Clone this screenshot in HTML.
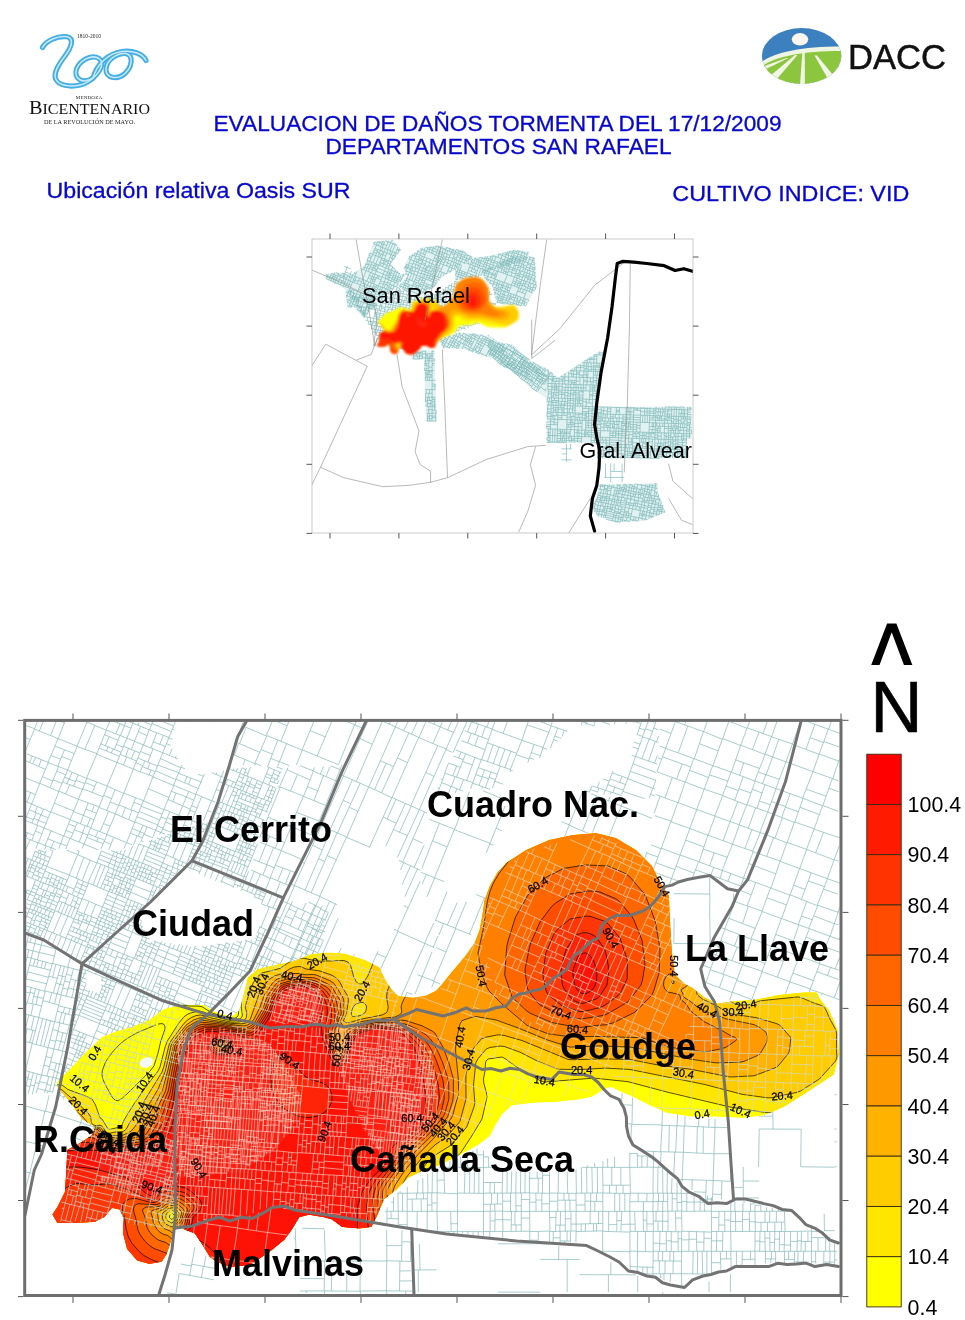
<!DOCTYPE html>
<html lang="es"><head><meta charset="utf-8"><title>Evaluacion de daños tormenta del 17/12/2009</title>
<style>
html,body{margin:0;padding:0;background:#fff;}
body{width:965px;height:1320px;overflow:hidden;font-family:"Liberation Sans",sans-serif;}
svg{display:block;position:absolute;left:0;top:0;}
text{font-family:"Liberation Sans",sans-serif;}
.b{font-weight:bold;}
.sf{font-family:"Liberation Serif",serif;}
</style></head><body>
<svg width="965" height="1320" viewBox="0 0 965 1320">
<g id="logo-bicentenario">
<g fill="none" stroke="#45aee2" stroke-linecap="round" stroke-linejoin="round" stroke-width="5.2">
<path d="M42.5 47.5C46 40.5 58 35.5 67 36.8C75 38.5 71 48 65 56C59 64 53.5 72 55.5 78.5C58 85.5 70 87.5 80 85C86 83.5 90 81 93 78"/>
<path d="M93 78C100 72 105 63 99 58.5C92 54 80 60 76.5 69C73.5 78 82 85 93 78Z"/>
<path d="M93 78C97 64 108 53.5 122 51.5C133 50 143 54 146 60.5"/>
<path d="M126 53.5C117 52.5 106.5 60 106 69C105.5 78 117 80.5 125 73.5C132 67 134 55.5 126 53.5Z"/>
</g>
<g fill="none" stroke="#c9eafa" stroke-linecap="round" stroke-linejoin="round" stroke-width="1.5">
<path d="M42.5 47.5C46 40.5 58 35.5 67 36.8C75 38.5 71 48 65 56C59 64 53.5 72 55.5 78.5C58 85.5 70 87.5 80 85C86 83.5 90 81 93 78"/>
<path d="M93 78C100 72 105 63 99 58.5C92 54 80 60 76.5 69C73.5 78 82 85 93 78Z"/>
<path d="M93 78C97 64 108 53.5 122 51.5C133 50 143 54 146 60.5"/>
<path d="M126 53.5C117 52.5 106.5 60 106 69C105.5 78 117 80.5 125 73.5C132 67 134 55.5 126 53.5Z"/>
</g>
<text x="89" y="37.5" class="sf" font-size="5.5" text-anchor="middle" fill="#222">1810-2010</text>
<text x="89" y="98.5" class="sf" font-size="5" text-anchor="middle" fill="#222" letter-spacing="0.2">MENDOZA</text>
<text x="29" y="113.5" class="sf" fill="#111" font-size="18.5" textLength="121" lengthAdjust="spacingAndGlyphs">B<tspan font-size="14.6">ICENTENARIO</tspan></text>
<text x="89.5" y="124" class="sf" font-size="5.6" text-anchor="middle" fill="#222" textLength="91" lengthAdjust="spacingAndGlyphs">DE LA REVOLUCIÓN DE MAYO.</text>
</g>
<g id="logo-dacc">
<clipPath id="cDacc"><ellipse cx="801.6" cy="56" rx="39.7" ry="28"/></clipPath>
<g clip-path="url(#cDacc)">
<rect x="760" y="26" width="84" height="60" fill="#3c80c0"/>
<path d="M760 63C775 52 800 46.5 844 46.5L844 90L760 90Z" fill="#eef5e2"/>
<path d="M760 67.5C775 56.5 800 51 844 51L844 90L760 90Z" fill="#8cc63f"/>
<ellipse cx="800" cy="39.3" rx="8.2" ry="6.2" fill="#fdf6f0"/>
<g fill="#f1f7e6"><path d="M802.3 53L804.8 53L804.8 88L799.8 88Z"/><path d="M795 55L797.5 55L776 80L770 76Z"/><path d="M814.5 55.5L817 55.5L833 75L828 79Z"/><path d="M786.5 58L788.5 58L767 68.5L764.5 66Z"/></g>
</g>
<text x="848" y="68.5" font-size="34.5" fill="#111" stroke="#111" stroke-width="0.5" textLength="98" lengthAdjust="spacingAndGlyphs">DACC</text>
</g>
<g fill="#0808cc" font-size="21.2" stroke="#0808cc" stroke-width="0.3">
<text x="213.5" y="130.5" textLength="568" lengthAdjust="spacingAndGlyphs">EVALUACION DE DAÑOS TORMENTA DEL 17/12/2009</text>
<text x="325.5" y="154.2" textLength="346" lengthAdjust="spacingAndGlyphs">DEPARTAMENTOS SAN RAFAEL</text>
<text x="46.5" y="197.5" textLength="304" lengthAdjust="spacingAndGlyphs">Ubicación relativa Oasis SUR</text>
<text x="672.3" y="201.2" textLength="237" lengthAdjust="spacingAndGlyphs">CULTIVO INDICE: VID</text>
</g>
<g id="smallmap">
<clipPath id="cSmall"><rect x="312" y="239" width="381" height="294"/></clipPath>
<filter id="fBlur" x="-5%" y="-5%" width="110%" height="110%"><feGaussianBlur stdDeviation="5"/></filter>
<g clip-path="url(#cSmall)">
<path d="M374.2 241.2L392.9 240.2L401.2 249.5L390.8 264L401.2 274.4L407.4 272.3L397 286.8L378.4 303.4L363.9 317.9L354.6 307.5L347.3 307.5L345.2 288.9L326.6 279.6L324.5 274.4L334.9 272.3L351.5 274.4L363.9 266.1Z" fill="#e2f1f1"/>
<path d="M409.5 255.7L421.9 247.4L438.5 245.4L463.4 250.5L473.7 257.8L455.1 270.2L442.6 276.5L434.4 286.8L417.8 297.2L397 286.8L407.4 276.5L403.3 268.2Z" fill="#e2f1f1"/>
<path d="M473.7 257.8L490.3 255.7L515.2 249.5L529.7 251.6L527.6 259.9L515.2 264L492.4 270.2L479.9 276.5L455.1 280.6L455.1 270.2Z" fill="#e2f1f1"/>
<path d="M482 270.2L515.2 255.7L534.9 256.8L536.9 286.8L525.5 306.5L496.5 303.4L492.4 286.8L484.1 278.5Z" fill="#e2f1f1"/>
<path d="M438.5 338.6L459.2 332.4L482 334.5L510 346.9L538 367.6L554.6 380.1L548.3 386.3L517.3 375.9L496.5 359.4L482 355.2L463.4 349L442.6 348Z" fill="#e2f1f1"/>
<path d="M411.6 351.1L434.4 350L436.8 421.5L426.1 421.5L424 359.4L411.6 359.4Z" fill="#e2f1f1"/>
<path d="M487.6 334.1L500 342.4L512.4 344.5L531.1 361.1L546.6 368.3L546.6 398.4L531.1 388L512.4 371.5L500 365.2L487.6 352.8Z" fill="#e2f1f1"/>
<path d="M546.6 368.3L558 377.7L599.5 350.7L603.6 352.8L597.4 406.7L691.7 406.7L691.7 437.8L686.5 439.8L686.5 458.5L597.4 458.5L597.4 443L546.6 443Z" fill="#e2f1f1"/>
<path d="M599.5 484.4L657.5 483.4L658.5 493.7L665.8 512.4L645.1 520.7L616.1 522.7L597.4 516.5L591.2 506.2L597.4 495.8Z" fill="#e2f1f1"/>
<path d="M328.3 274.3l-1.9 4.6M325.9 274.4l2 0.8M326.2 276.5l1 0.4M327.6 275.9l2.4 1M326.9 279.2l1.9 0.7M334.7 272.5l-0.8 1.9M336.1 272.6l2.4 1M331.4 273.4l6.2 2.4M331.4 273.4l-2.5 6.5M330.6 275.4l6.2 2.4M335.6 275.1l-0.8 1.9M333.7 274.3l-0.8 2M330 277l6.2 2.4M333 276.3l-0.6 1.6M334.3 276.8l-0.7 1.6M332 277.8l-1.2 2.9M334.3 278.7l-1.2 2.9M328.8 279.9l6.2 2.5M338.7 273l-1.1 2.9M342 273.2l5.8 2.3M343.9 274l-1.5 3.8M338.2 274.4l4.8 1.9M341.3 274.3l-0.5 1.1M340.4 275.2l-0.6 1.6M343 276.3l3.8 1.6M345.2 274.5l-1 2.3M344.2 276.8l-0.6 1.5M337.6 275.9l8.6 3.5M337.6 275.9l-2.6 6.5M340.5 277.1l-2.7 6.5M336.6 278.4l2.9 1.2M336 279.8l2.9 1.2M339.5 279.7l5.7 2.2M344.1 278.5l-1 2.6M341.9 280.6l-1.6 4M341.4 281.9l3.3 1.3M335 282.4l8.6 3.5M335 282.4l-0.4 1.1M353.7 273l2.2 0.9M355 272.1l-0.5 1.2M353 274.1l-0.5 1.2M350.6 274.6l4.3 1.7M348.1 274.6l-1.9 4.8M352.5 275.3l-2.3 5.7M347.6 276l4 1.6M350.4 274.5l-0.9 2.2M349.8 276.8l-1.4 3.4M351.6 277.5l2.4 1M346.2 279.4l6.4 2.6M346.2 279.4l-2.7 6.5M344.8 282.8l6.5 2.6M350.6 281.1l-1.4 3.5M348.4 280.2l-1.4 3.5M346.8 283.6l-1.3 3.1M349.1 284.5l-1.2 3.1M343.6 285.9l6.4 2.6M343.6 285.9l-0.5 1M346.1 292.1l2.1 0.8M346 295.4l1 0.4M374.3 242.1l-0.8 1.9M374.3 242.2l2.8 1.1M373.5 243.9l2.9 1.2M369.8 253.2l2.8 1.2M368.3 257l2.8 1.1M368.9 255.4l2.8 1.2M369.7 253.2l-0.9 2.2M368.5 257.1l-1.3 3.3M366.9 260.3l2.9 1.1M365.5 263.8l2.9 1.1M368.1 260.7l-1.4 3.5M366 264l-2.3 5.7M363.2 267.1l1.3 0.5M364.7 267.3l2.3 0.9M361.3 268.7l4.8 1.9M356.9 271.4l-2 4.9M354.9 276.3l7.6 3.1M354.9 276.3l-2.2 5.7M359.5 278.1l-2.3 5.7M356.5 276.9l-2.3 5.7M353.5 279.8l1.6 0.6M355.2 280.2l3 1.2M358.6 280.4l3 1.2M352.6 282l7.7 3M352.6 281.9l-2.5 6.6M350 288.5l7.6 3M350 288.5l-3 7.3M352.3 289.4l-3 7.3M348.3 292.7l2.3 1M349.4 290.1l2.3 0.9M351.3 291.9l5.3 2.2M354 290.1l-1 2.5M354.4 293.2l-1.9 4.8M350.2 294.5l3.2 1.3M353.1 296.4l2.2 0.9M347 295.8l7.6 3.1M347.1 295.8l-0.8 1.9M346.7 299.4l6.7 2.7M350.6 297.2l-1.3 3.2M351.9 297.8l-1.3 3.1M351 301.1l-2.2 5.4M346.9 302.2l3.1 1.2M348.3 300l-0.9 2.3M349.5 304.9l2.3 0.9M350.4 302.5l2.4 1M347.4 305.9l3.8 1.5M385.2 240.6l3 1.3M378 241.2l-1.6 3.9M383 240.9l-2.4 5.9M377.8 241.5l4.3 1.7M380.8 241.4l-0.4 1.1M379.7 242.3l-1.4 3.6M384.7 241.6l-2.4 5.9M381.7 244.1l1.7 0.7M382.7 241.5l1.8 0.7M383.6 244.3l3.1 1.2M376.4 245.1l9 3.6M376.4 245.1l-3.7 9.3M375.1 248.4l9 3.6M381.1 247l-1.3 3.3M382.9 247.7l-1.3 3.3M378 249.5l-2.4 6.1M373.5 252.1l3 1.2M374.5 249.9l2.9 1.2M380.3 250.5l-2.4 6M377 252l2.3 0.9M379 253.6l3.8 1.6M382.8 251.5l-1.3 3.2M380.8 254.4l-1.1 2.8M372.6 254.4l9 3.6M372.6 254.4l-2.8 7M375.6 255.6l-2.8 7.1M378.6 256.8l-2.8 7M369.8 261.4l9 3.7M369.8 261.4l-3.7 9.2M367.2 267.7l9 3.7M375 263.5l-2.6 6.3M372 262.3l-2.5 6.4M368.6 264.5l2.2 0.8M370.2 266.7l3 1.2M371.1 264.5l3 1.2M373.2 267.9l3.8 1.5M376.4 264.1l-1.7 4.3M374.2 265.5l1.4 0.6M375.8 265.6l2.4 0.9M375.9 268.9l-0.8 2M372.5 269.9l-1.1 2.9M369.3 268.6l-1.2 2.9M366.1 270.6l9 3.7M366.1 270.6l-3.5 8.8M370.5 272.4l-3.6 8.7M368.4 277.8l4.5 1.8M369.3 275.5l4.5 1.8M373.3 273.5l-1.3 3.1M372.1 276.7l-0.9 2.2M371.5 279l-1.4 3.4M362.5 279.3l9 3.8M362.5 279.4l-2.2 5.6M366.3 280.9l-2.4 5.6M361.2 282.6l3.7 1.5M364.8 284.3l5.3 2.2M368.8 281.9l-1.4 3.5M367.3 285.3l-0.9 2.2M360.3 285l8.9 3.7M360.2 285l-2.5 6.6M359.4 287.2l9 3.6M358.5 289.4l9 3.7M357.6 291.6l9 3.5M357.6 291.5l-2.9 7.4M360.8 292.8l-3 7.4M356.7 293.9l3.1 1.2M355.7 296.4l3.1 1.3M364.4 294.3l-3 7.3M359.3 296.6l3.6 1.4M360.1 294.6l3.6 1.4M362.5 298.8l2.3 0.9M363.2 297.1l2.3 1M354.7 298.9l8.9 3.7M354.7 298.9l-3.6 8.6M352.6 303.9l9 3.6M356.9 299.8l-2 5M359.1 300.7l-2 5M361.4 301.6l-2 5.1M358.8 306.4l-1.5 3.6M355 304.9l-1 2.3M356.7 305.6l-0.9 2.4M357.2 309.9l3 1.1M388.6 240.9l-0.4 0.9M392.2 240.5l1 0.5M391.8 240.3l-1.1 2.6M393.9 242.7l-0.5 1.2M388.2 241.8l7 2.9M388.2 241.8l-2.8 6.9M390.5 242.8l-2.7 6.9M392.9 243.7l-2.9 6.9M385.4 248.7l7 2.9M385.4 248.7l-3.7 9.3M388.1 249.8l-3.7 9.3M383 254.6l2.7 1.2M384.1 251.9l2.7 1.1M386.8 253.1l4.3 1.8M390.7 250.9l-1.3 3.3M381.6 258l7.1 2.8M381.6 258l-2.8 7.1M379.9 262.3l7 2.9M384.8 259.3l-1.7 4.3M381 259.6l3.2 1.3M384.2 260.7l3.9 1.6M386.9 260.1l-0.5 1.5M385.7 261.3l-1.2 2.9M383.7 263.9l-1.1 2.7M381.4 262.9l-1.1 2.8M378.8 265l7 3M378.8 265.1l-3.7 9.2M377.6 268.1l6.9 3M376.3 271.2l7 2.9M375.1 274.3l7 2.8M375 274.3l-3.4 8.7M374 277l7 2.8M379.2 275.9l-1.1 2.7M377.8 275.4l-1.1 2.7M376.2 277.9l-2.5 6M372.4 280.9l2.2 0.9M373.1 279l2.3 0.9M371.5 283l7.1 2.8M371.6 283l-2.4 5.6M374.2 284.1l-2.2 5.7M370.2 286.2l2.7 1.1M373.5 286l4.3 1.7M372.7 287.9l4.3 1.7M376.6 285l-0.8 1.9M375.4 286.8l-0.8 1.8M375.7 289.1l-0.7 1.9M369.2 288.7l7.1 2.8M369.3 288.7l-2.7 6.5M372.8 290.1l-2.6 6.6M367.7 292.5l3.6 1.4M368.4 290.7l3.6 1.4M371.3 293.9l3.5 1.4M372.2 291.7l3.4 1.4M366.6 295.2l7 2.8M366.6 295.2l-3 7.3M365.7 297.4l7 2.9M369.2 296.2l-0.9 2.3M372.3 297.5l-0.9 2.2M364.6 300.1l7.1 2.9M369.9 299.2l-1 2.6M367.9 298.4l-1.1 2.6M367.6 301.3l-1 2.4M370.2 302.4l-1 2.4M363.6 302.5l7.1 2.9M363.7 302.5l-3.6 8.6M367.6 304.1l-3.5 8.6M365.5 309.4l3 1.3M366.7 306.4l3.1 1.3M360.2 311.1l7 2.8M360.2 311.1l-0.4 1M363.1 312.3l-1.2 3.1M362.4 314.2l3 1.2M365 313.1l-0.8 1.8M365.2 315.3l-0.9 2.2M395.6 243.7l-0.4 1M395.2 244.7l2 0.8M395.2 244.7l-2.8 6.9M398 247l-2.4 5.9M399.6 248.7l-2 5M397 249.4l2 0.8M398.8 250.6l1 0.4M399.3 249.4l1.5 0.6M392.4 251.6l5.1 2.1M392.4 251.6l-3.8 9.2M389.9 257.7l4.1 1.7M391.2 254.6l4.8 1.8M396.2 253.1l-1.2 3M394.7 252.5l-1.2 3M395 256.1l-1.3 3.2M392.9 255.3l-1.2 3.1M392.8 258.9l-1.3 3.1M388.7 260.8l3 1.3M388.7 260.8l-2.9 7.1M392.6 267.1l-1.2 3M391.1 261.8l-2.9 7.1M387.7 263.2l2.4 1M386.8 265.6l2.4 0.9M389.7 265.3l3.1 1.3M392.3 267.6l2.5 1M385.8 267.9l9.2 3.7M385.8 267.9l-3.7 9.2M390.9 270l-3.7 9.2M388.8 269.1l-3.6 9.2M383.2 274.3l3.1 1.2M384.5 271.2l3 1.2M387.1 273.4l2.1 0.9M387.8 271.8l2 0.8M386.3 275.3l2.1 0.8M392.3 270.5l-3.7 9.2M389 274.7l1.4 0.6M389.6 273.3l1.4 0.6M388 277.2l1.4 0.6M391.4 272.8l2.6 1.1M390.5 275.1l2.6 1.1M389.5 277.4l2.7 1.1M382.1 277.1l9.1 3.7M382.1 277.1l-3.6 8.7M385.7 278.6l-3.5 8.7M380.6 280.8l3.6 1.4M379.7 283l3.6 1.4M383.6 283.7l5.6 2.3M388.7 279.8l-2.1 5.1M384.4 281.9l2.9 1.2M387.6 282.5l2.6 1M385.4 284.4l-1.4 3.6M387.7 285.4l-1.5 3.5M378.6 285.9l9.2 3.6M378.6 285.8l-2.3 5.7M382.7 287.5l-2.3 5.7M377.4 288.7l4.1 1.7M380.9 286.8l-1.1 2.9M380 289.7l-1.2 2.8M385.8 288.8l-2.2 5.7M381.6 290.2l3.2 1.2M384.6 291.8l1.9 0.8M376.3 291.5l9.1 3.7M376.3 291.5l-2.7 6.5M380.6 293.3l-2.6 6.5M375.4 293.7l4.3 1.7M374.5 295.9l4.4 1.7M379.6 295.9l4.8 1.9M382.7 294.1l-1.1 2.6M382.5 297.1l-1.6 3.9M379 297.2l2.9 1.2M373.7 298l7.1 2.9M373.7 298l-3 7.4M370.7 305.3l4 1.7M370.7 305.4l-3.5 8.5M373.6 306.6l-0.8 1.9M368.3 311.3l1 0.4M369.5 308.3l2 0.8M367.2 313.9l-0.4 1.1M395.8 269.6l-0.9 2M397.6 271.4l-0.4 1.1M395 271.6l5.1 2.1M402.2 274.5l1.1 0.4M395 271.6l-3.8 9.2M393.5 275.2l8.3 3.4M399.5 273.4l-1.4 3.7M397.1 272.5l-1.5 3.6M400.9 275.4l-1 2.4M398 277.1l-2.2 5.5M392 279l4.5 1.8M395.8 276.1l-1.6 3.8M392.7 277.1l2.3 1M395 278.1l2.2 0.9M394 279.9l-0.7 1.7M397.3 278.9l3.7 1.5M396.5 280.8l2.8 1.1M399.3 279.7l-0.7 1.9M391.2 280.8l7.3 2.9M391.3 280.8l-3.6 8.7M389.9 284.3l6.2 2.4M394.8 282.3l-1.4 3.4M397.9 283.5l-1.4 3.4M394.2 286l-1.7 4.2M388.6 287.4l4.3 1.8M391.7 285l-1.3 3.2M390.5 288.2l-0.8 2.1M387.7 289.5l4.2 1.7M387.7 289.5l-2.2 5.7M390 290.5l-1.5 3.8M387 291.4l2.3 0.9M386.4 292.9l2.3 0.9M385.4 295.2l1.1 0.4M385.5 295.2l-1.2 2.8M403.7 273.9l-0.4 1M406.4 272.7l-0.9 2M403.3 274.9l0.9 0.4M403.2 274.9l-2.8 7.2M414.8 253.1l2.1 0.9M410 255.8l-1.2 3M411.7 254.8l4.1 1.7M415 253.2l-1 2.5M412.6 255.2l-1.8 4.4M409.6 256.8l2 0.8M408.9 258.9l5.1 2.1M410.5 259.5l-2.3 5.6M409.2 262.7l3.5 1.5M405.6 264.1l6.2 2.5M404.8 266l6.2 2.6M407.1 264.7l-0.8 1.9M408.8 265.4l-0.8 1.9M404.3 267.2l6.2 2.5M407.5 267.1l-0.5 1.2M405.7 266.4l-0.5 1.2M405.1 267.6l-0.5 1.3M407.2 268.4l-1.1 2.6M405.3 270.7l4.2 1.6M406.3 271.1l-0.5 1M406.3 274.1l2.1 0.8M405.9 278.2l1 0.4M403.9 280l2.1 0.9M402.7 282.2l2.4 1M401.2 283.7l3.1 1.3M399.2 285.8l4.1 1.6M401 283.6l-1 2.5M400.9 286.4l-0.5 1.1M425.7 247.1l2.1 0.9M422.5 248.3l-0.4 1.1M424.9 248l-0.9 2.2M420.2 248.7l6.3 2.5M418.4 250.2l-1.5 3.8M421.9 249.4l-2.3 5.7M417.9 251.4l2.7 1.1M420.5 252.9l4.6 1.9M424.7 250.5l-1.5 3.5M416.9 253.9l7.3 3.1M416.9 254l-2.9 7M415.1 258.4l7.3 2.9M420.4 255.4l-1.8 4.4M416.1 255.9l3.5 1.4M419.1 258.4l3.9 1.6M422.3 256.2l-1.2 3M421.3 259.3l-0.6 1.3M419 260l-1 2.5M417.3 259.3l-1 2.6M414 261l7.4 2.9M414 261l-2.2 5.6M413.1 263.4l7.3 2.9M416.7 262l-1 2.4M419.4 263.1l-0.9 2.4M416 264.6l-1.2 3.2M418.7 265.6l-1.3 3.2M411.8 266.6l7.4 2.8M411.8 266.6l-2.3 5.8M416 268.2l-2.4 5.9M410.4 269.9l4.2 1.7M413.2 267.1l-1.4 3.4M412 270.6l-1 2.4M414.9 270.9l3.2 1.3M409.4 272.4l7.4 3M409.4 272.4l-2.5 6.2M411.9 273.4l-2.5 6.2M414.3 274.4l-2.5 6.1M406.9 278.6l7.4 3M406.9 278.6l-2.6 6.4M405.1 283.1l7.4 2.9M409.5 279.6l-1.9 4.5M406.2 280.5l2.5 1M409.2 284.7l-0.8 1.9M406.5 283.6l-0.8 1.9M404.3 285l7.4 3M404.3 285l-1.5 3.7M408.3 286.6l-2 4.7M406.2 285.8l-1.8 4.7M402.5 289.4l1.9 0.8M403.3 287.4l1.9 0.8M405.3 287.9l2.1 0.9M404.5 290.1l2 0.9M407.4 288.8l3.4 1.4M406.5 291l3.4 1.4M435.7 245.8l3.1 1.3M428.1 247.3l-1.6 3.9M434.1 246.3l-2.9 6.8M430.7 247.2l-2 4.9M428.1 247.3l2.1 0.9M429.7 246.5l1 0.5M427.5 248.8l2.1 0.9M430.7 247.1l2.6 1.1M429.8 249.4l2.6 1M432.4 250.4l4.3 1.8M433.3 248.3l4.3 1.7M436.3 246l-1.2 3M433.7 251l-1.1 2.7M426.5 251.2l9.1 3.7M426.5 251.2l-2.2 5.7M424.2 256.9l9.1 3.7M424.2 256.9l-2.8 7M423 260l9 3.7M427.1 258.1l-1.3 3.1M430.6 259.5l-1.2 3.1M426.5 261.4l-1.6 3.9M422 262.5l3.5 1.4M429.7 262.8l-1.5 3.9M428.6 265.5l2.3 0.9M421.4 263.9l9 3.7M421.4 263.9l-2.3 5.6M424.6 265.2l-2.3 5.6M420.2 267l3.1 1.3M426.5 266l-2.2 5.6M423.4 268.2l1.9 0.8M428 266.6l-2.4 5.6M425.8 267.9l1.4 0.5M425 269.7l1.4 0.6M426.5 270.1l2.5 1M419.1 269.5l9.1 3.6M419.1 269.5l-2.3 5.9M422.2 270.8l-2.3 5.8M417.9 272.5l3.1 1.2M421.3 273.1l5.9 2.4M425.5 272.1l-1 2.3M425.1 274.7l-1.4 3.4M423.6 274.1l-1.4 3.4M416.8 275.3l9 3.8M416.8 275.4l-2.5 6.1M423.1 277.9l-2.6 6.2M420.7 276.9l-2.5 6.2M416 277.4l3.9 1.6M415.1 279.5l3.9 1.6M419.7 279.5l2.4 0.9M422.2 280l2.8 1.1M421.4 282l2.8 1.1M414.3 281.5l9 3.8M414.3 281.5l-2.6 6.5M413.4 283.8l9.1 3.5M419.6 283.7l-0.9 2.2M416.4 282.4l-0.9 2.3M421.2 284.3l-0.9 2.3M418.9 286l-1.7 4.2M416.8 285.2l-1.7 4.1M412.7 285.5l3.4 1.4M416 287l2.1 0.9M417.9 288.6l3.5 1.4M411.7 287.9l9 3.8M411.7 288l-1.9 4.7M410.5 290.9l9 3.7M439.2 246l-0.4 1M442.6 246.3l-0.8 1.9M445.9 247l1 0.4M445 248l-0.5 1.3M438.8 247l7 2.9M438.8 247l-3.2 7.9M437.4 250.5l7 2.8M441.1 247.9l-1.4 3.5M443.5 248.9l-1.4 3.5M439.7 251.4l-1.8 4.4M436.5 252.7l2.3 0.9M442.7 252.6l-1.8 4.5M439 253.3l3 1.2M441.9 254.6l1.7 0.7M435.6 254.9l7.1 2.8M435.6 254.9l-2.3 5.7M437.8 255.8l-2.3 5.7M434.4 257.9l2.2 0.9M436.3 259.6l4.8 1.9M441 257.1l-1.5 3.7M437.1 257.7l3.1 1.2M440 259.6l1.6 0.7M439.1 260.7l-0.8 1.9M433.3 260.6l7.1 2.8M433.3 260.6l-2.9 7M436.8 262l-2.9 7M432 263.9l3.4 1.4M431.2 265.8l3.5 1.4M435.8 264.3l3.6 1.5M434.9 266.7l3.6 1.4M430.5 267.6l7 2.8M430.5 267.6l-2.3 5.6M432.6 268.5l-2.2 5.6M429.1 270.9l2.2 0.9M434.5 269.2l-2.2 5.6M431.8 270.4l1.9 0.8M433 273.2l2.9 1.2M433.8 271l3 1.2M428.2 273.2l7 2.9M428.2 273.2l-2.4 5.8M426.6 277.1l7.1 2.8M430.9 274.3l-1.6 3.9M427.4 275.2l2.7 1.1M433.4 275.3l-1.6 3.9M430.2 275.9l2.5 1M432.8 276.8l1.9 0.8M429.4 278.2l-0.8 1.9M431.3 279l-0.8 1.9M425.8 279l7.1 2.9M425.8 279l-2.5 6.2M424.3 282.9l7.1 2.8M428.6 284.7l-1 2.2M426.8 284l-0.9 2.2M423.3 285.2l7.1 2.8M423.3 285.2l-2.6 6.4M427.2 286.8l-2.2 5.3M425.7 286.1l-2.6 6.5M422.1 288.3l2.3 0.9M424.3 289.4l1.6 0.7M425.5 290.9l1.1 0.5M426.7 288.1l3.2 1.3M420.8 291.6l3 1.3M420.7 291.6l-1.9 4.7M423.1 292.6l-0.4 0.9M419.8 294l1.2 0.4M446.6 247.9l-0.8 1.9M450.2 248.2l-1.2 2.9M446.8 247.6l3.1 1.2M449.9 248.8l5.8 2.4M453.2 248.8l-0.5 1.2M453.8 250.4l-1 2.3M452.3 249.8l-0.9 2.3M445.8 249.9l9 3.6M445.8 249.8l-3.1 8M451.3 252.1l-3.2 7.9M444.5 253.1l5.5 2.2M447.8 250.6l-1.3 3.3M447.3 254.2l-1.8 4.7M443.3 256.3l2.8 1.1M446.3 256.7l2.7 1.1M449.3 257.1l3.5 1.4M450.7 253.6l3.5 1.4M442.6 257.8l9 3.5M442.6 257.7l-2.2 5.8M445.7 259l-2.3 5.7M441.1 261.5l3.1 1.2M442.1 259.1l3 1.2M448.7 260.2l-2.3 5.7M444.7 261.4l3.1 1.2M447.6 263.1l2.9 1.2M440.3 263.5l9.1 3.5M440.4 263.4l-2.9 7M443.3 264.6l-2.8 7M438.5 268l3 1.3M437.5 270.5l9 3.4M437.5 270.4l-2.2 5.6M439.8 271.3l-2.3 5.7M442 272.3l-2.2 5.6M444.3 273.2l-1.2 2.8M435.3 276.1l5 1.9M435.3 276l-2.4 5.9M434.5 278l5 2M433.7 279.9l4 1.6M432.9 281.8l4 1.7M432.9 281.9l-2.4 6.2M432 284.1l3.3 1.3M435.7 283l-0.9 2.2M431.2 286l2.2 0.9M434.5 285l-0.8 2M433.1 286.8l-0.4 1M430.4 288.1l1 0.4M430.4 288.1l-0.4 1M456.4 249.6l-1.6 3.9M456.4 249.5l6.1 2.6M461.5 250.5l-0.4 0.9M455.4 252.1l6.1 2.5M460.4 251.2l-1.1 2.6M458.8 250.5l-1 2.6M454.8 253.5l6.2 2.5M454.8 253.5l-3.2 7.9M452.9 258.3l6.1 2.5M457.8 254.7l-1.9 4.8M453.5 256.8l3 1.2M457.1 256.6l3.1 1.3M455 259.2l-1.3 3M456.9 259.9l-1.3 3.1M451.6 261.4l6.2 2.5M451.6 261.4l-2.2 5.7M453.9 262.3l-2.2 5.7M450.2 265l2.3 0.9M453 264.8l3.8 1.5M456.1 263.2l-1 2.4M455.3 265.7l-1.3 3.2M449.3 267.1l6.2 2.5M449.3 267.1l-2.8 7M447.9 270.7l3 1.2M452 268.2l-1.4 3.6M449.9 271.5l-0.5 1.1M462.9 251.1l-1.9 4.9M465.8 253.3l-1.6 3.9M462.6 251.8l3.3 1.3M461.7 254.3l3.2 1.3M467.7 254.7l-1.3 3.4M465.3 254.6l2.1 0.8M467.6 255.1l3.9 1.5M470.1 256l-1.3 3.1M461 256l9.2 3.7M461 256l-3.2 7.9M466.4 258.1l-2.4 6M459 260.8l5.4 2.2M460.1 258.1l5.4 2.1M463.2 256.9l-0.8 2.1M462.5 259l-1.1 2.8M461 261.6l-1.2 3.1M464.5 262.8l0.9 0.4M465.7 259.9l2.9 1.1M468.5 259l-0.6 1.7M466.9 260.4l-0.8 1.9M457.8 263.9l4.1 1.6M457.8 263.9l-2.3 5.6M456.5 267.1l1.9 0.8M459.6 264.6l-1.3 3.3M471.4 256.8l-1.2 2.9M470.9 258l1 0.4M458.2 268.4l-0.4 1M459.5 268l1.2 0.4M457 269.2l3 1M455.4 271.1l3.8 1.4M457.9 269.5l-0.8 2.3M456.7 271.6l-1.5 4M456 273.4l2.5 0.9M455.7 275.8l2 0.7M455.6 279.3l1 0.4M470.7 260.3l1.1 0.4M468.7 261.7l-0.7 1.9M466.2 263l4.2 1.5M461.5 266l-1.5 4.2M460 270.2l7.3 2.8M460 270.2l-2.3 6.3M458.6 274.1l7.3 2.8M459.3 272.2l7.4 2.6M462.4 271.1l-0.7 2M464.9 272l-0.7 2M464.3 274l-0.7 1.9M461.7 273.1l-0.7 1.9M462.6 275.6l-0.9 2.4M460.5 274.8l-0.8 2.4M457.7 276.5l6.3 2.3M457.7 276.5l-1.1 3M460.4 277.5l-0.7 2M456.7 279.3l1.4 0.5M462.4 278.2l-0.4 1.2M480.1 257.4l2.1 0.7M476.3 257.6l-0.5 1.3M479.6 257.2l-1 2.8M473.9 258.2l7.2 2.7M472.5 258.8l-2.2 5.7M477.2 259.5l-2.4 6.6M471.3 262l4.4 1.6M475.2 258.7l-1.5 4.2M472.2 259.7l2.3 0.8M472.8 262.6l-0.9 2.4M479.3 260.2l-2.4 6.7M475.7 263.6l2.1 0.8M476.7 260.9l2.1 0.8M478.6 262.3l1.8 0.6M477.7 264.8l1.8 0.7M470.4 264.5l8.3 3M470.4 264.5l-3.1 8.4M468.3 270.4l8.3 3M473.3 265.5l-2.1 5.9M469.4 267.2l2.9 1M472.1 268.7l5.5 2M475.1 266.2l-1.2 3.2M475.8 270.1l-1 2.6M467.4 272.9l8.3 3.1M467.4 272.9l-2 5.2M471 274.2l-1.1 3.2M466.4 275.5l3.7 1.3M470.2 276.6l2.3 0.8M472.5 274.8l-0.9 2.3M492.4 255.4l1 0.4M482.3 257.7l-1.2 3.2M487.6 256.1l-2.3 6.3M485.3 256.4l-1.9 5.3M482.1 258.2l2.3 0.8M484.6 258.4l1.9 0.7M486.8 258.1l5.1 1.9M490.8 256l-1.1 3.2M489.8 256l0.9 0.3M490.7 256.5l2.1 0.7M488.8 258.8l-1.6 4.3M486.2 260l1.9 0.7M488.2 260.4l3.1 1.1M481.1 260.9l9.2 3.4M481.1 260.9l-2.3 6.6M484.9 262.2l-2.4 6.7M480.3 263.2l3.7 1.4M479.5 265.4l3.7 1.3M487.2 263.1l-2.3 6.6M483.4 266.3l2.4 0.8M484.3 263.9l2.3 0.9M486.4 265.3l3.1 1.1M485.6 267.5l3.1 1.1M478.7 267.5l9.2 3.3M478.7 267.5l-3.1 8.4M481 268.3l-3 8.5M483.3 269.2l-2.2 6.3M485.6 270l-1.5 4.2M475.6 276l2.1 0.7M475.6 275.9l-0.3 1.1M498.3 254l3.8 1.4M500.1 253.5l-0.4 1.1M499 254.3l-1.1 3.1M493.4 255.8l7.6 2.8M493.4 255.8l-3.2 8.4M491.9 259.9l7.6 2.7M496 256.7l-1.5 4.2M494.5 260.9l-1.5 4.3M491.1 262l2.7 1M497.9 262.1l-1.6 4.3M494 262.4l3.3 1.3M496.9 264.8l1.6 0.6M490.3 264.2l7.6 2.8M490.3 264.2l-2.5 6.6M493.4 265.3l-1.8 4.8M489.4 266.7l3.1 1.1M488.7 268.6l3.1 1.1M492.6 267.4l3.4 1.2M496.1 266.3l-0.8 2.1M494.8 268.2l-0.4 1.1M487.9 270.8l0.9 0.4M487.9 270.8l-0.4 1.1M509.6 251.1l3.2 1.1M502.9 253.3l-1.9 5.3M507.5 251.5l-3 8.3M502.8 253.6l3.5 1.3M504.5 252.5l2.4 0.8M502.1 255.4l3.5 1.3M506.4 254.6l4.9 1.8M509.5 251l-1.5 4.2M507 253.1l1.6 0.6M509 252.6l3.2 1.2M505.4 257.4l4.8 1.8M508.9 255.5l-1 2.8M507.9 258.3l-0.8 2.5M501 258.6l8.4 3M501 258.6l-3.1 8.4M506.7 260.6l-1.9 5.3M499.9 261.4l5.8 2.1M504.8 259.9l-1.1 2.9M503.2 259.4l-1 2.8M502.5 262.4l-2 5.5M499.1 263.6l2.6 0.9M501.6 264.9l3.2 1.2M505.7 263.5l2.6 1M497.9 267l2.1 0.8M497.9 267l-0.7 1.9M513.6 250.1l-0.8 2.1M517.5 250.4l-1.1 3.1M513.4 250.5l3.6 1.4M517.4 250.8l4.7 1.8M519.2 251.5l-1 2.7M512.8 252.2l8.4 3M512.8 252.2l-3.4 9.4M510.6 258.2l8.4 3.1M518 254.1l-2.2 6M511.3 256.2l5.3 1.9M514.6 252.9l-1.5 4M513.7 255.3l3.4 1.3M513 256.8l-0.7 2.1M517.3 256.1l3.1 1.1M516.8 257.6l3.1 1.1M515.4 260l-1.3 3.3M512.1 258.8l-1.2 3.4M509.4 261.6l5.2 1.9M509.3 261.6l-1.5 4.2M508.2 264.8l1 0.4M522.7 251.1l-1.5 4.2M528.1 251.9l-2 5.2M522.2 252.4l5 1.9M524.7 252.1l-0.4 1.1M524.9 253.4l-1.1 2.8M521.2 255.3l6.8 2.5M521.1 255.3l-2.6 7.3M519.1 261l1.9 0.7M524.3 256.4l-1.7 4.8M520.4 257.3l3.2 1.1M523.5 258.7l2.8 1.1M525.7 256.9l-0.8 2.3M488.6 267.9l2 0.7M483.5 270l5.8 2.2M487.3 268.7l-0.9 2.4M482.7 272.1l5.8 2M485.4 270.8l-0.7 2M483.6 270.1l-0.7 2.1M487.2 271.4l-0.7 2.1M484.9 272.9l-0.8 2.2M483.8 275l3.9 1.4M484 275.1l-0.3 1M484.5 277.5l2.5 0.9M499.8 263.2l1 0.4M491.3 266.7l-0.7 1.9M490.6 268.6l7.4 2.7M490.6 268.6l-2.9 7.9M489.2 272.3l7.5 2.7M494 269.8l-1.4 3.7M496.6 270.8l-1.4 3.7M488.7 273.6l7.5 2.7M494.1 274.1l-0.5 1.3M492.2 273.4l-0.4 1.3M492.1 274.9l-1 2.8M494.9 275.9l-1 2.8M487.7 276.5l7.5 2.6M487.7 276.5l-1.4 3.8M486.8 279l7.4 2.7M490.7 280.4l-1.1 3.1M488.4 279.6l-0.7 2.2M489.8 282.9l3.5 1.3M512.5 257.2l1 0.4M501.2 262.5l-0.4 1.1M505.6 259.9l6.2 2.2M509.3 258.6l-0.9 2.3M509.1 259l3.4 1.2M507.9 260.7l-1.8 4.8M504.3 260.5l-1.4 3.8M502.8 261.3l1.1 0.4M504 261.5l3.2 1.2M507 263.2l3.9 1.5M510.4 261.7l-0.9 2.4M509.5 264.2l-0.8 2.2M500.8 263.6l9.2 3.4M500.8 263.6l-2.8 7.7M503.6 264.6l-2.8 7.7M499.3 267.6l2.8 1.1M500 265.8l2.8 1.1M502.8 266.9l6.4 2.4M507.3 265.9l-0.8 2.4M507.1 268.5l-1.9 5.4M505.1 267.8l-1.9 5.4M501.9 269.3l2.4 0.9M503.9 271.2l2 0.8M505.9 271.8l2.1 0.7M498 271.3l9.3 3.2M498 271.3l-2.8 7.9M495.2 279.2l9.2 3.4M495.1 279.2l-2.7 7.7M500.3 281l-2.9 7.7M493.5 283.7l5.1 1.9M498.1 280.2l-1.6 4.6M494.2 281.8l2.9 1.1M497 283.3l2.1 0.8M496.7 284.9l-1.2 3.1M502.8 281.9l-2.8 7.7M499.1 284.1l2.6 0.9M498 287.1l2.6 1M501.6 285.2l1.6 0.5M501 286.9l1.6 0.6M493.4 287.2l8.2 3M497 288.5l-2.5 6.6M494.5 287.6l-1.1 2.8M494.1 292.4l1.2 0.5M493.8 289.5l2.5 0.9M495.2 293.2l4.7 1.7M496.3 290.2l4.7 1.7M498.6 289.1l-0.6 1.7M498.7 291.1l-1.1 3M498.4 294.4l-1 2.9M495.8 296.7l3 1.1M495.7 296.7l-0.3 1M496.2 298.6l2.1 0.7M513.8 256.6l-0.3 1M513.5 257.6l7.1 2.5M513.5 257.6l-3.4 9.3M512.3 260.8l7.1 2.5M515.8 258.4l-1.1 3.2M518.2 259.3l-1.2 3.2M517.1 262.5l-2.2 6.2M515.3 261.9l-2.2 6.1M511.6 262.7l3 1.1M514.1 265.2l1.8 0.7M516.2 265.1l2.2 0.8M510.1 266.9l7 2.6M510.1 266.9l-2.9 7.7M508.5 271.3l7 2.6M513.1 268l-1.6 4.4M509.4 268.9l2.9 1.1M512.4 269.9l4 1.5M514.4 268.5l-0.6 1.9M512.2 272.7l-1.2 3.3M507.3 274.6l7 2.6M507.3 274.6l-2.9 7.9M504.4 282.5l7.1 2.6M504.4 282.5l-2.9 7.7M503.3 285.5l7.1 2.6M507.4 283.6l-1.1 3M509.1 284.3l-1 2.9M506.4 286.6l-1.7 4.7M502.6 287.5l3.1 1.1M505.4 289.3l4 1.5M508 287.2l-1 2.7M507.8 290.2l-0.7 2M501.6 290.2l7.1 2.6M501.6 290.2l-2.7 7.6M500.4 293.4l7.1 2.6M505.4 291.6l-1.2 3.2M503.9 291l-1.2 3.3M499.6 295.8l7.1 2.5M504.5 294.9l-0.8 2.4M503.1 294.4l-0.8 2.4M503.5 297.2l-0.7 2M501.5 296.5l-0.7 2M498.8 297.8l7.1 2.5M498.8 297.8l-1.8 5.1M497.5 301.6l7 2.6M501.3 298.7l-1.4 3.8M498 300l2.5 0.9M503.1 299.3l-1.3 3.8M500.7 300.4l1.8 0.6M502.2 301.9l2.8 1M529 256.5l1 0.4M522 256.3l-1.4 3.9M524.4 257.1l-1.4 4M527.2 257.1l-1.8 4.8M520.6 260.1l7.2 2.8M520.5 260.2l-3.4 9.3M522.9 261l-3.3 9.4M518.6 265.5l2.4 0.9M519.6 262.6l2.5 0.9M518 267.2l2.4 0.9M521.7 264.4l4.9 1.8M524.5 261.6l-1.2 3.4M520.9 266.8l4.9 1.8M523.9 265.2l-0.9 2.4M523.8 267.9l-1.3 3.6M517.1 269.5l7.3 2.7M517.1 269.5l-2.7 7.7M515.3 274.7l7.3 2.6M519.7 270.5l-1.8 5.1M515.8 273.1l2.6 0.9M521.2 271l-1.9 5.1M518.9 272.7l1.4 0.6M520.1 274l3.3 1.2M519.7 276.3l-1 2.5M517.5 275.5l-1 2.5M514.3 277.2l7.3 2.7M514.4 277.2l-3 7.9M517.1 278.2l-2.8 7.9M513 280.9l2.8 1.1M512.3 282.8l2.8 1M516.4 280.2l4.5 1.7M515.7 282.2l4.5 1.6M515 284.2l4.5 1.6M519.3 281.3l-0.7 1.9M517.9 283l-0.7 2M517.5 285.1l-0.7 2M511.5 285.1l7.3 2.7M511.5 285.1l-2.8 7.7M508.7 292.8l7.3 2.7M508.7 292.8l-2.8 7.6M511.4 293.8l-2.7 7.6M508 294.7l2.8 1M507.3 296.6l2.8 1M506.6 298.5l2.8 1M509.6 298.7l4.6 1.7M510.4 296.5l4.6 1.7M513.9 294.7l-1 2.7M511.9 297.1l-0.8 2.2M505.9 300.3l7.3 2.8M505.9 300.4l-1.1 3M508.1 301.2l-1.2 3.2M505 302.7l2.3 0.8M510.9 302.2l-0.8 2.2M507.3 303.4l2.8 1M510.2 304.2l2.3 0.9M530 257l4.9 1.7M530 257l-2.2 5.8M533.5 258.2l-2.2 5.9M529.2 259.2l3.5 1.3M534.9 263.2l-0.7 1.9M532.8 260.2l1.9 0.7M532.1 261.9l2.9 1.1M527.9 262.8l6.8 2.5M527.9 262.8l-3.5 9.4M525.5 269.2l7.9 2.7M526.3 267l7.9 2.8M531.1 264l-1.6 4.2M527.4 264.1l3.2 1.2M530.3 266.2l4.6 1.7M533.1 267.2l-0.7 2M529.9 268.3l-0.8 2.1M530.4 270.9l-1.1 3M528 270l-1.1 3.1M524.5 272.2l7.8 2.8M524.4 272.2l-2.7 7.7M529.5 274l-2.8 7.7M523 276.2l5 1.8M523.6 274.6l5 1.8M526.9 273.1l-0.9 2.4M526.7 275.7l-0.6 1.6M525.4 277l-1.4 3.8M528.1 277.8l2.8 1M528.6 276.2l2.9 1M527.6 279.2l2.8 1M521.6 279.9l7.9 2.7M521.6 279.9l-2.7 7.9M524.1 280.8l-2.9 7.8M520.4 283.4l2.4 0.9M519.8 284.9l2.5 0.8M522.4 285.5l5.3 1.9M526.1 281.5l-1.7 4.7M523.1 283.3l2.1 0.7M525.4 283.5l3.3 1.3M525.6 286.7l-1.1 3.1M518.8 287.8l7.8 2.8M518.8 287.8l-2.8 7.6M517.6 291.1l7.8 2.8M523.6 289.5l-1.2 3.3M520.9 288.6l-1.2 3.3M516 295.4l7.8 2.9M516 295.4l-2.8 7.6M514.1 300.7l7.8 2.7M518.4 296.3l-1.9 5.2M515.2 297.5l2.5 0.9M521 297.3l-1.9 5.1M517.2 299.9l2.5 0.9M520.1 299.5l2.9 1.1M517.2 301.8l-0.9 2.3M518.9 302.4l-0.9 2.4M513.2 303l7.8 2.8M513.2 303l-0.7 2M517.4 304.5l-0.4 1.1M514.7 303.5l-0.4 1.1M535.3 266.7l-3.1 8.3M533.4 272l2 0.8M534.6 268.6l1 0.4M535.2 272.7l-1.1 3M532.3 275l3 1.1M532.3 275l-2.9 7.7M535.4 276.2l-2.8 7.7M531.3 277.6l3.2 1.1M530.6 279.5l3.2 1.1M536.2 281.9l-1 2.9M534.1 279.7l1.3 0.5M533.6 281.1l2.6 0.9M529.5 282.7l7 2.6M529.5 282.7l-2.9 7.9M534.2 284.5l-2.9 7.8M527.5 288.1l4.8 1.7M528.2 286.3l4.7 1.7M531.1 283.3l-1.3 3.6M530.9 287.3l-0.6 1.8M530.2 289.1l-0.9 2.5M533.2 287.1l2.4 0.9M532.2 290l2.3 0.9M526.6 290.6l6 2.2M526.6 290.6l-2.8 7.7M523.8 298.3l5.1 1.8M523.8 298.3l-2.8 7.5M522.8 301.1l4 1.4M528.7 300.1l-0.5 1.4M525.3 298.8l-1 2.8M525.1 301.9l-1.4 3.9M522.1 302.9l2.4 0.8M524 305.1l1.9 0.7M527.2 302.7l-0.8 2.1M536.5 285.3l-1.7 4.9M347.4 291l4.3 0.9M350.6 291.7l-0.7 3.2M350.7 296.2l2.2 0.5M353.6 293.2l-0.7 3.4M353.6 293l1.1 0.3M356 294.8l-0.5 2.4M352.9 296.6l6.4 1.5M352.9 296.6l-0.7 3M354.9 297.1l-1.1 4.8M352.3 299.4l2 0.4M357.5 297.6l-1.5 6.9M354 301l2.7 0.5M354.6 298.4l2.6 0.6M356.6 301.7l1.9 0.3M357 299.7l1.9 0.4M356.6 305.6l1.1 0.2M359.8 295.7l-0.5 2.3M359.8 296l2.2 0.4M359.3 298l8.8 1.8M359.3 298l-1.6 7.8M357.7 305.9l8.7 1.7M357.7 305.8l-0.3 1.1M360.7 312.9l4.4 0.9M359.9 306.3l-0.7 3M362 306.8l-1.3 6.1M364.2 307.2l-1.3 6.1M360.1 310.6l1.1 0.3M359.6 307.6l2.2 0.4M361.3 310.4l2.2 0.5M363.6 310.4l2.1 0.5M363.6 313.5l-0.6 2.7M363.4 316.3l1.1 0.3M368.1 299.9l4.1 0.8M368.1 299.9l-1.7 7.8M367.2 303.9l9.2 2.1M373 302l-0.6 3M370.8 300.5l-0.8 4M367.7 301.6l2.8 0.6M370.5 301.9l2.4 0.6M372.8 303.2l4 0.9M374.9 302.5l-0.3 1.1M375.4 303.8l-0.4 1.8M372.5 305l-0.8 3.8M369.9 304.5l-0.9 3.8M366.4 307.7l9.2 1.9M366.4 307.7l-1.9 8.8M364.6 316.5l9.1 1.9M364.6 316.5l-0.3 1.1M365.8 320.4l7.2 1.6M367.7 317.2l-0.7 3.5M368.9 321.1l-0.7 3.1M370.9 321.5l-0.7 3.1M368.2 324.2l4.1 0.9M386.4 296.7l1.1 0.2M382.1 300.4l4.4 0.9M381 301.4l-0.2 1.2M382.9 300.5l-0.5 2.4M380.5 302.5l5.5 1.2M376.8 303.8l-1.3 5.8M382.4 302.9l-1.6 7.9M380.7 302.5l-1.6 7.9M376.5 305.5l3.4 0.7M375.9 308.1l3.4 0.8M379.8 306.7l1.7 0.4M380.2 305l1.7 0.3M381.6 306.7l3.6 0.8M381.3 308.3l3.6 0.8M375.6 309.6l8.8 2M375.6 309.6l-1.9 8.8M380.5 310.7l-1.8 8.8M375 312.3l5 1.1M377.8 310.1l-0.5 2.7M374.2 316.2l4.9 1.1M376.9 312.7l-0.8 4M374.7 313.9l1.9 0.4M376.5 314.5l3.1 0.7M377.3 316.9l-0.5 2.2M379.6 315l3.8 0.9M380 313.2l3.8 0.8M379.2 317.1l3.8 0.8M373.7 318.4l8.8 1.9M373.7 318.4l-1.4 6.7M376.8 319.1l-1.3 6.6M372.8 322.6l3.2 0.7M373.1 321.2l3.1 0.7M376.1 322.5l5.7 1.2M379.2 319.6l-0.8 3.4M378 322.9l-0.7 3.2M372.3 325.1l8.8 1.9M372.3 325.1l-0.8 3.9M371.5 328.7l8.8 1.8M376.8 326l-0.8 3.6M374.4 325.5l-0.8 3.6M379.2 326.5l-0.8 3.6M374.6 329.3l-0.6 3.2M373.1 331.6l1 0.2M377.3 329.9l-1.1 5.3M373.9 332.7l2.7 0.6M376.9 331.8l3 0.6M375.9 335.1l3.3 0.7M392.8 291.7l3 0.7M387.7 295.9l-0.3 1M391.1 292.4l-1.1 5.1M389.3 294.4l1.3 0.3M390.7 294.1l4.5 0.9M393.4 291.8l-0.6 2.7M393.8 294.7l-0.7 3.4M387.5 296.9l7 1.5M387.5 296.9l-1.5 6.8M390.4 297.5l-1.4 6.8M386.6 301l3 0.6M387.2 298.5l2.9 0.6M392.4 298l-1.4 6.7M391.5 302.4l2.1 0.5M391.9 300.2l2.1 0.5M386 303.7l7.1 1.5M386 303.7l-1.6 7.8M385.4 306.7l7 1.5M388.4 304.2l-0.7 3M390.7 304.7l-0.6 3M388.6 307.4l-1.1 4.8M384.8 309.7l3.1 0.7M388.2 309l3.9 0.8M384.4 311.5l7 1.5M384.4 311.5l-1.9 8.8M383.6 315.1l7.1 1.4M386.5 312l-0.8 3.5M388.4 312.4l-0.8 3.5M386 315.5l-1.1 5.3M388.3 316l-1.1 5.3M382.5 320.3l7.1 1.5M382.5 320.3l-1.4 6.6M387.4 321.3l-1.5 6.7M381.6 324.5l4.9 1M382.2 321.8l4.8 1M384.3 320.7l-0.3 1.4M384.4 322.2l-0.6 2.8M383.7 325l-0.5 2.4M386.5 325.4l2.2 0.5M387 322.9l2.2 0.5M381.1 326.9l7.1 1.5M381.1 326.9l-1.9 8.9M379.8 333l7.1 1.5M383.4 327.4l-1.3 6.1M380.4 330.3l2.3 0.5M382.2 333.5l-0.6 2.8M384.5 334l-0.6 2.8M379.2 335.8l7.1 1.5M379.2 335.8l-0.7 3.2M379.3 340.4l6 1.4M382.4 336.5l-0.9 4.4M378.7 338.4l3.2 0.7M381.8 339.3l3.9 0.9M382.3 341l-0.4 2.1M380.2 340.6l-0.2 1M396.9 287.3l-1 5M396.8 287.7l3.1 0.7M396.3 290l7.3 1.6M400.5 289.7l-0.2 1.2M399.5 288.3l-0.5 2.3M399.3 290.7l-0.5 2.3M401 291l-0.4 2.3M395.8 292.3l7.3 1.5M395.8 292.3l-1.3 6.1M398.1 292.8l-1.3 6.1M395.3 294.6l2.3 0.5M397.5 295.7l4.9 1.1M400.7 293.4l-0.6 2.9M399.6 296.2l-0.7 3.1M394.5 298.4l7.3 1.5M394.5 298.4l-1.4 6.8M393.6 303l7.2 1.6M397.7 299.1l-1 4.6M393.8 301.6l3.2 0.7M399.2 299.4l-1 4.6M397.3 300.9l1.5 0.4M398.6 302.2l2.6 0.5M396.3 303.6l-0.5 2.2M399.3 304.2l-0.5 2.2M393.1 305.2l7.2 1.5M393.1 305.2l-1.7 7.8M396 305.8l-1.6 7.8M392.2 309.5l2.9 0.7M392.7 307l3 0.6M395.4 308.6l4.3 1M398.2 306.3l-0.6 2.8M394.9 311.2l4.3 0.9M397.2 309l-0.5 2.6M396.9 311.6l-0.5 2.5M391.4 313l7.3 1.6M391.4 313l-1.8 8.8M390.7 316.5l7.2 1.6M394.6 313.7l-0.8 3.5M397.2 314.2l-0.7 3.6M395.7 317.6l-1.2 5.3M390.3 318.2l5 1.1M394 317.3l-0.3 1.6M393.5 318.9l-0.8 3.6M395.2 319.6l2.3 0.5M389.6 321.8l7.2 1.5M389.6 321.8l-1.5 6.6M392 322.3l-1.5 6.6M394.4 322.8l-1.4 6.7M388.1 328.4l7.3 1.6M388.1 328.4l-1.8 8.9M387.6 331.1l7.2 1.6M392.9 329.5l-0.5 2.7M391.1 329.1l-0.6 2.7M392.5 332.2l-1.4 6.1M390.6 331.8l-1.3 6.1M387 333.8l3 0.7M390 334.4l1.9 0.4M391.9 334.5l2.4 0.5M386.3 337.3l7.2 1.6M386.3 337.3l-1.4 6.4M388.8 337.8l-1.4 6.4M385.4 341.2l2.6 0.5M387.8 342.6l4.7 1M388.2 340.5l4.7 1M391.3 338.4l-0.5 2.6M390.6 341l-0.5 2.1M389.6 343l-0.6 2.7M388.8 345.7l3.1 0.6M403.7 290.8l-0.7 3.1M408.7 292.7l-0.5 2.3M406.8 292.3l-0.5 2.3M403.1 293.9l8.7 1.9M403.1 293.9l-1.3 6M407.4 294.8l-1.3 6.1M402.6 296.2l4.3 1M405.5 296.8l-0.8 3.8M406.6 298.5l4.4 0.9M410.3 295.4l-0.7 3.7M408.6 298.9l-0.5 2.4M401.8 300l8.7 1.7M401.8 299.9l-1.4 6.8M400.9 304l8.7 1.8M407.6 301.2l-0.8 4M404 300.4l-0.8 4M401.4 301.9l2.2 0.5M403.7 302l3.6 0.8M407.3 302.9l2.8 0.6M406.3 305.1l-0.6 2.8M403.2 304.4l-0.5 2.8M400.3 306.7l8.7 1.8M400.3 306.7l-1.6 7.9M405.3 307.8l-1.6 7.8M399.5 310.5l5 1.1M403.7 307.4l-0.8 3.8M401.8 311l-0.9 4M399.1 312.4l2.3 0.5M401.2 313.7l2.7 0.6M404.7 310.9l3.7 0.8M404.2 313l3.7 0.8M398.7 314.5l8.7 1.9M398.6 314.5l-1.7 8.9M396.8 323.3l8.7 1.9M396.8 323.3l-1.4 6.7M395.4 330l8.7 1.8M395.4 330l-2 8.8M393.5 338.8l8.7 1.9M393.5 338.8l-1.6 7.5M397.1 339.6l-1.5 7.5M392.6 343.1l3.6 0.7M393.2 340.1l3.6 0.8M396.1 344.5l5.1 1.1M399.4 340.1l-1.1 4.9M396.8 341.3l2.2 0.5M399.1 341.7l2.8 0.6M398.8 345.1l-0.5 2.6M391.9 346.3l8.7 1.9M396.9 347.4l-0.2 1.2M411.9 294.7l-0.2 1M411.8 295.7l4.2 0.9M418.2 297.1l3.2 0.6M411.8 295.7l-1.3 6.1M415.1 296.4l-1.3 6.1M411 299.2l3.4 0.7M414.3 300.2l6.3 1.4M419 297.3l-0.8 3.8M416.4 296.7l-0.8 3.8M418.1 301l-0.5 2.3M410.5 301.8l9.6 2M410.5 301.8l-1.5 6.8M415.9 302.9l-1.4 6.8M409.5 306.4l5.4 1.2M413.4 302.4l-1 4.6M409.9 304.4l3 0.7M412.9 304.9l2.4 0.6M413.2 307.2l-0.4 2.2M418.7 303.5l-1.3 6.8M415 307.1l2.9 0.6M415.4 305.2l2.9 0.6M418.1 306.6l1.4 0.3M409 308.6l9.7 2M409 308.6l-1.6 7.8M411.4 309.1l-1.6 7.8M413.9 309.6l-1.7 7.8M416.3 310.1l-1.7 7.8M407.4 316.4l9.6 2.1M407.4 316.4l-2 8.8M411 317.2l-1.8 8.8M406.2 321.7l3.7 0.8M406.9 318.4l3.7 0.8M415 318l-1.8 8.8M409.9 322.2l4.1 0.9M410.6 319.1l4 0.9M413.7 317.7l-0.5 2M412.2 319.5l-0.6 3.1M411.5 322.5l-0.8 3.8M413.9 323.5l1.9 0.5M414.4 321.1l1.9 0.5M405.5 325.2l9.6 2.1M405.5 325.2l-1.4 6.6M405 327.6l9.6 2M410.9 326.3l-0.5 2.5M407.7 325.7l-0.5 2.4M413.7 326.9l-0.5 2.5M410.2 328.7l-0.9 4.2M407 328l-0.9 4.3M406.4 330.7l3.3 0.7M412.8 329.3l-0.9 4.2M409.6 331.6l2.6 0.5M412.4 331.3l1.8 0.4M404.1 331.8l9.6 2.1M404.1 331.8l-2 8.9M403.6 334l9.6 2.1M403.1 336.3l9.7 2M402.7 338.5l9.7 1.8M409 332.9l-0.5 2.2M405.8 332.2l-0.4 2.2M411.9 333.5l-0.5 2.2M408.1 335l-0.4 2.2M405.1 334.4l-0.4 2.2M411.6 335.7l-0.5 2.2M408.3 337.3l-0.5 2.3M405.8 336.8l-0.5 2.2M410.7 337.9l-0.5 2.2M406.9 339.4l-0.4 2.2M405.3 339l-0.4 2.3M410.4 340.1l-0.4 2.2M402.2 340.7l9.7 2M402.2 340.7l-1.6 7.5M405.4 341.4l-1.6 7.4M401.3 344.8l3.2 0.7M401.7 343l3.2 0.7M409.3 342.2l-1.4 6.4M404.4 346.1l3.9 0.8M404.9 343.9l3.8 0.9M408.4 346.5l2.5 0.6M408.7 345.2l2.5 0.5M400.6 348.2l6.4 1.3M400.6 348.2l-0.2 1M421.6 296.7l-0.2 1.1M425.3 294.9l5.3 1.1M428.3 294.4l-0.2 1.1M429.8 293.5l1.3 0.3M426.4 295.1l-0.7 3.6M424.9 294.8l-0.7 3.6M428.8 295.6l-0.8 3.6M421.4 297.8l8.5 1.8M421.4 297.8l-1.3 6M421 299.7l8.5 1.8M425.2 298.6l-0.4 1.9M427.5 299.1l-0.4 1.9M420.6 301.6l8.5 1.8M425 300.5l-0.4 2M423 300.1l-0.4 1.9M427.2 301l-0.4 1.9M423.2 302.2l-0.5 2.2M426.3 302.8l-0.5 2.3M420.1 303.8l8.5 1.9M420.1 303.8l-1.4 6.8M423.8 304.6l-1.4 6.8M419.2 308.2l3.7 0.8M419.7 306l3.7 0.8M423.3 306.9l4.8 1.1M426.6 305.2l-0.5 2.3M422.9 309.1l4.7 1M425.2 307.4l-0.4 2.1M424.8 309.5l-0.5 2.3M418.7 310.6l8.4 1.8M418.7 310.6l-1.7 7.9M423.7 311.7l-1.6 7.8M418.3 312.6l5 1M417.8 314.5l5.1 1.1M417.4 316.5l5.1 1.1M422.6 317l3.4 0.7M423.2 314.2l3.4 0.7M417 318.5l8.5 1.7M417 318.4l-1.8 8.8M422.8 319.7l-1.8 8.8M415.8 324.4l5.7 1.2M416.1 322.6l5.8 1.2M416.7 320l5.7 1.2M419.3 318.9l-0.4 1.6M418.5 320.4l-0.6 2.6M420 320.7l-0.6 2.6M419.9 323.4l-0.3 1.8M418.2 324.9l-0.7 2.9M421.5 325.5l2.7 0.6M422.1 322.8l2.7 0.6M415.1 327.3l8.5 1.7M415.1 327.2l-1.3 6.7M418 327.8l-1.4 6.7M414.4 330.7l2.9 0.6M421.3 328.5l-1.4 6.7M417.1 331.9l3.3 0.7M417.4 330.5l3.3 0.7M420.5 332.4l2.3 0.5M413.7 333.9l8.5 1.8M413.7 333.9l-1.8 8.8M412.6 339.1l8.5 1.8M418.7 334.9l-1.1 5.3M413.2 336.3l5 1M415.7 334.3l-0.5 2.4M415.1 336.7l-0.6 2.8M418.1 337.8l3.5 0.7M417.4 340.1l-0.8 3.7M415.4 339.7l-0.8 3.6M411.8 342.7l8.5 1.8M411.9 342.7l-1.2 5.4M414.6 343.3l-0.7 3.2M411.3 345.2l2.8 0.6M413.9 346.5l1.2 0.2M417.6 344l-0.5 2.1M435.8 291.3l4 0.8M431.2 293.5l-1.3 6.1M431.1 293.9l7.9 1.8M436.7 291.5l-0.8 3.5M432.9 293.1l-0.2 1.2M430.3 297.6l8 1.6M434.9 294.7l-0.8 3.7M436.2 295l-0.8 3.7M433.5 298.3l-0.5 1.9M435.2 298.6l-0.4 2M429.9 299.6l8 1.7M429.9 299.6l-1.3 6M429.4 301.6l8 1.7M429 303.6l8 1.7M428.6 305.6l8 1.8M428.6 305.6l-1.4 6.8M433.8 306.7l-1.5 6.8M427.8 309.5l5.2 1.1M431 306.2l-0.8 3.8M431.1 310.2l-0.6 2.9M433.3 308.8l2.8 0.6M432.9 310.8l2.8 0.6M427.1 312.4l8 1.7M427.1 312.4l-1.6 7.9M430.3 313.1l-1.8 7.8M426.3 316.5l3.1 0.6M426.7 314.7l3.1 0.6M429.2 318.2l4.8 1M429.9 315l4.8 1M432 313.5l-0.4 1.9M433.1 315.7l-0.7 3.2M431.1 318.6l-0.6 2.7M425.5 320.3l8 1.6M425.5 320.3l-1.9 8.7M423.6 329l8 1.7M423.6 329l-1.5 6.7M428.4 330.1l-1.4 6.6M422.6 333.5l4.8 1.1M425.6 329.5l-1 4.5M423.1 331.3l2 0.4M425.5 334.1l-0.5 2.2M427.5 334.2l3.2 0.7M427.9 332.5l3.2 0.7M422.2 335.7l8 1.7M422.2 335.7l-1.9 8.8M421.3 339.9l8 1.7M425.7 336.4l-0.9 4.3M421.8 337.4l3.6 0.7M428 336.9l-0.9 4.2M425.3 338.3l2.3 0.5M427.5 339.2l2.2 0.4M424.6 340.6l-0.5 2.3M420.7 342.9l3.2 0.7M424.2 342.5l1.1 0.3M426.5 341l-0.4 1.9M440.2 290.1l-0.4 2M443.7 288.7l-0.9 4.1M442.6 289.1l1 0.2M443.4 290l4.4 0.9M446.2 287.2l-0.7 3.3M445.1 287.4l1 0.2M446.2 287.4l2.2 0.5M445.2 290.4l-0.6 2.7M439.8 292.1l7.4 1.6M439.8 292.1l-2 9.2M443.9 293l-2 9.1M438.7 297.2l4.1 0.8M439.4 293.9l4.1 0.9M442.1 292.6l-0.4 1.8M440.7 294.2l-0.7 3.2M438.3 299.2l4.1 0.9M441.3 297.7l-0.5 2.1M440.2 299.6l-0.4 2.1M442.5 299.4l3.3 0.7M437.9 301.3l7.3 1.5M437.8 301.3l-1.2 6M442.6 302.3l-1.3 6M437.1 304.8l4.7 1M439.5 301.6l-0.8 3.6M439.8 305.4l-0.5 2.5M436.6 307.4l7.4 1.5M436.5 307.3l-1.3 6.8M435.1 314.1l7.4 1.6M435.1 314.1l-1.6 7.9M439.2 315l-1.6 7.8M434.6 316.7l4.1 0.9M437.8 314.7l-0.6 2.6M434.2 318.4l4.1 0.9M437.2 317.3l-0.3 1.7M436.4 318.9l-0.7 3.5M438.5 318.6l3.2 0.7M437.9 321.1l3.3 0.7M433.5 321.9l7.3 1.6M433.4 321.9l-1.8 8.8M431.6 330.7l7.4 1.6M431.6 330.7l-1.4 6.7M430.2 337.4l7.4 1.5M430.2 337.4l-0.8 3.9M434.9 338.4l-0.2 1.1M433.4 338.1l-0.5 2.3M449.2 284.5l-0.2 1.1M454.3 281.2l3.2 0.6M452.1 282.9l-0.7 3.2M455 281.3l-1.1 5.3M454.5 283.5l2.5 0.5M448.9 285.6l7.5 1.6M448.9 285.6l-1.7 8.1M448.2 288.9l7.5 1.6M451.7 286.2l-0.7 3.3M454.2 286.7l-0.7 3.3M453.3 290l-1 4.8M450.3 289.4l-1.1 4.7M447.6 291.9l2 0.5M449.9 291l3.1 0.6M452.9 292l2.3 0.5M447.2 293.7l7.4 1.6M447.2 293.7l-2 9.1M445.2 302.8l7.5 1.7M445.2 302.8l-1.3 6.1M444.8 304.7l7.5 1.6M448.6 303.5l-0.4 1.9M450.9 304l-0.4 1.9M447.3 305.2l-0.9 4.2M449.8 305.8l-0.9 4.2M443.9 308.9l7.5 1.6M443.9 308.9l-1.4 6.8M442.5 315.7l7.5 1.5M442.5 315.7l-1.7 7.8M445.9 316.4l-1.7 7.8M441.7 319.4l3.4 0.7M441.3 321.6l3.3 0.7M447.7 316.8l-1.7 7.8M445.1 320.1l1.8 0.4M444.7 322l1.8 0.4M440.8 323.5l7.5 1.6M440.9 323.5l-2 8.8M439 332.3l7.4 1.7M439 332.3l-1.4 6.6M443 333.2l-0.7 3.3M438.5 334.4l4.1 0.9M441 332.7l-0.4 2.1M438.1 336.2l4.1 0.9M440.4 334.8l-0.4 1.8M442.4 336.1l1.1 0.3M457.5 281.8l-1.1 5.4M457.3 282.8l8.7 1.9M463.1 282.7l-0.3 1.3M460.1 282.1l-0.3 1.3M460.1 283.4l-0.9 4.4M456.7 285.7l2.8 0.6M462.6 284l-0.9 4.3M459.5 286.4l2.5 0.5M462.2 285.8l3.4 0.7M456.4 287.2l8.6 1.8M456.4 287.2l-1.7 8.1M455.7 290.4l8.7 1.8M458.5 287.6l-0.6 3.2M460.7 288.1l-0.7 3.2M462.9 288.6l-0.7 3.2M459.4 291.2l-1.1 4.9M455.2 292.6l3.7 0.8M461.5 291.6l-1 4.9M458.9 293.4l2.2 0.5M461 294.4l2.8 0.6M454.6 295.3l8.7 1.9M454.6 295.3l-1.9 9.1M453.8 299.4l8.6 1.9M459.9 296.4l-0.8 4.1M458.2 296l-0.9 4.1M454.3 297l3.5 0.8M457.7 298.2l1.8 0.4M459.6 298.1l3.4 0.7M459 300.5l-1.1 5M456.3 299.9l-1 5.1M453.4 301.3l2.5 0.5M455.8 302.6l2.6 0.6M458.6 302l3.5 0.8M452.7 304.4l8.7 1.8M452.7 304.4l-1.3 6.1M457 305.3l-1.3 6.1M456.3 308.4l4.4 1M459.6 305.9l-0.7 3.1M458.1 308.8l-0.6 3M451.4 310.5l8.7 1.8M451.4 310.5l-1.5 6.8M450 317.3l8.7 1.8M450 317.3l-1.8 7.8M455.4 318.4l-1.7 7.9M449.4 319.9l5.4 1.2M453.3 318l-0.6 2.6M451.6 320.4l-1.1 5.2M448.9 322.2l2.2 0.5M450.9 323.9l3.2 0.7M454.6 322l3.3 0.7M454.3 323.5l3.3 0.6M448.3 325.1l8.7 1.9M448.3 325.1l-1.8 8.8M447.2 330.2l8.7 1.9M452.3 326l-1.1 5M450.6 325.6l-1.1 5.1M447.6 328.3l2.3 0.5M450.1 327.6l1.8 0.4M451.8 328.4l4.7 1M454.3 326.4l-0.5 2.4M453.3 328.7l-0.6 2.6M450.8 330.9l-0.5 2.5M452.9 331.4l-0.3 1.2M446.4 333.9l2.2 0.5M446.4 333.9l-0.2 1.1M466.2 283.6l-1.2 5.4M470.7 284.6l-1.2 5.4M470.5 285.2l3.1 0.7M470 287.8l3.1 0.6M465 289l7.6 1.6M465 289l-1.6 8.1M463.3 297.1l7.6 1.6M463.3 297.1l-2 9.1M462 303.5l7.5 1.5M466.8 297.9l-1.4 6.3M462.9 299.2l3.4 0.8M462.4 301.3l3.5 0.8M466.1 301.3l4 0.8M468.4 298.2l-0.7 3.4M467.7 301.6l-0.6 2.9M466.7 304.5l-0.6 2.8M465.2 304.1l-0.6 2.9M461.4 306.3l7.5 1.6M461.4 306.3l-1.3 6M464.7 307l-1.4 6M460.8 309.2l3.2 0.7M464.2 309l4.3 0.9M463.8 311l4.3 0.9M460.1 312.3l7.5 1.8M460.1 312.3l-1.5 6.8M464.2 313.2l-1.5 6.8M459.6 314.6l4.1 0.9M459.1 316.9l4.1 0.8M463.5 316.5l3.4 0.7M458.6 319.1l7.6 1.6M458.6 319.1l-1.6 7.9M458.1 321.7l7.6 1.5M462.8 320l-0.6 2.6M461.2 319.7l-0.5 2.6M457.7 323.5l7.6 1.6M462.7 322.7l-0.4 1.8M460.6 322.2l-0.4 1.8M460.6 324.1l-0.7 3.5M463.5 324.7l-0.7 3.5M457 326.9l7.5 1.7M457 326.9l-0.9 4.4M459.4 327.5l-0.7 3.3M456.2 330.4l2.4 0.5M461.6 327.9l-0.5 2.2M474 284.1l-1.4 6.5M473.7 285.2l8 1.7M478.9 285.2l-0.2 1.1M476.7 284.7l-0.3 1.1M478.7 286.3l-1.1 5.4M473.3 287.3l5 1.1M477 285.9l-0.5 2.1M476.6 288l-0.7 3.3M472.6 290.6l7.9 1.7M472.6 290.6l-1.8 8.1M470.9 298.7l7.9 1.7M470.9 298.7l-2 9.2M476 299.8l-1.9 9.2M473.9 299.4l-2 9.1M470.3 301.5l3 0.6M469.7 304.3l3 0.7M473 303.3l2.2 0.5M473.3 302l2.2 0.4M472.3 306.9l2.1 0.5M474.9 305.3l2.8 0.6M468.9 307.9l8 1.7M468.9 307.9l-1.2 6.1M470.9 308.3l-1.3 6.1M472.9 308.7l-1.3 6.1M474.9 309.1l-1.3 6.1M467.6 314l8 1.5M467.6 313.9l-1.4 6.8M471 314.7l-1.5 6.7M466.8 317.6l3.4 0.7M470.3 318.1l4.6 1M472.7 315l-0.7 3.5M473.2 318.8l-0.7 3.3M466.2 320.7l8 1.6M466.2 320.7l-1.7 7.9M469 321.3l-1.3 5.9M465.2 325.3l2.8 0.6M465.7 323l2.8 0.6M468.5 323.3l5.2 1.1M468.1 325.2l4.2 0.9M467.7 327.2l1.1 0.2M464.5 328.5l1 0.3M481.9 285.8l-1.3 6.5M484 286.3l-1.4 6.4M486.1 286.7l-1.5 6.5M488.2 287.2l-1.4 6.4M480.6 292.3l8.3 1.9M480.5 292.3l-1.6 8.1M483.4 292.9l-1.7 8.1M479.7 296.1l2.9 0.6M479.1 298.9l2.9 0.6M482.4 297.6l5.5 1.2M478.8 300.4l8.4 1.7M478.8 300.4l-1.9 9.2M477.5 306.5l8.4 1.8M483.4 301.4l-1.2 6.1M478 304.3l4.6 1M481.1 300.9l-0.9 3.9M478.4 302.6l2.2 0.5M480.8 302.3l2.3 0.5M480.2 304.8l-0.5 2.2M482.8 304.4l3.7 0.8M480.8 307.2l-0.7 3M482.4 307.6l-0.6 3M476.9 309.6l8.3 1.7M476.9 309.6l-1.4 6M475.6 315.6l8.3 1.9M475.6 315.6l-1.5 6.8M478.5 316.2l-1.5 6.8M475.1 318l2.8 0.6M474.5 320.5l2.9 0.7M474.2 322.4l5.2 1.1M474.1 322.4l-0.6 2.9M475.6 322.7l-0.5 2.2M489.6 290.9l-0.7 3.2M491.4 293.6l-0.2 1M489.3 292.2l1.2 0.3M488.9 294.1l3.1 0.6M488.9 294.1l-1.7 8.1M487.2 302.2l8.3 1.8M487.2 302.2l-2 9.1M489.2 302.6l-1.9 9.2M491.3 303.1l-1.8 9.1M493.4 303.5l-1.3 6.1M485.2 311.3l5.2 1.1M485.2 311.3l-1.2 6.1M489.2 312.2l-0.7 3M487.3 311.8l-1.3 6.1M484.6 314.2l2.1 0.5M483.9 317.4l2.1 0.4M483.9 317.4l-0.9 4.5M495.7 302.9l-0.2 1.1M495.5 304l-0.2 1M448.2 335.9l1 0.6M445.6 337.1l-2 4M441.3 338.6l-0.5 1M444.4 337.1l0.9 0.5M444.5 339.2l2.5 1.4M445.1 338l2.6 1.3M439.1 338.7l6.9 3.7M443.8 341.2l-2 3.7M441.9 340.2l-1.1 2M441.1 341.7l1.9 1.1M441.9 344.9l2.2 1.1M442.9 343l2.2 1.2M449.7 335.5l-0.5 0.9M457.1 333.3l-3 5.7M455.5 333.8l1 0.5M452.6 334.7l2.9 1.5M454 335.4l-1.5 2.8M455.8 335.6l2.3 1.2M458.7 333l1.2 0.6M449.2 336.4l7.1 3.8M449.2 336.4l-3.1 6M451.8 337.8l-3.1 6M454.2 339.1l-3.1 6M449.6 341.9l2.5 1.3M450.5 340.2l2.5 1.3M453.2 341.1l2.1 1.1M452.5 342.5l2 1.1M446 342.4l7.2 3.8M446 342.4l-3 5.6M443.3 347.5l0.9 0.5M444.4 345.4l5.4 2.9M450.8 344.9l-1.6 3.1M449 344l-1.6 3M446.5 346.6l-0.6 1M463.5 333.1l5.4 2.9M460.3 332.7l-4 7.5M458.1 336.8l8.1 4.2M459.4 334.5l8 4.2M463.7 333.2l-1.5 2.8M466.5 334.7l-1.4 2.8M463.5 336.6l-1.3 2.4M461 335.3l-1.2 2.4M466.2 338.1l-1.2 2.3M461.6 338.7l-1.8 3.4M464.7 340.3l-1.8 3.4M456.4 340.2l7.9 4.3M456.3 340.2l-3.1 6M460.9 342.6l-3.1 6M455.3 342.2l4.5 2.4M458.7 341.5l-1.1 1.9M458.4 343.8l-2.2 4M454.1 344.4l3.1 1.6M457.5 345.4l1.5 0.8M453.2 346.2l4.4 2.4M453.2 346.2l-1 1.8M469.9 334.1l-1 1.9M476.3 335l-2 3.9M470 333.9l5.3 3M474.7 334l-1 1.9M472.5 333.6l1.9 1M472.8 333.8l-0.7 1.3M474.8 333.8l1.6 0.9M472.2 335.1l-1.1 2.1M476.3 335l3.4 1.8M475.3 336.9l3.4 1.8M468.9 336l8.7 4.7M468.9 336l-4.6 8.4M472.5 337.9l-4.6 8.5M467 339.6l3.6 1.9M470.8 337l-1.9 3.6M467.7 338.1l2 1.1M470.1 338.3l1.7 0.9M466 341.3l3.7 1.9M468.5 340.4l-0.9 1.7M467.7 342.2l-1.7 3.1M474.9 339.2l-4.5 8.5M470.8 341.1l2.4 1.3M470 342.7l2.4 1.3M469.3 343.9l2.4 1.3M464.3 344.5l8.8 4.6M464.3 344.5l-2.1 3.9M470.2 347.6l-1.6 3M463.3 346.5l5.9 3M462.2 348.4l1 0.6M469.1 349.6l3 1.5M485.8 336.3l-0.5 0.9M480.8 334.8l6.7 3.7M480.7 334.8l-3 5.9M483.3 336.2l-3.1 5.8M478.9 338.2l2.6 1.4M482.3 338.1l4.2 2.3M486.1 337.6l-1.1 2M484.3 339.2l-2.1 3.9M481.1 340.3l2 1.1M483.6 340.5l2.2 1.2M477.6 340.7l6.9 3.5M477.7 340.7l-4.6 8.4M475.1 345.5l6.8 3.6M476.5 342.8l6.8 3.6M481.6 342.8l-1.1 2.1M479.6 341.7l-1.1 2.2M478.9 344.1l-1.4 2.7M481 345.2l-1.4 2.7M477.2 346.6l-1.9 3.7M474 347.5l2.2 1.2M480 348.1l-2 3.6M479.1 349.7l1.9 1M473.1 349.2l6.8 3.5M473.1 349.1l-1 2M476.7 351l-1.1 2M474.3 349.8l-1 2M471.8 351.6l1.3 0.6M476 352.3l3.2 1.8M488 337.5l-0.5 0.9M490.5 338.8l-0.5 0.9M492.7 340l-0.5 0.9M487.5 338.4l6.2 3.3M487.5 338.4l-3 5.9M486.6 340.2l6.1 3.3M490.9 340.2l-1 1.8M489.8 341.9l-2.1 4.1M485.7 341.9l3.3 1.7M489 343.4l2.9 1.6M484.4 344.3l6.1 3.2M484.4 344.3l-4.5 8.4M479.9 352.8l6.1 3.2M479.9 352.8l-0.5 0.9M482.2 354l-0.6 0.9M494.1 340.8l-0.5 0.9M498.6 342l-1 1.8M496 341.6l-0.6 1M493.7 341.7l6.6 3.5M493.7 341.7l-3.1 5.8M496 342.9l-3.1 5.9M492.1 344.6l2.3 1.2M494.2 346.1l4.4 2.3M497.8 343.9l-1.7 3.2M496.1 347.1l-1.4 2.6M490.5 347.5l6.7 3.6M490.5 347.5l-4.4 8.5M487.8 352.7l6.6 3.5M489.6 349.2l6.7 3.5M492.8 348.7l-0.9 1.7M494.6 349.7l-0.9 1.7M493.6 351.3l-1.8 3.5M491.5 350.2l-1.8 3.5M490 353.8l-1.2 2.3M491.7 354.8l-1.1 2.2M486 356l1 0.5M501.2 343.4l-0.9 1.8M503.4 345.4l-0.6 1.1M500.3 345.2l5.5 3M500.3 345.2l-3.2 5.8M498.3 348.9l5.5 2.9M503.6 347l-1.9 3.7M499.2 347.3l3.3 1.8M502.4 349.3l2.2 1.2M500.2 349.9l-1.2 2.1M501.9 350.8l-1.2 2.1M497.2 351.1l5.5 2.8M497.2 351l-3.6 6.6M495.8 353.7l5.5 2.9M499.2 352.1l-1.4 2.7M494.3 356.5l5.5 2.9M498.6 355.2l-1.5 2.8M496.3 357.6l-0.5 1M506.8 346.3l-1 1.8M505.8 348.1l7.6 4M505.8 348.1l-3.1 5.9M502.7 354l7.6 3.9M502.7 354l-3.5 6.6M507.1 356.3l-4 7.6M499.7 359.7l4.4 2.4M501.1 357l4.4 2.4M505.1 355.3l-1.6 3M503 358.1l-1.4 2.6M502.4 361.2l-1 1.8M504.9 360.5l3.2 1.7M506.4 357.7l3.1 1.7M503.3 363.5l3.2 1.7M504.9 365.9l0.9 0.5M514.3 350.3l-1 1.8M518.3 353.6l-0.5 0.9M514.3 350.4l1.1 0.5M516.4 352.6l-0.5 0.9M520.9 355l-0.5 0.9M513.4 352.2l8.8 4.6M513.4 352.2l-3.2 5.8M510.3 358l8.8 4.7M510.3 358l-4.6 8.5M508 362.3l8.8 4.6M516.1 361.1l-2.3 4.2M513.8 359.9l-2.3 4.2M508.9 360.7l3.5 1.9M512.4 362.5l2.3 1.2M514.6 363.8l3 1.6M507 364.2l8.8 4.6M512.5 364.6l-1.1 1.9M509.5 363l-1 2M515.3 366.1l-1 1.9M511.3 366.4l-1.2 2.4M508.3 364.9l-1.2 2.3M513.8 367.8l-1.2 2.3M505.8 366.5l8.8 4.7M512.4 370l-0.6 1.1M522.2 356.8l4 2.2M522.2 356.8l-3.1 5.9M520.1 360.8l6 3.2M526.2 359l-2.1 3.9M521.2 358.8l3.9 2.1M523.4 357.5l-1 1.9M523.6 360.1l-1 2M523.3 362.5l-1.1 1.9M519.1 362.7l6 3.2M519.1 362.7l-4.6 8.5M516.3 368l6 3.2M517.4 365.9l6 3.2M522.9 364.7l-1.7 3.2M521.1 363.8l-1.7 3.2M520.1 367.3l-1.1 2.1M519.3 369.6l-1.7 3.2M514.6 371.2l6 3.2M514.6 371.2l-0.6 1M516.6 372.2l-1.1 2M518.8 373.4l-1.2 2.2M527.7 361l-2.6 4.9M527.1 362.2l7.9 4.3M533 364l-0.6 1M531.1 363l-0.6 1M530.2 363.9l-2 3.7M526.3 363.6l3.2 1.6M532.1 364.8l-2 3.7M529.1 365.8l1.9 1M531.2 366.5l3 1.6M525.1 365.9l8 4.2M525.1 365.9l-4.6 8.4M522.5 370.8l7.9 4.3M529.8 368.4l-2.6 4.9M524.1 367.8l4.7 2.5M527 366.9l-1 1.9M527.1 369.4l-1.6 3M528.4 370.9l3.3 1.8M526.9 373.2l-1.9 3.5M526 375l3.5 1.8M520.6 374.4l8 4.2M520.6 374.4l-1.1 2M523 375.7l-0.4 0.9M525.9 377.2l-0.5 0.9M525.3 378.4l0.9 0.4M535.2 366.2l-2.1 3.9M537.4 367.4l-2 3.9M535.2 366.2l2.2 1.2M534.1 368.2l2.3 1.2M538.4 369.2l-1.6 2.9M536.4 369.4l1.4 0.8M538.5 368.9l2.3 1.2M533.1 370.1l6 3.2M533.1 370.1l-4.5 8.5M530 376l6 3.2M537.1 372.2l-3.1 5.9M531.3 373.4l4 2.2M535.3 371.3l-1.8 3.3M533.2 374.4l-1.4 2.6M535.3 375.5l2.1 1.1M533.6 378l-1.4 2.6M532.2 377.2l-1.4 2.6M528.6 378.6l5 2.7M540.7 370.4l-1.6 2.9M544.7 373.8l-1.1 2M542.3 371.3l-1.5 2.9M541.7 372.5l2.9 1.5M547.2 375.2l-1 1.9M544.4 374.4l2.5 1.3M539.1 373.3l8.6 4.6M539.1 373.4l-4 7.5M538 375.5l8.6 4.5M536.9 377.6l8.6 4.5M535.8 379.7l8.5 4.6M548.7 376l-1 1.9M550.8 378.3l-0.6 1M552.5 379l-0.6 1.1M547.7 377.9l5.4 2.9M547.7 377.9l-3.5 6.6M412.6 353.9l1.1 0M412.6 358.6l1.1 0M413.7 351.7l0 2.1M415.9 351.5l0 2.3M418 351.5l0 2.3M420.2 351.5l0 2.3M415.9 352.3l2.1 0M418 352.4l2.2 0M420.2 352.2l2.1 0M413.7 353.8l8.6 0.1M413.7 353.8l0 5.2M419.5 353.8l0 5.2M413.7 356.1l5.8 0M416.4 353.8l0 2.3M417.6 356.1l0 2.5M413.7 359.1l3.9 0M417.6 359.1l1.9 0M419.5 358.7l2.8 0M419.5 356l2.8 0M422.3 350.7l-0.1 3.1M425.5 350.7l0 3.1M422.3 351.2l3.2 0M422.3 353.9l9.8 -0.1M422.3 353.8l0 5.2M425.6 353.8l0.1 7.2M422.3 357.8l3.3 0M425.6 358.4l6.5 0M430 353.8l0 4.6M427.3 353.8l0 4.6M425.6 355.6l1.7 0M427.3 357l2.7 0M430 356l2.1 0M428 358.4l0 2.6M429.4 358.4l0 2.6M424.5 361l7.6 -0.1M428.8 361l0 9.5M424.5 363.4l4.3 0M424.5 365.8l4.3 0M424.5 368.1l4.3 0M425.4 361l0 2.4M426.3 363.4l0 2.4M425 363.4l0 2.4M424.7 368.1l0 2.4M426.4 368.1l0 2.4M428.8 367.1l3.3 0M424.5 370.5l7.6 0.1M425.6 377.1l6.5 0M425.9 370.5l-0.1 6.6M424.7 373.1l1.1 0M425.8 374.7l6.3 0M427.8 370.5l0 4.2M425.8 373.2l2 0M427.8 371.9l4.3 0M429.6 370.5l0 1.4M429.2 371.9l0 2.8M427.7 374.7l0 2.4M430.7 374.7l0 2.4M425.3 377.1l0 3.3M429.4 377.1l0 3.3M427.3 377.1l0 3.3M425.6 380.4l6.5 0M425.6 389.6l6.5 -0.1M425.6 393.3l6.5 0M426.2 389.6l0 3.7M429.6 389.6l0 3.7M425.6 393.3l0 4M428.8 393.3l0 4M425.6 397.3l6.5 -0.1M427.6 397.3l0 9.4M425.5 402l2.1 0M425.4 397.3l0 4.7M425.4 400.3l2.2 0M426.5 404.3l1.1 0M425.9 404.3l0 2.4M427.6 400.4l4.5 0M427.6 403.6l4.5 0M429.4 397.3l0 3.1M430.7 400.4l0 3.2M430.2 403.6l0 3.1M426.6 406.7l5.5 0M428.8 406.7l-0.1 6.5M426.5 410.1l2.3 0M428.8 409.6l3.3 0M426.6 413.2l5.5 0M427.5 413.2l0 7.9M429.4 413.2l0.1 7.9M427.5 418.4l1.9 0M427.5 416.4l1.9 0M429.4 415.8l2.7 0M429.4 418.7l2.7 0M426.6 421.1l5.5 0M432.1 350.7l0 3.1M432.1 351.4l2 0M432.1 353.9l2 -0.1M432.1 353.8l-0.1 7.2M432.1 358.8l2 0M432.1 356.2l1.3 0M434.6 358.8l0 2.2M432.1 361l2 0M432.1 361l0 9.5M432.1 365.1l2 0M432.1 363.5l2.5 0M432.1 370.5l2 0M432.1 370.5l0 9.9M432.1 380.4l3.1 0M432.1 380.4l-0.1 9.2M432.1 384.1l3.1 0M432.1 386.2l3.1 -0.1M435.3 384.1l0 2M435 386.1l0 3.5M432.1 389.6l3.1 0M432.1 389.6l0 7.7M432.1 397.3l3.1 -0.1M432.1 397.3l0 9.4M432.1 401.8l3.1 0M432.1 399.5l3.1 0M434 397.3l0 2.2M434.6 399.5l0 2.3M434.6 401.8l0 4.9M432.1 405.2l2.5 0M434.6 404.5l1.2 0M432.1 406.7l4.1 0.1M432.1 406.7l0 6.5M432.1 410.2l4.1 0M434.6 406.7l0 3.5M436.1 410.2l0 3M432.1 413.2l4.1 0M432.1 413.2l-0.1 7.9M435.7 413.2l0 7.9M432.1 417.6l3.6 0M432.1 416.1l3.6 0M432.1 421.1l4.1 0M488.7 335.1l-0.6 0.8M488.1 339.7l3.5 2.5M487.7 344.2l1.7 1.2M489.4 340.7l-1.5 2.1M494 338.8l-2.4 3.4M499.5 342.6l-2.5 3.4M498.8 343.5l2.6 1.8M501.7 343.1l0.8 0.6M491.6 342.2l8 5.6M491.6 342.2l-3.7 5.4M489.7 345l7.9 5.7M495.9 345.3l-1.9 2.8M494.2 344.1l-1.9 2.8M498.1 346.8l-1.9 2.8M488.2 347.1l8 5.6M493.5 347.7l-1.5 2.1M491.6 346.3l-1.5 2.2M496.1 349.6l-1.4 2.1M492.3 350l-1.6 2.2M491 349.1l-1.6 2.2M494.8 351.7l-1.6 2.3M488.4 350.6l6.2 4.4M491.2 352.5l-1.5 2.2M488.8 350.9l-0.8 1M493.2 353.9l-1.5 2.2M506.3 343.6l2.5 1.7M502.6 343.5l-3 4.3M505 343.9l-3.6 5.2M501.4 345.2l1.9 1.3M502.4 343.8l1.8 1.3M502.7 347.2l3.2 2.3M499.6 347.8l5 3.6M499.6 347.8l-5 7.2M496.3 352.5l5 3.5M502.9 350.1l-3.3 4.7M497.8 350.4l3.3 2.3M501.8 349.4l-1.8 2.5M499.7 351.6l-1.5 2.2M501.1 352.7l1.7 1.2M499.6 354.8l-1.7 2.4M494.6 355l5 3.4M494.6 355l-1.9 2.6M496.7 356.4l-1.9 2.7M492.7 357.6l2.1 1.5M494.8 359l3 2M509.5 344.4l-0.6 1M514.3 346.4l-1.3 1.8M511.9 344.7l-1.3 1.9M515.1 348l-0.9 1.1M508.8 345.3l7.7 5.4M508.8 345.3l-4.2 6M506.7 348.3l7.8 5.3M511.8 347.4l-2.1 3M514.9 349.6l-2.1 3M511.1 351.4l-2.1 3M508.4 349.5l-2.2 3M513.2 352.9l-2.1 3M504.6 351.3l7.7 5.4M504.6 351.3l-5 7.2M509.5 354.8l-5 7.1M502.2 354.8l4.9 3.4M507.1 353.1l-2.4 3.4M503 353.6l2.5 1.7M506.1 354.4l2.4 1.7M500.6 357l4.9 3.5M504.5 356.4l-1.5 2.3M502.9 358.7l-1 1.4M507.3 357.8l2.9 2M505.8 360.1l2.8 1.9M499.6 358.5l7.7 5.3M499.6 358.4l-2.5 3.6M503.6 361.2l-2.6 3.7M498.3 360.4l3.9 2.7M502.1 360.2l-1.3 1.9M500.9 362.2l-1.3 1.8M497.3 361.8l2.6 1.8M500.1 363.3l1.3 1M501.3 364.5l3.7 2.6M505.7 362.7l-2.3 3.3M502.3 363.1l2.1 1.5M504.3 364.7l1.6 1.1M517.1 349.8l-0.6 0.9M516.5 350.7l7.3 5.1M516.5 350.7l-4.2 6M513.9 354.4l7.3 5.1M521.4 354.1l-2.6 3.7M518.2 351.9l-2.6 3.7M516.7 354.1l3.1 2.2M519.9 356.3l2.4 1.6M518.2 357.4l-1.6 2.3M512.3 356.7l7.2 5.1M512.3 356.7l-5 7.1M516.4 359.6l-5 7.1M509.7 360.4l4.1 2.9M511.5 357.9l4.1 2.9M514.6 358.3l-0.8 1.2M514.2 359.8l-1.8 2.5M508 362.8l4.1 2.8M511.7 361.9l-1.6 2.3M509.8 364l-0.7 1.1M514.5 362.2l3.2 2.2M512.9 364.6l3.1 2.2M507.3 363.8l7.3 5.1M507.3 363.8l-2.5 3.6M510.9 366.3l-1.8 2.6M505.9 365.8l3.6 2.5M509.3 365.2l-1.4 2M507.2 366.7l-0.8 1.1M509.5 368.3l3.7 2.6M512.7 367.6l-1.4 2M523.8 355.8l6.2 4.3M523.8 355.8l-4.2 6M521.6 358.8l7.2 5M526.3 357.6l-2.1 3M528.2 358.9l-2.1 3M525.9 361.8l-2.1 3M524.4 360.7l-2.1 3M519.5 361.8l7.2 5M519.6 361.8l-5.1 7.1M522.7 364l-5.1 7.1M518.3 363.6l3.1 2.1M517.1 365.4l3.1 2.1M515.8 367.1l3.1 2.2M521.1 366.2l4 2.8M524.4 365.2l-1.5 2.2M519 369.1l4.1 2.8M522.6 367.2l-2.1 2.9M521.6 370.9l-1.4 1.9M514.6 368.9l7.1 5M514.6 368.9l-1.9 2.7M512.7 371.5l7.2 5.1M516.8 370.4l-1.9 2.7M518.2 371.5l-1.8 2.6M519.6 372.5l-1.8 2.6M532.6 361.9l3.3 2.3M530.3 361.6l-3.6 5.2M528.1 364.8l4.9 3.5M534 363l-2.8 4M529.8 362.3l3.2 2.2M530 366.1l-1.4 2.1M526.7 366.8l4.9 3.5M526.7 366.8l-5 7.1M524.1 370.5l4.9 3.5M528.6 368.2l-2.6 3.7M525.4 368.7l1.9 1.3M527.3 370.1l3 2.1M526.3 372.1l-2.4 3.4M523.2 371.8l2.2 1.6M525.5 373.3l2.7 1.9M521.7 373.9l5 3.5M521.7 373.9l-1.9 2.7M519.2 377.5l5 3.4M523.4 375.1l-2.5 3.5M525 376.2l-2.5 3.6M538.9 365l-0.6 0.9M541.2 366.5l-0.7 1M535.9 364.2l7.6 5.4M535.8 364.2l-4.2 6.1M539.5 366.8l-4.3 6M534.4 366.3l3.7 2.5M533 368.3l3.6 2.5M538 368.8l4 2.9M540.8 367.7l-1.5 2.1M539.6 369.9l-2.8 4M536.1 371.5l1.6 1.1M538 372.2l2.4 1.7M531.6 370.3l7.7 5.3M531.6 370.3l-5 7M526.7 377.4l7.6 5.3M526.7 377.4l-2.6 3.6M524.3 380.8l7.6 5.4M531.4 380.7l-2.4 3.4M529.6 379.4l-2.4 3.5M525.8 378.6l3 2M530.5 381.9l2.9 2M530.4 385.1l-0.8 1.2M544.7 367.7l-1.2 1.9M546.2 370.1l-0.6 0.9M544.3 368.4l2.1 1.5M543.5 369.6l2.6 1.8M543.5 369.6l-4.2 6M541.3 372.7l5.2 3.7M545.9 374.4l-0.7 1M545.3 370.9l-2.2 3.1M544.6 375l-2.1 2.9M542.8 373.8l-2 2.9M539.3 375.6l6.2 4.3M539.3 375.6l-5 7.1M543.3 378.4l-4.9 7.2M541.7 377.3l-4.9 7.2M536.4 379.7l2.5 1.7M537.6 377.9l2.5 1.8M538.9 381.4l1.6 1.1M540.8 378.7l1.6 1.1M541.6 380.9l2.1 1.5M540 383.2l2.1 1.5M534.3 382.7l6.2 4.3M534.3 382.7l-3.1 4.5M531 387.5l6.1 4.2M533.2 384.3l6.2 4.3M538.5 385.7l-1.1 1.5M535.8 386.1l-2.2 3.2M537.9 387.6l-2.2 3.2M546.6 378.2l-1.2 1.7M545.4 379.9l0.9 0.6M545.4 379.9l-5 7.1M546.2 388.4l-1.2 1.8M540.4 387l5.9 4.2M540.4 387l-3.1 4.5M547.2 369.8l1.1 0M548.4 369.8l-0.3 6.5M547.3 371.8l1 0M547.2 374.6l1 0.1M548.2 373.1l4.1 0.1M551 372.1l0 1.1M549.8 373.1l-0.1 3.2M547 376.2l5.2 0.2M548.5 376.3l-0.3 7.2M547.2 379.1l1.2 0M547.1 380.8l1.2 0.1M546.8 383.4l5.2 0.2M548 383.5l-0.1 6.1M546.8 386l1.1 0M547.9 386.4l4 0.1M547.6 389.5l4.1 0.2M548.4 389.6l-0.3 8.2M548.2 393.9l3.4 0.1M548.3 391.8l3.4 0.1M547.3 397.8l4.2 0.1M547.2 401.8l4.1 0.2M547.3 397.8l-0.1 4M549.4 397.9l-0.2 4M548.7 401.9l-0.1 3.1M547 405l4.2 0.2M547.9 405l-0.2 7M546.8 408.9l1 0M547.8 408.9l3.3 0.2M546.8 411.9l4.2 0.1M546.7 416.2l4.1 0.2M547.1 412l-0.1 4.2M547.1 413.4l3.8 0.2M547.7 416.3l-0.1 2.8M547.6 419.1l3.1 0.1M547.4 424.5l3.1 0.1M547.5 421.8l3.1 0.1M546.7 421.8l-0.1 1.3M546.9 424.5l-0.2 4.3M546.8 426.5l3.6 0.1M547.3 428.8l3.1 0.1M546.7 432.6l3.5 0.1M548.3 428.9l-0.1 3.8M548.6 432.7l-0.1 2.7M547 435.3l3.1 0.1M546.9 437.7l3.2 0.1M546.9 440.2l3.1 0.1M546.8 442.5l3.1 0.1M548.7 435.4l-0.1 2.4M547 437.7l-0.1 2.4M548.4 440.2l-0.1 2.4M552.3 373.2l-0.1 3.2M552.2 376.4l4 0.2M552.2 376.4l-0.3 7.2M552 381.2l7.1 0.2M556.8 377.8l-0.2 3.5M552.1 378.6l4.6 0.1M553.7 376.5l-0.1 2.1M553.7 378.6l-0.1 2.6M556.7 378.2l2.5 0.1M555.2 381.3l0 2.4M552 383.6l7 0.2M551.9 383.6l-0.1 6.1M551.8 387.7l7.1 0.3M556.4 383.8l-0.1 4.1M554.9 383.7l-0.1 4.1M551.9 386.2l2.9 0.1M554.8 385.8l1.5 0M556.3 386.3l2.6 0.1M554.7 387.8l0 2M556.6 387.9l-0.1 2M551.7 389.7l7.1 0.2M551.7 389.7l-0.2 8.3M551.6 392.7l7.1 0.2M554.6 389.8l-0.1 3M556.9 389.9l-0.1 3M556 392.8l-0.2 5.3M553.5 392.7l-0.2 5.3M551.5 396l1.9 0.1M553.4 394.8l2.5 0.1M555.9 395.4l2.7 0.1M551.5 398l7 0.1M551.5 398l-0.3 7.1M551.4 400.4l7 0.2M554.6 398.1l-0.1 2.4M556.1 400.5l-0.1 4.8M553 400.4l-0.1 4.8M551.3 402.3l1.7 0M552.9 402.4l3.2 0.1M556.1 402.2l2.3 0M551.2 405.1l7.1 0.3M551.2 405.1l-0.2 7M553.5 405.2l-0.2 7M555.9 405.3l-0.3 7M551.1 408.2l2.3 0.1M553.4 410l2.3 0.1M553.5 407.7l2.3 0.1M555.8 407.6l2.4 0.1M555.7 409.9l2.4 0.1M551 412.1l7 0.2M551 412.1l-0.3 7.1M553.2 412.2l-0.2 7.1M550.8 416.6l2.3 0.1M550.9 415.1l2.2 0M553.1 415.6l4.8 0.2M556.4 412.3l-0.1 3.4M554.9 415.7l-0.1 3.6M550.7 419.2l7.1 0.3M550.7 419.2l-0.3 9.7M550.5 424.5l7.1 0.2M554.2 419.3l-0.2 5.3M550.6 421.7l3.5 0.1M554.1 422.6l3.6 0.2M550.4 428.9l7 0.3M550.4 428.9l-0.3 6.6M552.7 429l-0.2 6.5M555.1 429.1l-0.2 6.5M550.1 435.5l7.1 0.2M550.1 435.4l-0.2 7.5M549.9 442l7.1 0.2M552.5 435.5l-0.2 6.6M554.8 435.6l-0.2 6.6M565.1 373.6l-0.1 3.3M563.9 374.3l1.2 0M561.6 375.5l-0.1 1.2M560.3 376.7l8.2 0.3M559.2 377.7l-0.2 6.2M564.9 376.8l-0.2 7.3M559.2 379l5.6 0.1M563.2 376.8l-0.1 2.3M559.1 380.9l5.6 0.2M562.2 379.1l-0.1 1.9M562.7 381l-0.1 3M564.7 380.4l3.7 0.2M559 383.8l9.2 0.4M559 383.9l-0.2 6M562.2 384l-0.1 6M558.9 386.4l3.3 0.1M562.1 387.3l6 0.2M565.9 384.1l-0.1 3.3M565.2 387.4l-0.1 2.8M558.8 389.9l9.2 0.4M558.8 389.9l-0.3 8.3M561.9 390l-0.3 8.3M564.9 390.1l-0.2 8.3M558.6 394.2l3.1 0.2M558.7 391.9l3.1 0.1M561.7 394.5l3.1 0.1M561.8 392.8l3.1 0.2M564.8 395.5l3 0.2M564.9 392.5l3 0.1M558.5 398.2l9.2 0.2M558.5 398.2l-0.2 7.2M558.4 401.3l9.2 0.2M562.4 398.3l-0.1 3.1M565.2 398.4l-0.1 3.1M561.5 401.4l-0.2 4.1M564.6 401.5l-0.2 4.1M558.3 403.8l3.1 0.1M561.4 404.1l3.1 0.1M564.5 403.7l3.1 0.1M558.3 405.4l9.2 0.3M558.3 405.4l-0.3 6.9M564.1 405.6l-0.3 6.9M558.2 407.6l5.8 0.2M561 405.5l-0.1 2.2M562.1 407.7l-0.2 4.8M558.1 409.2l3.9 0.1M562 410.3l1.9 0.1M564 408.6l3.4 0.2M558 412.3l9.2 0.4M558 412.3l-0.2 7.1M562 412.5l-0.3 7.1M557.9 415.2l4 0.2M557.8 417.6l4 0.1M561.9 415.2l5.2 0.2M564.2 412.6l-0.1 2.7M557.8 419.4l9.2 0.3M557.8 419.4l-0.4 9.8M557.4 429.2l9.3 0.3M557.4 429.2l-0.1 6.5M560.6 429.3l-0.2 6.5M557.3 433.4l3.2 0.1M557.4 430.9l3.2 0.1M560.5 433.6l6 0.2M564.8 429.4l-0.2 4.3M560.5 431.9l4.2 0.2M562.5 429.4l-0.1 2.6M561.8 432l0 1.6M564.7 432.3l1.9 0M563.9 433.7l-0.1 2.2M557.2 435.7l9.2 0.3M557.2 435.7l-0.2 6.4M557 440.8l9.2 0.4M562.4 435.9l-0.2 5.1M560.7 435.8l-0.2 5.2M557.1 438.4l3.5 0.1M560.6 438.9l1.7 0M562.3 438.3l4 0.2M564 435.9l-0.1 2.5M564.6 438.4l-0.1 2.7M562.5 441l0 1.1M557 442.5l5.4 0.2M559 440.9l-0.1 1.7M562.4 442.5l3.8 0.2M572.2 368.6l-0.1 2.1M574.8 367.6l-0.1 3.2M574.8 367.7l1.9 0.1M569.8 370.6l6.8 0.3M568.7 371.6l-0.2 5.4M573.5 370.7l-0.2 6.4M568.6 373.7l4.8 0.1M571 370.6l-0.1 3.1M571.7 373.8l-0.1 3.3M573.4 374.3l3.1 0.1M568.5 377l7.9 0.2M568.5 377l-0.3 7.2M568.4 380.1l7.8 0.3M571.8 380.3l-0.1 4M568.3 381.9l3.5 0.1M574.2 380.3l-0.1 4.1M571.7 382.7l2.4 0.1M574.1 382.6l2.1 0.1M568.2 384.2l7.9 0.3M568.2 384.2l-0.2 6.1M568.1 387.4l7.9 0.3M570.7 384.3l-0.1 3.2M574 384.4l-0.1 3.2M573.2 387.5l-0.1 2.9M571.1 387.5l-0.1 2.9M568 390.3l7.9 0.2M568 390.3l-0.3 8.2M570.7 390.4l-0.2 8.2M567.8 395.9l2.8 0.1M567.9 393.5l2.7 0.1M570.6 394.7l5.1 0.2M574 390.5l-0.2 4.3M570.7 393.1l3.2 0.1M573.9 392.4l1.9 0M573.1 394.8l-0.1 3.9M567.7 398.5l7.9 0.3M567.7 398.5l-0.2 7.2M570.3 398.6l-0.2 7.2M567.6 402.9l2.6 0.1M567.7 400.4l2.6 0.1M573.4 398.7l-0.3 7.2M570.2 403.2l3 0.1M570.3 400.2l3 0.1M573.3 401l2.2 0.1M573.2 404.2l2.2 0.1M567.5 405.7l7.8 0.3M567.5 405.7l-0.2 7M572.7 405.9l-0.3 6.9M567.4 408.8l5.2 0.2M570.4 405.8l-0.2 3.1M569.4 408.9l-0.1 3.8M572.6 410.1l2.6 0.1M572.6 407.9l2.7 0.1M567.2 412.7l7.9 0.2M567.2 412.7l-0.2 7.1M570.4 412.8l-0.3 7.1M567.1 417.1l3.1 0.1M567.2 414.1l3.1 0.1M570.3 416.6l4.7 0.2M573.2 412.9l-0.1 3.8M572 416.6l-0.1 3.3M567 419.8l7.9 0.2M567 419.8l-0.3 9.7M566.8 424.5l7.9 0.3M570.7 419.9l-0.2 4.7M566.9 422.8l3.7 0.1M570.6 422.6l4.2 0.2M572 419.9l-0.1 2.8M573 422.7l0 2M571 424.6l-0.1 5.1M566.7 427.1l4.2 0.2M568.4 424.6l-0.1 2.6M571 426.4l3.6 0.1M566.7 429.5l7.8 0.2M566.7 429.5l-0.3 6.5M570.3 429.6l-0.2 6.5M566.6 432l3.6 0.1M566.5 433.6l3.7 0.1M566.4 436l7.9 0.3M566.4 436l-0.2 6.4M566.3 440.5l7.8 0.2M569 436.1l-0.2 4.5M566.4 438.1l2.5 0.1M571.7 436.2l-0.2 4.5M568.9 437.8l2.7 0.1M571.6 439l2.6 0.1M570 440.6l0 2.1M571.6 440.7l-0.1 1.2M582.1 362.6l2.1 0.1M576.8 365.6l-0.2 5.2M577.8 365.2l6.3 0.2M580.5 365.3l-0.2 5.7M576.7 367.5l3.7 0.1M580.4 367.2l3.6 0.1M576.6 370.8l7.3 0.3M576.6 370.8l-0.3 6.4M579.4 370.9l-0.2 6.4M576.5 372.8l2.8 0.1M576.5 374.2l2.8 0M579.3 374.9l4.5 0.2M582.1 375l0 2.4M576.4 377.2l7.3 0.4M576.4 377.3l-0.3 7.2M580.1 377.4l-0.3 7.2M576.2 381.1l3.7 0.1M576.1 384.5l7.3 0.2M576.1 384.5l-0.2 6M576 387.7l7.3 0.2M580.9 384.6l-0.1 3.3M578.1 384.5l-0.1 3.3M578.4 387.8l-0.1 2.8M581.2 387.9l-0.1 2.8M575.9 390.5l7.3 0.3M575.9 390.5l-0.3 8.3M575.7 394.8l7.4 0.3M579.2 390.6l-0.2 4.3M575.8 392.9l3.3 0.1M579.1 391.9l4.1 0.2M581.8 390.7l0 1.3M579.2 394.9l-0.2 4M575.7 397l3.4 0.2M579.1 397.2l3.9 0.1M575.6 398.8l7.3 0.3M575.6 398.8l-0.3 7.2M577.9 398.9l-0.2 7.1M575.4 403.2l2.3 0.1M575.6 400.1l2.2 0.1M577.7 403.5l5.1 0.1M579.6 398.9l-0.2 4.6M577.8 401.2l1.7 0.1M579.5 400.5l3.4 0.2M580.7 403.6l-0.1 2.5M575.3 406l7.4 0.2M575.3 406l-0.2 6.9M575.1 412.9l7.3 0.3M575.1 412.9l-0.2 7.1M575 417.2l7.3 0.2M579 413.1l-0.1 4.2M575 414.7l4 0.2M579 414.3l3.4 0.2M579.6 417.3l-0.1 2.9M577.2 417.2l-0.1 2.9M574.9 420l7.3 0.3M574.9 420l-0.4 9.8M574.7 423.3l7.4 0.2M578 420.1l-0.1 3.3M580.3 420.2l-0.1 3.3M578.2 423.4l-0.3 6.5M574.6 426.4l3.4 0.1M578 426.7l4 0.1M574.5 429.8l7.3 0.3M574.5 429.8l-0.2 6.5M577.3 429.9l-0.2 6.5M574.4 432.7l2.8 0.1M577.2 432.9l4.5 0.2M578.8 429.9l-0.1 3.1M579.3 433l-0.2 3.5M574.3 436.3l7.3 0.2M574.3 436.3l-0.2 6.4M574.1 440.9l7.4 0.2M577.8 436.4l-0.1 4.7M574.2 438.4l3.6 0.1M577.8 438.4l3.7 0.2M577.5 441l-0.1 1.1M584.2 361.6l-0.1 1.1M588.6 357.9l5.3 0.2M587.4 359.1l-0.1 3.7M584.3 360.7l3 0.1M587.4 359.4l6.5 0.2M591.6 358l-0.1 1.5M589.8 357.9l-0.1 1.6M590 359.5l-0.1 3.4M584.2 362.7l9.6 0.3M584.2 362.7l-0.3 8.4M588.3 362.8l-0.2 8.4M584.1 366l4.1 0.2M586.5 362.8l-0.1 3.3M584 368.8l4.1 0.1M586.4 366.1l-0.1 2.8M586 368.8l-0.1 2.3M588.2 366.6l5.4 0.2M591.2 362.9l-0.1 3.8M591.3 366.7l-0.1 4.6M588.1 369.7l3.1 0.1M591.3 369.3l2.3 0.1M583.9 371.1l9.6 0.4M583.9 371.1l-0.2 6.4M588 371.2l-0.2 6.5M583.8 374.8l4.1 0.2M586.2 371.2l-0.1 3.7M586.6 374.9l-0.1 2.7M583.7 377.5l9.6 0.4M583.7 377.5l-0.3 7.2M587.3 377.6l-0.2 7.2M583.6 380.2l3.6 0.2M583.5 381.8l3.7 0.1M587.2 381.5l5.9 0.2M590.5 377.7l-0.1 3.9M591.1 381.6l-0.1 3.4M583.4 384.7l9.6 0.3M583.4 384.7l-0.2 6.1M590 384.9l-0.2 6.1M586.1 384.8l-0.2 6.1M583.3 387.9l2.7 0.1M590 387l2.9 0.1M589.9 389l3 0.1M583.2 390.8l9.6 0.4M583.2 390.8l-0.3 8.2M589.8 391l-0.3 8.3M589.7 395.9l2.9 0.1M589.7 394.4l3 0.1M582.9 399l9.6 0.5M582.9 399l-0.2 7.2M586.4 399.2l-0.3 7.1M582.8 401.7l3.5 0.1M586.2 402.9l6.2 0.3M589.2 399.3l-0.1 3.7M582.7 406.2l9.6 0.4M582.7 406.2l-0.2 7M588.8 406.4l-0.3 7M582.6 408.4l6.1 0.3M585.8 406.3l-0.1 2.2M582.5 411.4l6.1 0.3M586.1 411.5l-0.1 1.8M588.7 408.8l3.5 0.1M588.6 410.8l3.5 0.1M582.4 413.2l9.6 0.3M582.4 413.2l-0.2 7.1M588.6 413.4l-0.3 7.1M586.5 413.3l-0.3 7.1M582.3 418.1l4 0.1M582.4 415l4 0.2M585.2 413.3l-0.1 1.8M585.1 415.1l-0.1 3.1M584.9 418.2l-0.1 2.2M586.4 416.9l2 0.1M588.5 415.9l3.4 0.2M588.4 418.9l3.4 0.1M582.2 420.3l9.6 0.3M582.2 420.3l-0.3 9.7M585.8 420.4l-0.3 9.8M585.7 422.8l6 0.3M585.6 425.3l6 0.2M585.5 427.7l6 0.2M588.4 420.5l-0.1 2.4M588.2 422.9l-0.1 2.5M588.4 425.4l-0.1 2.4M581.8 430l9.6 0.4M581.8 430l-0.1 6.6M586 430.2l-0.3 6.5M584.7 430.1l-0.2 6.6M581.7 433.9l2.9 0.1M584.6 433.3l1.3 0M585.9 432.2l5.5 0.2M589 430.3l-0.1 2M585.8 434.6l5.5 0.2M587.7 432.3l-0.1 2.4M588.8 434.7l0 2.1M581.6 436.6l9.6 0.2M581.6 436.5l-0.2 6.4M599.3 351.8l-0.1 3M599.3 352.8l4 0.1M594.1 354.7l9.1 0.3M594.1 354.7l-0.3 8.3M596.9 354.8l-0.3 8.3M593.9 359l2.8 0.1M594 356.2l2.8 0.1M593.8 363l8.1 0.3M593.8 363l-0.4 8.4M599.3 363.2l-0.2 8.4M593.6 367l5.6 0.2M596.9 363.1l-0.1 4.1M593.7 365.7l3.1 0.1M596.8 365.9l2.4 0.1M595.6 367.1l-0.2 4.4M593.6 369.3l1.9 0.1M595.5 369.8l3.6 0.1M599.3 365.3l2.4 0.1M599.2 367.4l2.4 0.1M599.1 369.5l2.4 0.1M593.5 371.4l7.1 0.3M593.5 371.4l-0.2 6.4M593.4 375l7.1 0.3M597.6 371.6l-0.1 3.6M595.6 371.5l-0.1 3.6M599.7 371.6l-0.1 3.6M596.2 375.1l-0.1 2.8M593.3 377.8l7.1 0.3M593.2 377.8l-0.1 7.2M596.6 378l-0.3 7.2M593.2 380.4l3.3 0.2M593.1 382l3.4 0.1M598.7 378l-0.2 7.2M596.5 380.7l2.1 0.1M596.4 383.3l2.1 0.1M598.6 380.6l1.3 0.1M598.5 383.6l1.3 0M593 385l6.1 0.3M593 385l-0.2 6.1M597.4 385.2l-0.2 6.1M594.4 385.1l-0.2 6.1M592.9 387.7l1.4 0M594.3 387.1l3.1 0.1M594.2 389.9l3.1 0.1M597.3 388.6l1.2 0M592.8 391.1l6.1 0.2M592.8 391.1l-0.3 8.3M596.5 391.2l-0.4 8.3M592.6 395.7l3.7 0.2M592.7 393.3l3.7 0.2M596.3 394.1l2.3 0.1M596.3 396l2.3 0.1M592.5 399.4l5.1 0.1M592.5 399.4l-0.2 7.2M592.3 406.6l9.1 0.3M592.3 406.6l-0.3 6.9M597.7 406.7l-0.3 7M595 406.7l-0.2 6.9M592.2 408.8l2.7 0.1M592.1 410.3l2.8 0.1M594.9 410.7l2.6 0.1M594.9 408.6l2.7 0.1M597.6 409.6l3.7 0.2M597.5 412.4l3.7 0.1M592 413.5l9.2 0.4M592 413.5l-0.2 7.1M597.1 413.7l-0.3 7.1M591.9 416.9l5.1 0.2M594 413.6l-0.1 3.4M594 417l-0.2 3.7M596.9 418.2l4.1 0.2M597 416.2l4.1 0.2M598.6 413.8l-0.1 2.5M599 416.3l0 2M598.8 418.3l-0.1 2.6M591.8 420.6l9.1 0.3M591.8 420.6l-0.3 9.8M591.6 424.3l9.2 0.3M596.8 420.8l-0.1 3.7M593.9 420.7l-0.1 3.7M599.3 420.9l-0.1 3.7M597.2 424.5l-0.1 6.1M591.5 427.4l5.6 0.2M595.1 424.4l-0.1 3.2M594.6 427.5l-0.1 3M597.1 428.3l3.6 0.1M591.4 430.4l9.2 0.2M591.4 430.4l-0.2 6.5M591.3 432.5l9.2 0.5M591.3 434.7l9.1 0.3M591.2 436.9l9.2 0.3M591.2 436.9l-0.2 5.3M594.6 437l-0.2 5.3M591.1 440.4l3.4 0.2M591 442.6l3.4 0.2M594.5 440.2l5.7 0.2M597.3 437.1l-0.1 3.2M594.4 442.8l5.8 0.2M596.3 440.3l0 2.6M597.8 442.9l-0.1 3.8M598 446.7l2 0.1M597.9 449.2l2 0M597.8 451.5l2.1 0.1M597.7 453.9l2.1 0.1M597.7 451.5l-0.1 2.4M597.7 456.3l2 0.1M597.6 457.6l2 0.1M603.3 352.9l0 2.1M603.2 355l0 1M601.4 406.9l9.5 0.3M601.4 406.9l-0.2 6.9M607.5 407.1l-0.3 7M601.3 410.7l6.1 0.2M603.8 407l-0.1 3.8M603.5 410.8l-0.1 3.1M607.3 411.5l3.4 0.2M607.4 408.9l3.4 0.1M601.2 413.9l9.4 0.2M601.2 413.8l-0.3 7.1M601 417.7l9.5 0.4M607.3 414.1l-0.1 3.9M603.1 413.9l-0.1 3.9M605.4 414l-0.1 3.9M605.1 417.9l-0.1 3.2M602.6 417.8l-0.1 3.2M608.7 418l-0.2 3.2M600.9 420.9l9.5 0.4M600.9 420.9l-0.4 9.8M600.7 427.1l9.4 0.4M604.1 421l-0.3 6.2M600.8 423.9l3.2 0.1M604 423.1l6.3 0.2M603.9 425.2l6.3 0.2M607.3 421.2l-0.1 2M606.1 423.2l0 2M608.3 425.3l-0.1 2.1M606.8 425.3l0 2M604 427.2l-0.1 3.6M607.7 427.4l-0.1 3.5M600.6 430.7l9.4 0.3M600.6 430.7l-0.2 6.5M600.4 437.2l9.4 0.4M600.4 437.2l-0.4 9.6M600.2 442.8l9.4 0.3M600.3 439.9l9.4 0.4M605.9 437.4l-0.1 2.7M602.4 437.3l-0.1 2.7M603.2 440l-0.1 2.9M606.1 440.1l-0.1 2.9M606.2 443l-0.1 4M606.2 445.1l3.3 0.2M600 446.8l9.5 0.4M600 446.8l-0.3 9.6M603.8 446.9l-0.3 9.6M599.9 450.2l3.8 0.1M599.8 454l3.7 0.1M603.6 452.8l5.7 0.2M606.7 447l-0.2 5.9M603.6 450.5l3 0.1M606.6 450.2l2.7 0.1M606.5 452.9l-0.1 3.7M599.7 456.4l9.4 0.4M599.7 456.4l0 1.1M605.4 456.6l-0.1 1.1M602.4 456.5l0 1.3M610.9 407.2l8.6 0.3M610.8 407.2l-0.1 7M616.4 407.4l-0.2 7M616.2 411.7l3.2 0.2M616.3 410.4l3.1 0.1M610.6 414.2l8.7 0.3M610.6 414.2l-0.2 7.1M613.3 414.3l-0.3 7.1M610.5 416.7l2.7 0.1M610.5 418.4l2.6 0.1M613.2 417.9l5.9 0.2M615.5 414.3l-0.1 3.7M616.8 418l-0.1 3.5M610.4 421.3l8.6 0.2M610.4 421.3l-0.4 9.7M610.1 428l8.7 0.2M614.6 421.4l-0.3 6.7M610.3 423.8l4.2 0.1M613.2 421.4l-0.1 2.4M612.6 423.8l-0.1 4.2M612.5 426.8l1.9 0M614.5 424.5l4.4 0.1M617 421.5l-0.1 3M617.2 424.6l-0.1 3.6M616.2 428.2l-0.1 3M614 428.1l-0.1 3.1M610 431l8.7 0.3M610 431l-0.2 6.5M613 431.1l-0.3 6.5M609.9 433.2l3 0.1M609.9 435.4l2.9 0.1M615.8 431.2l-0.2 6.5M612.8 435.6l2.9 0.1M612.9 432.9l2.8 0.1M615.7 433.3l2.9 0.1M615.7 435l2.8 0.1M609.8 437.5l8.7 0.3M609.8 437.5l-0.4 9.6M609.7 439.9l8.7 0.4M609.6 442.3l8.7 0.3M609.5 444.7l8.7 0.3M609.5 447.1l8.6 0.4M609.5 447.1l-0.4 9.6M609.3 451.2l8.7 0.3M615.1 447.3l-0.2 4.1M609.4 449.6l5.6 0.2M612.6 447.2l-0.1 2.5M612.8 449.7l-0.1 1.6M615 449.1l3.1 0.1M609.1 456.7l8.7 0.3M609.1 456.7l0 1.2M613.3 456.9l-0.1 1.1M610.6 456.8l0 1.2M615.3 457l0 1.1M619.5 407.5l6.7 0.3M619.5 407.5l-0.3 7M619.3 414.5l6.7 0.2M619.2 414.5l-0.1 7.1M623.1 414.6l-0.2 7.1M619.1 418.1l3.9 0.2M623 419.3l2.8 0.1M623 417l2.9 0.1M619 421.6l6.8 0.1M619 421.6l-0.3 9.7M621.6 421.7l-0.4 9.7M618.8 428.4l2.5 0.1M621.4 425.7l4.2 0.1M621.5 423.4l4.2 0.2M623 421.7l-0.1 1.8M624.3 423.5l-0.1 2.3M621.3 429.6l4.2 0.1M623.2 425.7l-0.1 3.9M622.6 429.6l-0.1 1.9M618.7 431.3l6.7 0.2M618.7 431.3l-0.2 6.5M622 431.4l-0.3 6.6M618.6 433.8l3.3 0.1M618.5 435.1l3.3 0.1M621.8 435.6l3.5 0.2M621.9 433.3l3.5 0.2M618.5 437.8l6.7 0.2M618.5 437.8l-0.4 9.6M618.2 444.3l6.8 0.2M621.2 437.9l-0.2 6.5M618.4 440.6l2.7 0M621.1 441l4 0.2M620.3 444.4l-0.1 3.1M621.7 444.4l-0.1 3.2M618.1 447.4l6.8 0.3M618.1 447.4l-0.4 9.6M617.9 453.8l6.7 0.1M621.5 447.6l-0.3 6.3M618 450.2l3.3 0.1M621.3 450.2l3.5 0.1M621.4 453.9l-0.1 3.3M617.8 457l6.7 0.3M617.8 457l-0.1 1.2M620.4 457.1l0 1.2M621.9 457.2l-0.1 1M626.3 406.7l-0.1 1M630.8 406.9l0 1M627.9 406.7l0 1.1M626.2 407.8l7.6 0.1M626.3 407.7l-0.4 7M630.9 407.9l-0.2 7M626.1 411.7l4.7 0.1M629 407.8l-0.2 4M629.3 411.8l-0.1 3M630.8 411.8l2.9 0.1M626 414.7l7.6 0.3M626 414.7l-0.3 7.1M630 414.8l-0.2 7.1M625.9 417.7l4 0.2M625.8 419.2l4 0.1M629.9 417l3.6 0.1M629.8 419.1l3.6 0.1M625.8 421.8l7.5 0.2M625.8 421.8l-0.4 9.8M625.6 426.7l7.5 0.3M630.2 422l-0.2 4.9M628.6 421.9l-0.2 4.9M625.7 423.8l2.8 0.1M628.5 423.6l1.6 0.1M630.1 424.5l3.1 0.1M628.2 426.8l-0.2 4.9M625.5 429.2l2.6 0.1M628.1 429.2l5 0.2M630.7 426.9l-0.1 2.4M625.4 431.6l7.6 0.2M625.4 431.6l-0.2 6.5M629 431.7l-0.3 6.5M625.3 435.1l3.6 0.1M628.9 434.6l4 0.1M625.2 438.1l7.5 0.3M625.2 438.1l-0.4 9.6M625 444.5l7.5 0.3M628.5 438.2l-0.2 6.5M628.4 441.7l4.2 0.2M631.5 438.3l-0.2 3.5M631.2 441.8l-0.1 3M629.1 444.7l-0.1 3.1M626.2 444.6l-0.1 3.1M624.9 447.7l7.5 0.2M624.9 447.7l-0.5 9.6M624.7 451.4l7.6 0.4M627.5 447.8l-0.1 3.7M629.4 447.8l-0.1 3.8M627.6 451.6l-0.2 5.8M624.6 454.9l2.9 0.1M627.6 453.4l4.6 0.1M630.2 451.6l0 1.9M630.8 453.5l-0.1 4M627.5 455.3l3.2 0.1M630.7 455.9l1.4 0.1M624.5 457.2l7.6 0.4M624.5 457.3l0 1.1M633.8 407l0 1M633.8 408l7 0.3M633.8 408l-0.2 7M633.7 410.1l7 0.3M636.2 408.1l-0.1 2.1M637.6 408.1l-0.1 2.2M633.6 415l6.9 0.2M633.6 415l-0.3 7.1M633.5 417.4l6.9 0.1M633.4 419.7l6.9 0.2M633.3 422.1l7 0.2M633.3 422.1l-0.3 9.7M637 422.2l-0.4 9.8M633.2 424.5l3.7 0.1M633.1 426.9l3.7 0.2M633.1 429.4l3.6 0.1M636.9 425.5l3.3 0.1M636.8 428l3.3 0.1M633 431.8l6.9 0.3M633 431.8l-0.2 6.5M632.8 436.3l7 0.3M632.9 433.7l7 0.3M635.2 431.9l-0.1 1.9M638.3 432l-0.1 1.9M636 433.8l-0.1 2.6M636.5 436.4l-0.1 2.1M632.7 438.4l7 0.1M632.7 438.3l-0.3 9.6M632.6 442.6l7 0.2M636.5 442.7l-0.2 5.4M632.5 446.1l3.8 0.1M636.4 445.4l3.1 0.1M632.4 448l7 0.1M632.4 447.9l-0.3 9.6M637.1 448.1l-0.3 9.6M632.2 454.3l4.7 0.1M632.3 450.1l4.7 0.2M634.3 448l-0.1 2.2M634.3 450.2l-0.2 4.2M632.3 452.1l1.9 0M634.2 451.9l2.7 0.1M635 454.4l-0.1 3.2M636.9 453.1l2.3 0.1M637 449.9l2.3 0M636.8 455.8l2.3 0.1M632.1 457.5l6.9 0.3M640.8 407.2l-0.1 1.1M643.7 407.1l-0.1 1.3M646.9 407.2l0 1.3M640.8 408.2l9.1 0.5M640.7 408.3l-0.1 6.9M644.7 408.4l-0.3 7M640.6 411.6l4 0.1M647.2 408.5l-0.3 6.9M644.6 411.9l2.4 0.1M647.1 410.8l2.7 0.1M647 413.1l2.8 0.1M640.5 415.2l9.2 0.3M640.5 415.2l-0.2 7.1M642.8 415.3l-0.3 7.1M645.1 415.4l-0.3 7.1M647.4 415.5l-0.2 7M640.3 422.3l9.1 0.3M640.2 422.3l-0.2 9.8M639.9 432.1l9.2 0.3M639.9 432.1l-0.2 6.5M644.2 432.2l-0.2 6.5M642.5 432.2l-0.3 6.5M639.8 435.5l2.6 0.1M642.4 435.2l1.7 0.1M646.3 432.3l-0.2 6.5M644.1 435.2l2.1 0.1M646.2 436.6l2.7 0.1M646.3 433.8l2.7 0.1M639.7 438.6l9.2 0.2M639.7 438.6l-0.3 9.6M639.6 442.1l9.1 0.3M645.8 438.8l-0.1 3.5M641.7 438.6l-0.1 3.6M643.8 438.7l-0.2 3.5M642.7 442.2l-0.2 6.1M639.5 445.4l3.1 0.1M642.6 446.4l6 0.2M646.1 442.3l-0.1 4.2M642.7 443.7l3.4 0.1M646.1 443.7l2.6 0.1M645.3 446.5l-0.1 1.9M639.4 448.2l9.1 0.3M639.4 448.2l-0.4 9.6M639.3 450.6l9.1 0.3M639.2 453l9.2 0.3M639.1 455.4l9.2 0.3M639 457.8l9.2 0.3M650 407.5l0 1.1M649.9 408.6l6.1 0.2M649.9 408.6l-0.2 6.9M653.9 408.7l-0.3 7M649.8 411.2l4 0.2M649.8 413.1l3.9 0.2M653.7 413l2.1 0M653.8 410.2l2.1 0.1M649.7 415.5l6 0.3M649.7 415.5l-0.3 7.1M649.5 420l6.1 0.3M653.1 415.7l-0.1 4.4M649.6 417.8l3.5 0.1M653.1 417.1l2.6 0.1M649.4 422.6l6.1 0.2M649.4 422.6l-0.4 9.8M649.3 426.5l6 0.1M653.6 422.8l-0.2 3.8M652.2 422.7l-0.1 3.8M649.2 429.6l6 0.2M652.9 426.6l-0.1 3.1M652.2 429.7l-0.1 2.8M649.1 432.4l6 0.2M649.1 432.4l-0.2 6.5M648.9 436.9l6.1 0.2M649 433.8l6.1 0.1M650.9 432.5l0 1.3M653.6 432.5l0 1.4M651.1 433.8l-0.1 3.1M648.9 438.9l6 0.3M648.9 438.9l-0.4 9.6M652.4 439l-0.3 9.6M648.6 445.5l3.6 0.1M648.8 441.8l3.5 0.1M648.5 448.5l6.1 0.2M648.5 448.5l-0.3 9.6M650.7 448.6l-0.2 9.6M648.4 452.3l2.2 0.1M648.3 454.7l2.2 0.1M648.2 458.1l6 0.3M656.1 406.7l-0.1 2.1M662.4 407l-0.1 2M658.9 407.6l-0.1 1.3M656 408.8l9.1 0.4M656 408.8l-0.3 6.9M655.9 411.8l9.1 0.3M658.7 408.9l-0.1 3M660.7 408.9l-0.1 3M663.3 409l-0.1 3M658.1 411.9l-0.1 3.9M660.4 411.9l-0.1 4M662.7 412l-0.1 4M655.7 415.7l9.2 0.4M655.7 415.7l-0.2 7.1M655.6 420.4l9.1 0.3M659.8 415.9l-0.2 4.6M655.6 417.9l4.1 0.2M657.3 415.8l-0.1 2.2M658 418l-0.1 2.4M661.5 415.9l-0.2 4.7M659.7 417.3l1.8 0.1M661.4 418.9l3.4 0.2M655.5 422.9l9.1 0.2M655.5 422.8l-0.4 9.8M655.4 426l9.1 0.4M659.6 423l-0.1 3.2M656.7 422.9l-0.1 3.2M662.8 423.1l-0.1 3.2M660.4 426.2l-0.3 6.6M655.3 428.3l5 0.1M658.4 426.1l-0.1 2.3M657.4 428.3l-0.1 4.4M655.2 430.2l2.2 0M657.3 430.8l2.9 0.1M655.1 432.6l9.2 0.3M655.1 432.6l-0.2 6.5M661.3 432.8l-0.2 6.5M658 432.7l-0.3 6.5M655 435l2.9 0.1M655 437.6l2.8 0.1M657.8 436.1l3.4 0.1M654.9 439.1l9.2 0.3M654.9 439.1l-0.4 9.6M654.8 443l9.1 0.3M658.5 439.2l-0.1 3.9M660.9 439.3l-0.2 3.9M657.9 443.1l-0.2 5.7M654.7 445.6l3.1 0.1M661.9 443.3l-0.2 5.7M657.7 446.7l4.1 0.2M660.4 443.2l-0.2 3.6M659 446.8l-0.1 2.1M661.8 445.7l2 0.1M654.6 448.7l9.1 0.4M654.6 448.7l-0.4 9.6M654.4 454.1l9.1 0.4M654.5 450.9l9.1 0.3M659.2 448.9l-0.1 2.1M657 448.8l-0.1 2.1M662.2 449l0 2.1M657.3 451l-0.2 3.2M660.1 451.1l-0.1 3.2M658 454.3l-0.1 4.1M661.3 454.4l-0.1 3.1M657.9 456.8l3.3 0.1M661.3 456.3l2.2 0.1M654.2 458.3l5.1 0.2M665.1 407.1l-0.1 2M665.2 406.8l6.7 0.3M669.1 407l-0.1 2.2M665.1 409.1l6.7 0.3M665.1 409.1l-0.2 7M664.9 413.9l6.7 0.2M667.9 409.2l-0.1 4.8M665 411l2.9 0.1M667.9 410.9l3.8 0.1M669.4 414l0 2.2M667.4 413.9l-0.1 2.3M664.9 416.1l6.6 0.2M664.9 416.1l-0.3 7.1M664.7 420.1l6.7 0.3M669.1 416.2l-0.1 4.1M667.1 416.1l-0.1 4.1M664.8 418.8l2.2 0.1M667.1 417.6l2 0M669.1 417.8l2.4 0.1M667.4 420.2l-0.1 3.1M664.6 423.2l6.7 0.1M664.6 423.2l-0.3 9.7M668.4 423.3l-0.3 9.8M664.4 428.4l3.8 0.2M664.5 426.5l3.8 0.2M668.3 426.4l2.9 0.1M668.1 430.6l2.9 0.1M668.2 428.4l2.9 0.1M664.3 432.9l6.6 0.2M664.3 432.9l-0.2 6.5M668.5 433.1l-0.2 6.5M666.2 433l-0.2 6.5M664.2 435.9l1.9 0.1M666.1 436.6l2.3 0.1M668.4 435.2l2.5 0.1M668.4 437.4l2.4 0.1M664.1 439.4l6.6 0.2M664 439.4l-0.3 9.6M668.4 439.6l-0.4 9.6M663.9 442.8l4.4 0.1M666 439.5l-0.1 3.3M665.5 442.8l-0.2 6.3M665.4 446.2l2.8 0.1M668.2 445.3l2.3 0.1M668.3 441.7l2.3 0.1M663.7 449l6.7 0.3M663.7 449l-0.3 8.6M663.6 452.7l6.7 0.2M667.6 449.2l-0.1 3.6M666.6 452.8l-0.1 4.7M663.5 456.4l3 0.1M666.5 456.4l3.6 0.1M671.8 407.3l-0.1 2M671.9 406.9l7.2 0.3M674.7 407l-0.1 2.4M676.5 407.1l-0.1 2.4M671.8 409.3l7.2 0.3M671.8 409.3l-0.3 7M674.2 409.4l-0.2 7M676.6 409.5l-0.3 7M671.5 416.3l7.3 0.2M671.5 416.3l-0.1 7.1M673.9 416.4l-0.2 7.1M676.3 416.5l-0.2 7.1M671.5 418.5l2.4 0.1M671.3 421.7l2.4 0.1M673.8 419.6l2.4 0.1M676.3 419l2.4 0.1M676.2 421.1l2.4 0.1M671.3 423.4l7.2 0.2M671.3 423.4l-0.3 9.8M671.1 427.9l7.2 0.3M671.2 426l7.2 0.3M676 423.6l-0.1 2.6M674.2 423.5l-0.1 2.6M674.2 426.1l-0.1 1.9M676.8 426.2l-0.1 1.9M675.6 428.1l-0.2 5.2M671 430.2l4.5 0.2M672.5 428l0 2.3M673.5 430.3l-0.1 2.9M675.6 429.8l2.7 0.1M670.9 433.1l7.3 0.3M671 433.2l-0.3 6.5M675.9 433.3l-0.2 6.5M670.8 436.8l5 0.2M674.3 433.3l-0.1 3.7M672.7 436.9l-0.1 2.8M675.8 436.7l2.2 0.1M670.7 439.7l7.2 0.2M670.7 439.7l-0.3 9.6M673.1 439.7l-0.3 9.6M670.6 443.8l2.4 0.1M670.6 442l2.4 0.1M670.5 446.8l2.4 0M675.9 439.8l-0.3 9.6M672.9 446.3l2.8 0.1M673 444.3l2.8 0.1M673.1 441.2l2.8 0.1M675.8 443.5l2 0.1M675.7 446.8l2 0.1M670.4 449.3l7.2 0.2M670.4 449.3l-0.3 8.5M670.3 452.5l7.2 0.2M674.3 449.4l-0.1 3.2M672.7 452.5l-0.2 5.4M675.1 452.6l-0.2 5.4M679.1 407.5l-0.1 2.1M684.1 406.7l-0.1 3.1M681.2 407.6l-0.1 2.1M679.1 407.2l2.1 0M681.2 406.9l2.9 0.1M679 409.6l8.5 0.3M679 409.6l-0.2 7M678.9 413.6l8.5 0.2M683.3 409.7l-0.2 4M681.6 409.7l-0.2 3.9M684.7 409.8l-0.2 3.9M683.1 413.7l-0.1 3M680.9 413.6l-0.1 3M684.6 413.7l-0.1 3.1M678.8 416.6l8.5 0.2M678.7 416.6l-0.2 7M681.3 416.6l-0.3 7.1M678.6 420.4l2.6 0.1M681.2 418.8l6 0.2M685.4 416.8l0 2.2M683.4 416.7l-0.1 2.2M684.2 418.9l-0.2 4.9M681.1 422.2l3 0.1M684.1 420.9l3 0.1M678.5 423.6l8.5 0.4M678.5 423.6l-0.4 9.8M678.3 430.2l8.5 0.3M678.4 427.3l8.5 0.3M680.6 423.7l-0.1 3.7M682.8 423.8l-0.2 3.7M684.9 423.9l-0.1 3.7M680.9 427.4l-0.1 2.9M683.5 427.5l-0.1 2.9M683.7 430.4l-0.1 3.2M680 430.3l-0.2 3.2M678.2 433.4l8.5 0.3M678.2 433.4l-0.2 6.5M681.7 433.5l-0.2 6.5M678.1 436.5l3.5 0.2M681.7 435.8l4.9 0.1M683.7 433.6l-0.1 2.2M683.7 435.8l-0.2 4.3M681.6 438.1l2 0M683.6 438.7l2.9 0.1M677.9 439.9l8.5 0.3M677.9 439.9l-0.2 9.6M682.6 440.1l-0.3 9.6M677.9 442.3l4.7 0.2M677.8 444.7l4.7 0.2M677.7 447.1l4.7 0.2M682.4 445.7l3.8 0.2M682.6 442.5l3.8 0.2M677.6 449.5l8.5 0.4M677.6 449.5l-0.3 8.6M677.5 453.8l8.5 0.2M677.5 451.7l8.5 0.3M681.7 449.7l-0.1 2.1M679.3 449.6l-0.1 2.2M683.3 449.7l-0.1 2.2M683 451.9l-0.1 2.1M680.6 451.8l-0.1 2.1M681.9 453.9l-0.1 4.3M681.8 456.6l4.1 0.2M683.5 454l-0.1 2.7M683.1 456.7l0 1.3M687.6 406.8l-0.1 3.1M690.4 406.8l-0.1 3.2M687.6 408l2.8 0.1M690.4 408.6l1.1 0M687.5 409.9l3.3 0.1M687.5 409.9l-0.2 6.9M687.4 412.2l3.3 0.1M687.3 414.5l4.4 0.2M687.3 416.8l4.3 0.2M687.3 416.8l-0.3 7.1M687.2 419.2l4 0.1M689.8 416.9l-0.1 2.4M690.4 419.3l-0.2 4.8M687.1 422.4l3.2 0.1M687 423.9l4.4 0.2M687 423.9l-0.4 9.8M689.7 424l-0.4 9.8M686.8 429.1l2.7 0.1M687 425.6l2.7 0.1M686.8 431.2l2.7 0.1M689.5 430l2 0M689.6 427.5l2 0M691.6 430.1l-0.1 3.8M686.7 433.7l4.3 0.2M686.7 433.7l-0.3 6.5M689.5 433.8l-0.1 4.3M686.6 436.2l2.8 0.1M689.4 438.1l1.1 0M689.5 435.4l1.1 0.1M686.4 440.2l-0.3 9.6M686.1 449.8l-0.3 8.6M561.3 448.8l5.2 0M561.7 453.9l4.8 0M561.3 459.8l5.2 0M566.5 443.8l0 5.1M570.5 443.8l0 5.1M566.5 448.8l5.2 0.1M566.5 448.9l-0.1 10.9M566.5 459.9l5.2 -0.1M566.5 459.8l0 2.2M605.4 463.5l0.1 13.9M604.3 477.4l6.4 0M610.7 463.5l0 13.9M610.7 471.4l11.4 0.1M614.1 463.6l0 7.8M610.7 477.4l11.4 0M610.7 477.4l0 5.1M622.1 463.5l0 13.9M622.1 477.3l2.1 0.1M622.1 477.4l0 5.1M600.6 484.6l4.3 0.9M598.7 488.9l5.3 1.2M599.3 485.8l5.3 1.1M600.7 484.6l-0.3 1.4M602.8 485l-0.3 1.5M600.8 486.1l-0.7 3.1M601.4 489.5l-0.8 3.3M599 492.5l4.3 0.9M598.5 492.4l-1.9 8.9M595.8 499.3l1.2 0.2M597.9 495.3l4.8 1M600.4 492.8l-0.6 2.9M601.1 495.9l-1.3 6M597.5 497.3l3.1 0.6M597.1 499.3l3.1 0.6M600.6 498l1.6 0.3M600.1 500.3l1.6 0.4M594.9 500.9l6.4 1.5M595.8 501.1l-1.5 7.2M593.2 503.2l2.1 0.4M593.1 503.2l-0.7 3.5M592.5 506.3l2.1 0.5M598.8 501.7l-1.5 7.3M595 504.7l3 0.6M598 505.3l2.6 0.6M592.3 507.9l7.5 1.7M595.6 508.6l-0.7 3.1M594.1 510.4l1 0.2M596.6 514.1l2.2 0.5M595.1 510.9l4.2 0.9M597.7 509l-0.5 2.4M597 511.4l-0.6 2.7M605.2 484.4l-0.2 1.1M609.6 484.2l-0.4 2.2M607.9 484.9l-0.3 1.2M604.9 485.5l6.9 1.4M604.9 485.5l-1.5 7.9M604.1 489.5l6.8 1.4M607.9 486.1l-0.9 4M604.4 488.2l2.9 0.6M607.5 487.8l3.9 0.8M608 490.3l-0.8 3.9M606.4 490l-0.8 3.9M603.3 493.4l6.8 1.5M603.3 493.4l-1.9 8.9M602.4 497.5l6.8 1.4M607.2 494.2l-0.8 4.1M602.7 496l4 0.8M605.3 496.5l-0.3 1.5M606.7 496.5l2.9 0.6M604.8 498l-1 4.8M601.9 500l2.4 0.5M604.4 499.9l4.4 0.9M606.7 498.4l-0.4 1.9M606.7 500.3l-0.6 3M601.4 502.3l6.8 1.4M601.4 502.3l-1.6 7.2M605.8 503.2l-1.4 7.3M600.6 505.7l4.5 1M603.3 502.7l-0.7 3.4M603.8 506.4l-0.9 3.8M605.2 506.2l2.3 0.5M604.8 508.3l2.3 0.5M599.8 509.5l6.8 1.4M599.8 509.5l-1.4 7.2M598.9 514.1l6.8 1.4M599.5 511.2l6.8 1.4M602.5 510.1l-0.4 1.7M604.1 510.4l-0.4 1.7M602.2 511.8l-0.6 2.9M604.9 512.4l-0.6 2.8M601.7 514.7l-0.5 2.4M604 515.2l-0.5 2.4M612.2 484.7l-0.4 2.2M617.5 484.7l-0.7 3.3M616.6 484.3l1 0.2M613.9 484.9l-0.5 2.4M617.4 485.1l2.6 0.6M611.7 486.9l7.7 1.7M611.7 486.9l-1.5 8M615.2 487.7l-1.7 7.9M617.4 488.1l-1.6 7.9M614.6 490.7l2.2 0.4M613.9 493.5l2.3 0.5M616.3 493.2l2 0.5M616.9 490.7l2 0.4M610.1 494.8l7.6 1.7M610.1 494.8l-1.9 8.9M609.3 498.6l7.7 1.6M613.5 495.6l-0.8 3.8M615.3 496l-0.8 3.7M612.3 499.3l-1.1 5.1M608.9 500.3l3.1 0.6M611.9 501.4l4.6 1M614.7 499.8l-0.4 2.1M614.4 501.9l-0.6 3M608.2 503.7l7.7 1.6M608.2 503.7l-1.5 7.3M612.9 504.7l-1.6 7.2M607.6 506.5l4.7 1M610.8 504.3l-0.6 2.7M607.2 508.2l4.7 1M610.7 507.1l-0.4 1.8M610.3 508.9l-0.6 2.7M612.4 507l3 0.7M611.9 509.4l3 0.6M606.6 510.9l7.7 1.8M606.6 510.9l-1.5 7.2M606.2 513l7.7 1.6M605.8 515.1l7.7 1.5M605.3 517.1l7.7 1.6M606 519.4l6.6 1.4M620.4 484.2l-1 4.4M625.3 484.1l-1.2 5.5M624 484.2l1.2 0.2M619.8 487l4.6 1M623.5 484l-0.8 3.6M621.5 487.3l-0.4 1.6M627.2 484.5l-1.1 5.5M625.1 484.9l1.9 0.4M624.4 488.1l1.9 0.4M626.7 486.7l2.8 0.5M628.7 484.1l1.4 0.3M619.4 488.6l9.4 2M619.4 488.6l-1.7 7.9M618.4 493.6l9.3 2M619 490.4l9.4 1.9M622.3 489.2l-0.4 1.8M626.2 490l-0.4 1.8M623.6 489.4l-0.4 1.9M623 491.2l-0.7 3.3M620.4 490.7l-0.7 3.2M625.4 491.7l-0.7 3.3M624.1 494.9l-0.6 2.8M622.1 494.4l-0.6 2.9M617.7 496.5l9.4 1.9M617.8 496.5l-1.9 8.9M621.7 497.3l-1.8 8.9M619.2 496.8l-1.8 8.9M617.1 499.4l1.5 0.3M618.5 500.4l2.5 0.5M618 502.6l2.5 0.5M621.1 500.2l5.4 1.2M625.2 498l-0.6 3M620.7 502.2l5.4 1.2M620.3 504.2l5.4 1.2M615.9 505.3l9.3 2.2M615.8 505.4l-1.4 7.2M621.7 506.6l-1.5 7.2M615.2 508.6l5.9 1.3M619 506l-0.7 3.3M614.6 511.3l5.9 1.4M618.4 509.3l-0.6 2.7M618.4 512.2l-0.3 1.2M621.2 509l3.5 0.8M620.7 511.4l3.5 0.8M614.3 512.6l9.4 2M614.3 512.6l-1.8 8.1M619.4 513.7l-1.8 8.1M613.4 517.1l5 1.1M616.6 513.1l-1 4.5M613.8 515.2l2.2 0.5M616 515.6l2.8 0.6M615.8 517.6l-0.8 3.7M618.6 516.9l4.4 0.9M622.2 514.3l-0.7 3.2M621.1 517.4l-1 4.9M618.3 518.8l2.4 0.5M620.6 519.8l1.9 0.4M612.6 520.8l7.3 1.4M616 521.5l-0.2 1.1M635.6 483.9l2.1 0.5M630.2 484l-1.5 6.5M629.4 487.6l7.3 1.6M632.5 484.5l-0.8 3.6M630.1 484.6l2.3 0.5M634.8 483.8l-1 4.8M632.1 486.3l2.1 0.5M634.2 486.9l2.8 0.6M633.9 488.6l-0.6 2.9M631.6 488.1l-0.6 2.9M628.8 490.6l7.3 1.5M628.8 490.6l-1.6 7.9M627.8 495.4l7.2 1.5M631.2 491.1l-1 4.8M628.3 492.8l2.4 0.5M634 491.7l-1 4.8M630.7 493.3l2.9 0.6M633.5 494.3l2 0.4M630.8 496.1l-0.6 3M632.1 496.3l-0.6 3.1M627.1 498.5l7.3 1.5M627.1 498.5l-1.8 8.9M626.3 502.3l7.3 1.6M630.6 499.2l-0.8 3.9M625.9 504.3l7.2 1.6M628.7 502.9l-0.4 1.9M631.1 503.4l-0.4 1.9M629.8 505.1l-0.7 3.1M625.2 507.4l7.3 1.5M625.2 507.4l-1.5 7.2M624.2 512.4l7.2 1.5M629 508.2l-1 5M624.5 510.9l3.8 0.8M626.6 512.9l-0.5 2.2M629 513.4l-0.5 2.2M623.7 514.6l7.3 1.6M623.7 514.6l-1.5 7.1M622.6 519.9l7.2 1.5M623.3 516.6l7.2 1.6M626.2 515.1l-0.4 2M628.4 515.6l-0.4 2M627 517.4l-0.7 3.3M624.6 520.3l-0.3 1.4M643.4 484.5l-0.2 1M641.3 483.8l-0.3 1.3M637.7 484.4l7.9 1.6M637.7 484.4l-1.6 7.7M636.8 488.6l7.9 1.7M641.8 485.3l-0.9 4.2M641.3 487.9l3.7 0.8M640.8 489.4l-0.8 3.5M639.3 489.1l-0.8 3.5M643 489.9l-0.8 3.5M636.1 492.1l7.8 1.7M636.1 492.1l-1.7 7.9M635 497l7.9 1.7M639.2 492.8l-1.1 4.9M635.7 493.9l3.1 0.7M638.8 494.4l4.8 1M641.3 493.2l-0.4 1.7M640.8 494.9l-0.7 3.2M638.7 497.8l-0.7 3M634.4 500l7.9 1.7M634.4 500l-1.9 8.9M633.2 505.5l7.9 1.6M638.3 500.8l-1.1 5.5M636.3 500.4l-1.2 5.4M633.7 503.3l1.9 0.4M635.7 503l2.1 0.4M637.7 503.7l3.9 0.8M636.3 506.1l-0.8 3.5M639.5 506.8l-0.7 3.4M632.5 508.9l7.9 1.7M632.5 508.9l-1.6 7.2M631 516.1l7.8 1.8M631 516.1l-1.1 5.1M630.3 519.5l7.8 1.7M635.9 517.2l-0.7 3.3M634.2 516.8l-0.7 3.3M632.9 520l-0.2 1.2M646 483.9l-0.4 2.2M648 484.4l-0.4 2.1M650 483.6l-0.7 3.3M649.7 484.9l2.8 0.6M645.6 486.1l6.5 1.3M645.6 486.1l-1.7 7.7M645 488.9l6.5 1.4M647.9 486.6l-0.6 2.8M649.3 486.8l-0.6 2.9M647.5 489.4l-1 4.9M644.5 491.3l2.5 0.5M649.8 489.9l-1 4.9M646.9 492.2l2.3 0.5M649.1 493.3l1.7 0.3M643.9 493.8l6.5 1.4M643.9 493.8l-1.6 7.9M643.3 496.8l6.5 1.4M646 494.2l-0.6 3.1M648.8 494.8l-0.7 3M647.5 497.7l-1 4.9M642.6 500l4.2 0.9M645 497.2l-0.7 3.1M644.6 500.4l-0.3 1.7M646.9 500.3l2.3 0.5M642.2 501.7l6.5 1.4M642.3 501.7l-2 8.9M641.6 504.9l6.5 1.4M644.9 502.2l-0.7 3.3M641.1 507.2l6.5 1.4M644.6 505.6l-0.4 2.2M644 507.8l-0.7 3.4M640.4 510.6l6.5 1.4M640.4 510.6l-1.6 7.2M639.4 514.9l6.5 1.4M639.8 513.3l6.5 1.4M642.8 511.1l-0.6 2.7M644.5 511.5l-0.5 2.7M643.7 514.2l-0.3 1.6M642.2 513.8l-0.3 1.6M642.4 515.5l-0.7 2.9M638.8 517.8l6.5 1.4M638.8 517.8l-0.6 3.1M642.6 518.6l-0.2 1.2M652.8 484.3l-0.7 3.2M655.8 483.8l-0.9 4.3M654.4 483.5l1.4 0.3M652.5 485.3l2.9 0.6M655.8 483.9l1.4 0.3M655.3 486.5l1.4 0.3M652.1 487.4l5.3 1.2M652.1 487.4l-1.6 7.8M655.4 488.2l-1.5 7.7M651.6 489.8l3.4 0.7M654.6 492l3.2 0.7M658.7 494.2l-0.6 2.6M656.6 492.4l-0.8 3.9M650.4 495.2l8.6 1.8M650.4 495.2l-1.7 7.8M649.9 497.7l9.6 2.1M654.7 496.1l-0.5 2.5M651.8 495.5l-0.5 2.5M658.4 496.8l-0.6 2.6M656.1 499l-1.1 5.4M654 498.6l-1.1 5.3M649.4 500.1l4.1 0.9M652 498.2l-0.5 2.4M652.3 500.7l-0.7 3M653.6 500.8l2.1 0.4M655.4 502.7l3.3 0.7M648.8 503l9.6 2.1M648.8 503.1l-2 8.8M652 503.7l-2 8.9M655.2 504.4l-2 8.9M647.9 507.1l3.2 0.7M648.2 505.4l3.3 0.7M647.2 510.3l3.2 0.6M650.9 508.9l3.2 0.7M651.3 507l3.2 0.7M654.6 507.2l3.2 0.7M653.7 511.4l3.2 0.7M654.1 509.6l3.2 0.6M646.9 512l9.6 2M646.9 512l-1.5 7.2M646.1 515.5l7.5 1.6M651.5 512.9l-0.8 3.6M649.7 512.6l-0.7 3.5M653.5 513.4l-0.8 3.5M649.4 516.2l-0.5 2.4M651.5 516.6l-0.3 1.3M645.3 519.2l2.2 0.4M645.3 519.2l-0.2 1M659.9 498.2l-1.6 6.9M659.5 500l1 0.2M661.4 501.5l-0.9 4.1M662.9 505l-0.2 1M658.4 505.1l4.3 0.9M658.4 505.1l-1.9 8.9M662.7 506l-1.6 8M657.5 509.3l4.3 0.9M658 507.1l4.3 0.9M660.5 505.6l-0.4 1.9M660.4 507.6l-0.4 2.2M657.2 510.8l4.3 0.9M659 509.6l-0.3 1.5M659.7 511.3l-0.7 3.2M662.1 508.9l2.2 0.4M664.8 510.5l-0.4 2M661.5 511.5l3 0.7M656.5 514l3.2 0.7M656.5 514l-0.5 2.1M344.1 266.4l2.9 1.1M343.7 273.4l1 0.4M347.3 266.4l-0.4 1M347 267.4l4.1 1.5M347 267.4l-2.3 6.7M351.4 271.2l-1 2.9M345.3 272l5.1 1.9" fill="none" stroke="#74b2b2" stroke-width="0.62"/>
<g transform="translate(367.8,127.7) scale(0.18,0.179)"><use href="#blobFill" filter="url(#fBlur)"/></g>
<g fill="none" stroke="#8a8a8a" stroke-width="0.6">
<path d="M311.8 270L342.2 283.1L372.7 298.3L377 320.1L373.6 346.2"/>
<path d="M356.1 239.6L361.8 272.2L368.3 307L374.9 346.2L377.5 337.8L371.1 354.6L356.8 359.8"/>
<path d="M311.5 366.3L325.7 344.2L367.2 366.3L320.5 467.3L311.5 485.4"/>
<path d="M397 354.6L402.2 387L419 431L415.1 451.8L420.3 464.7L430.6 471.2L430.6 482.8"/>
<path d="M442.3 349.4L444.9 407.7L447.5 477.7"/>
<path d="M320.5 467.3L343.9 477.7L382.7 486.7L408.6 485.4L430.6 482.3L447.5 477.7L486.3 459.5L527.8 446.6L545.9 445.3"/>
<path d="M535.6 446.6L530.4 464.7L535.6 485.4L527.8 511.3L518.7 532.1"/>
<path d="M531.7 319.6L531.7 358.5L555 340.4"/>
<path d="M625.1 261.8L594.6 285.3L559.8 328.8L531.5 354.9"/>
<path d="M630.3 263.5L629.4 328.8L627.2 407.1L624.2 472.4"/>
<path d="M568.5 533.3L579.4 515.9L590.3 498.5"/>
<path d="M442.3 239.6L433.6 280.9L424.9 320.1"/>
<path d="M546.7 239.6L540.2 285.3L531.5 354.9"/>
<path d="M668.6 498.5L681.6 520.3L692.5 524.6"/>
<path d="M692.5 498.5L672.9 481.1L668.6 463.7"/>
</g>
<path d="M692.5 271.3L683.8 268.7L675.1 270.5L664.2 265.7L646.8 263.5L633.8 262.2L622.9 261.3L617.2 263.5L615.5 276.6L612 307L607.7 337.5L601.1 372.3L596.8 402.8L594.6 424.5L596.8 437.6L599.8 450.6L599 468L596.8 485.4L592.4 498.5L590.3 515.9L594.6 531.1" fill="none" stroke="#000" stroke-width="3.2" stroke-linejoin="round" stroke-linecap="round"/>
</g>
<rect x="312" y="239" width="381" height="294" fill="none" stroke="#b4b4b4" stroke-width="0.7"/>
<path d="M330 233.5V239M330 533V538.5M398.9 233.5V239M398.9 533V538.5M467.8 233.5V239M467.8 533V538.5M536.7 233.5V239M536.7 533V538.5M605.6 233.5V239M605.6 533V538.5M674.5 233.5V239M674.5 533V538.5M306.5 257H312M693 257H698.5M306.5 326.1H312M693 326.1H698.5M306.5 395.2H312M693 395.2H698.5M306.5 464.3H312M693 464.3H698.5M306.5 533.4H312M693 533.4H698.5" stroke="#444" stroke-width="0.9" fill="none"/>
<text x="362" y="302.7" font-size="21.8" fill="#000">San Rafael</text>
<text x="579.5" y="458" font-size="21.5" fill="#000">Gral. Alvear</text>
</g>
<g id="mainmap">
<clipPath id="cMain"><rect x="24.7" y="720.4" width="816.3" height="575.1"/></clipPath>
<rect x="24.7" y="720.4" width="816.3" height="575.1" fill="#fff" stroke="none"/>
<g clip-path="url(#cMain)">
<path d="M26.5 725.6l8.1 3.1M26.1 738.1l4.1 1.5M37.4 721.6l-3.1 7.4M56.6 720.7l-6.1 14.8M43.2 721.8l-3.9 9.2M40.8 720.7l2.6 1M58.8 720.5l5.6 2.4M34.4 729l23.6 9.6M34.5 729.1l-9.1 21.9M26.7 753.8l21.6 8.7M26.1 760.9l19.5 8.5M35.6 757.4l-2.8 6.2M32.2 756.1l-2.5 6.3M41.3 759.7l-2.4 6.4M26.1 778l13.7 5.8M25.6 790.5l9.8 4.1M30.7 792.5l-3.7 9.8M25.7 801.6l6 2.3M83.1 720.7l3.8 1.6M64.8 721.8l-6.6 16.8M58 738.6l19.2 7.6M58.1 738.6l-10.1 23.8M55 746.1l19.2 7.5M64.5 749.9l-6.8 16.4M51.2 755.5l9.5 3.8M61.8 756.4l9.7 4M48.3 762.7l19.3 7.3M48.4 762.6l-8.9 20.8M58.6 766.7l-8.6 20.9M42.6 776.8l10.2 4.2M53.2 780l9 3.5M56.8 771l8.9 3.8M39.9 783.4l19 8.2M39.8 783.5l-8.2 20.7M31.6 804.1l19 7.9M31.5 804.1l-6.5 16.2M29.3 809.8l18.9 8.1M43.5 808.9l-2.3 5.8M37.4 806.5l-2.3 5.7M40.9 814.6l-4.2 10.4M36.3 812.7l-4.4 10.3M26.5 816.7l7 2.9M34 818.4l4.6 1.9M38.5 820.5l7.6 2.8M25 820.3l19.2 7.7M37.6 825.3l-5.7 14.9M25.2 831.9l8.5 3.4M27.6 832.8l-2 4.9M35.4 831l6.4 2.8M26.7 838.2l11.4 4.8M30.2 839.5l-4.4 9.9M87.5 720.2l-0.8 1.8M105.8 720.3l4 1.6M87 722.1l19.4 8.2M87 722.2l-10 24M94.9 725.4l-10.1 24M77.1 746.5l19.9 7.1M77.2 746.3l-9.7 24M67.5 770.2l19.4 8.3M67.6 770.3l-8.9 20.8M62.8 782l19.6 7.5M78.3 774.7l-4.8 11.5M64.7 777.3l10.8 4.2M72.1 772.1l-2.8 7M69 778.9l-1.9 4.7M76 780.2l8.8 3.5M69.7 784.7l-4 9.3M59 791.2l19.5 8.2M59 791.3l-8.2 20.6M54.2 803.1l19.6 7.9M50.6 811.9l19.7 7.6M50.7 811.9l-6.6 16.1M44.2 828l19.5 8M44.1 828l-5.6 14.9M51.1 830.8l-6 14.7M47.8 838.8l12.7 5M53.9 841.2l-2.7 6.8M38.2 842.8l17.7 6.8M38 842.7l-2.1 6M46 845.9l-1.4 3.8M51.1 848l-0.7 1.8M126.8 720.8l6.1 2.4M110.2 720.6l-4.1 9.3M110.5 720l20.4 8.1M126.3 720.6l-2 4.9M118.6 720.4l-1 2.4M120.1 723.8l-4.3 10M124.5 725.6l-4.1 10M106.5 730l20.3 8.2M106.5 730l-9.9 24.2M100.9 743.8l20.2 8.5M119.9 735.5l-5.5 13.9M104.6 734.7l13.4 5.6M109.3 736.6l-4 9.1M116.3 744.4l6.9 2.7M99.2 748l20.3 8.4M113 748.8l-1.7 4.2M108.1 746.8l-1.7 4.2M96.7 754.2l20.3 8.3M96.8 754.2l-10.2 23.8M87 778.3l20.5 7.8M87.1 778.2l-8.7 20.9M82.8 788.7l20.3 8.1M96.6 782.1l-4.3 10.4M85.3 782.5l9.5 3.9M78.5 799.3l20.6 7.5M78.6 799.2l-8.5 20.5M88.2 803.1l-8 20.7M73.6 811.5l9.7 3.9M83.3 815.4l10.6 4.3M85.9 809.1l10.6 4.2M94.3 805.5l-2.3 6.1M90.4 818.3l-3.5 8.2M70.2 819.8l20.4 7.9M70.2 819.7l-6.4 16.2M77.3 822.6l-6.6 16.1M65.9 830.4l7.1 2.8M68.5 823.9l7.1 2.8M74.4 829.8l13.3 5.2M85.2 825.8l-2.9 7.2M82.8 833.2l-3.7 8.9M63.7 835.9l20.4 8.1M63.6 835.9l-4.8 12.7M70 838.4l-4.3 10.6M60.6 843.5l6.3 2.6M133.6 721.3l-0.8 1.9M141.2 720.4l10.1 4.4M146.1 720.1l-0.8 1.9M138.9 722.6l-1 2.6M132.9 723.2l16.4 6.7M132.8 723.2l-5.9 15.1M140.6 726.4l-6.2 14.9M138.4 731.7l8.6 3.9M126.8 738.2l16.4 6.7M126.8 738.3l-9.8 24.1M123.6 746.3l16.3 6.7M120.3 754.3l16.3 6.8M134.6 741.4l-3.2 8.1M134.7 750.8l-3.4 8M128.6 748.3l-3 8.2M126.7 756.9l-3.3 8.1M117 762.4l16.4 6.7M117.1 762.4l-10 23.9M107.4 786.3l16.2 7M107.3 786.4l-8.5 21M115.2 789.6l-8.5 21M103.7 795.4l7.8 3.3M110.1 802.1l8.6 3.3M98.8 807.4l16.5 6.4M98.8 807.4l-8.1 20.6M108.5 811.3l-8.4 20.5M103.5 823.6l6.8 2.6M90.5 828l16.5 6.5M90.5 828l-6.4 16.1M88.2 833.9l16.5 6.3M98.2 831.1l-2.7 5.7M86.7 837.4l16.6 6.3M98.2 837.9l-1.4 3.5M84 844.1l14.4 5.8M84.1 844.1l-1.8 4.2M153.3 720.2l-3.7 9.8M159.9 720.5l13.7 5.5M151.8 723.5l19.5 8.1M149.2 729.9l19.8 7.6M149.2 729.8l-5.6 15.2M156.7 732.9l-5.8 15.1M153.2 741.8l12.1 4.7M163.3 735.5l-3.6 8.9M143.2 744.9l19.6 7.8M143.2 744.9l-9.9 24.1M137.9 758l19.5 8.2M153 748.8l-5 13.3M140.5 751.5l9.9 4M144.9 760.9l-4.8 10.8M136 762.8l6.9 2.9M142.5 766.7l12.6 5M149.9 762.9l-2.1 5.9M151 770.1l-2.1 5.2M133.4 769.2l19.8 7.3M133.4 769l-9.6 24M123.7 793.1l19.7 7.6M123.8 793.1l-8.8 20.8M118.9 804.9l19.6 8M135.6 797.8l-4.7 12M133.8 802.2l7.7 3.2M132 810.3l-3.4 9.1M125.5 807.6l-3.6 9.1M115.3 813.9l19.4 8.4M115.4 814l-8.8 20.5M107 834.5l19.5 8.2M107 834.6l-5.9 14.1M113.7 837.3l-4.8 12.2M104.2 841.5l6.7 2.7M186.9 720.1l3.8 1.5M175.9 720.3l-7 17.5M172.3 729.2l1.9 0.8M168.8 737.9l3.8 1.4M168.9 737.8l-6.2 15M176.2 756l-0.8 1.9M166.5 743.7l4.2 1.7M172.1 748.6l-2.8 6.8M162.8 752.7l15 6.3M162.8 752.8l-9.8 24.1M160.4 758.6l20.4 9.2M157.8 765l21 7.8M155.5 770.8l20.6 8.8M153 776.9l20.7 8.5M153 776.9l-9.5 24.1M148.3 788.7l20.6 8.8M143.4 800.8l20.5 8.9M143.3 800.9l-8.5 21M141.2 806.3l20.9 7.9M139.1 811.4l20.7 8.6M137 816.7l20.8 8.2M134.8 821.9l20.8 8.3M134.8 821.9l-8.1 20.7M147.1 826.9l-6.3 14.8M130.3 833.2l12.3 4.6M143 825.2l-4.8 11.1M132.2 828.5l8.1 3.2M140.2 831.8l4.1 1.7M137.1 835.9l-3.8 9.3M144 834.3l8.6 3.4M141.4 840.8l2.1 0.8M126.6 842.5l5.6 2.3M126.5 842.5l-2.4 6.1M210.3 720.8l1.8 0.8M182 764.9l-8.5 20.3M181.1 767.2l3.7 1.5M197.8 774.1l5.5 2.3M178.6 773.3l22.5 8.7M176.2 779.2l22.2 9.4M191 778.2l-2.4 6.1M186.9 776.6l-2.4 6.1M173.8 785.3l22.2 9.2M173.8 785.3l-9.8 24M168 799.5l22.1 9.6M188.7 791.4l-6 14.2M171.4 791.3l15 5.6M176 793.1l-3.2 8.5M186.3 797.1l7.5 3M182.7 805.6l-4 9.6M164.1 809.3l22.3 9.1M164.1 809.3l-8.5 21M178.1 815l-6.7 17.2M169.9 811.7l-8.7 20.9M161 816.9l5.8 2.3M157.4 825.9l5.7 2.3M165.6 822.1l8.4 3.3M167.4 817.7l8.4 3.2M162.8 829l8.4 3.3M172.9 828.2l4 1.7M155.6 830.4l9.3 3.6M155.6 830.3l-3.1 7.5M160.6 832.3l-1 2.5M216.9 772.5l-0.7 1.9M211.7 772.6l9.6 4M204.4 773.9l-8.6 20.3M196.1 794.3l15.4 6.5M196 794.3l-9.3 24.2M201.6 796.6l-9.6 24M191.5 805.7l5.6 2.3M189.7 810.2l5.6 2.2M186.4 818.4l11.7 4.6M186.4 818.3l-3.8 9.6M183.8 824.7l3.9 1.5M192.3 820.7l-1.7 4.3M243.6 721.3l-7.4 18.8M239.1 732.6l1.9 0.8M236 740.2l2 0.7M236 740.1l-0.8 1.9M223.7 770.9l-2.1 5.6M221.3 776.5l2 0.8M221.3 776.4l-9.4 24.3M216.1 789.5l3.9 1.5M219.2 781.7l4 1.6M211.6 800.6l3.9 1.6M211.6 800.6l-8 20M207.6 810.6l3.9 1.5M25.4 857.6l6 2.4M28.2 858.8l-3.2 7.7M35.3 850.7l-3.6 9.5M34.9 851.3l15.4 6.3M51.1 850.1l2 0.8M46.1 850.5l-1.8 4.6M38.8 850.2l-0.9 2.4M38.8 850l6.5 2.5M41.2 851l-1 2.5M33.1 855.7l15.6 6M41.5 854l-1.8 4.3M39.2 853.1l-1.7 4.3M45.5 855.6l-1.8 4.3M37 857.2l-1.8 4.4M40.9 858.8l-1.8 4.4M44.8 860.3l-1.8 4.4M31.4 860.1l15.4 6.2M31.3 860l-5.7 15.7M37.9 862.7l-6.1 15.5M27.2 870.4l6.6 2.6M29.9 863.8l6.5 2.8M34 861.1l-1.5 3.8M32.3 864.8l-2.7 6.5M28.5 867.2l2.4 0.9M31.2 867.4l4.2 1.7M29.4 871.2l-2.1 5.2M36.4 866.6l8.9 3.4M34.8 870.5l8.9 3.5M33.3 874.3l8.8 3.8M43 864.7l-1.6 3.9M39.8 868l-1.6 3.8M39.2 872.2l-1.5 3.9M39.3 876.8l-1.5 3.8M25.1 875.5l15.5 6.3M26.2 889.7l9.7 3.6M35.6 879.8l-4.4 11.9M32.4 887.9l4.9 2M33.7 884.8l4.9 2M27.2 890.1l-1.7 4.1M26.1 892.8l8.6 3.5M30.9 891.6l-1.1 2.7M29.5 894.2l-2.2 5.5M26.7 899.4l5.8 2.4M26 912.4l1.9 0.8M26.9 903.7l4.2 1.6M25.4 907.5l4.1 1.8M77.1 850.3l1.9 0.8M66.4 850.1l11.3 4.3M52.9 851.3l-6.1 15M46.8 866.4l22.5 8.7M46.8 866.3l-6.1 15.5M44.9 871l22.3 9.2M56.9 875.9l-4.2 10.8M52.5 874.1l-3.9 10.9M49.7 873l-4.4 10.7M42.7 876.6l4.8 1.9M47.6 878.3l2.8 1.2M51.1 877.8l4.4 1.7M49.6 881.6l4.3 1.8M60.7 877.5l-4.3 10.7M55.4 879.7l3.8 1.5M53.5 884.3l3.8 1.6M58.6 882.6l6.6 2.6M63.4 878.6l-2 5.1M61.8 883.9l-2.2 5.6M40.6 881.8l22.5 8.8M40.6 881.8l-8.1 19.9M35.7 893.8l22.5 8.9M49 885.2l-5.1 11.9M38.2 887.7l8.3 3.4M43.4 882.9l-2.3 6M43.9 890l-2.5 6.1M57.7 888.7l-4.9 12M46.7 890.7l8.7 3.7M54.9 887.6l-2.2 5.6M51.3 892.6l-2.6 6.5M45.1 894.6l4.7 1.9M50.4 895l4 1.7M54.9 895.5l5.3 2.2M55.9 893.1l5.3 2.2M48.4 898.9l-3.2 8M42.4 896.5l-3 8M34.1 897.9l6.8 2.6M39.7 895.4l-1.6 4.1M37.3 899.1l-1.6 3.9M40.8 900.7l6 2.4M52.5 900.6l-3.4 7.9M47.2 901.9l4.1 1.7M51.2 903.6l5.7 2.3M32.5 901.8l22.5 8.7M32.5 901.7l-7.2 17.7M28.4 911.9l22.3 9.3M29.7 908.6l22.3 9.3M31.6 903.9l22.4 9M47.8 907.9l-0.8 2.2M41.1 905.2l-0.9 2.2M36.7 903.4l-0.9 2.2M44.6 906.6l-0.9 2.2M51.5 909.4l-0.8 2.2M42.1 908.1l-1.9 4.8M38.5 906.7l-1.9 4.8M35.6 905.5l-1.9 4.8M46.1 909.7l-1.9 4.8M50.1 911.3l-2 4.8M32.9 910l-1.3 3.3M36.1 911.3l-1.3 3.2M39.3 912.6l-1.3 3.2M42.5 913.9l-1.3 3.2M45.7 915.1l-1.3 3.3M48.9 916.4l-1.3 3.3M42.3 917.6l-3.9 9.4M33.9 914.2l-3.9 9.4M26.6 916.3l5.5 2.3M36.8 915.4l-3.6 9.5M31.7 919.7l2.9 1.2M35.1 919.8l5.4 2.2M41 920.7l8.5 3.5M46.2 919.2l-1.3 3.1M46.7 923l-2.5 6.4M39.8 923.9l5.6 2.5M45.1 926.9l2.8 1.2M26.4 922.2l20.6 8.1M36.9 926.4l-3.5 8.2M26.8 933.5l2 0.9M31.2 924.1l-3.9 9.5M25.5 925.5l4.5 1.6M26.4 929.6l2.2 0.8M30 927l5.7 2.3M28.2 931.5l5.7 2.3M40.2 927.7l-3.3 8.3M43.6 929.1l-3.4 8.2M34.4 932.3l3.4 1.4M33.1 935.6l3.4 1.4M37.4 934.6l3.4 1.4M39.4 929.9l3.3 1.3M79.3 851l-1.4 3.9M77.6 854.6l19 8.4M77.5 854.7l-8.3 20.6M83.8 857.3l-7.7 20.8M90.3 859.9l-8.1 20.7M69.3 875.2l19 8.3M69.4 875.4l-7 15.2M78.3 879l-6.1 15.5M65.1 885.4l9.1 3.7M68 886.6l-2.2 5.4M83.7 881.2l-6.5 15.4M76.7 882.9l5.4 2.1M75.2 886.7l5.3 2.2M73.6 890.6l5.3 2.2M82.1 885l4.8 2M80.5 888.9l4.9 2M78.9 892.8l4.9 1.9M63 890.6l19 8.6M63.1 890.9l-8.6 19.7M58.9 900.8l19.2 7.9M69.2 893.3l-4.2 10M60.7 896.3l6.3 2.4M74.4 895.4l-4 10.1M78.6 897.1l-4.2 10M72.4 900.4l4.1 1.7M76.1 903.3l3.6 1.5M62.1 902.1l-4 10M65.4 903.4l-4.2 9.9M68.6 904.7l-4.1 10M71.8 906l-4.1 9.9M75 907.3l-4.3 9.9M54.9 910.7l19.2 8.1M54.9 910.8l-8.1 19.6M61.4 913.4l-8.3 19.5M67.8 916l-8.1 19.6M47 930.4l19.2 7.9M47 930.5l-3.4 8.2M51.8 932.4l-3.4 8.2M56.6 934.3l-4.2 10.4M61.4 936.3l-4.2 10.3M117.3 850.8l-0.8 1.9M121.4 850.2l-1.5 3.8M111.1 850.5l12.2 4.8M101.4 851l-4.5 11.6M114.4 851.8l-6.5 15.2M101.4 851l11.3 4.7M99.9 854.9l11.3 4.6M98.4 858.7l11.3 4.6M112.7 855.6l9.1 3.5M111.2 859.4l9 3.7M109.7 863.2l8.8 4.1M117.6 853.1l-1.5 3.9M116.9 857.3l-1.5 3.8M116 861.4l-1.6 3.8M114.6 865.3l-1.5 3.8M96.8 862.5l20.3 8.2M97 862.6l-9.1 20.3M109.3 867.6l-8.6 20.5M100.8 864.1l-7.7 20.9M105.1 865.9l-8.3 20.6M106 875.5l7.9 3.3M107.4 872.2l7.8 3.3M114.2 869.5l-1.9 4.7M112.6 874.3l-1.3 3.4M102.7 883.6l8 3M104.4 879.5l8 2.8M109.4 876.9l-1.6 3.9M109.1 881.3l-1.7 4.1M105.5 884.6l-1.9 4.7M88.5 883.1l20.2 8.5M88.5 883.1l-6.3 15.5M82.3 898.5l20.1 8.6M82.2 898.6l-7.9 20M77.1 911.3l20.5 7.6M89 901.3l-5.1 12.5M95.8 904.1l-5.1 12.5M84.9 914.3l-3 7.4M76.2 913.4l7.8 3M82.2 913.2l-0.9 2.2M80 914.9l-2.1 5.2M91.7 917l-3 7.4M82.9 919.2l6.8 2.8M87.9 915.5l-2 5M87.2 921l-1 2.4M90.2 920.8l5.8 2.3M74.1 918.7l20.5 7.7M74.2 918.6l-8.3 19.5M71 926.3l20.3 8.3M81.9 921.7l-3.1 7.8M72.9 921.6l7.8 3M79.1 920.6l-1.2 3M88.7 924.4l-3.2 7.8M69.4 930.3l20.4 8M67.8 934.2l20.3 8.4M74.4 927.7l-1.6 4M77.8 929.1l-1.6 3.9M81.2 930.4l-1.6 4M84.6 931.8l-1.6 4M87.9 933.2l-1.6 3.9M80.8 934.9l-1.6 4M86.8 937.3l-1.6 4M79.1 938.8l-1.6 4M72.8 936.3l-1.7 3.9M76 937.6l-1.6 3.9M82.9 940.4l-1.6 3.9M66.2 938.2l20.3 8.4M66.2 938.2l-5 12.4M71.3 940.3l-5 12.4M76.3 942.3l-5.6 14.6M81.4 944.4l-5.5 14.6M72.6 957.6l8.1 3.3M149 841l1.9 0.8M139 843.9l9.6 3.7M125.5 849.6l-2.4 5.8M132.7 845.8l-4.5 11.6M139 843.9l-6.2 15.4M143.8 845.9l-6.3 15.3M123.3 855.3l18.9 8.1M123.4 855.5l-6.7 15M126.5 856.7l-6.4 15.2M129.7 858l-6.3 15.3M132.8 859.3l-6.3 15.2M136 860.6l-6.4 15.2M139.1 861.8l-6 15.4M120.4 862.6l3.2 1.3M122.2 858l3.2 1.3M118.6 867.2l3.1 1.2M124.2 862.3l3.2 1.3M122.4 866.9l3.1 1.3M128.1 861.8l3.2 1.3M126.5 865.6l3.2 1.3M125 869.5l3.2 1.2M129 868.7l3.2 1.2M130.6 864.8l3.1 1.3M134.4 864.4l3.2 1.3M132.9 868.2l3.2 1.3M131.3 872l3.2 1.3M137.2 866.6l3.2 1.2M135.4 871.2l3.1 1.3M117.1 870.8l19.2 7.3M117.1 870.7l-8.1 20.7M114.3 877.7l19.1 7.4M126 874.3l-3 6.8M115.4 875l8.8 3.6M119.8 871.8l-1.7 4.3M120.8 877.2l-1.1 2.6M124.7 877.2l10.3 4.1M131.5 876.5l-1.2 2.9M128.4 878.7l-1.6 3.9M130.9 879.7l-1.6 3.9M111.7 884.2l18.9 8M120.6 880.1l-2.5 6.8M127 882.7l-2.6 6.7M119.5 883l6.4 2.5M122.8 881l-1.1 2.8M122 884l-1.6 3.8M125.2 887.3l6.4 2.4M130.8 884.3l-1.8 4.5M128.9 888.8l-0.8 2.1M114.8 885.6l-2.9 7M118 886.9l-2.9 7M121.1 888.1l-2.8 7.1M124.3 889.4l-2.7 7.1M127.5 890.7l-2.8 7.1M109.7 889.2l3.1 1.3M113.9 887.8l3.2 1.3M116.1 891.5l3.2 1.2M119.2 892.9l3.2 1.2M126.6 892.8l3.2 1.3M108.7 891.4l19.2 7.3M108.8 891.3l-6.2 15.5M117.4 894.8l-6.2 15.5M107.2 895.2l8.6 3.6M105.7 899l8.6 3.6M104.1 902.9l8.6 3.6M115.9 898.7l10.3 4.3M114.3 902.6l10.4 4.2M112.7 906.4l10.4 4.3M102.5 906.9l19.1 7.4M102.5 906.8l-8 20M101.2 910.1l19 7.8M99.8 913.5l19.1 7.5M98.5 916.7l18.9 8.1M97.1 920.2l19.2 7.4M95.8 923.5l19.1 7.4M107.3 908.7l-1.4 3.3M112.1 910.6l-1.4 3.4M116.8 912.6l-1.3 3.3M108.7 913.2l-1.3 3.3M105 911.7l-1.3 3.3M112.5 914.7l-1.3 3.3M116.4 916.3l-1.4 3.3M113 918.8l-1.4 3.3M103.8 915.1l-1.3 3.3M107.1 916.4l-1.3 3.3M105.7 919.7l-1.3 3.3M101.6 918l-1.4 3.4M109.6 921.3l-1.3 3.3M113.6 922.9l-1.4 3.3M105.4 923.4l-1.4 3.4M99.9 921.2l-1.3 3.4M111.7 926l-1.3 3.3M109.4 925.1l-1.3 3.3M103 926.3l-1.4 3.4M99.2 924.8l-1.3 3.3M106.9 927.9l-1.3 3.4M110.9 929.5l-1.4 3.4M94.5 926.8l19 7.6M94.3 926.7l-7.3 19.9M104.3 930.7l-7.9 19.7M91.6 933.9l9.8 4M99 928.6l-2.9 7.1M92.6 931.5l4.5 1.8M97.3 932.9l5.3 2.1M89.3 939.5l9.7 4.4M94.7 935.2l-2.4 5.6M97.9 936.5l-2.1 5.7M87.4 944.2l9.8 4M90.7 945.5l-0.9 2.3M94 946.9l-0.9 2.2M109 932.7l-3.8 9.8M101.3 938.3l4.7 1.9M103.2 933.4l4.8 1.9M99.6 942.3l2.4 1M107.7 936l2.3 0.8M86.5 946.4l9.5 4M86.6 946.5l-6.1 14.3M84.2 952.2l6.4 2.7M93.6 949.3l-2.6 5.7M88.7 947.3l-2.4 5.8M89.8 954.5l-0.9 2.1M82.7 955.8l5.7 2.2M80.7 960.9l1.9 0.8M170.9 833.3l-0.9 2.2M167.5 834.4l5.9 2.2M151.9 839.8l-3.1 8.1M157 838l13.5 5.6M161.4 837.2l-0.9 2.2M165.8 836.4l-1.9 4.4M161.3 837.2l3.6 1.4M170.8 835.9l-2.6 6.6M165.9 836.2l4.1 1.7M163 840.4l-4.6 11.4M151.4 840.8l9.7 4.2M155.5 840l-0.9 2.2M159.7 839.1l-1.8 4.4M158 843.5l-2.8 7M155.9 842.7l-2.8 6.9M150 844.1l4.6 1.8M154.4 846.4l2.1 0.8M156.3 847.6l3.2 1.4M161.4 844.2l7.7 2.9M159.9 848l7.6 3M148.6 847.7l17.3 7.4M148.4 847.7l-5.8 15.5M146.9 851.7l17.7 6.7M145.4 855.4l17.4 7.3M143.9 859.3l17.5 6.9M142.4 863l17.3 7.5M142.3 863.1l-5.9 15.4M152.4 867.2l-6.3 15.2M145.6 864.4l-6.3 15.3M140.8 866.9l3.2 1.4M139.2 870.8l3.3 1.3M137.7 874.6l3.2 1.3M144 868.3l6.8 2.7M142.5 872.1l6.8 2.6M141 875.9l6.6 2.8M148.7 865.7l-1.5 3.8M146.4 869.2l-1.5 3.8M146.6 873.8l-1.5 3.8M144.5 877.4l-1.5 3.8M150.4 871.8l7.5 3.1M156.9 869l-1.9 4.7M147.6 878.9l7.5 2.9M152.9 872.8l-2.9 7M149.5 874.2l2.5 0.9M151.6 876.1l5 2M151.3 880.4l-1.4 3.6M136.2 878.4l17.4 7.2M136.1 878.4l-8.2 20.7M133.3 885.3l17.6 6.8M130.6 892.1l17.3 7.4M127.8 899l17.5 7M127.8 899l-6.3 15.5M131.2 900.4l-5.7 15.7M134.8 901.9l-6.3 15.4M138.4 903.3l-5.7 13.4M141.7 904.6l-2.2 5.9M125.5 904.7l3.5 1.4M123.7 909.3l3.4 1.4M129.2 905.6l3.5 1.4M127.1 910.7l3.5 1.5M132 908.9l3.5 1.4M133.3 905.5l3.5 1.4M136.3 908.2l3.5 1.5M121.6 914.5l9.7 3.9M121.7 914.5l-8.7 19.8M117.9 923.5l3.9 1.6M119.2 920.4l5.8 2.5M128.6 917.3l-2.3 6.1M124.8 915.8l-2.4 6M121.9 921.6l-1.2 3M116.1 928.1l1.9 0.7M121.1 924.8l-1.9 4.5M174.9 832.9l-1.6 4M193.1 826.5l-6.8 15.6M180.3 830.6l9.7 3.7M187.9 828.5l3.8 1.5M183.4 829.3l-0.9 2.2M175 832.4l13.6 5.5M185 832.5l-1.4 3.4M180 830.5l-1.4 3.4M180.7 834.7l-1.8 4.4M185.1 836.5l-1.8 4.4M192.9 827.2l7.2 2.9M199.1 824.6l-1.9 4.3M196.1 825.7l2.2 0.9M198.9 825l2.8 1.1M188.8 837.3l7.2 2.8M190.5 833.2l7.1 2.8M196 828.5l-2.4 5.9M193.7 834.4l-1.7 4.1M193 838.9l-2.1 5.1M173.3 836.8l20.6 8.5M173.2 836.8l-7 18.1M180.2 839.7l-7.5 17.9M187 842.4l-7.2 18M166 854.7l20.5 8.9M166 854.9l-6.4 15.2M162.7 863l18.7 7.8M175.6 858.7l-3 8.4M174.1 862.6l11 4.6M179.4 860.2l-1.6 3.9M183 861.7l-1.6 3.9M178.6 864.5l-1.7 4.3M167.9 865.2l-3.1 7M173 867.2l-2.9 7.1M178.2 869.3l-3 7.1M161.2 866.6l5.2 2.1M166.2 869.2l5.2 2M171 872.1l5.2 2.1M177.2 871.8l2.6 1.1M159.8 870.3l15.1 5.8M159.9 870.2l-6.6 15.1M165 872.3l-6.3 15.2M170.1 874.4l-4.6 11.4M156.5 878.3l5.2 2.1M158.2 874l5.2 2.1M161.4 881l5.2 2.1M162.9 877.4l5.1 2.1M159.8 885l5.2 2.1M168.8 877.6l2.6 1M153.7 885.3l7.4 3.3M153.5 885.4l-7.1 19M157.1 886.9l-5.7 12.9M160.4 888.2l-2.3 5.6M148.1 899.2l3.3 1.4M151.3 891.2l3.3 1.4M150 894.4l3.4 1.4M207.3 822.5l-1 2.5M202.7 823.4l3.9 1.7M202.7 823.5l-8.8 21.7M197.4 836.6l5.8 2.4M200 830.2l4.4 1.9M200.9 828l4.5 1.7M206.9 825.2l-1.8 4.5M204.2 829.3l-1 2.3M202.2 838.6l-3.5 8.5M195.1 842.4l4.8 1.9M194 845.1l3.8 1.6M193.9 845.2l-7.1 18M192.5 848.9l4.1 1.5M191 852.4l4.1 1.6M189.6 856l4 1.6M188.1 859.6l2.1 0.8M186.7 863.2l1.9 0.8M186.7 863.2l-1.6 3.8M28.6 934.8l-3.4 15.7M26.5 933.9l2.1 0.6M26.8 941.6l8 2M25 948.8l8 2.2M31.3 937.5l-1.3 4.9M28.8 949.8l-1.6 7.3M27 957.1l4.2 1.1M27 957.1l-2 7.9M36 938.7l-4.8 19.5M42.5 940.3l-5.1 19.4M34.8 943.6l6.5 1.5M33 950.9l6.5 1.6M41.3 945.2l14.5 3.6M39.5 952.5l14.6 3.4M31.2 958l20.9 5.9M31.2 958.2l-6 23.6M29.5 965.1l21 5.2M27.8 971.9l20.9 5.5M26 978.9l21.1 5M42.7 961l-1.5 7M35.1 959.1l-1.8 6.9M38.5 960l-1.9 6.8M46.1 961.9l-1.6 6.9M26.4 986.2l18.8 5.2M26.8 1002.6l14.8 3.3M31.2 987.5l-3.9 15.2M25.2 991.8l4.6 1.2M35.6 988.6l-3.7 15.3M30 992.4l4.4 1.1M39.3 989.5l-3.5 15.4M33.7 996.3l3.8 1M37.5 997l6 1.4M33.3 1004.2l-2.5 11.4M26.6 1002.6l-1.1 4.5M26.1 1014.4l12.6 3M25.6 1014.3l-0.6 1.9M26.5 1028.6l8.8 2.4M34.2 1016.4l-3.1 13.3M28.8 1015.1l-3.2 13.2M27.2 1028.7l-2.2 8.5M32.9 1030.1l-3.2 12.8M26 1041.7l6.3 1.5M56.2 947.9l-3.5 15.6M52.2 963.4l15.9 4M52.4 963.4l-7.8 27.5M60.9 965.6l-7.7 27.4M49 976.4l8.5 2M55.9 964.3l-3.3 13M58.3 975.2l7.4 1.8M64.4 966.4l-2.4 9.7M56.3 983.2l7.4 2.1M62.5 976.2l-2.3 8.1M59.7 984.1l-2.5 9.9M45.3 991l16 3.9M45.3 991l-6.6 26.5M42.9 1000.7l15.9 4.3M51.9 992.7l-2.5 9.7M56.9 993.9l-2.3 9.8M38.7 1017.5l15.9 4.3M38.8 1017.5l-6.7 26M42.8 1018.5l-6.8 25.9M46.5 1019.5l-5.9 26.1M50.8 1020.5l-6.9 25.9M32.2 1043.5l15.9 4.1M32.2 1043.5l-6.8 27.3M25.5 1070.6l15.8 4.5M29.4 1071.7l-4.1 16.7M33.4 1072.7l-5.2 20.8M37.3 1073.7l-5 20.8M26 1077l2 0.5M27.7 1078.7l4 1M26 1085.6l4 1M30.4 1084.9l4 1M35.2 1082.5l4 1M70.4 957.6l-2.6 9.7M68.1 967.3l12.6 3.3M68.2 967.4l-7.3 27.5M73.5 968.7l-7.4 27.5M66.4 974.3l5.3 1.3M64.7 981.2l5.2 1.3M63 988.1l5.2 1.3M70.8 979.1l7 1.8M79.6 970.2l-2.4 10.5M68.5 988.1l7.1 1.7M75.7 980.3l-2.4 8.9M73.8 989.4l-2 8.2M61.2 995.1l14.8 3.4M61.2 995l-6.5 26.5M57.2 1011.2l14.6 4.1M58.6 1005.8l14.6 3.6M64.6 1007.3l-1.4 5.5M69.9 1008.6l-1.3 5.5M65.5 1013.4l-2.4 10.2M61.9 1012.5l-2.5 10.2M54.6 1021.5l14.7 3.7M54.7 1021.5l-6.6 25.9M60 1022.8l-6.1 26.1M52.6 1029.5l5.5 1.4M50 1039.9l5.5 1.4M57.9 1031.6l9.3 2M55.8 1040.2l9.2 2.3M63 1032.8l-2.3 8.6M60.7 1041.4l-2.4 8.6M48.2 1047.5l14.6 3.6M48.1 1047.5l-6.5 27.3M54 1048.9l-7 27.2M45.9 1056.6l5.8 1.4M43.8 1065.2l5.8 1.4M50.7 1061.8l8.9 2.4M56.5 1063.3l-3.7 14.3M49 1069l5.7 1.4M54.4 1071.4l3.2 0.8M41.4 1074.8l14.7 3.4M41.6 1074.8l-5.5 18.5M48.9 1076.6l-4.3 16.6M39.6 1081.7l7.6 1.6M37.9 1088.6l7.5 1.8M45.4 1090.4l7.2 1.7M52.8 1077.6l-3.2 13.8M46.9 1084.4l4 1M48 1091l-0.6 2.3M75.8 998.6l-6.2 26.6M69.3 1025l2 0.6M69.4 1025.2l-7 25.8M67.7 1048.1l-0.9 4M62.8 1051.1l4.1 1M62.8 1051.1l-6.8 27.3M59.7 1063.8l2.3 0.6M66 1056.4l-2.1 8.5M63.4 1064.7l-3.5 14.6M57.5 1072.5l3.8 0.9M56 1078.3l4.1 1.1M56 1078.4l-3.5 14.5M54.4 1085l5.1 1.3M59.7 1079.3l-1.9 6.6M25.5 1106.1l19.4 5.3M25 1141.3l11.8 2.6M25.7 1171.8l3.9 1M49.1 1095.3l-3.6 15.8M45 1111.1l7.8 1.9M44.9 1111l-7.6 33.5M36.7 1144.4l5.9 1.5M36.7 1144.4l-6.9 28.5M29.6 1172.8l2 0.5M29.6 1172.8l-4.1 16.7M88.4 968.9l-0.8 2M83.4 966.5l-0.8 2.3M81.7 968.5l14.2 5.6M80.6 976.9l6.1 2.4M85.9 970.2l-3 7.6M82.3 973.2l2 0.9M82.5 968.8l-1.6 3.8M84.7 973.1l2 0.8M82.7 977.7l-4.2 10M86.1 983.8l-4 10M81.2 981.2l5.1 2.1M79.8 984.7l5.1 2.1M78.4 988.3l5.1 2M83.8 989.5l5 2.1M79 992.6l8.1 3.3M80.1 993l-4.5 11.9M82.9 994.2l-8.1 19.4M78.5 997.3l2.6 1.1M77.2 1000.4l2.7 1.1M80.9 999l4.2 1.8M78.9 1003.9l4.3 1.7M76.9 1008.8l4.3 1.7M75.1 1014l4 1.7M72.6 1020.1l4.1 1.6M75.8 1014.1l-2.6 6.6M73.2 1024.4l2.1 0.8M71.2 1029.3l2 0.9M96.4 972.1l-0.9 2M106.9 976.4l-0.8 1.9M110.8 977.9l-0.8 2M113.3 978.9l-0.9 2M95.9 974.1l20.1 8.6M89.8 990.1l-2.2 6M101 984.9l12.1 4.9M103 977.1l-1.6 3.7M111.4 980.5l-3 7.4M107.4 978.9l-3.1 7.4M101.7 980.1l4.4 1.8M105.4 983.8l4 1.6M109.6 985l4.7 1.9M92.9 991.1l-2.5 6.1M96.3 992.5l-2.4 6.1M102.9 985.7l-5.4 14.4M106.3 987.1l-5.6 14.3M109.6 988.4l-5.3 14.4M95.8 993.8l3.3 1.4M101.5 989.3l3.4 1.3M100.1 992.8l3.4 1.4M98.7 996.4l3.3 1.4M104.6 991.5l3.3 1.4M102.6 996.3l3.4 1.3M87.1 995.9l20.3 8.1M87.2 995.9l-8.3 19.4M85.8 999.1l20.2 8.4M84.5 1002.4l20.2 8.2M83.1 1005.7l20.4 8M81.8 1008.9l20.3 8.2M80.5 1012.2l20.3 8.2M79.2 1015.4l20.3 8.2M79.2 1015.4l-5.8 14M73.5 1029.5l20.3 8M73.5 1029.5l-4.1 10.3M70.9 1041.8l18.3 7.1M86.5 1034.7l-5 11.3M79.7 1031.9l-4.9 11.5M71.7 1034.1l6.1 2.4M70.3 1037.4l6.1 2.5M78.1 1035.8l6.8 2.7M76.5 1039.6l6.8 2.6M83.6 1033.5l-1.6 3.9M81 1036.9l-1.6 3.9M79.3 1040.7l-1.6 3.8M83.5 1041.9l7.2 3.3M87.1 1043.5l-1.7 4.1M78.7 1044.9l-2 5M74.7 1043.3l-2 5M85.4 1047.6l-2 5M81.7 1046.1l-2 5M68.9 1046.7l18.1 7.7M76.9 1050l-5.9 15.4M68.9 1052.6l6.1 2.4M66.8 1057.8l5.9 2.7M74.4 1056.5l10.2 4M80.1 1051.3l-2.7 6.4M75.9 1052.7l3.1 1.3M82.6 1052.3l-2.6 6.4M78.6 1054.9l2.5 1M81.8 1054.3l4.5 1.8M72.8 1060.4l10.2 4.1M80 1058.7l-1.6 3.9M66.8 1063.7l13.9 6.3M65.3 1067.3l14.3 5.5M63.8 1071l14.1 5.8M64.4 1075.5l12.1 5M62.9 1079.1l12.2 4.7M61.4 1082.8l12.2 4.9M67.5 1063.9l-1.5 3.7M74.2 1066.7l-1.5 3.6M66 1067.6l-1.5 3.7M69.4 1069l-1.5 3.6M72.7 1070.3l-1.4 3.7M76.1 1071.7l-1.5 3.6M67.9 1072.6l-1.5 3.7M72.9 1074.7l-1.4 3.6M66.4 1076.3l-1.5 3.6M69.8 1077.6l-1.5 3.7M73.1 1079l-1.4 3.7M68.3 1081.3l-1.5 3.7M65 1080l-1.5 3.6M72.6 1083l-1.5 3.7M63.4 1083.6l-1.4 3.7M68.5 1085.7l-1.5 3.6M61.9 1087.4l10 4.4M63.1 1087.7l-5.9 13.7M60.3 1089.2l1.8 0.8M66.9 1089.3l-3.8 9.9M61.1 1092.5l3.9 1.6M59.9 1095.4l3.9 1.6M64 1096.6l2.6 1M65.3 1093.2l5.2 2.1M117.2 980.5l-0.7 2M116.1 982.4l21.8 8.8M116.1 982.4l-8.6 21.7M123.5 985.4l-9.3 21.4M130.8 988.3l-9.4 21.5M107.4 1003.9l21.6 9.3M107.4 1004.1l-8.1 19.5M104.9 1010.1l21.8 8.8M111 1005.5l-2.5 6.1M114.6 1007l-2.5 6M118.3 1008.5l-2.5 6M121.9 1009.9l-2.4 6.1M125.5 1011.4l-2.5 6M101.3 1019.2l21.8 8.6M111.8 1012.9l-3.4 9.1M120.4 1016.4l-3.5 9M109.9 1017.8l8.6 3.4M115.9 1014.6l-2 4.8M113.1 1019l-1.7 4.2M119.2 1019.6l6.1 2.7M104.9 1020.6l-1.8 4.5M108.5 1022.1l-1.8 4.4M112.2 1023.5l-1.9 4.5M115.8 1025l-1.8 4.5M119.4 1026.5l-1.8 4.4M99.4 1023.7l21.9 8.5M99.6 1023.6l-6.2 13.9M109.1 1027.5l-5.5 14.1M96.6 1030.7l9.6 4.1M113.1 1029.1l-5.4 14.2M117.2 1030.8l-5.5 14.1M93.8 1037.6l21.7 9M93.8 1037.7l-6.8 16.4M104.9 1042.1l-6.6 16.5M102.1 1049l10.8 3.9M103.6 1045.3l10.8 4.1M110.9 1044.5l-1.3 3.2M108.2 1047.1l-1.4 3.7M100.5 1053.1l10.7 4M109.1 1051.7l-1.7 4.1M107.3 1055.8l-2.2 5.6M105 1054.9l-2.3 5.5M87.1 1054.1l21.8 8.9M87.1 1054.1l-6.2 15.3M90.6 1055.5l-5.5 15.5M94.4 1057l-6 15.4M98.1 1058.5l-6.5 15.2M101.6 1060l-6.1 15.3M105.3 1061.5l-6.3 15.2M85.6 1057.9l3.6 1.5M84 1061.7l3.7 1.5M82.5 1065.6l3.6 1.4M90.5 1066.6l3.7 1.4M91.8 1063.4l3.7 1.5M93.4 1059.4l3.7 1.5M96.5 1062.3l3.6 1.5M94.9 1066.1l3.7 1.5M93.4 1070l3.6 1.4M100.1 1063.8l3.6 1.5M98.6 1067.6l3.6 1.5M97 1071.4l3.7 1.5M103.7 1065.3l3.7 1.4M102.2 1069.1l3.6 1.4M100.7 1072.9l3.6 1.5M81 1069.4l21.7 8.9M81 1069.4l-9 21.9M75.1 1083.8l19.7 8.2M84.5 1070.8l-5.4 14.7M88.2 1072.3l-5.7 14.6M91.8 1073.8l-5.6 14.6M95.4 1075.2l-5.6 14.6M99 1076.7l-5.5 14.6M86.5 1088.5l-2.3 5.6M83 1087.1l-3 7.5M73.1 1088.8l8 3.1M78.1 1085.1l-1.9 4.9M76 1089.9l-1.1 2.6M81.2 1091.6l3.4 1.4M91.5 1090.5l-0.8 1.9M72 1091.5l10 3.7M72.2 1091.4l-2.5 5.8M137.9 991.2l15.6 6.3M137.8 991.2l-8.5 21.7M134.7 999.1l15.7 6.1M148.6 995.5l-3.3 7.8M144.4 993.8l-3.1 7.9M136.7 994.1l6.5 2.7M140.5 992.3l-1.1 2.9M140.8 995.7l-2 5M143.4 996.3l4.1 1.7M147 999.3l5 2M132.2 1005.3l15.7 6.1M143.5 1002.6l-2.5 6.2M140.3 1001.3l-2.5 6.2M130.5 1009.5l15.4 6.9M136.1 1006.8l-1.8 4.4M140 1008.4l-1.8 4.4M143.9 1010l-1.7 4.4M129.1 1012.9l15.8 6M129.2 1012.9l-8.1 19.4M125.5 1021.8l15.6 6.4M134.8 1015.2l-3.7 8.9M127.5 1017l5.7 2.2M141.4 1017.8l-3.7 8.9M137 1016l-3.7 9M133.5 1018.4l2.2 0.9M135.4 1020l4.3 1.8M139.6 1022.1l3.4 1.3M129.4 1023.4l-4.3 10.6M133.2 1024.9l-3.8 10.8M137.2 1026.5l-4.2 10.7M122.8 1028.6l3.9 1.6M126.8 1030l3.9 1.5M128.1 1026.7l3.9 1.6M131.4 1029.7l3.9 1.6M121.2 1032.5l15.9 5.8M121.3 1032.4l-6 14M131.3 1036.5l-5.9 13.9M118.5 1039.3l10.1 3.9M126.4 1034.5l-2.8 6.8M124.5 1039l4.9 2M117.3 1042.2l10.1 3.9M123.4 1041.2l-1.2 3M120.6 1043.5l-1.7 4.3M124 1044.9l-1.7 4.3M128.4 1043.6l5.6 2.2M130.3 1038.9l5.6 2.3M126.7 1047.8l5.6 2.1M115.6 1046.5l15.6 6.2M115.5 1046.4l-6.4 16.6M114.3 1049.7l15.5 6.5M112.9 1053l15.6 6.3M111.6 1056.4l15.6 6.2M110.3 1059.6l15.5 6.4M108.9 1062.9l15.7 6.3M109 1062.9l-6.5 15.2M114.3 1065.1l-5.8 15.4M106.7 1068.3l5.5 2.2M104.9 1072.9l5.5 2.2M102.7 1078.2l15.7 6.2M102.6 1078.1l-4.5 12.2M107.9 1080.3l-3.8 10M100.5 1083.7l5.3 2.1M98.3 1089.2l2.6 1M105.8 1085.7l6.2 2.7M112.5 1082.1l-2.2 5.5M153.5 997.5l16.1 6.5M153.5 997.5l-8.7 21.7M149.7 1007l16.1 6.3M158.9 999.7l-3.8 9.4M164.2 1001.8l-3.9 9.5M153 1008.3l-5.2 12.1M156.1 1009.6l-5 12.1M159.3 1010.8l-4.9 12.3M162.6 1012.2l-5.2 12.1M144.7 1019.2l16.2 6.2M144.7 1019.2l-7.7 19.6M141.6 1026.9l16.1 6.4M143.6 1022.2l15.9 6.7M152.5 1022.3l-1.3 3M150.1 1021.3l-1.2 3.1M158.1 1024.6l-1.2 3M146.7 1023.5l-1.8 4.7M150 1024.8l-1.9 4.7M153.2 1026.1l-1.9 4.7M156.4 1027.4l-1.9 4.7M138.3 1035.1l16.1 6.3M147 1029.1l-3.3 8.1M152.3 1031.2l-3.2 8.2M148.1 1039l-1.4 3.7M141.6 1036.4l-1.5 3.6M144.9 1037.7l-1.5 3.7M136.9 1038.6l15.9 6.9M136.8 1038.7l-5.5 14.1M142.1 1040.9l-5.3 14.1M147.7 1043.1l-6.1 13.8M135 1043.2l5.4 2.2M132.6 1049.2l5.4 2.2M140.1 1046.2l5.3 2.1M138.4 1050.3l5.4 2.1M131.2 1052.9l16.2 6M131.2 1052.8l-6.6 16.4M128.1 1060.4l16.1 6.3M138.3 1055.6l-3.1 7.6M134.2 1054l-3.3 7.5M129.8 1056.3l2.9 1.2M132.1 1058.9l4.2 1.6M143.9 1057.9l-2.9 7.6M136.5 1060l5.7 2.3M142.1 1062.6l3.3 1.3M126.5 1064.3l16 6.6M131.3 1061.6l-1.6 4M134.6 1062.9l-1.7 4M137.8 1064.2l-1.7 4M141 1065.5l-1.6 4M131.9 1066.5l-2 4.9M137.2 1068.7l-2 4.8M124.6 1069.2l15.9 6.7M124.6 1069.2l-6.3 15.3M121.6 1076.6l15.9 6.7M129.9 1071.4l-2.9 7.5M135.2 1073.5l-2.9 7.5M123.1 1072.9l5.3 2.2M128.8 1074l5.4 2.2M127.2 1078.9l-2.3 6M119.9 1080.6l5.8 2.3M134 1081.7l-0.8 1.9M125.4 1083.6l2.2 0.9M131 1080.5l-1.9 4.6M118.4 1084.5l4 1.6M118.3 1084.5l-0.8 2M169.6 1004l15.2 6.2M169.5 1004l-8.5 21.7M167.4 1009.4l15.3 6.2M165.2 1014.8l15.3 6.1M163 1020.3l15.3 6M160.8 1025.6l15.2 6.4M160.8 1025.6l-7.8 19.6M159.5 1028.9l15.2 6.2M158.1 1032.3l15.5 5.7M156.9 1035.4l15.2 6.3M155.5 1038.7l15.4 6.1M154.2 1042l15.4 5.9M152.9 1045.2l15.3 6.1M152.9 1045.2l-5.7 14M156.8 1046.8l-6.1 13.8M160.5 1048.3l-5.6 14.1M164.4 1049.8l-5.8 14M149.2 1054.4l3.8 1.5M151.2 1049.4l3.8 1.5M153.3 1055.2l3.8 1.6M155.5 1049.7l3.8 1.6M157.7 1055.4l3.8 1.6M159.4 1051.2l3.8 1.6M156.6 1058.1l3.8 1.5M162.9 1053.3l3.9 1.6M161.5 1056.9l3.8 1.5M160.1 1060.4l3.8 1.5M147.2 1059.3l15.4 5.9M147.3 1059.3l-6.8 16.4M142.7 1070.6l15.2 6.3M145.3 1064l15.3 6.2M152.4 1061.3l-1.9 4.8M159 1064l-2 4.7M156.3 1062.9l-2 4.7M144.5 1066.1l15.2 6.3M149.1 1065.5l-0.8 2.2M153 1067.1l-0.9 2.1M156.8 1068.6l-0.9 2.2M148.3 1067.7l-1.8 4.5M152.1 1069.2l-1.8 4.5M155.9 1070.8l-1.8 4.4M148.9 1073.1l-2.1 5.1M151.8 1074.3l-2.1 5.1M140.6 1075.7l11.4 4.6M140.6 1075.7l-3.1 7.6M149.5 1079.3l-0.7 1.9M144.5 1077.3l-1.6 3.8M139 1079.5l3.9 1.6M185.3 1008l-0.8 2M194.8 1009.6l-1.6 3.9M189.2 1008.8l-1.1 2.7M194.7 1009.9l7.6 3.1M199.6 1011.9l-1.4 3.6M184.8 1010.1l16 6.6M184.7 1010.1l-8.1 21.9M181.7 1018l15.9 6.7M183.6 1013.3l16 6.3M188 1011.4l-1.2 3.2M191.2 1012.7l-1.2 3.2M194.4 1014l-1.2 3.2M197.6 1015.3l-1.2 3.2M186.8 1014.6l-2 4.8M190 1015.9l-2 4.8M193.2 1017.2l-2 4.8M196.4 1018.5l-2 4.7M190.4 1021.6l-5.7 13.7M178.8 1025l8.7 3.7M187.1 1020.3l-2.5 7.1M180.5 1020.8l5.6 2.3M185.9 1023.5l3.1 1.3M187.5 1028.7l7.4 2.7M189.1 1024.6l7.3 3M194.8 1023.4l-1.3 3M193.8 1026.5l-1.6 4M191 1030l-2.6 6.8M176.1 1031.9l16 6.3M176.1 1031.8l-7.8 19.6M184.7 1035.3l-8 19.5M179.2 1033.1l-7.6 19.7M171.8 1042.5l3.2 1.3M173.4 1038.4l3.2 1.3M174.9 1034.7l3.2 1.3M170.1 1046.6l3.2 1.3M174 1046.1l5.4 2.2M176.7 1039.5l5.4 2.2M177.9 1036.6l5.4 2.1M173 1048.7l5.4 2.1M179.5 1048.2l7.3 3.2M183.1 1049.7l-2.7 6.6M178.4 1050.9l3.6 1.5M182.3 1051.7l3.8 1.5M168.2 1051.4l16 6.5M168.3 1051.4l-6.3 13.8M165 1059.3l16 6.5M174.3 1053.8l-3.4 7.9M167.1 1054.1l6 2.4M179.3 1055.9l-3.1 7.9M172.5 1058.1l5.1 2.1M177.2 1061.3l4.8 1.9M171.5 1061.9l-2.5 6.1M177.2 1064.2l-2.6 6.1M162.5 1065.5l16.1 6.1M162.6 1065.5l-5.3 12.2M159.5 1072.9l10.1 3.7M171.6 1069.1l-3 7.3M161.4 1068.2l9 3.6M165.3 1066.5l-1.1 2.9M169.9 1073.2l4.6 1.9M175.7 1070.7l-1.7 4.1M166.3 1075.5l-0.9 2.3M158.2 1076l4.5 1.9M163.8 1074.5l-1.3 3.3M202.4 1012.6l-1.6 4M205.9 1014l-1.6 4M210.1 1013.4l-2.4 6M213.7 1014.9l-2.3 6M217.1 1016.2l-2.4 6M221.4 1015.7l-3.1 8M202.3 1013l3.4 1.4M210.2 1013.4l3.4 1.4M213.9 1014.2l3.4 1.3M212.5 1017.5l3.5 1.3M217.4 1015.3l3.5 1.4M215.5 1020.1l3.5 1.4M221 1016.4l3.4 1.4M219.5 1020l3.5 1.4M200.8 1016.8l20.9 7.7M200.8 1016.6l-8.5 21.8M192.1 1038.2l20.6 8.6M192 1038.3l-7.6 19.6M188.4 1047.4l20.6 8.8M199.8 1041.4l-3.9 9.1M190.2 1043l7.7 3.1M195.5 1039.7l-1.9 4.7M195.3 1045.1l-1.8 4.4M191.8 1048.9l-4.2 10.3M195.3 1050.3l-4.4 10.2M198.7 1051.6l-4 10.5M202.2 1053l-4.2 10.4M205.6 1054.4l-4 10.5M184.2 1057.9l20.8 8.1M184.1 1057.8l-5.4 14.2M178.5 1071.9l3.8 1.5M178.5 1071.9l-0.8 2M224.8 1017l-3.1 8M239.1 1019.7l1.8 0.8M224.4 1017.8l15.2 6.1M223 1021.3l15 6.5M221.5 1025l15.2 6M221.6 1025l-9 21.6M220.1 1028.6l15.1 6.2M218.6 1032.2l15.1 6.2M217.1 1035.9l15.3 5.6M215.7 1039.4l15.1 6.2M214.3 1043l15 6.2M212.8 1046.7l15.1 6.1M212.8 1046.7l-8 19.5M208.4 1057.5l15 6.4M211.1 1050.9l15.2 5.9M219.7 1049.4l-1.7 4.2M216.6 1048.2l-1.7 4.1M224.2 1051.3l-1.7 4.1M209.4 1055l15.2 6.1M217.2 1053.3l-1.7 4.2M214.4 1057l-1.1 2.6M217.6 1058.3l-1.1 2.6M221.1 1059.7l-1.1 2.6M216.3 1060.8l-2.6 6.4M206.8 1061.4l7.9 3.3M210.8 1058.6l-1.5 3.8M210 1062.7l-1.9 4.8M218.6 1061.7l-1.5 4M204.9 1066.3l3.8 1.4M204.9 1066.2l-0.8 2M207.3 1067.2l-0.8 2M240.8 1021.2l-3.9 10M248.7 1022l-4.6 12.1M240.4 1021.8l7.1 2.9M238.6 1026.4l7.1 2.8M243.9 1023.2l-1.8 4.6M241.4 1027.5l-1.9 4.7M247.4 1025.1l1.9 0.8M249.5 1031.2l-1.7 4.4M236.7 1031l13.1 5.6M236.6 1031.1l-8.6 21.7M227.9 1052.7l18.8 7.9M228 1052.8l-4.9 11.7M226.6 1056.1l13.2 5.2M225.3 1059.2l9.4 4M223.9 1062.6l3.8 1.5M249.9 1052.5l-3.1 7.9M55.2 1114.4l25.6 8.1M83.2 1115l-2.6 7.7M91.5 1121.9l-1.3 3.9M80.8 1122.6l17.2 5.8M80.7 1122.7l-7.6 23.9M75.7 1138.3l7.6 2.6M93.8 1127l-2.7 7.8M109.7 938.6l1.9 0.7M105.5 943.5l3.8 1.5M102.3 946l5.6 2.4M91.5 956.5l11.2 4.7M98.7 949.4l7.6 2.9M103.2 945.9l-1.9 4.8M93 954.6l-0.9 2.1M99.2 949.8l-3.4 8.4M102.6 951.2l-3 8.5M98 952.7l3.5 1.4M100.5 956.7l3.5 1.4M92.5 956.8l-3.8 8.8M97.7 958.9l-3.9 8.8M87.8 960.8l2.6 1M90.9 960.6l5.2 2.1M95.6 963.8l5.2 2.1M84.1 963.8l15.1 6.1M136.8 915.7l1.9 0.8M126.8 923.8l7.7 3M128.8 922.2l-0.9 2.1M129.3 920.9l6.5 2.7M133.1 917.8l4.3 1.8M126.7 923.9l-2.1 5.2M129.8 925.1l-2.1 5.3M122.7 928.3l9.6 3.9M113 936l-4.8 11.9M116.7 932.2l13.4 5.6M112.5 937l15.5 5.9M110.3 942.4l15.4 6.2M108.1 947.9l15.4 6.2M108.3 947.9l-9.6 21.8M102.7 961.2l15.4 6.3M118.3 952l-5.2 13.4M105.7 953.8l10.1 4.5M112.9 949.8l-2.5 6M116.6 956.3l5.1 2.1M109.5 964l-3.4 8.7M106.2 962.6l-3.4 8.7M101.6 964l3.5 1.4M104.5 966.8l3.4 1.3M113.9 965.7l-3.6 8.7M107.6 968.9l4.3 1.7M112 970.2l4.3 1.7M99.2 969.9l15.4 6.3M138.8 916.2l-6.6 16M147.1 933.5l-1.6 4.1M135.6 924.2l7.5 2.8M141.3 921.8l-1.6 4M137.6 919.1l4.1 1.6M141.8 926.6l-3.2 8.1M133.7 928.7l6.2 2.6M140.8 929.2l4.6 1.8M142.9 930l-2.3 5.6M132.3 932.2l17.3 7M153.5 940.7l1.9 0.8M132.2 932.2l-8.4 22M142.9 936.5l-8.6 21.9M140.2 943.2l12.5 4.9M146.6 938l-2.5 6.7M141.5 940.1l3.7 1.6M151.3 942.5l-1.8 4.4M145 942.1l5.5 2.2M150.9 943.4l3.2 1.3M147.8 946.2l-6.5 15.1M138.7 947l7.5 2.9M137.2 950.7l7.3 3.3M135.6 954.6l7.5 2.9M143 944.3l-1.5 3.8M141 952.3l-1.5 3.8M138 955.5l-1.6 3.8M145.4 951.9l5 2M144.1 955l5 2.1M123.5 954.1l23 9.3M123.4 954.1l-8.6 22.1M133.5 958.1l-9.4 21.8M120 962.7l10 3.9M127.7 955.8l-3.7 8.5M121.9 958l4.1 1.7M126.5 958.5l5.8 2.3M125.6 964.9l-5.5 13.4M116.4 971.7l5.5 2.3M117.8 968.1l5.5 2.3M123.9 969.1l4.3 1.8M122.2 973.2l4.4 1.7M128.1 971.2l13.2 5.1M142.3 961.7l-5 13.2M138.7 970.8l4.2 1.7M140.8 965.6l4.2 1.6M126.5 975.1l13.1 5.4M132.7 973l-1.6 4M136.4 974.6l-1.6 3.9M132 977.4l-2 4.9M135.1 978.6l-2 5M114.6 976.1l23.1 9.2M114.5 976.1l-0.7 1.9M187.8 867.1l12.1 4.7M195.5 863.7l-2.3 5.6M192.1 861.5l3.7 1.5M193 861.9l-2.5 6.3M195.1 864.8l6.5 2.9M161.7 941.4l-0.9 2.3M165.2 942.8l-0.9 2.3M155.4 941.5l14 5.8M155.5 941.6l-9.5 21.6M160.5 943.6l-8.8 21.9M151.2 951.9l5.1 2.1M154 945l5.1 2.1M152.6 948.4l5.1 2.1M149 957.4l5.1 2.1M158.3 949.1l9 3.5M156.1 954.5l8.9 3.7M153.9 960l8.9 3.6M146.5 963.4l14.1 5.6M146.6 963.4l-9.2 21.9M150.1 964.8l-9.1 22M153.4 966.2l-8.3 22.2M157.2 967.7l-9.5 21.8M137.6 985.5l14.2 5.4M137.7 985.4l-0.8 2M143.8 987.9l-0.9 2.3M147.5 989.4l-0.8 2.1M202 866.5l-3.1 7.5M207.5 868.7l-3.1 7.6M213.1 871l-3 7.6M218.6 873.2l-3.1 7.6M170.9 943.2l-1.6 4M174.7 944.7l-1.7 4M179.4 944.2l-2.3 6.1M182.8 945.6l-2.6 6M187.3 945.1l-3.4 8M190.9 946.6l-3.5 7.9M169.4 947.3l22.2 8.6M169.4 947.2l-8.8 21.9M181.3 952l-8.7 21.9M167.2 952.7l11.9 4.7M165 958.2l12 4.7M162.8 963.6l11.9 4.8M179.9 955.6l10.1 4.3M178.4 959.3l10.1 4.3M176.9 963l10.3 3.8M175.4 966.6l10.2 4.1M174 970.3l10.2 4M160.6 969.1l22.1 8.7M160.5 969l-8.5 22.2M157.7 976.2l22.2 8.7M170 981.2l-6.2 14.8M155.1 982.7l12.2 5M161.8 977.8l-2.5 6.6M165.9 979.5l-2.7 6.5M161.2 985.2l-3.4 8.3M153.9 985.7l6.1 2.4M159.3 990l6.1 2.5M167.4 987.6l9.9 3.8M173.2 982.4l-2.7 6.4M171.2 989.1l-3.5 8.5M166.1 990.7l3.8 1.5M168.9 994.6l6.1 2.5M151.7 991l22 9.3M151.7 991.1l-1.6 3.9M155.4 992.6l-1.6 3.9M159 994l-1.5 3.9M162.9 995.6l-1.7 3.8M166.4 997l-1.6 3.9M170 998.5l-1.5 3.9M157.4 998.3l3.6 1.5M164.8 1001l3.7 1.4M224.1 875.4l-3.2 7.5M235.9 880.2l-2.9 7.6M223.8 876.2l11.7 4.8M221.6 881.5l11.7 5M235.9 880l8.4 3.6M234.3 884l8.5 3.5M241.5 882.3l-1.6 3.9M237.9 885.5l-0.9 2.2M217.4 944l2.2 0.9M210.1 945.1l8 3.5M195.5 946.1l-4 10M206.6 945.9l-5.4 14.1M202 946.4l3.8 1.6M194.7 948.1l9.5 3.9M193.1 952.2l9.5 3.6M203 954.8l10.8 4.3M211.6 945.6l-4.2 11M205.8 948.1l4.2 1.7M204.7 950.8l4.2 1.7M208.8 952.9l6.5 2.5M210 949.9l6.4 2.8M206.5 956.2l-2 5.2M209.4 957.4l-2.1 5.1M191.5 956.1l20.1 8.5M191.4 956.1l-8.5 22M190 959.7l20.2 8.4M188.6 963.4l20.1 8.4M187.1 967l20.1 8.5M185.5 970.9l20.5 7.5M184.1 974.4l20.3 8.1M202.4 960.6l-1.4 3.6M195.7 957.8l-1.5 3.7M198.7 959l-1.5 3.7M206.3 962.1l-1.4 3.7M195.1 961.8l-1.5 3.7M200.1 963.9l-1.4 3.6M205.2 965.9l-1.5 3.6M195.3 966.1l-1.5 3.7M202 968.9l-1.4 3.6M191.2 964.5l-1.5 3.6M198.5 967.4l-1.5 3.7M205.5 970.3l-1.5 3.6M193.2 969.5l-1.5 3.7M199.8 972.2l-1.5 3.6M202.7 973.4l-1.4 3.6M192 973.3l-1.4 3.6M201 976.9l-1.5 3.7M197.7 975.6l-1.4 3.6M190.2 976.8l-1.4 3.7M193.8 978.2l-1.5 3.7M197.3 979.7l-1.5 3.6M200.8 981.1l-1.4 3.6M182.7 978l20.2 8M182.7 978l-8.9 22M179.7 985.3l20.2 8.3M176.7 992.7l20.3 8.1M173.8 999.9l20 8.6M173.8 1000l-0.8 2M178.7 1002l-0.7 2M183.9 1004.1l-0.8 1.9M188.9 1006.1l-0.8 2M244.3 883.6l-3.3 7.4M257.2 888.8l-2.8 7.7M244.3 883.6l12.9 5.2M242.1 889.2l12.7 5.4M249.2 885.5l-2.4 5.7M253.9 887.4l-2.4 5.7M256.7 889.8l9 3.9M255.4 893.3l8.9 3.8M254 896.7l9 3.6M260.8 891.5l-1.4 3.5M259.9 895.2l-1.4 3.4M244.6 940.1l2 0.8M219.7 944.1l-1.7 4.1M230 943.5l-3.2 8.2M226.6 942.2l-3.4 8.1M219.9 944.1l5.2 2.1M226.4 943.2l3.1 1.2M224.8 947l3.2 1.3M241.7 941.1l-5.8 14.3M233.7 942.6l-4.4 10.2M233.2 943.9l6.4 2.6M236.7 941.3l4.3 1.7M231.6 947.8l6.4 2.6M239.4 946.8l4.2 1.7M237.5 951.5l4.1 1.7M218.2 948.2l21.8 9.1M218.2 948.3l-6.6 15.9M215.5 955l21.7 9.2M223.7 950.5l-2.7 6.8M229.1 952.7l-2.7 6.8M234.6 954.9l-2.8 6.8M222.8 958l-3.9 9.2M230 960.9l-3.8 9.3M219.4 956.6l-3.7 9.3M213.2 960.6l3.9 1.6M217.8 960.5l3.4 1.3M220.4 963.9l7.2 3M227.3 959.8l-2.4 6M225 965.8l-1.4 3.3M228.2 965.4l7.3 3.1M234.6 962.8l-1.8 4.5M231.4 966.7l-1.9 4.8M211.8 964.2l21.7 9.2M211.6 964.2l-8.2 22.2M226.7 970.4l-8.5 22M205.6 979.6l15 6M210.2 968.1l15 6.1M208.6 971.9l15.1 6.1M207.1 975.7l15 6.2M219.9 967.6l-1.5 3.8M215.4 965.8l-1.5 3.8M222.6 968.7l-1.5 3.8M215.9 970.4l-1.5 3.9M221.3 972.6l-1.6 3.8M215.3 974.6l-1.5 3.9M218.1 975.8l-1.5 3.8M214.8 978.9l-1.6 3.8M210.4 977.1l-1.5 3.8M218 980.1l-1.6 3.9M210.5 981.6l-2.5 6.6M215.6 983.6l-2.7 6.6M225.3 974l6.8 2.8M223.9 977.7l6.7 2.8M222.4 981.3l6.7 2.8M220.9 985l6.8 2.7M219.4 988.6l6.8 2.8M202.9 986.1l21.8 9.1M202.9 986.2l-8.9 22M200 993.3l19.9 8M201.2 990.5l19.9 7.8M212.3 990l-1.7 4.2M207.2 987.9l-1.8 4.2M219.5 992.9l-1.7 4.2M207.7 996.4l-5.7 15M197.4 999.7l7.7 3.4M202.5 994.3l-2.6 6.5M195.7 1004.1l7.8 3M200.5 1001l-1.7 4.3M200.1 1005.8l-1.6 4.2M204.4 1004.9l8.1 3.1M213 998.5l-3.2 8.5M205.6 1002l5.2 2.1M211 1003.5l4.4 1.8M218.7 1000.9l-1 2.4M214.7 1005l-1.4 3.4M194 1008.1l11.9 5M266.2 892.4l-4.7 11.3M271.9 894.7l-4.8 11.3M277.7 897.1l-4.9 11.2M261.5 904l15.7 5.6M269.3 906.9l-8.3 20.5M277.1 910l-8.4 20.5M259.1 926.6l9.6 4.1M265.4 929.1l-6.8 16.5M257.2 932.2l6 2.4M260 926.9l-2.2 5.5M251.6 940.2l-0.9 2.2M259.1 933l-4.2 11.1M255.7 935.8l2 0.8M254.8 938l2 0.9M257.5 937l4.1 1.7M256.4 939.8l4 1.7M260.8 940.6l2.2 0.9M262.9 935.2l2.3 0.9M246.7 940.8l13.5 5.4M246.5 940.7l-6 16.6M252.4 943.1l-6.3 16.5M258.2 945.4l-6.5 16.4M240.1 957.1l13.5 5.5M240.2 957.2l-7.2 15.7M253.5 962.5l-2.4 6.1M235.8 967.6l11.5 4.8M248.8 960.6l-4.5 10.5M237.8 962.8l8.6 3.5M243.6 958.5l-2.3 5.7M241 964.1l-2 4.8M247.3 964.1l4.8 2M245.9 967.6l4.8 2M242.2 970.2l-2.2 5.5M247.1 972.2l-1.2 2.7M233.6 973.1l9.6 3.9M233.5 973.1l-8.3 22.1M224.9 995.1l-0.9 1.9M245.5 727.1l21.1 9M238.9 743.4l21.1 9M246.3 727.2l-6.7 16.3M238.7 743.1l-4.2 12M234.2 755l21.2 8.8M245.3 759.4l-2.2 5.6M272.7 720.4l-6.4 14.9M289.3 720.5l-8.4 20.7M275.2 720.8l12 4.9M266.9 735.5l35.4 14.7M267 735.6l-12.1 27.7M277.8 740l-10.1 26.3M261.2 749.6l11 4.5M286.6 743.5l-8.9 22.5M270.6 758.3l8.7 3.4M279.4 761.6l9.8 4M255.6 763.5l5.5 2.3M255.5 763.6l-0.7 1.8M343.2 720.1l11.4 4.5M313.8 721.6l-11.6 28.2M332.3 720.3l-15.2 35.6M310.2 730.6l15.3 6.3M302.4 749.9l36 14.8M302.4 749.9l-6 15M356.4 721.2l-1.5 3.9M354.5 724.9l7.4 3M354.5 724.9l-15.9 39.6M230.2 767.2l-0.7 1.9M233.7 768.6l-0.8 1.8M237.8 768.1l-1.7 3.6M230.4 769.3l9.7 3.9M226.5 778.9l9.7 4M227.6 779.3l-1.9 4.7M233.2 781.6l-1.9 4.7M224.6 783.7l9.6 4.1M229 785.3l-7.2 17.5M219.5 801.8l7.8 3.1M220.2 802.1l-8.5 20.8M223.8 803.6l-8.8 20.6M218.1 807.3l3.5 1.4M215.9 812.5l3.6 1.4M213.8 817.7l3.6 1.4M220.9 810.5l3.6 1.4M218.1 817.4l3.6 1.4M211.1 822.5l7.8 3.1M212.2 823.1l-6.9 16.1M208.7 831.6l6.8 2.6M210.6 826.8l6.8 2.7M216.6 824.9l-1.5 3.7M213.8 828.1l-1.9 4.8M207.4 834.8l6.8 2.7M212 832.9l-1.3 3.2M209.7 835.7l-1.9 4.5M204.5 839.1l7.7 3.3M199.8 850.7l7.7 3.3M204.1 838.7l-4.7 11.7M201.6 845l8.1 3.5M208.3 840.4l-2.6 6.3M203.1 841.2l4.2 1.7M207.1 843.4l4 1.6M206.6 847.1l-2.1 5.3M196.5 853l9.7 4.2M201.1 851.1l-1.3 3.1M203.4 852l-1.2 3.1M201 854.6l-1.5 3.8M195.1 856.6l9.8 3.8M200.3 858.8l-1.5 3.7M192.6 860l6.2 2.5M196.6 857.3l-1.6 3.7M198.7 862.7l4.5 1.8M267.1 766.6l1.9 0.8M242.2 767.7l-2.4 5.5M250.7 766.8l-3.7 9.3M246.6 768l-3 6.8M242.2 768.1l3.7 1.6M245 772.1l3.1 1.3M240.1 773.3l22.8 9.3M240.1 773.3l-5.8 14.2M248.4 776.7l-5.8 14.1M237.1 780.7l8.3 3.5M244.5 775.1l-3.1 7.4M238.8 776.5l4.4 1.8M242.7 783.1l-2.5 6.8M235.6 784.4l5.7 2.3M241.6 786.1l2.6 1M257.4 780.3l-5.6 14.3M252 778.2l-5.9 14M245.2 784.6l3.6 1.4M246.7 780.9l3.6 1.5M248.8 786.1l5.4 2.2M249.8 783.6l5.4 2.2M254.9 786.8l5.4 2.2M256.3 783.3l5.4 2.2M253 791.4l5.4 2.2M234.4 787.4l22.7 9.5M234.4 787.5l-7.4 17.3M241.5 790.4l-7 17.5M238.2 789.1l-7 17.4M231.5 794.6l3.9 1.5M232.9 791.1l3.9 1.6M235.9 794.9l3.2 1.3M233.5 800.7l3.3 1.3M237 801.5l15.6 6.4M238.5 797.9l15.8 6M240.5 792.9l15.6 6.3M250.2 793.9l-1 2.5M246.1 792.2l-1 2.5M254.2 795.5l-1 2.5M247.1 795.6l-2 4.9M243 793.9l-2 4.9M251.6 797.4l-2 4.9M246.1 805.2l-2.7 6.3M242.2 803.6l-2.4 6.4M235.9 804.1l5.3 2.1M240.6 807.8l3.8 1.5M244.5 809.2l6.5 2.7M248.4 806.1l-1.6 4.1M247.2 810.3l-0.9 2.3M227.3 804.9l22.7 9.6M227.3 805l-8.6 20.7M242.3 811l-8.5 20.8M225.2 810.2l15.1 5.9M223 815.4l15.2 5.8M221 820.6l15.1 5.9M231 806.5l-2.1 5.2M234.8 808l-2.1 5.2M238.6 809.5l-2.1 5.2M232.1 813l-2.1 5.2M229 811.7l-2.1 5.2M235.1 814.2l-2.1 5.2M229.1 817.8l-2.1 5.2M232.2 819.1l-2.1 5.2M229.6 824.1l-2.1 5.2M232.2 825.1l-2.2 5.2M237.7 822.5l7.7 3.3M240.5 815.5l7.8 3M244.8 812l-1.8 4.5M243.9 816.8l-2.8 7.1M239.3 818.6l3.4 1.4M242.5 820.4l4.4 1.8M235.6 827.7l7.9 2.9M241.3 824l-2 5.1M238.2 828.6l-1.7 4.3M218.9 825.7l22.7 9.6M218.9 825.8l-6.7 16.2M212.3 842l22.7 9.5M212.4 842.1l-7.9 18.4M220.7 845.4l-7.2 18.7M207.6 853.7l8.4 3.6M209.4 849.3l8.4 3.4M210.9 845.6l8.4 3.3M217.5 844.1l-1.5 3.5M215.5 847.4l-1.5 3.8M212.1 850.4l-1.8 4.4M210.6 855l-2.7 6.8M206.7 855.9l3.1 1.3M209.1 858.8l5.4 2.1M216.4 856.3l14.3 5.9M228.1 848.4l-4.5 10.8M219 849.7l7.2 3.2M223.1 846.4l-1.8 4.3M223 851.4l-2.4 6.6M217.6 853.1l4.1 1.7M221.9 854.3l3.2 1.3M226.2 853l7 2.9M230.5 849.4l-1.8 4.6M229.4 854.3l-2.6 6.2M214.6 860.6l14.3 6M224.6 859.6l-1.8 4.4M221.3 858.3l-1.7 4.4M204.7 860.8l23.2 8.4M204.8 860.6l-1.5 3.7M213 863.9l-1.5 3.7M203.5 863.9l8.1 3.4M211 868.8l14.7 5.7M222.5 867.7l-2 4.9M276.5 766.8l6.3 2.3M268.9 767.5l12.4 5.3M268.9 767.6l-6 14.9M274.5 769.9l-5.8 15M265.3 776.5l5.6 2.4M266.4 773.8l5.6 2.2M273.1 773.5l6.4 3M271.5 777.4l6.6 2.5M270 781.2l6.7 2.4M280 772.1l-1.5 3.7M278.2 775.7l-1.5 3.7M275.2 778.8l-1.5 3.8M278.8 780.3l-1.5 3.7M262.9 782.5l12.4 5.2M262.9 782.6l-5.8 14.1M269.9 785.4l-6.2 13.9M272.9 786.6l-5.3 14.3M276.2 787.9l-5.5 14.3M268 789.7l3.3 1.3M265.6 795.7l3.2 1.3M271.6 790.2l3.2 1.3M270.2 793.7l3.2 1.3M268.7 797.3l3.2 1.3M257.1 796.8l14.6 5.6M257.1 796.7l-6.9 17.5M266.3 800.4l-7.4 17.3M254.1 804.1l9.2 3.4M255.2 801.5l9 3.8M261.6 798.5l-2 4.8M258.7 803l-1 2.5M251.5 810.7l9 3.8M258.1 805.7l-2.9 6.5M252.5 808.2l3.9 1.5M257.1 807.9l5.2 2.1M257.3 813.1l-1.4 3.4M262.3 809.9l5.7 2.3M270.3 802l-4 9.6M264.7 804l4.1 1.6M250.1 814.1l14.4 6.2M250 814.1l-8 21M255.9 816.5l-8.8 20.7M245.6 825.3l5.7 2.3M248 819.4l5.7 2.3M243.9 829.4l5.7 2.3M252.8 823.9l8.7 3.5M263.3 819.5l-3 7.4M258.2 826.1l-5.2 13.5M249.2 832.7l5.5 2.2M251.3 827.6l5.5 2.2M256.3 830.9l2.7 1.1M255 834.1l2.7 1.1M241.7 835l14.5 5.8M241.7 835l-6.5 16.3M239.5 840.4l16.6 6.8M245 836.3l-2.2 5.5M248.3 837.7l-2.2 5.4M251.6 839l-2.2 5.5M255 840.4l-2.2 5.4M249.3 844.4l-4.7 10.7M243 841.9l-4.6 10.7M237.9 844.5l3.4 1.3M236.1 848.9l3.4 1.4M241.2 846.1l6.4 2.4M246.9 843.5l-1.7 4.2M239.8 849.6l6.2 2.7M243.1 846.8l-1.4 3.6M241.9 850.5l-1.3 3M247.8 847.9l6.9 2.7M251.4 845.3l-1.5 3.4M245.8 852.9l6.8 2.8M251 849.2l-2 5M235.1 851.2l16.6 6.8M235.1 851.3l-7.6 18.5M231.4 860.4l16.8 6.3M240.7 853.5l-3.3 9.2M233.3 855.7l5.7 2.3M247.8 856.4l-3.8 9M238.7 858.8l7 2.7M243.9 854.8l-2.1 5.3M241.4 859.9l-1.5 3.8M246.6 859.3l3.9 1.6M234.8 861.7l-3.9 9.4M238.1 863l-3.9 9.5M241.5 864.4l-4.2 9.3M244.7 865.7l-3.7 9.5M227.7 869.7l16.4 7.2M227.7 869.9l-1.6 3.7M232.6 871.8l-1.4 3.8M257.5 843.7l-5.8 14.2M251.8 858l-7.8 18.4M248.6 871.4l-2.4 5.9M244.2 876.5l1.9 0.7M244.1 876.5l-1.4 3.8M246.4 877.4l-1.8 4.7M242.5 880.7l2.2 0.9M278.1 786.6l2 0.8M300 765.8l13.5 5.1M288 767.7l-8.5 19M287.2 769.7l22.7 10.3M297.6 774.2l-7.1 16.9M280.2 787l23.2 9.1M280.3 787l-12.4 30.2M268 817.3l23.1 9.2M268 817.3l-8.3 20.3M261.7 832.9l22.9 9.6M269.6 836.2l-3.6 8.3M278.8 839.9l-3.6 8.3M260.2 842.2l21.1 8.5M253.3 859.3l21.1 8.5M265.9 844.5l-6.8 17.2M273.6 847.6l-7 17.1M267 864.8l-4 10M251.2 870l18.9 8.4M260.6 873.8l-5.6 12.9M254.2 871.2l-5 13.2M314.6 767.4l-1.6 3.7M323.5 766.6l-3.2 7.5M329.9 767l-4 9.3M330.6 765.8l9.5 3.8M313.4 771.2l22.2 9.5M313.3 771.2l-9.7 25.2M323.6 775.4l-9.7 25.2M307.2 786.6l10.3 4.2M303.3 796.3l22.3 9.1M303.4 796.3l-12.9 30.1M296.7 812.5l22.6 8.5M308.3 817l-5.9 14.2M291.1 826.6l22.3 9.1M291.1 826.6l-9.9 24.1M281.3 850.6l20.4 8.7M281.3 850.7l-11.1 27M275.4 865.3l18.9 6.9M282.9 868.2l-5.1 12.6M290.3 871.2l-4.9 12.7M270.4 877.7l18.5 7.8M270.5 877.8l-5.5 13M265.1 890.7l16.9 6.5M280.3 881.8l-4.9 12.9M341.8 765.2l-6.1 15.1M335.8 780.2l1.9 0.8M335.8 780.3l-10.2 25M325.7 805.4l-12.5 30.1M313.4 835.6l-2.2 5.6M341.6 775.2l1.9 0.8M328.7 804.2l1.9 0.8M302.5 862.3l2.1 1M291 884l3.7 1.7M276.1 916.6l4 1.8M263.4 946l3.7 1.6M252.6 970.3l3.7 1.6M228.9 993.4l-5.9 13M245.4 976.3l-14.4 33.6M219.4 1004.9l18.3 8.6M390.9 720.6l-1.6 3.7M380 720.1l15.5 6.7M367.8 721.5l-24.6 54.3M382.3 721.2l-26.1 60.3M360.1 738.7l12.1 5.5M343.6 775.9l25.1 11.2M343.5 775.9l-22.2 50M352.4 779.8l-22.4 50M360.1 783.3l-22.7 49.8M343.3 800.3l7.5 3.5M349.3 807.3l8.6 3.9M321.3 825.9l25.2 11.1M321.4 826l-27.1 59.3M330.8 830.2l-25.8 59.9M312.7 845.3l9.5 4.7M337 832.9l-25.9 59.9M318.3 858.7l6.2 2.8M327.1 855.5l9.3 4.2M294.7 885.6l25.3 10.9M294.7 885.5l-27.6 62.8M276.2 927.3l25.2 10.9M266.8 948.2l25.2 11.1M266.8 948.2l-28.6 64.9M254.3 976.4l25.2 10.9M283.9 955.8l-12.4 28.1M273.4 951.1l-12.7 28M262.4 979.9l-16.4 36.7M272.3 984.3l-16.6 36.6M238 1012.9l17.3 8.1M238 1013l-2.5 5.6M246.2 1016.7l-1.6 3.7M397.7 721.4l-2.5 5.5M408.1 721.6l-4.4 9.1M417.5 721.3l-5.9 12.9M395.4 727l23.3 10.3M395.4 727l-26.7 60.1M408.9 733l-27.4 59.8M380.4 760.8l13.3 5.9M386.1 763.4l-11.6 26.3M397.5 758.1l10 4.5M368.7 787l23.2 10.6M368.6 787.1l-21.9 50.1M346.4 837.2l23.4 10M346.5 837.1l-26.9 59.5M319.9 896.6l17.3 8.1M319.9 896.7l-27.8 62.7M335.5 903.6l-28.6 62.4M329.7 901.1l-27.7 62.7M307 925.7l9.8 4.4M316.6 930.7l5.5 2.5M292 959.4l23.2 10.4M292 959.4l-26.5 59.2M281.5 982.9l23.3 10.3M300 963l-9.9 23.7M289.6 986.5l-15.3 31.5M297 989.8l-11.7 26.3M426.3 720.8l-7.3 16.7M426 720.9l27.6 11.5M442.5 721.4l-2.5 5.5M435.5 720.5l-1.6 3.7M451.7 721l-4.2 9.3M440.2 727l-7.3 16.7M418.6 737.5l27.6 11.6M418.7 737.4l-26.7 60.1M437.7 745.8l-26.9 60M425.8 772.5l8.2 3.9M391.9 797.5l27.3 12M392 797.5l-22.6 49.8M405.4 803.4l-19.4 42.4M383.2 817.1l13.2 6.2M396 799.2l-8.8 19.8M393.6 829.6l14 6.1M411.3 806.1l-11.8 26.1M338.2 918.1l-22.6 51.8M341.1 948.1l-12.3 27.7M348.6 955.9l-10.7 23.9M315.2 969.8l27.4 11.8M315.3 969.7l-19.9 44.5M458.3 721.8l-12.4 27.7M467.1 721.3l-14.1 31.4M445.9 749.6l5.9 2.5M445.9 749.5l-26.6 60.1M419.3 809.5l7.7 3.6M419.4 809.7l-22.1 47.8M424.1 845l-9.9 22.3M424.5 812l-21.8 50.2M412.8 838.6l9.8 4.5M398.9 860.4l21.3 9.9M403.8 862.6l-3.3 7.5M410.6 865.7l-8.3 18.6M417.5 868.7l-12.6 27.9M403.7 905.6l4.6 2.1M394 929.3l3.9 1.7M354.5 954.1l-12.7 27.5M378 951.3l-17.4 38.6M377 953.6l9 4M342.5 981.9l27.4 11.9M342.6 981.9l-12.6 27.7M351.2 985.8l-8.9 21.1M358 988.8l-7.9 17M420.2 881.1l-22.8 50.1M397.8 931.3l27 12.2M398 931.5l-29 62.2M369.8 994l17.5 7.9M369.7 994l-4.9 11.1M376.9 997.2l-2.6 5.5M383.5 1000.1l-0.8 1.9M433.8 922.9l-9.2 20.4M438.1 935.9l-4.9 11.2M424.9 943.3l9.5 4.5M424.9 943.4l-24.7 55.3M283.1 901.3l7.7 3.3M275 919.4l7.6 3.5M271.5 927.3l7.6 3.5M276.2 919.6l-3.7 8.2M271.4 927.3l-4.3 9.5M267.1 937.1l7.6 3.6M259 955.3l7.7 3.4M255.8 962.6l7.7 3.4M262 956.5l-3.1 7.5M257.9 963.6l-2.8 6.2M253.8 967.8l1.8 0.8M292.4 901.2l-1.6 3.8M306 902.9l-3.3 7.3M308.8 902.1l6.1 2.9M290.6 904.9l20.4 9M290.8 904.9l-8.5 17.5M297.9 908.1l-7.9 17.7M285.7 916.1l7.2 3.2M288.9 908.8l7.2 3.3M294.4 915.9l13.1 5.9M304.8 911.2l-3.7 7.7M302.5 919.5l-4.4 9.9M282.8 922.5l20.2 9.2M282.8 922.6l-8.2 17.5M278.7 931.8l20.2 9.1M286.7 935.4l-4 8.3M292.5 938l-3.7 8.4M274.9 940.1l20.1 9.6M274.9 940.3l-8.3 18.3M266.7 958.7l16.8 7M266.7 958.6l-4.4 9.9M273.9 961.8l-1.7 4M263.9 965l4.8 2.1M315.1 904.7l-4.1 9.2M328.2 912.8l-3.2 7.3M322.1 905.7l-4.8 11M314.8 905.4l6.1 2.9M320.6 909l7.8 3.5M310.9 914l14.8 6.3M311.1 914l-8.4 17.4M317.5 916.8l-7.6 17.8M307 922.8l6.6 2.9M323.5 919.5l-7.7 17.8M312.4 928.6l5.9 2.7M314.2 924.3l6 2.7M319.2 929.3l5.7 2.5M321.1 924.9l3.9 1.6M303 931.7l20.4 8.6M303 931.6l-7.6 17.8M313.1 936.1l-8.1 17.6M300.2 938l10 4.4M309.5 934.4l-3 6.4M297.7 943.7l9.9 4.6M302.6 945.9l-2.5 5.6M310.3 942.3l10.2 4.5M318.6 938.5l-2.7 6.3M307.6 948.2l10.3 4.6M313.5 943.7l-2.6 6M313.6 950.9l-2.3 5.6M295.2 949.3l20.3 8.9M295.2 949.3l-6.5 14.7M302.6 952.6l-4.2 9.1M291.8 956.8l7.4 3.2M289.6 961.9l3.6 1.7M299.8 958.7l7.4 3.1M309.2 955.5l-2.7 6.1M323.4 940.6l-8.2 17.6M315.4 958.3l3.8 1.7M315.4 958.3l-0.8 1.8M440.7 779l1.9 0.6M437.4 787.9l2 0.6M435.5 793.2l1.9 0.7M477.2 721.7l-0.6 2M472.8 720.1l-0.7 2M489.1 721.2l-2.4 6.2M492.3 720.8l2.7 0.9M470.5 721.5l21.9 7.5M464.9 730.7l23.6 8.9M461.3 740.7l23.6 8.8M471.5 721.9l-3.8 9.9M478.4 724.3l-3.5 10.1M485.3 726.9l-3.5 10M478.5 735.7l-3.6 10M471.3 733.1l-3.7 9.9M455.7 749.9l25.4 10M448.5 763.1l-3.8 9.9M465.7 753.7l-9.3 23.5M448.6 763.1l12 4.3M453.4 756.2l10 3.4M461.2 752l-2.5 6.1M456.6 766l-3.9 9.9M475.2 757.1l-8.7 23.8M462.7 761.4l9.6 3.6M444.9 773.2l28 9.4M445 773.1l-7.6 20.8M441.5 782.7l21.6 8.3M455 776.7l-3.6 9.8M463.5 779.8l-3.8 9.7M451 786.3l-3.2 8.9M456.9 788.5l-1.5 4.4M437.4 794l5.9 2.1M437.4 794l-1.5 4M495.1 721.3l-3 8.1M507.5 721.2l-4.4 12.2M492.2 729.4l29.4 10.7M492.1 729.4l-10.4 30.1M487.4 742.8l29.4 10.6M493.2 744.8l-5.8 16.7M499.1 747l-5.9 16.6M505 749.1l-6 16.6M510.9 751.3l-6.1 16.6M481.3 759.4l29.6 10.3M481.4 759.3l-8.8 23.8M500.2 766.2l-7.8 21.9M478.3 767.7l19 6.5M484.6 769.9l-5.6 15.6M490.9 772.2l-5.6 15.5M475.8 774.6l6.3 2.3M482.2 776.5l6.3 2.4M489 777.5l6.4 2.1M494.8 781.2l8.4 3M472.7 783.2l17.6 6.3M472.6 783.1l-2 5.7M482.4 786.7l-0.7 1.9M545.1 721.3l-0.6 1.9M535.6 720l15.6 5.7M528.2 721.9l-6.4 18.3M527.1 724.9l21.7 7.3M521.6 740.2l21.6 7.4M521.8 740.2l-11.6 29.6M534.1 744.6l-6.3 18.1M516.3 754.7l12.7 4.3M531.3 752.5l9 3.2M529.4 757.8l4.5 1.5M510.7 770.1l2 0.7M510.7 770l-0.7 2M552.4 721.7l-1.5 3.9M551.2 725.8l16.1 5.6M551.3 725.7l-8.4 22.1M557.7 728.1l-7.3 20.2M564.1 730.4l-2 6.1M553.5 739.7l4.3 1.6M554.8 736l6.5 2.4M543.1 747.9l4 1.5M543 747.9l-3.5 10M605 720.8l-0.7 2.1M598.2 720.5l11.8 4.1M582.3 721.5l-1.3 3.9M595.2 721.8l-1.3 4.1M582.2 721.6l11.5 4.4M586.8 721l-0.7 2M586.5 723.2l-0.7 2M583.9 790.2l5.9 2M615.6 720.5l-1.4 3.8M634.5 720.9l-0.7 1.9M626.6 721.7l-0.7 2M641.7 721.3l-4.7 13.5M634.3 721.4l6.4 2.2M644.1 720.5l4.1 1.6M639.1 728l6.1 2.2M637.1 734.5l5.8 2M632.6 746.9l5.7 2.1M634 742.1l6.1 2.1M631.7 755.2l3.9 1.5M613.2 771.1l-0.8 2M612.1 772.9l15.6 5.5M591.8 786l-2.3 5.9M592.1 785.9l29.3 9.6M612.1 773l-6.4 17.6M599.5 781.7l-2.1 5.9M602.9 778.8l6.2 2.4M610 778.9l15.4 5.6M607.8 784.8l15.5 5.4M621.8 776.6l-2 5.9M614.7 787.2l-2 5.9M605.1 790.4l-1.4 4.1M599 788.2l-1.6 4.1M590.7 789.6l6.8 2.5M610.9 792.5l-0.8 2M648.2 721.6l-5.7 15.1M658.6 736.1l-2.1 5.7M656.5 720.3l-6.8 19M648.8 720.2l6.8 2.4M645.7 728.9l6.7 2.4M653.6 728l4.8 1.8M642.7 736.9l15.7 5.5M642.8 736.9l-7.3 19.5M649.1 739.2l-7.2 19.5M655.4 741.4l-6.9 19.7M657.4 755.5l-3 7.7M635.6 756.5l21.6 7.5M635.6 756.4l-7.8 22.3M633 763.7l23.2 9M630.2 771.3l25.5 9M627.6 778.5l25.1 9.8M627.8 778.7l-6.3 15.8M622.9 791.4l21.7 7.2M655.9 779.8l-2.8 8.1M652.9 787.9l2 0.7M652.9 787.9l-3.6 9.9M650.5 794.4l4.5 1.6M429.2 819.3l25.1 9.9M439.3 823.4l-17.4 44.9M432.4 840.8l14.7 6.2M421.2 872.4l13.5 5.4M426.3 874.4l-4 9.5M483 790.7l20.5 8.6M469.4 791.7l-14.9 37.9M454.1 829.6l36 13.7M454.3 829.5l-19.8 48.2M434.7 877.8l9.4 3.8M434.7 877.8l-7.8 19.1M447 891.7l-11.5 28.7M457.2 902.5l-9.9 22.7M435 920.2l20.7 8.1M443.5 923.6l-4.6 11.4M432 952.1l-10 24.7M436.2 947.6l9.9 4.4M417.4 974.7l17 6.4M422 976.8l-7 17.2M406.7 992.3l5.9 2.2M406.8 992.6l-1.5 3.9M505.1 806.1l-15.3 37.7M496.1 828.3l5.8 2.4M489.8 843.9l3.9 1.5M489.9 843.8l-3.8 9.3M476.2 894.5l11.5 4.9M466.4 901.7l-11.1 26.7M484.4 897.9l-15 36.2M455.6 928.6l15.6 6.2M455.8 928.6l-22.3 52.9M434.2 981.6l5.8 2.4M434 981.7l-2.2 5.7M561.5 821.9l7.8 2.9M610 796.9l-1.5 3.9M590.8 793.6l30.6 12.4M582.3 792.5l-13.3 32.9M605.5 799.6l-13.1 33M596.5 795.9l-13.9 34.9M569.1 825.2l19 8.1M569.1 825.4l-4.6 11.3M624.3 798.2l-3.2 7.7M621.4 806l30.8 12.5M621.4 806l-11.9 29M671.6 720.1l3.8 1.3M659.6 729.1l11.4 4.3M659.9 746.2l5.8 2M657.9 757.8l3.7 1.4M686 721l-1.4 3.9M675.4 721.6l28.2 10M675.4 721.5l-9.8 26.9M687.8 726l-9.6 26.9M665.6 748.4l28.2 10.1M665.7 748.4l-8.8 23.5M662.5 756.8l28.2 10.2M682.2 764l-5.6 15.1M657 771.9l28.2 10.2M672.3 777.5l-7.3 20.4M655.6 794.5l22.2 8.1M660 796.1l-5.9 17.3M654.8 815.7l16.2 5.5M651 844.8l10 3.9M647 851.8l-2.7 7.9M646.5 853l11.5 4M727 720.6l1.9 0.7M707.8 720.1l-4.3 11.7M703.6 731.6l18.7 7.7M703.4 731.7l-9.1 27.1M699.2 743.6l18.9 7.3M693.8 758.6l19 7M693.7 758.6l-8.3 23.7M689.5 770.3l18.9 7.2M685.2 782.1l18.9 7.2M685.1 782.1l-7 20.6M677.8 802.5l18.9 7.2M677.7 802.6l-6.7 19.1M670.8 821.7l19.1 6.8M670.8 821.6l-9.5 26.6M661.2 848.1l18.9 7.2M661.2 848.1l-8.5 23.5M655.9 862.8l19 6.8M652.7 871.6l18.9 7.1M729 721.1l18 7.3M728.9 721.2l-6.2 17.5M722.6 738.6l18.2 6.9M722.5 738.7l-9.5 26.9M712.8 765.6l18.3 6.4M712.7 765.5l-8.4 23.6M709.4 774.8l18.4 6.2M704.2 789.2l18.4 6.2M704.2 789.1l-7.5 20.4M696.8 809.5l18.3 6.6M696.8 809.5l-7.1 19M689.8 828.5l18.3 6.8M689.9 828.6l-9.8 26.4M685.6 840.1l18.3 6.8M680.2 855.1l18.3 6.4M680.2 855.1l-8.7 23.4M676.1 866.4l18.2 6.8M671.6 878.6l8.2 2.9M671.5 878.5l-2 5.9M750 720.2l-2.7 7.7M775 720.6l2 0.8M767.8 720.1l-4.9 13.5M747.2 727.9l24.3 8.6M747.2 727.9l-6.5 17.4M759 732.2l-6.5 17.4M740.9 745.2l24.1 9.3M740.7 745.3l-9.3 27M735.5 759.9l24.4 8.6M743.7 762.9l-4.1 12.4M731.1 772.1l24.1 9.1M731 772.2l-8.5 23.5M743.2 776.6l-8.4 23.6M726 786l12.2 4.5M738.8 788.8l12.1 4.2M722.5 795.6l24.1 9.4M722.5 795.8l-7.7 20.3M737.9 801.3l-7.8 20.3M715 816.2l24.4 8.6M715.1 816.2l-7.1 19M730.1 821.7l-7 19M708.1 835.2l24.2 8.9M707.9 835.1l-8.8 26.8M703.1 849l24.4 8.3M714.1 852.9l-4.4 12.9M698.5 861.7l24.2 9M698.6 861.8l-6.8 17.4M695.5 869.9l24.4 8.4M713.8 867.3l-3 8.1M777 721.4l-5.4 15.3M771.4 736.8l21 7.1M771.5 736.7l-6.5 17.4M778.8 739.4l-6.2 17.5M765.1 754.1l20.7 7.8M765.2 754.2l-10.4 26.6M758.5 772.2l21 7.1M772.6 756.9l-6.5 17.9M765.8 774.7l-3.3 8.9M755.3 781l20.8 7.7M755.2 781l-8.2 23.7M765 784.5l-8.1 23.8M752.3 789.3l9.8 3.7M759.1 801.1l11.2 3.6M746.7 804.6l20.9 7.4M746.8 804.6l-7.8 20.3M755.6 807.8l-7.3 20.5M739.3 825l20.8 7.6M739.3 825l-6.8 19.1M752 829.6l-7.2 19M732.3 844.1l20.9 7.3M732.5 844.1l-10.3 26.3M722.7 870.5l20.8 7.8M722.6 870.5l-2.7 7.9M719.9 878.4l20.8 7.6M730.9 873.5l-3 7.8M721.2 927.6l3.8 1.4M713 944.5l5.7 2M709.9 952.7l5.7 2.1M703.2 965.4l7.6 2.7M803.2 720.1l25.1 9.1M800.6 721.3l-8.2 23M814.9 724.3l-8.9 25M810.1 737.6l13.3 5M792.3 744.2l26.8 10.2M792.2 744.3l-6.2 17.5M785.9 761.7l26.9 9.9M786 761.8l-10.1 26.7M776.1 788.6l27 9.7M776.1 788.6l-8.4 23.6M790.1 793.7l-8.3 23.6M771.4 801.6l14.1 5M785.3 807.1l12.9 4.6M767.6 812l26.7 10.4M767.6 812.2l-7.7 20.3M782.5 817.6l-7.5 20.4M760.2 832.4l26.7 10.4M760.3 832.6l-7.7 18.8M773.7 837.5l-7.1 19M753.1 851.8l27.2 9.2M753.2 851.6l-9.7 26.5M748.8 863.6l26.8 10.2M743.5 878.1l27 9.7M743.6 878.1l-4.4 11.8M737.1 895.7l-2.2 5.9M755.7 882.5l-8.6 23.5M739.2 890.1l12.1 4.6M734.9 901.7l27.2 9.3M735 901.6l-10.2 27.4M728.9 918.3l26.8 10.3M748.1 906.4l-5.4 17M725 929l26.8 10.2M724.9 929.1l-9.1 25.7M720.7 940.8l26.8 10.3M738.8 934.1l-4.2 11.9M737.3 946.9l-5.5 13.7M715.7 954.7l26.9 9.9M715.5 954.7l-9.6 27.9M710.2 969.7l27.1 9.5M728.4 959.4l-5.4 14.9M724.1 974.7l-4.7 12.8M705.6 982.4l26.8 10.2M705.5 982.5l-0.7 1.9M831.3 721.4l-2.8 7.9M828.2 729.2l11.8 4.2M828.3 729.2l-9.1 24.9M823.8 741.5l15.7 5.5M819.2 754.1l19.6 7M819.2 754.1l-6.3 17.5M812.8 771.6l19.6 6.9M813 771.6l-10.4 26.6M806.4 789.2l19.6 7M803.1 798.3l19.4 7.5M803 798.4l-8.2 23.7M799.9 807.2l19.4 7.4M794.5 822l19.6 6.7M794.5 821.9l-7.3 20.5M787.1 842.4l19.5 7M787 842.4l-6.8 19M780.1 861.4l19.6 7.1M780 861.4l-9 26.7M770.5 887.9l19.5 7.3M770.5 887.9l-8.7 23.5M766.9 897.7l19.5 7.2M761.9 911.4l19.5 7.2M762.2 911.5l-11.2 27.1M752 938.8l19.3 7.5M751.9 938.9l-9.1 25.7M745.6 956.2l19.5 7.3M742.6 964.7l19.7 6.6M742.6 964.6l-10.3 27.6M736.8 980.4l19.6 7.1M732.5 992.2l19.4 7.5M732.4 992.3l-2.7 7.8M839.5 759.3l-0.7 1.9M838.6 761.1l-5.8 17.7M832.4 778.6l5.9 2.2M832.3 778.6l-9.5 27M828.9 788.1l9.9 3.7M822.6 805.4l15.8 6M822.6 805.5l-8.5 23.6M814 829.2l26 8.7M814 829.1l-7.5 20.4M823.5 832.5l-7.8 20.3M806.6 849.4l27.6 10.5M806.6 849.5l-6.9 19.1M799.7 868.5l27.7 10.2M799.6 868.5l-9.5 26.6M811.3 872.8l-9.8 26.4M793.5 885.3l11.7 4.1M808.2 881l16.3 5.6M790.1 894.8l27.4 11M790 895l-8.4 23.6M806.8 901.1l-8.5 23.6M801.4 916l11 3.8M781.5 918.5l27.7 10.1M781.4 918.5l-9.9 27.5M775.7 934.4l27.6 10.3M798.9 924.9l-5.5 16M771.4 946l27.8 10.1M771.5 946l-9.6 25.6M787 951.7l-9.7 25.5M768.2 955.1l15.3 6M762.1 971.7l27.8 10M762.2 971.7l-10.3 27.7M839.5 845.3l-5.3 14.2M834.3 859.5l4.1 1.6M834.3 859.6l-6.9 19M827.4 878.7l12.3 4.3M827.5 878.7l-10.1 26.3M823.6 889.2l14.4 4.9M817.7 905.2l20.6 7.2M817.9 905.2l-9.2 23.2M813.8 915.9l20.4 7.8M809.2 928.6l20.5 7.5M809.4 928.7l-10.9 27.2M806.1 937.1l20.4 7.8M799.2 956.1l20.5 7.4M799.2 956.1l-9.5 25.6M793 973.1l20.5 7.6M789.8 981.8l20.7 7.2M789.8 981.7l-4.2 12M840 906.8l-2.2 5.6M838.1 912.6l-8 23.6M834.3 923.4l4 1.5M839.9 937.4l-0.9 2.1M829.7 936.1l9.9 3.6M829.8 936.1l-10.6 27.3M839.6 957.5l-4.6 11.7M825.6 947.3l14 4.9M819.6 963.8l20 6.5M819.8 963.6l-9.6 25.5M816.8 971.6l21.7 7.9M830.6 967.5l-3.1 8M810.4 989.3l23.7 8.4M810.2 989.2l-1.3 4M822.1 993.5l-0.7 2M839.9 982.1l-5.6 15.8M834.1 997.7l5.8 2.3M674 893.6l35.9 0.5M674.1 918.2l-0.3 25.4M674 943.5l35.9 0.2M709.8 877.5l-0.2 16.2M709.9 893.7l-0.3 24.5M709.8 918.2l0.4 25.4M733.5 893.7l0.1 6.2M385 1211.6l2 0M400.2 1191l-0.1 2.1M397.1 1193.2l10.1 0.1M387.1 1207.3l0 4M393.5 1197.2l-0.1 14.1M391.3 1202.2l2.2 0M398 1193.1l0.2 18.2M402.6 1193.1l-0.1 18.2M387 1211.3l20.2 0M387 1211.3l-0.1 12.1M398.4 1211.3l-0.2 14.1M387 1218.5l11.4 0.4M391 1211.3l0.2 7.3M398.4 1224.5l8.8 0.2M407.3 1186.7l0 6.4M417.9 1180.2l-0.3 12.9M422.8 1178.1l0 15M427.6 1173.8l0.4 19.3M432.4 1171.6l-0.3 21.5M407.2 1193.2l30 -0.4M407.2 1193.1l0 18.2M427.3 1193.1l0.1 18.2M407.2 1199.2l20.1 -0.4M416.5 1193.1l0.2 6M423.6 1193.1l-0.1 6M421.1 1199.1l0.3 12.2M412.1 1199.1l0.3 12.2M431.7 1193.1l0.3 18.2M427.3 1205l4.4 0M431.7 1203l5.5 0M407.2 1211.4l30 -0.1M407.2 1211.3l0 16.1M417.2 1211.3l-0.2 18.1M427.2 1211.3l-0.1 18.1M430.7 1231.3l6.5 -0.1M450 1161.1l-0.1 6.2M441.8 1165.3l0 2M439.2 1167.3l18.3 0.1M437.1 1169.5l0.2 23.6M443.9 1167.3l0.7 25.8M437.2 1180.3l6.8 -0.3M437.2 1192.9l20.3 0.9M437.2 1193.1l-0.2 18.2M437.2 1211.4l20.3 -0.1M437 1211.3l0.6 20.1M450.6 1211.3l0.6 20.1M450.7 1223.7l6.8 0M437.2 1231.4l20.3 0.2M448.1 1231.4l0 2.2M453.7 1231.4l0 2.2M457.6 1159l0.2 8.3M463.5 1154.5l20 0.5M472.8 1150.5l0 4M477 1148.5l0 6M467.4 1154.5l0.1 12.8M460.7 1156.7l0.1 10.6M473.6 1154.5l0 12.8M457.5 1167.3l26 0.3M457.5 1167.3l-0.1 25.8M469.8 1167.3l-0.2 25.8M465.1 1167.3l-0.8 25.8M474.4 1167.3l-0.2 25.8M479 1167.3l-0.2 25.8M457.5 1193l26 0.4M457.5 1193.1l0.1 18.2M457.5 1211.3l26 0.2M457.5 1211.3l-0.1 20.1M457.5 1231.4l26 0.3M457.6 1231.4l-0.1 2.2M462.6 1231.4l0.1 2.2M467.8 1231.4l0.1 4.5M473 1231.4l0.1 4.5M478.3 1231.4l0 4.5M483.5 1150.8l0 16.5M493.8 1165.3l0 2M488.6 1157l0.1 10.3M483.5 1156.8l5.1 0M483.5 1167.4l12.8 -0.2M483.6 1167.3l-0.2 25.8M483.5 1182.5l19.1 0M490.2 1182.5l-0.3 10.6M494.4 1182.5l0 10.6M483.5 1193.1l19.1 0M483.5 1193.1l0.1 18.2M483.5 1204.4l19.1 -0.5M491.5 1193.1l0.1 11.1M497.6 1193.1l-0.2 11.1M490.2 1204.2l0.2 7.1M494.8 1204.2l0 7.1M483.5 1211.4l19.1 -0.4M483.5 1211.3l0 20.1M495.2 1211.3l-0.4 20.1M490 1211.3l0.2 20.1M490 1220.9l5.1 0M495.1 1219.7l7.5 0M483.5 1231.5l19.1 -0.1M483.5 1231.4l0 4.5M489.7 1231.4l0.1 6.7M502.7 1171.6l-0.6 21.5M507.2 1171.6l-0.2 21.5M511.7 1171.6l-0.5 21.5M516.2 1171.6l-0.4 21.5M520.7 1171.6l-0.2 21.5M525.2 1171.6l-0.3 21.5M502.6 1193.2l27.1 -0.4M502.6 1193.1l0.1 18.2M515.8 1193.1l0.2 18.2M510.6 1193.1l-0.1 18.2M502.6 1201.2l8 0M521.4 1193.1l-0.2 18.2M515.8 1205.8l5.5 0M521.3 1199.5l8.4 -0.1M502.6 1211.3l27.1 0.2M502.5 1211.3l0.5 20.1M511.5 1211.3l-0.4 20.1M502.6 1219.7l8.8 0.2M521.3 1211.3l-0.1 20.1M511.4 1224.9l9.8 0M515 1211.3l-0.1 13.6M516.1 1224.9l-0.1 6.5M521.2 1218.1l8.5 -0.1M502.6 1231.5l27.1 -0.3M502.6 1231.4l0.1 6.7M529.8 1171.6l-0.5 21.5M542.6 1171.6l-0.2 21.5M529.7 1178.4l12.9 -0.3M537.2 1171.7l0 6.6M538.3 1178.3l-0.1 14.8M542.6 1175.3l6.9 -0.1M529.7 1193l19.8 0.3M529.8 1193.1l-0.2 18.2M541.8 1193.1l0.1 18.2M535.9 1193.1l0.1 18.2M529.7 1202.2l6.2 -0.1M535.9 1200l5.9 0M541.8 1203.9l7.7 -0.1M529.7 1211.3l19.8 0.1M529.7 1211.3l0.1 20.1M529.7 1231.6l19.8 -0.5M529.8 1231.4l-0.1 8.9M538.4 1231.4l-0.1 8.9M529.7 1240.1l8.6 0.2M549.5 1171.6l0 21.5M558.4 1171.6l-0.2 21.5M567.2 1171.6l0.5 21.5M549.5 1193l26.5 0.4M549.7 1193.1l-0.5 18.2M557.7 1193.1l0.1 18.2M549.5 1201.2l8.2 0M557.7 1200.2l18.3 0M568.9 1193.1l0.1 7.1M564 1193.1l-0.1 7.1M565.2 1200.2l0 11.1M569.8 1200.2l0.2 11.1M549.5 1211.4l26.5 -0.1M549.4 1211.3l0.6 20.1M565.3 1211.3l0 20.1M556.1 1211.3l-0.5 20.1M549.5 1217.6l6.5 -0.1M556 1225l9.3 0.2M560.5 1211.3l-0.2 13.8M559.9 1225.1l-0.1 6.3M571 1211.3l0 20.1M565.3 1218.7l5.7 0M571 1224.1l5 0M549.5 1231.6l26.5 -0.7M549.5 1231.4l0.1 11.1M560.2 1231.4l-0.1 11.1M553.3 1231.4l-0.2 11.1M553.2 1237.8l7 0M570.4 1231.4l0.1 11.1M560.2 1240.9l10.3 0.2M567.1 1231.4l0 9.5M564.7 1240.9l0 2.1M587.6 1165.3l0.1 2M594.6 1163.2l0.1 4.1M582.2 1167.3l20.5 0.1M576 1169.5l0.4 23.6M581.3 1167.3l0.4 25.8M586.6 1167.3l0.3 25.8M591.9 1167.3l0.5 25.8M597.3 1167.3l0.2 25.8M576 1193.2l26.7 -0.3M576 1193.1l0.2 18.2M585 1193.1l0.1 18.2M576 1205l9 -0.1M585 1201.1l17.7 0.4M596.6 1193.1l-0.1 8.1M590.8 1193.1l-0.2 8.1M590.5 1201.2l0.2 10.1M594.8 1201.2l0.1 10.1M576 1211.4l26.7 -0.1M576 1211.3l0.2 20.1M576 1224.1l26.7 -0.7M590.2 1211.3l-0.1 12.7M598.7 1211.3l-0.1 12.7M585.5 1224l-0.2 7.4M581.1 1224l0.2 7.4M593.5 1224l0.1 7.4M596.5 1224l0 7.4M576 1231.6l26.7 -0.8M576.1 1231.4l-0.2 11.1M600.7 1251.6l2 0M602.9 1161.1l0.1 6.2M614.6 1157l-0.1 10.3M607.6 1158.6l0.1 8.7M602.7 1167.3l27.2 0.1M602.6 1167.3l0.5 25.8M602.7 1185.2l27.2 0M611.8 1167.3l0 17.9M620.8 1167.3l0.1 17.9M609.5 1185.2l0.1 7.9M616.3 1185.2l0 7.9M623.1 1185.2l0 7.9M602.7 1193l27.2 0.5M602.7 1193.1l0.2 18.2M614.7 1193.1l0 18.2M619.7 1193.1l0.1 18.2M624.8 1193.1l0.1 18.2M602.7 1211.4l27.2 -0.1M602.7 1211.3l0.2 20.1M621.8 1211.3l-0.9 20.1M608.7 1211.3l-0.1 20.1M616.9 1211.3l-0.1 20.1M608.7 1224.8l8.2 -0.3M616.9 1220.6l4.7 0M621.6 1224.4l8.3 -0.2M602.7 1231.3l27.2 0.8M602.7 1231.4l0 19.9M602.7 1251.2l27.2 0.5M629.9 1152.8l-0.2 14.5M637.2 1152.8l0.3 14.5M629.9 1153.6l7.3 0M647.3 1157l-0.2 10.3M637.2 1156l10.2 0M641.8 1156l0 11.3M647.4 1156.9l2.9 0M629.9 1167.4l23.3 -0.3M629.8 1167.3l0.6 25.8M629.9 1193.1l23.3 0.2M630 1193.1l-0.3 18.2M629.9 1201.7l23.3 0M638.2 1193.1l0 8.6M647 1193.1l-0.2 8.6M643.5 1201.7l0 9.6M629.9 1211.3l23.3 0.1M629.8 1211.3l0.4 20.1M643.1 1211.3l0.4 20.1M634.6 1211.3l0.8 20.1M629.9 1224.2l4.9 0M646.8 1211.3l0.1 20.1M643.2 1220.2l3.7 0M646.9 1223.9l6.3 0.1M629.9 1231.4l23.3 0.1M629.9 1231.4l0.1 19.9M637.7 1231.4l-0.3 19.9M645.4 1231.4l0 19.9M629.9 1251.1l23.3 0.7M629.8 1251.3l0.5 18.4M629.9 1266.6l23.3 0.8M637.5 1251.3l-0.1 15.5M637.2 1266.8l0.1 4.6M647.2 1266.8l0 7M642.8 1266.8l0 7M640.5 1273.8l12.7 0.2M653.3 1159l0.1 8.3M658.8 1165.3l0 2M653.2 1167.4l8.1 -0.1M653.3 1167.3l-0.4 25.8M658 1167.3l-0.4 25.8M662.6 1167.3l0.3 25.8M667.4 1171.6l-0.4 21.5M672 1178.1l-0.5 15M677 1182.4l0.2 10.7M653.2 1193.1l28.4 0.2M653.3 1193.1l-0.4 18.2M667.6 1193.1l0.2 18.2M653.2 1201.6l14.4 -0.2M658.5 1193.1l0 8.4M663.4 1193.1l0 8.4M658.1 1201.5l-0.3 9.8M662.8 1201.5l-0.1 9.8M672.3 1193.1l-0.2 18.2M676.9 1193.1l0.3 18.2M672.3 1198.8l4.6 0M676.9 1202.5l4.7 0M653.2 1211.5l28.4 -0.5M653.1 1211.3l0.3 20.1M662.7 1211.3l-0.1 20.1M653.2 1221.2l9.5 -0.1M656.1 1211.3l-0.1 9.9M657.9 1221.2l0.1 10.2M675.4 1211.3l0.5 20.1M668 1211.3l0 20.1M662.7 1221.3l5.3 0M675.5 1218.1l6.1 0.1M653.2 1231.3l28.4 0.5M653.2 1231.4l0 19.9M666.3 1231.4l0.1 19.9M660 1231.4l-0.5 19.9M653.2 1243.3l6.7 -0.1M659.9 1243.7l6.4 0.1M671.2 1231.4l0.1 19.9M666.3 1240.8l4.9 0M678 1231.4l0.2 19.9M671.2 1241.8l6.8 0M678 1238.7l3.6 0M653.2 1251.2l28.4 0.5M653.3 1251.3l-0.5 22.5M653.2 1260.8l28.4 0.3M662.7 1251.3l-0.1 9.5M658.3 1251.3l-0.2 9.5M670 1251.3l-0.1 9.5M673.6 1251.3l0.2 9.5M665.1 1260.8l-0.2 13M659.4 1260.8l-0.2 13M673.2 1260.8l-0.2 13M653.2 1273.8l28.4 -0.1M653.1 1273.8l0 2M670.5 1273.8l-0.3 8.2M663.9 1273.8l0.1 6.3M660.7 1273.8l-0.1 4.2M681.3 1186.7l-0.1 6.4M681.6 1193.4l10.7 -0.4M681.5 1193.1l0.3 18.2M694.1 1193.1l0 18.2M686.8 1193.1l-0.1 18.2M681.6 1201.6l5.2 0M686.8 1202.2l7.3 -0.2M700.3 1195.1l-0.3 16.2M694.1 1202l6.2 -0.1M700.3 1202.3l11.1 -0.4M707.6 1195.4l0 6.8M704.3 1202.2l0.1 9.1M681.6 1211.4l29.8 -0.3M681.5 1211.3l0.5 20.1M681.6 1231.2l29.8 0.9M681.6 1231.4l0 19.9M689.1 1231.4l-0.3 19.9M696.4 1231.4l0.4 19.9M704 1231.4l-0.2 19.9M681.6 1239.9l7.5 -0.1M689.1 1239.3l7.4 -0.1M696.5 1242l7.5 0.3M704 1238.2l7.4 0.1M681.6 1251.3l29.8 0M681.6 1251.3l-0.2 22.5M693.2 1251.3l-0.5 22.5M697.7 1251.3l-0.3 22.5M702.1 1251.3l0.6 22.5M706.9 1251.3l-0.1 22.5M681.6 1273.7l27.7 0.4M681.5 1273.8l0.3 12.3M711.4 1197.2l0 14.1M711.4 1211.4l19.4 -0.1M711.4 1211.3l0.1 20.1M719 1211.3l-0.3 20.1M711.4 1217.6l7.5 0M724.6 1211.3l0.2 20.1M718.9 1225l5.7 0M724.6 1220l6.2 0.1M711.4 1231.5l19.4 -0.2M711.5 1231.4l-0.2 19.9M722.8 1231.4l-0.3 19.9M716.8 1231.4l-0.4 19.9M711.4 1240.9l5.3 0M716.7 1240.8l6.1 0M711.4 1251.3l19.4 0M711.4 1251.3l0.1 22.5M720.3 1251.3l0.6 18.4M711.4 1262.7l9 0M720.4 1258.9l10.4 0M726.5 1251.3l-0.2 7.6M730.8 1201.2l-0.1 10.1M742.9 1203.2l0.2 8.1M734.9 1201.2l0 10.1M730.8 1200.6l4.1 0M750.5 1203.2l0 8.1M742.8 1201.9l2.6 0M750.5 1203.9l4.5 0M730.8 1211.4l24.2 -0.1M730.9 1211.3l-0.4 20.1M742.6 1211.3l-0.2 20.1M735.5 1211.3l0.2 20.1M730.8 1221.5l4.7 0M735.5 1221.4l7.1 0M749.3 1211.3l0.3 20.1M742.6 1219.4l6.7 0M749.3 1221.7l5.7 0M730.8 1231.5l24.2 -0.1M730.7 1231.4l0.4 19.9M730.8 1251.3l24.2 -0.1M730.7 1251.3l0.5 16.3M742.3 1251.3l-0.3 14.3M736.4 1251.3l0 16.3M736.4 1265.3l5.8 0M742.2 1259.5l12.8 -0.3M750.5 1251.3l-0.1 8.1M755 1205.3l-0.1 6M772.3 1207.3l0 4M760.8 1205.3l0 6M766.6 1207.3l0 4M755 1205.3l5.8 0M778.4 1209.3l0 2M755 1211.4l29.5 -0.2M755 1211.3l0.3 20.1M755 1222.3l29.5 -0.2M765 1211.3l0 10.9M776.4 1211.3l-0.1 10.9M769.7 1211.3l0 10.9M774.8 1222.2l0 9.2M761 1222.2l0 9.2M767.6 1222.2l-0.1 9.2M781.5 1222.2l-0.1 9.2M755 1231.4l29.5 0.1M755.1 1231.4l-0.2 19.9M760 1231.4l-0.3 19.9M764.8 1231.4l0.4 19.9M769.7 1231.4l0.3 19.9M774.9 1231.4l-0.7 19.9M779.7 1231.4l-0.5 19.9M755 1241.1l5 0M760 1241.8l4.9 0M764.9 1238.1l4.9 0M769.8 1242.4l4.9 0M774.7 1239.1l4.9 0M779.6 1244.7l4.9 0M755 1251.2l29.5 0.4M755 1251.3l0.1 14.3M765.5 1251.3l-0.1 12.3M775.6 1251.3l0.1 12.3M765.5 1258.8l10.2 0.1M771.5 1251.3l-0.1 7.5M770.9 1258.8l-0.1 4.3M775.7 1263.8l8.8 -0.4M784.2 1209.3l0 2M784.5 1211.3l8.3 0.1M784.4 1211.3l0.7 20.1M784.5 1231.6l26.9 -0.6M784.7 1231.4l-0.6 19.9M801.5 1231.4l-0.5 19.9M790.6 1231.4l-0.1 19.9M784.5 1245l6.1 0M797.6 1231.4l-0.6 19.9M790.6 1241.4l6.8 0M797.4 1240.8l3.9 0M801.3 1241.4l10.1 0.2M807.9 1231.4l0.1 10M805.3 1241.4l0 9.9M784.5 1251.3l26.9 0M784.6 1251.3l-0.2 12.3M794.6 1251.3l-0.2 12.3M784.5 1259.4l10 0M788.7 1251.3l-0.2 8.1M803.6 1251.3l-0.3 12.3M794.5 1261.8l9 0.2M798 1251.3l-0.1 10.5M811.5 1225.4l0.1 6M816.2 1229.2l0 2.2M811.4 1231.5l8.5 -0.1M811.4 1231.4l0.1 19.9M811.4 1237.6l19.1 0.1M826.8 1235.5l0 2.1M825.7 1237.6l-0.1 13.7M818.1 1237.6l-0.1 13.7M829.8 1237.6l-0.2 13.7M811.4 1251.3l23.3 0M811.4 1251.3l0 12.3M823.9 1251.3l-0.2 12.3M815.6 1251.3l0.1 12.3M811.4 1261.7l4.3 0M823.8 1262.1l10.9 0M830 1251.3l-0.1 10.8M829.4 1262.1l-0.1 2.3M834.6 1242.5l-0.2 8.8M834.7 1242.6l2.2 0M834.7 1251.3l2.2 0M834.8 1251.3l-0.2 14.3M834.7 1259.9l2.2 0M622.1 1093.3l-0.5 10.2M619.5 1099.2l2.4 0.1M623.8 1104.8l8.4 0.4M627.3 1123.7l4.2 0.1M632.5 1097.7l-0.5 26.6M631.5 1124.4l30.5 0.5M631.5 1124.3l-0.6 16.2M642.8 1151l18.2 0.8M645.4 1151.1l-0.1 2.1M653.5 1151.4l-0.1 8.3M662.5 1109l-0.5 16.3M677.7 1113.2l-0.6 12.7M661.9 1125.4l22.3 0.6M662.1 1125.3l-1.5 26.3M669.3 1125.6l-0.6 26.3M676.8 1125.8l-1.1 26.4M661 1151.7l22.3 0.6M661.2 1151.6l-0.8 12.5M674.8 1152.1l-1 22.9M678.3 1179.5l4 0.2M685 1115.9l-0.1 10.2M698.8 1118.4l-0.1 8.2M709 1118.8l-0.3 8.2M684.2 1126l30.8 1.5M684.2 1126.1l-0.8 26.3M703.4 1126.8l-0.3 26.3M697.4 1126.6l-0.7 26.3M683.3 1152.3l30.8 1.6M683.3 1152.4l-1.1 27.1M682.3 1179.5l30.9 1M682.1 1179.5l0 2M692.2 1179.8l-0.2 10.3M706.3 1180.3l-0.7 20.6M694.2 1191.8l11.7 0.5M705.6 1199l6.9 0.2M715.2 1119l-0.3 8.2M715 1127.2l15 0.5M715.1 1127.2l-1.2 26.3M714.1 1153.7l17.1 0.1M714.1 1153.5l-1 27.1M731.2 1154.1l-0.6 27.1M713.2 1180.4l17 1M713.2 1180.6l-0.8 20.6M721.9 1180.9l-0.6 18.5M712.7 1194.1l8.8 0.4M293.5 1238.8l2 -0.1M301.8 1228.2l22.7 0.6M295.3 1228.2l0.9 32.7M297.6 1260.9l26.9 0.2M299.7 1278.5l24.8 0.2M299.7 1291l24.8 -0.1M306.2 1291l0 2M324.3 1230.2l1.1 30.7M324.5 1260.9l35.7 0.2M324.6 1260.9l-0.4 30.1M324.5 1273.7l35.7 -0.2M346.8 1273.6l-0.1 17.4M331.7 1273.6l-0.4 17.4M324.5 1290.9l35.7 0.4M324.5 1291l0 4M360.2 1230.2l0.1 30.7M360.2 1260.9l26.5 0.1M360.3 1260.9l-0.3 30.1M360.2 1291l26.5 -0.2M360.4 1291l-0.1 4M386.7 1230.2l0.1 30.7M402 1230.2l-0.4 30.7M386.7 1245.7l15.2 -0.1M401.9 1241.8l8.5 0.1M410.7 1241.8l-0.2 19.1M386.7 1260.7l24.4 0.8M386.8 1260.9l-0.5 30.1M399.9 1260.9l-0.4 30.1M399.8 1271l10.9 -0.2M399.8 1281l13.1 -0.2M386.7 1290.9l26.5 0.2M386.6 1291l0.1 4M405.7 1291l0.1 4M167.2 1292.8l8.4 1.3M194.9 1247.2l-5.3 28.2M180.9 1264.1l10.6 1.9M191.8 1264.2l24.1 4.4M205.9 1255.7l-1.8 10.7M203.4 1266.3l-2 11.2M179.3 1273.5l34.6 6.3M179.1 1273.6l-3.2 20.3M414.2 1270l22.4 -0.2M419.4 1243.8l0.6 26.3M418.3 1270.1l0 22M498 1243.8l42.4 -0.1M498 1292.1l42.4 0.1M540.4 1243.7l8.3 0.1M540.4 1259.4l39.2 0.1M558.8 1246l-0.2 13.4M567.2 1259.4l0 32.7M579.6 1274.7l56.1 0.1M610.9 1262.4l-0.1 12.4M608.4 1274.8l0 17.3M637.7 1276l0.1 16.1M662.8 1292.1l0 2.1M708.9 1281.6l0.2 10.5M730.4 1274l0 18.1M736.7 1198.1l22.4 -0.2M743.2 1166.9l0.1 31.2M734.9 1187.3l8.3 0.1M743.2 1181l15.9 0.1M744.9 1198.1l0 2.3M772.8 1110.9l0.3 18.2M759.1 1116.2l13.6 0M759.1 1129l41.9 0.2M759.2 1129.1l-0.6 37.8M801.2 1129.1l-0.5 37.8M801 1166.8l33.6 0.4M824.1 1230.5l10.5 0.2M824.2 1213.7l0.2 16.6M834.6 1094.8l2 0M834.6 1129l2 0M834.6 1141.9l2 -0.1M834.6 1166.7l2 0" fill="none" stroke="#82b6b4" stroke-width="0.68"/>
<clipPath id="cBlob"><path d="M57 1082L70 1069L86 1052L102 1037L117 1031L132 1027L149 1020L164 1009L182 1004.5L204 1005L214.6 1011.5L231 1016.7L239.5 1010.5L243.6 994L247.8 977.3L258 969L274.7 965L295.4 960.7L310 954.5L326.5 952.4L344.4 953.6L364.3 959.8L379.2 967.3L385.4 979.7L391.6 989.5L398.2 996L413 997.8L426.4 995.4L436.4 990.4L443 983L449.7 974.6L458 964.7L466.2 954.7L474.5 943L479.5 930L482 916.6L484.5 900L489.7 886L497 873L506 863L526 850L549 840L572.6 835L596 833L616 838L636 850L652 866L660.5 883L669 896L670 919.5L672 952.6L675 975L685 984L692 987.4L704.6 997.3L717 1003.5L734.5 1001L754.4 999.8L779.3 994.8L804 992.3L816.6 992.3L821.5 1001L829 1009.8L837.7 1029.7L839 1054.5L834 1074.4L819 1084.4L804 1094.3L784.2 1106.8L764.3 1115.5L742 1118L719.6 1116.7L692.2 1116.7L667 1113L660 1110L645 1103L631 1096L619 1091L611.5 1087L604 1089.5L591.6 1097L579 1099.4L556.8 1101.9L532 1103L512 1105.6L502 1114.3L494.6 1126.8L490 1136L479 1144.4L460 1155L440 1165L420 1172L408 1178L396 1190L384 1199.5L376.4 1217.3L371.4 1227L359.4 1228.5L342 1227L332 1219.4L324 1217.3L309 1214.8L299.3 1217.3L291.8 1229.8L284.4 1239.7L269.5 1252L250 1265L230 1267L217 1262L209.8 1257L202.3 1244.7L194.8 1233.5L184.9 1229.8L181.7 1226.9L175.5 1229.4L171.7 1239.3L166.8 1254L161.8 1261.7L149.4 1264L137 1260.4L127 1249L123.2 1234.3L123 1217L119.5 1209.5L112 1208L104.6 1216.9L94.6 1221.9L74.7 1223L57.3 1223L52.3 1214.4L57.3 1207L64.8 1192L66 1174.6L67.3 1149.8L80 1143L92 1135L95 1127L82 1119L69.8 1101.8L57.3 1087Z"/></clipPath>
<g clip-path="url(#cBlob)">
<g id="blobFill" clip-path="url(#cBlob)">
<rect x="30" y="815" width="820" height="475" fill="#ffff00"/>
<path d="M414 815l379.4 0 4.8 20 3 20 1.6 22 0.7 40 0.9 8 2.1 8 3.3 6 5.7 6 22.5 14.9 6 4.7 6 5.8 0 112.5 -9.6 8.1 -10.4 6.4 -12.9 5.6 -13.2 4 -25.9 5.2 -8 0.5 -6 -0.2 -34 -5.5 -62 -14.7 -40 -10.6 -34 -3.6 -50 3.9 -4 -1.5 -16 -8.8 -14 -9.3 -4.2 -3.4 -3.8 -2 -14 2 -1.9 2 -0.6 2 -0.5 8 -1.5 8 0.3 4 2.7 10 0.5 4 -5 22 -10.9 18 -10.5 16 -4.6 4.5 -10.3 7.5 -4.5 4 -3.1 4 -2.2 6 0.6 6 2.4 6 3.4 12 14 36 6.3 18 4.9 16 4 16 -441.5 0 0 -197.3 8 -3.3 8 -2.3 14 -1.5 2 0.4 6 4.5 20 7.5 4 2 3.5 6 4.5 12.8 2 1.2 6 10 2 0.4 10 -2.4 1.9 -2 2.7 -6 8.7 -14 12.4 -18 12.3 -16 2 -4 5.1 -20 2.2 -6 11.6 -18 5.1 -6.3 4 -2.7 2.6 -1 5.4 -1.4 4 -0.2 4 0.9 8 3.6 18 4.6 4 0.3 5.9 -1.8 1.9 -2 0.6 -2 -1.2 -8 0 -4 1.3 -14 1 -6 3.1 -8 2.7 -4 2.7 -2.8 4 -2.8 4 -1.8 16 -3.5 14 -8.6 6 -2.6 6 -1.7 16 -3.2 12 -4.6 9 -4.4 9 -5.2 6.5 -4.8 6.3 -6 7.8 -10 8.1 -14 23.5 -54 13.2 -26zM169.6 1215l-0.3 2 1.7 2 1 0.5 2 -1.7 0.4 -2.8 -0.4 -0.6 -2 -1 -2 1.2z" fill="#ffe600" fill-rule="evenodd"/>
<path d="M440 815l304.5 0 6.5 20 2.3 10 1.9 12 1.3 20 -1.3 22 -2.7 16 -5 18 -3.9 10 -4.7 10 -15.6 28 -1.5 6 0.4 4 0.8 2 4.6 6 4.4 3.5 4 1.7 6 0.9 8 -0.7 8 -3 4 -0.9 34 -3.5 2.5 0 3.5 0.9 11.8 5.1 6.3 2 3.9 2 2 3 3.9 9 5.5 10 0.8 2 0.6 4 -0.2 24 -2.6 3.9 -14 15.6 -18 11.6 -4 2 -28 5.8 -28 -3.6 -38 -10 -74 -14.8 -24 -1.4 -24 1.4 -24 -0.2 -20 -7.9 -18 -9.2 -16 -5.8 -4 -0.3 -10 1.4 -3.7 1.5 -8.5 10 -2 4 -2.3 22 1.4 18 -0.9 4 -7.2 20 -16.8 18.9 -14 8.7 -8 7.2 -6 7.2 -5.7 8 -3.1 6 -1 4 0 4 1.8 5.1 14.9 20.9 5.6 10 5.5 12 4.5 12 3.8 12 6 26 -424.3 0 0 -188 15.7 -8 6.3 -2.2 8 -1.9 2 1 26 22.8 2.7 4.3 0.9 6 1.6 2 2.8 0.6 4 -0.4 2 0.9 2 2.7 2 4.2 2 0.5 8 -1.6 6 -0.2 2 -0.7 2.3 -2 3.2 -6 10.5 -15.1 22 -35.8 2 -6 5 -21.1 1.9 -4 13.1 -17.7 4 -3.7 4 -2.4 4 -1.6 4 -0.6 4 0.6 8 2.5 20 4.2 8 -0.5 4 -1.5 1.5 -1.3 1.1 -2 0.2 -4 -1.7 -6 5.3 -18 2.7 -6 2.6 -4 3.6 -4 2.7 -2 18 -4.6 12 -8.1 6 -2.1 6 0 10 2.3 6 0.7 24 -0.7 4 1.6 2.5 2.9 3.3 12 2.2 4.3 2 2.1 2 0.8 2 -0.5 2 -1.7 4 -6.5 6.9 -16.5 12.9 -22 5 -10 5.6 -14 12.3 -38 7.5 -20 9.8 -20.8 11.3 -19.2zM358.9 1003l-2.9 0.9 -2 2 -2 3.7 -0.6 5.4 0.6 0.9 2 0.7 6 -1 4.7 -2.6 1.2 -2 0.7 -4 -0.6 -2 -2 -2 -2 -0.6 -2 0.3zM169.7 1211l-2.6 2 -1.2 2 -0.1 2 0.6 2 1.3 2 4.3 2.2 3.5 -4.2 1.4 -4 -0.9 -2 -2 -2 -2 -0.6 -2 0.5z" fill="#ffcc00" fill-rule="evenodd"/>
<path d="M468 816.3l1.1 -1.3 231.3 0 6 10 4.9 10 4.1 10 3.8 12 2.7 12 1.8 12 1 12 0.2 12 -0.8 14 -1.5 12 -2.4 12 -2.8 10 -3.8 10 -4.7 10 -4.8 8 -5.9 8 -1.2 2 -0.4 2 0.9 2 5 4 15.5 7.6 10.4 6.4 3.6 1 24 3.6 20 5.8 3.7 1.6 10.7 12 0.3 2 -1.2 12 -2.2 4 -3.8 4 -4.5 6 -2.3 2 -18.7 7.5 -6 1.5 -22 1 -38 -7.5 -36 -4.9 -26 -5.1 -26 -0.6 -32 0.8 -4 -0.3 -46 -18.9 -18 -5.1 -6 -0.6 -12 2.4 -4 1.3 -2.6 2.5 -7.4 9.4 -1.9 4.6 -4.2 20 0.1 24 -6 22.3 -14 16.5 -10 6.3 -8 7.2 -6 6.4 -15.4 19.3 -3.4 6 -2.3 6 -0.3 4 1.6 6 15.7 24 5.3 10 4.2 10 3.5 10 3.3 12 4.4 24 -408.6 0 0 -178.1 10 -6.6 8 -4.5 6 -2.5 4 -0.6 4 1.7 20 17.6 7.6 9 4.1 2 4.3 -0.2 2 0.5 1.9 1.7 2.1 4.2 2 1.8 2 0.5 14 -0.1 6.1 -2.4 3 -2 3.6 -4 11.6 -18 11.7 -19.8 7.4 -18.2 5.8 -26 2.3 -4 12.5 -15.8 8 -5.4 6 -2 4 0.3 6 1.6 22 3.8 10 0.3 4 -0.8 2.7 -2 1.7 -2 9 -26 3.5 -6 4.8 -6 2.3 -2.2 4 -2.6 9.3 -3.2 6.7 -4.2 4 -1.7 6 -0.7 6.1 2.6 13.9 2 12 4.2 5.5 3.8 2.5 3.4 3.3 6.6 3.9 6 1.1 4 -0.1 4 -1.7 10 -3.1 8 2.6 1.8 4 -0.3 10 -3.1 22 -4.4 4 -1.9 1.5 -2.1 0.7 -4 -1.4 -8 -0.1 -4 0.7 -4 2.3 -6 3.3 -6 5 -7.2 16.3 -18.8 3.6 -6 2.1 -4.9 3.1 -11.1 8.8 -44 4 -14 4.5 -12 5.6 -11.9 6 -10.6 7.7 -11.5 7.7 -10zM167.9 1209l-5 4 -0.7 2 0.4 4 1.4 3 2 2.3 6 2.7 2 -1 1 -3 2.7 -4 1.3 -4 0.1 -2 -1.5 -2 -3.6 -2.9 -2 -0.3 -4 1.1z" fill="#ffb300" fill-rule="evenodd"/>
<path d="M508 816l1.4 -1 142.4 0 6.7 6 7.9 8 8.2 10 6.6 10 5.4 10 4.3 10 4 12 2.9 12 2.4 14 1.8 15.1 0.8 12.9 -0.2 12 -1.3 10 -2.5 10 -4.5 10 -2.8 4 -3.7 4 -3.8 3 -2.2 1 -0.6 2 1.6 2 0.8 4 6.2 4 8.2 6.4 6 3.3 24 8.7 26 5.2 4.9 2.4 5.1 3.5 2.3 2.5 0.8 2 0.4 2 -0.4 4 -6.5 12 -1.9 2 -16.7 7 -24 1 -28 -3.9 -60 -12.1 -30 -1 -30 1.1 -22 -6.9 -30 -12.3 -22 -7.9 -20 -3.5 -3.3 0.5 -8.7 2.8 -2.5 1.2 -1.2 2 -2.8 12 -1.8 12 -0.1 4 2.6 26 0.5 14 -0.6 4 -5.3 20 -1.9 4 -4.2 4 -13.5 16 -15.2 15.6 -13.6 16.4 -9.2 14 -2.3 6 0.3 6 2 6 14.3 26 7.1 18 4.7 20 2.4 22 -393.7 0 0 -168.7 16 -10.1 6 -2.4 4 -0.5 4 0.9 4 1.9 24.5 16.9 3.5 1.1 6 0 1.8 0.9 3.7 6 2.5 1.7 14 1.8 2 -0.2 14.7 -5.3 2.1 -2 4.3 -8 8 -12 10.9 -20 5.7 -20 5.4 -26 12.9 -16.8 2 -1.7 8 -4.7 4 -1.5 2 -0.2 34 5.1 8 0.8 4 -1.1 2.8 -1.9 3.3 -4 5.9 -11.9 4.3 -12.1 8.3 -12 1.8 -2 2.9 -2 8.7 -2.4 6 -3.1 6 0 8 1.3 6 -0.3 4 0.4 14 5.8 4 2.7 8 12.4 1.5 3.2 0.5 4 -0.3 10 -0.4 2 -3.1 6 1.8 3.6 2 1.9 2 0.2 4 -0.9 8 -3.3 4 -1 14 -2.4 18.7 -2.1 4.8 -2 1.9 -2 0.4 -2 -0.7 -4 0.9 -3.6 2 -4.5 4 -6.4 8 -8.1 14 -10.1 6 -5 5.3 -6.3 3.4 -6 2.8 -8 1.9 -8 6.6 -44.7 2.1 -11.3 3.1 -10 4.8 -10.5 8 -12.8 10 -12.8 11.2 -11.9 11.6 -10zM672.9 981l-0.9 0.3 -0.4 1.7 0.4 0.5 2 -0.2 0 -2.3zM166.5 1207l-2.5 2.1 -4.3 1.9 -2.3 2 1.2 8 2 4 3.4 3.4 6 2.5 2 1.7 2 -0.5 2 -7.4 3.9 -5.7 1.9 -6 -0.7 -2 -5.1 -4.5 -2 -1 -2 -0.2 -4 0.8z" fill="#ff9900" fill-rule="evenodd"/>
<path d="M570 828.9l14 -1.1 12 0.8 12 2.7 12 4.5 12 6.5 11.4 8.7 8.6 8.8 8.2 11.2 7.4 14 5.7 16 11 44 2.2 14 -0.5 9.2 -1.5 4.8 -1.2 2 -1.3 1.5 -2 0.1 -8 -3 -2 0.2 -2 0.9 -2.2 2.3 -1.9 4 -0.4 4 1.2 4 3.3 3 10 2.2 1.8 0.8 0.9 4 1.3 1.6 3.4 2.4 5.3 8 13.3 10.6 18.8 9.4 9.2 5.4 2.4 0.6 2.5 2 -1.5 2 -9.4 6.2 -4 1.4 -14 2.9 -6 0.2 -34 -4.6 -24 -8.7 -4 -0.8 -42 -1.1 -28 0.3 -22 -3 -18 -6.9 -3.4 -1.9 -23.5 -20 -14.1 -14 -2.1 -4 -5.5 -14 -3.4 -20 5.2 -24 4.2 -28 2.7 -10 3.3 -8 5.9 -10 7.9 -10 8.8 -8.9 10 -8 10 -6.1 10 -4.6 12 -4 11.5 -2.4zM290 978.4l8 -1.4 16 0.8 4 1.3 10 5 4 3 7.6 11.9 0.6 2 1 12 -0.3 2 -2.1 4 -0.1 2 1.1 4 -1.5 6 1.4 2 0.2 2 -1.9 3.9 -0.3 2.1 0.3 2 2 1.5 2 0.3 1.1 -1.8 1.6 -6 0.2 -4 1.1 -2 2.9 -2 9.1 -4.3 4 -1.2 14 -2.5 28 -0.7 4 0.8 12 3.9 14 7.1 2.4 2.9 5.6 10 4.9 12 6.1 20 0.6 4 -0.5 18 -5.5 18 -17.4 20 -16.1 16 -12.1 14.5 -12.3 17.5 -1.7 3.2 -0.7 2.8 0 6 1.9 8 12.1 28 4.8 16 2.8 18 0.4 22 -379.3 0 0 -160.9 18 -9.9 6 -1.5 4 0 4 0.8 6 2.2 19.3 9.3 4.7 0.8 4 -0.6 2 0.4 3.5 5.4 1.9 2 4.6 2 12 2 17.1 -4 2.9 -1.1 2.7 -2.9 3.3 -6.4 9 -13.6 10.6 -22 8.8 -44 1.6 -3.4 10 -12.6 4 -3.3 8 -4.4 4 -1.1 20 2.1 22 3.6 4.7 -0.9 3.3 -2 3.6 -4 6.4 -11.1 6 -14.9 8 -11.2 4 -2.7 8.6 -2.1zM219.7 1045l0.3 2.3 2 0.7 2.3 -1 -0.3 -2.3 -2 -0.7 -2 0.7zM169.9 1203l-3.9 1.3 -4 3.3 -10 3 -0.5 0.4 -0.5 2 3.2 12 3.8 5.5 4 3.1 6 2.1 4 3.4 2 -0.1 1.8 -4 1.1 -8 0.7 -2 3.7 -4 3 -10 -0.9 -2 -5.4 -4.4 -4 -1.7 -4 0.1z" fill="#ff8000" fill-rule="evenodd"/>
<path d="M586 864.9l22 1.1 18 7.8 4 3.2 13.6 16 2.4 4 9.2 24 4.5 26 0.3 6 -0.9 20 -5.1 17 -2 5 -14 14.3 -4 3.4 -21.2 10.3 -6.8 1.8 -10 0.7 -14 1.8 -6 -0.2 -24 -4.5 -22 -9.4 -4 -2.9 -14 -13.3 -7.3 -22 2 -28 1.3 -6 7.5 -24 12.5 -22 15.8 -16 4.2 -2.8 16 -7.9 21.4 -3.3zM290 980.8l10 -1.7 14 1.3 4 1.6 8.5 5 4 4 5.9 10 1.8 10 -0.2 4 -1.1 4 0.7 4 -2.9 8 -0.4 8 1.6 12 0.9 2 1.2 1.3 2 0.3 2.2 -1.6 6.6 -20 1.7 -2 7.5 -4.3 4 -1.4 14 -2.7 18 0 10 1.1 6 2.1 8 3.7 8.2 5.5 4.2 4 4.1 6 3.2 6 5.1 12 4.1 12 1.6 6 0.5 16 -0.5 4 -4.5 14.4 -4 5.6 -10.1 12 -18.6 18 -7.3 8.5 -18 24.4 -1.7 3.1 -1.3 4 -0.5 6 1 8 9.6 30 3.1 16 0.6 18 -2.2 20 -364.6 0 0 -153.3 12 -6.8 6 -2.8 6 -1.7 4 -0.4 8 1.1 20 6.2 4 0.4 6 -0.6 2 1.5 2.8 4.4 3.2 2.5 4 1.4 10 1.8 6 -0.3 14 -2.8 4 -1.6 2 -1.5 2.9 -3.5 9.1 -14.1 4.1 -7.9 8.1 -20 8.3 -44 0.9 -2 10.6 -13.4 2 -1.6 8 -4.3 2 -0.9 4 -0.6 18 1.4 22 3.9 4 -0.2 2 -0.7 4 -2.8 3.9 -4.8 6 -10 5.9 -14 8.2 -11.6 4 -2.5 7.5 -1.9zM219.5 1043l-2 2 0 2 2.5 2.2 4 0 2.5 -2.2 0 -2 -2.5 -2.2 -4 0zM167.6 1201l-3.6 1.7 -4 3.3 -2 0.6 -12 0.5 -3 1.9 -0.5 2 2.5 6 1.9 10 2 4 3.1 4 6 4.9 8 2.7 4 3 2 1 2 0.2 2 -1.2 1 -2.6 0.4 -10 1 -6 4.2 -4 0.9 -2 0.7 -4 3.1 -6 0 -2 -1.4 -2 -3.9 -3.4 -4 -2.3 -4 -0.9 -6 0.5z" fill="#ff6600" fill-rule="evenodd"/>
<path d="M588 891l6 0 6 1 16.4 7 3.6 3.1 12 14.5 2 3.5 8 20.1 3 24.8 -2.7 16 -1.3 4 -13 16.9 -22 12.7 -4 1.1 -20 3.2 -4 -0.1 -20 -4.8 -18 -9 -2.1 -2 -7.9 -10 -2.4 -4 -2.4 -16 -0.1 -4 4.4 -22 1.2 -4 9.3 -21 11.2 -15 4.4 -4 14.4 -9 17.6 -3zM298 981l4 -0.2 8 1.1 4 0.9 4 1.8 8.4 6.4 5.4 8 2.2 6 1.1 8 -0.7 10 -2.6 8 -0.1 10 2.9 12 1.4 2.2 2 1.5 2 0.2 2.9 -1.9 1.2 -2 6.2 -18 3.4 -4 4.3 -2.5 4 -1.5 14 -3.1 18 0.5 6 0.8 6 1.9 7.4 3.9 6.6 4.6 6 5.8 3.9 5.6 4 8 4.9 12 3.9 12 1.4 10 0.1 10 -2.2 10 -2.3 6 -3.9 6 -9.6 12 -17.4 16 -6.8 7.4 -10.1 14.6 -9.4 12 -2.2 4 -1.4 4 -1 6 0.3 8 6.7 30 1 8 0.3 8 -0.5 8 -1.6 10 -2.1 8.6 -3.6 11.4 -348.4 0 0 -145 10 -6.5 8 -4.2 6 -2 6 -0.9 8 0.5 16 3 10 0.3 2 0.7 3.8 4.1 4.2 2.7 4 1.2 10 1.6 6 -0.2 14 -2.2 6 -2.2 3.8 -2.9 5 -6 6.3 -10 3.9 -8 7 -20 8.2 -44 2 -4 9.1 -12 2.7 -2 6 -3.1 6 -1.9 18.8 1 11.2 1.7 12 2.6 4 -0.6 2 -0.9 4 -3.4 4.1 -5.4 5.9 -10 6 -13.4 7.4 -10.6 4.6 -2.7 13.9 -3.3zM216.9 1043l-1.4 2 0 2 1.4 2 3.1 1.6 2 0.2 4 -1 2.5 -2.8 0 -2 -1.4 -2 -3.1 -1.6 -2 -0.2 -4 1zM165.2 1199l-5.2 4.1 -2 1.2 -2 0.4 -18 -1 -2.7 1.3 -1.3 1.8 -0.4 4.2 2.4 8 1.1 8 1.1 4 3.4 6 4.4 5.4 5.5 4.6 3.8 2 14.7 5.5 4 0.5 2 -0.4 2.4 -1.6 1.9 -4 0 -4 -1.6 -10 0.6 -6 0.7 -1.3 3.5 -2.7 1.4 -2 1.3 -6 4.3 -8 -0.3 -2 -1.4 -2 -4.6 -4 -4.2 -2.2 -8 -1 -6 0.8z" fill="#ff4d00" fill-rule="evenodd"/>
<path d="M582 916.8l4 -0.7 4 0.2 14 4.7 4 2.7 12 14.4 7.1 20.9 0.3 4 -0.2 16 -6.8 14 -2.4 2.8 -12.7 9.2 -5.3 2.6 -16 3.8 -4 0.3 -18 -5.8 -13.2 -10.9 -1.7 -2 -1.1 -2.6 -2.9 -13.4 -0.2 -4 2.9 -20 8.6 -20 3.6 -3.9 12 -10.1 11.2 -2zM298 982.7l6 -0.1 8 1.9 4 1.5 6.5 5 5.7 8 2.3 6 1 8 -0.5 8 -2.2 10 0.1 8 3.8 14 3.3 5 2 1 2 0.2 2 -0.7 2 -1.9 1.7 -3.6 3 -10 3.3 -7.3 2 -2.7 4 -2.8 4 -1.5 14 -3.5 16 0.7 6 0.9 6.2 2.2 6.7 4 7.3 6 5.2 6 3.4 6 4.4 10 4.7 14 2.1 8 1.2 10 -0.3 8 -1.6 8 -3.4 8 -9.9 14.5 -20.1 17.5 -3.9 4 -10.2 16 -11.4 14 -3.1 6 -1.8 6 -0.7 8 0.6 8 3.4 22 0.1 8 -0.8 8 -2.1 8.2 -4 9.9 -6 10.8 -7.2 11.1 -204.9 0 -1.9 -1 -4 -0.9 -16 -1.1 -6 -1.6 -4 -1.8 -5.1 -3.6 -3.7 -4 -2.6 -4 -2.5 -6 -2.9 -16 -1.2 -4 -3.1 -4 -4.9 -3.6 -8 -4.1 -10 -3 -8 -1 -24 -0.6 -8 -1.6 -6 -2.4 0 -70.5 1.3 -1.2 7.3 -6 9.2 -6 6.2 -2.8 8 -1.8 6 -0.1 24 1.4 2 0.6 6 4 4 1.9 14 2.2 6 -0.2 14 -1.7 4 -0.9 5.5 -2.6 5.3 -4 4.9 -6 4.3 -7 4.1 -9 2.8 -8 3.1 -12 2.1 -14 5.9 -29.7 1.8 -4.3 8.2 -12 2.3 -2 3.7 -2 6 -2.6 4 -0.8 12 0.4 9.5 1 6.5 1 12 3 4 -0.1 2 -0.6 2 -1.3 3.9 -4 5.6 -8 3.6 -6 6.5 -14 6.6 -10 3.8 -2.8 12.4 -3.2zM217.2 1041l-2.5 2 -1.1 2 0 2 1 2 2.5 2 2.9 1 4 0 2.8 -1 2.5 -2 1.1 -2 0 -2 -1.1 -2 -2.6 -2 -2.7 -0.9 -6 0.5zM168.2 1195l-4.2 1 -2 1.1 -4 4 -4 1.5 -4 -0.3 -14 -3.8 -6.4 0.5 -4 2 -2 2 -1 2 -0.4 4 2.2 8 1.8 12 2.2 8 3.4 6 6.2 7.3 6 5.3 8 4.4 18 5.7 4 0.3 4 -1 4 -2.2 2 -1.9 2 -3.8 0.3 -2.1 -0.4 -4 -5.6 -14 -0.1 -6 1.1 -2 4.9 -4 0.9 -2 1.1 -6 5.6 -8 0.3 -2 -0.8 -2 -1.6 -2 -7.7 -6.5 -4 -1.2 -10 -0.5z" fill="#ff3606" fill-rule="evenodd"/>
<path d="M582 932.9l4 -0.2 4 0.9 4 1.9 3.6 3.5 6.4 9.2 1.4 2.8 3.6 18 -2 16 -7 10.8 -2 2.1 -1.9 1.1 -12.1 4.2 -4 0.1 -6 -2.7 -3.9 -3.6 -5.9 -8 -1.8 -4 -1.4 -14 0.4 -4 3.5 -14 1.6 -4 7.6 -12 2.3 -2 5.3 -2zM296 984.9l4 -0.9 4 0.2 12 4.4 4.4 4.4 4.9 8 1.4 4 0.7 6 -1.6 18 0.3 10 4.7 14 3.1 6 2.1 2.1 2 0.8 2 0.1 2 -0.6 2.7 -2.4 2.1 -4 2.7 -10 2.5 -5.7 2.6 -4.3 3.4 -3 18 -5.5 18 1.2 4 1.1 4.8 2.2 5.8 4 7.4 7.1 3.6 4.9 4.6 10 3.5 10 3.7 14 1.9 12 0 8 -1.8 10 -2.4 6 -5.4 10 -3.7 4.6 -19.8 15.4 -4 4 -8.2 15.5 -12.8 14.5 -5.6 10 -1.8 6 -1 8 0 6 1.6 18 -0.2 6 -1.2 6 -3 7.2 -4 5.5 -6 5.3 -14.6 8 -5.7 4 -5.7 6.2 -8.4 11.8 -117.3 0 -1.3 -8 -0.5 -16 -1.7 -8 -3.4 -6 -11.4 -10.4 -2 -3.2 -0.7 -2.4 0.8 -4 5.5 -4 1.2 -2 1.6 -8 6.6 -8 0.2 -4 -2.4 -4 -4.2 -4 -2.6 -2.3 -4 -2.2 -4 -1 -6 -0.4 -6 0.1 -4 0.8 -4 2 -4.6 5 -3.4 1.1 -4.4 -1.1 -9.6 -5.2 -6 -2.6 -20 -6.8 -4 -0.6 -16 1.2 -14 -1.5 -2 0 -4 1.2 -10 5.4 -6 2.4 -6 1.3 -4 0.1 -6 -1.4 -4 -2.7 -3.5 -4.8 -1.6 -6 0.1 -4 1.4 -6 2 -4 2.8 -4 5.5 -6 7.2 -6 6.1 -3.7 4 -1.6 8 -1.5 20 0 4 0.5 8 3.2 6 1.5 8 0.9 10 0 18 -1.9 8.4 -3.4 5.6 -3.3 2.7 -2.7 5.7 -8 2 -4 4.4 -12 2 -8 3.1 -22 5.6 -28 2.4 -6 7 -12 2 -2 3.1 -1.7 8 -3.4 4 -0.8 24 2 16 4.3 4 -0.3 4 -2.8 8.5 -11.3 3.7 -6 6.7 -14 7.1 -11 2 -1.7 2 -0.9 9.7 -2.4zM218.3 1039l-2.3 0.8 -3.5 3.2 -0.9 2 0 2 0.8 2 3.6 3.2 4 1.2 4 0 4 -1.2 2 -1.5 1.6 -1.7 0.8 -2 -0.1 -2 -0.9 -2 -3.4 -3.2 -4 -1.1 -4 0z" fill="#ff2408" fill-rule="evenodd"/>
<path d="M584 952.9l2 0.1 2 0.9 4 4.3 2 3.8 1.6 5 1.4 8 -0.5 6 -2 6 -3.6 4 -4.9 2.5 -2 0.4 -3.4 -0.9 -4 -4 -1.9 -4 -2 -12 0.6 -4 4.4 -12 2.3 -2.3 3.7 -1.7zM298 986.5l4 -0.8 2 0.6 10.8 4.7 1.7 2 5 10 0.8 4 -1.2 10 -0.1 6 1.7 16 9.3 22.3 2 2.8 2 1.4 2 0.5 4 -0.6 2 -1.3 2 -2.3 2.2 -4.8 1.8 -8.2 2 -5.9 4 -6.8 2 -2 2 -1.1 16 -5 16 1.3 5.6 1.7 6.2 4 2.2 2 8.2 10 5.8 16 3.6 18 2.3 16 -0.6 14 -1 4 -4.7 12 -1.6 2 -12 8.7 -12 7.4 -2.8 3.9 -3.5 10 -2.8 6 -12.2 12 -9.1 12 -1.9 4 -3.7 12 -0.5 4 -0.1 20 -1 4 -1.5 2 -2.9 2 -6 1.1 -14 -2.6 -6 -0.2 -6 1 -6.5 2.7 -6 4 -6 6 -4.3 6 -7.2 11.9 -4 4.8 -8 6.1 -10 4.4 -6 1.3 -8 0.1 -8 -1.7 -6 -2.7 -6 -4.1 -4 -3.6 -17 -20.5 -8.9 -8 -6.1 -3.1 -6 0.5 -4 -0.7 -4 -3 -0.8 -1.7 0.4 -2 6.2 -4 1.4 -2 2 -10 6.5 -6 1.2 -2 0.8 -4 -1 -4 -1.5 -2 -7.2 -6.8 -4 -2.8 -4 -1.7 -4 -0.9 -8 -0.5 -6 0.4 -6 1.7 -3.6 2.6 -4.4 4.7 -2 0 -4.3 -2.7 -15.7 -12.9 -6 -3.2 -24 -6.7 -8 -1.6 -12 -1.5 -14 0 -4 -0.5 -3.1 -1.6 -1.1 -2 0 -2 1.7 -4 1.6 -2 2.9 -2.4 4 -1.8 18 -0.8 26 1.1 26 -0.8 6 -1.1 16 -5.3 2 -1.9 6.7 -9 2.2 -4 4.9 -18 2.2 -26.8 5.7 -27.2 2.3 -5.5 2.7 -4.5 3.3 -7.2 2 -2.8 14 -6 24.5 2 15.5 5.4 4 0.6 2 -0.7 4 -4 10.3 -15.3 8.2 -16 7.5 -12 3.9 -2 8.3 -2zM217.8 1037l-3.8 1.7 -4.1 4.3 -0.7 2 0 2 0.7 2 2.1 2.6 4 2.6 2 0.6 6 0.2 4 -0.7 4 -2.7 2.1 -2.6 0.7 -2 0 -2 -0.8 -2 -2 -2.6 -4 -3 -2 -0.6 -8 0.1zM280.6 1055l-3.2 2 -2.6 4 -2.1 6 -1.1 6 -0.5 8 0.4 6 1.6 6 1.7 4 3.2 4.9 4 4.6 4 3.4 6 3.7 6 2.4 4.7 1 5.3 0.4 6 -0.6 5.9 -1.8 4.1 -2.3 4 -3.7 2 -3 1.8 -5 0.3 -4 -0.6 -4 -1.7 -4 -1.8 -2.5 -4 -2.9 -12 -3.5 -6 -3 -4.6 -4.1 -9.4 -12.9 -4 -3.2 -4 -1.9 -2 -0.2z" fill="#ff1206" fill-rule="evenodd"/>
</g>
<path d="M30 1082.3l12 -3.2 14 -2.1 5.3 -2 2.1 -2 4.6 -6.6 14 -14.9 14.2 -12.5 5.8 -4.2 12 -6.9 16.8 -10.9 7.2 -3.7 6 -2.3 18.1 -4 19.9 -2 8 1.1 8 0 4 0.6 10 6.3 19.2 6 2.8 -0.2 3.1 -1.8 1.2 -2 0.3 -2 -2.7 -22 -0.2 -10 1.6 -8 4.1 -8 4.6 -5 6 -4.3 6 -2.8 16 -6 40.4 -21.9 11.5 -8 11.1 -10 10.2 -12 10.3 -16 8.3 -16 23 -48M850 1109.3l-14 6 -16 4.2 -20 3 -18 3.5 -8 0.7 -10 -0.1 -12 -1.3 -32 -5.3 -28 0.1 -24 -2.9 -6 -2.2 -32 -14.8 -15.1 -5.2 -6.9 -1.6 -2 0.1 -2 0.9 -6 4.4 -4 2.2 -6 1.6 -8 1.3 -22 2.1 -26 1.3 -16 2.5 -4 1.5 -6 4.9 -10 14.5 -10 10.4 -8 10.6 -11.5 19.3 -2.4 6 -1.3 6 0.1 12 3 16 4.2 14 13.6 40 7.1 24M156 1024.8l-18 7.5 -8 4.4 -6 4 -5 4.3 -5.6 6 -4.7 6 -3.6 6 -2.9 8 -0.2 4 0.8 4 2.6 6 6.6 11.8 2 2.5 2 1.3 2 0.1 4 -2.3 6 -5.4 22 -21.8 4 -5.4 4 -12.6 2.8 -12.2 4.2 -12 0 -2 -1 -2.6 -2 -0.8 -4 0.5M793.4 815l4.8 20 3 20 1.6 22 0.7 40 0.9 8 2.1 8 3.3 6 5.7 6 22.5 14.9 6 4.7 6 5.8M850 1082.9l-7 6.1 -8.7 6 -7.5 4 -9.7 4 -13.1 4 -18.7 4 -11.3 1.6 -8 0 -36 -5.6 -62 -14.7 -40 -10.6 -34 -3.6 -50 3.9 -4 -1.5 -16 -8.8 -14 -9.3 -4.2 -3.4 -3.8 -2 -14 2 -1.9 2 -0.6 2 -0.5 8 -1.5 8 0.3 4 2.7 10 0.5 4 -5 22 -10.9 18 -10.5 16 -4.6 4.5 -10.3 7.5 -4.5 4 -3.1 4 -2.2 6 0.6 6 2.4 6 3.4 12 14 36 6.3 18 4.9 16 4 16M30 1091.7l8 -3.3 8 -2.3 14 -1.5 2 0.4 6 4.5 20 7.5 4 2 3.5 6 4.5 12.8 2 1.2 6 10 2 0.4 10 -2.4 1.9 -2 2.7 -6 8.7 -14 12.4 -18 12.3 -16 2 -4 5.1 -20 2.2 -6 11.6 -18 5.1 -6.3 4 -2.7 2.6 -1 5.4 -1.4 4 -0.2 4 0.9 8 3.6 18 4.6 4 0.3 5.9 -1.8 1.9 -2 0.6 -2 -1.2 -8 0 -4 1.3 -14 1 -6 3.1 -8 2.7 -4 2.7 -2.8 4 -2.8 4 -1.8 16 -3.5 14 -8.6 6 -2.6 6 -1.7 16 -3.2 12 -4.6 9 -4.4 9 -5.2 6.5 -4.8 6.3 -6 7.8 -10 8.1 -14 23.5 -54 13.2 -26M170 1214.6l-0.7 2.4 0.7 1.2 2 1.3 2.4 -2.5 0 -2 -2.4 -1.6M744.5 815l6.5 20 2.3 10 1.9 12 1.3 20 -1.3 22 -3.1 18 -5.3 18 -7.9 18 -14.9 26.4 -2 5.6 0.2 6 2 4 5.6 6 4.2 2.5 4 1.2 4 0.4 6 -0.3 4 -0.9 8 -3.1 38 -3.9 4 1 11.8 5.1 6.3 2 3.9 2 2 3 3.9 9 5.5 10 1.2 4 -0.2 16 0.5 8 -1.3 4 -16.2 18 -18.8 12 -4.6 1.6 -24 5.1 -4 0.2 -26 -3.6 -38 -10 -74 -14.8 -24 -1.4 -24 1.4 -24 -0.2 -20 -7.9 -18 -9.2 -16 -5.8 -4 -0.3 -10 1.4 -3.7 1.5 -8.5 10 -2 4 -2.3 22 1.4 18 -0.9 4 -7.2 20 -16.8 18.9 -14 8.7 -8 7.2 -6 7.2 -5.7 8 -3.1 6 -1 4 0 4 1.8 5.1 14.9 20.9 5.6 10 5.5 12 4.5 12 3.8 12 6 26M30 1101l15.7 -8 6.3 -2.2 8 -1.9 2 1 26 22.8 2.7 4.3 0.9 6 1.6 2 2.8 0.6 4 -0.4 2 0.9 2 2.7 2 4.2 2 0.5 8 -1.6 6 -0.2 2 -0.7 2.3 -2 3.2 -6 10.5 -15.1 22 -35.8 2 -6 5 -21.1 1.9 -4 13.1 -17.7 4 -3.7 4 -2.4 4 -1.6 4 -0.6 4 0.6 8 2.5 20 4.2 8 -0.5 4 -1.5 1.5 -1.3 1.1 -2 0.2 -4 -1.7 -6 5.3 -18 2.7 -6 2.6 -4 3.6 -4 2.7 -2 18 -4.6 12 -8.1 6 -2.1 6 0 10 2.3 6 0.7 24 -0.7 4 1.6 2.5 2.9 3.3 12 2.2 4.3 2 2.1 2 0.8 2 -0.5 2 -1.7 4 -6.5 6.9 -16.5 12.9 -22 5 -10 5.6 -14 12.3 -38 7.5 -20 9.8 -20.8 11.3 -19.2M360 1002.7l-4 1.2 -2 2 -1.8 3.1 -0.9 4 0.1 2 0.6 0.9 2 0.7 4 -0.5 3.6 -1.1 3.1 -2 1.2 -2 0.7 -4 -0.6 -2 -2 -2 -2 -0.6 -2 0.3M170 1210.9l-2.9 2.1 -1.2 2 -0.1 2 0.6 2 1.3 2 4.3 2.2 3.5 -4.2 1.4 -4 -0.9 -2 -2 -2 -2 -0.6M700.4 815l6 10 4.9 10 4.1 10 3.8 12 2.7 12 1.8 12 1 12 0.2 12 -0.8 14 -1.5 12 -2.4 12 -2.8 10 -3.8 10 -4.7 10 -4.8 8 -5.9 8 -1.2 2 -0.4 2 0.9 2 5 4 15.5 7.6 10.4 6.4 3.6 1 24 3.6 20 5.8 3.7 1.6 10.7 12 0.3 2 -1 10 -1 4 -9.7 12 -2.3 2 -2.7 1.3 -20 7.5 -24 1.2 -38 -7.5 -36 -4.9 -26 -5.1 -26 -0.6 -32 0.8 -4 -0.3 -46 -18.9 -18 -5.1 -6 -0.6 -12 2.4 -4 1.3 -2.6 2.5 -7.4 9.4 -1.9 4.6 -4.2 20 0.1 24 -6 22.3 -14 16.5 -10 6.3 -8 7.2 -6 6.4 -15.4 19.3 -3.4 6 -2.3 6 -0.3 4 1.6 6 15.7 24 5.3 10 4.2 10 3.5 10 3.3 12 4.4 24M30 1110.9l10 -6.6 8 -4.5 6 -2.5 4 -0.6 4 1.7 20 17.6 7.6 9 4.1 2 4.3 -0.2 2 0.5 1.9 1.7 2.1 4.2 2 1.8 2 0.5 14 -0.1 6.1 -2.4 3 -2 3.6 -4 11.6 -18 11.7 -19.8 7.4 -18.2 5.8 -26 2.3 -4 12.5 -15.8 8 -5.4 6 -2 4 0.3 6 1.6 22 3.8 10 0.3 4 -0.8 2.7 -2 1.7 -2 9 -26 3.5 -6 4.8 -6 2.3 -2.2 4 -2.6 9.3 -3.2 6.7 -4.2 4 -1.7 6 -0.7 6.1 2.6 13.9 2 12 4.2 5.5 3.8 2.5 3.4 3.3 6.6 3.9 6 1.1 4 -0.1 4 -1.7 10 -3.1 8 2.6 1.8 4 -0.3 10 -3.1 22 -4.4 4 -1.9 1.5 -2.1 0.7 -4 -1.4 -8 -0.1 -4 0.7 -4 2.3 -6 3.3 -6 5 -7.2 16.3 -18.8 3.6 -6 2.1 -4.9 3.1 -11.1 8.8 -44 4 -14 4.5 -12 5.7 -12 6.9 -12 7 -10.4 9.1 -11.6M168 1208.9l-5.1 4.1 -0.7 2 0.4 4 1.4 3 2 2.3 6 2.7 2 -1 1 -3 2.7 -4 1.3 -4 0.1 -2 -1.5 -2 -3.6 -2.9 -2 -0.3 -4 1.1M651.8 815l10.2 9.4 7.8 8.6 6.2 8 6.4 10 5.6 11 4.4 11 3.6 12 2.9 14 2.4 16 1.3 16 0.2 12 -1.1 12 -2.9 12 -4.5 10 -2.8 4 -3.7 4 -3.8 3 -2.2 1 -0.6 2 1.6 2 0.8 4 6.2 4 8.2 6.4 6 3.3 22 8.1 28 5.8 4.9 2.4 5.7 4 1.7 2 1.2 4 -0.4 4 -0.7 2 -5.8 10 -1.9 2 -14.7 6.4 -4 0.8 -24 0.7 -26 -3.8 -60 -12.1 -30 -1 -30 1.1 -22 -6.9 -30 -12.3 -22 -7.9 -20 -3.5 -3.3 0.5 -10.7 3.6 -2 3.5 -2.5 10.9 -1.8 12 -0.1 4 2.6 26 0.5 14 -0.6 4 -5.3 20 -1.9 4 -4.2 4 -13.5 16 -15.2 15.6 -13.6 16.4 -9.2 14 -2.3 6 0.3 6 2 6 14.3 26 7.1 18 4.7 20 2.4 22M30 1120.3l16 -10.1 6 -2.4 4 -0.5 4 0.9 4 1.9 24.5 16.9 3.5 1.1 6 0 1.8 0.9 3.7 6 2.5 1.7 14 1.8 2 -0.2 14.7 -5.3 2.1 -2 4.3 -8 8 -12 10.9 -20 5.7 -20 5.4 -26 12.9 -16.8 2 -1.7 8 -4.7 4 -1.5 2 -0.2 34 5.1 8 0.8 4 -1.1 2.8 -1.9 3.3 -4 5.9 -11.9 4.3 -12.1 8.3 -12 1.8 -2 2.9 -2 8.7 -2.4 6 -3.1 6 0 8 1.3 6 -0.3 4 0.4 14 5.8 4 2.7 8 12.4 1.5 3.2 0.5 4 -0.3 10 -0.4 2 -3.1 6 1.8 3.6 2 1.9 2 0.2 4 -0.9 8 -3.3 4 -1 14 -2.4 18.7 -2.1 4.8 -2 1.9 -2 0.4 -2 -0.7 -4 0.9 -3.6 2 -4.5 4 -6.4 8 -8.1 14 -10.1 6 -5 5.3 -6.3 3.4 -6 2.8 -8 1.9 -8 6.6 -44.7 2.1 -11.3 3.1 -10 4.8 -10.5 8.5 -13.5 11.1 -14 11.7 -12 12.1 -10M674 981l-2 0.3 -0.4 1.7 0.4 0.5 2 -0.2 0 -2.3M168 1206.1l-4 3 -4.3 1.9 -2.3 2 1.2 8 2 4 3.4 3.4 6 2.5 2 1.7 2 -0.5 2 -7.4 3.9 -5.7 1.9 -6 -0.7 -2 -5.1 -4.5 -2 -1 -4 0.1M30 1128.1l18 -9.9 6 -1.5 4 0 4 0.8 6 2.2 19.3 9.3 4.7 0.8 4 -0.6 2 0.4 3.5 5.4 1.9 2 4.6 2 12 2 17.1 -4 2.9 -1.1 2.7 -2.9 3.3 -6.4 9 -13.6 10.6 -22 9.5 -46 12.9 -16 10 -5.7 4 -1.1 20 2.1 22 3.6 4 -0.6 4 -2.3 3.6 -4 6.4 -11.1 6 -14.9 7.1 -10 2.9 -3 2 -0.9 12 -3.3 6 -0.8 16 0.8 4 1.3 11.6 5.9 2.3 2 8.1 13.3 1.2 12.7 -0.3 2 -2.1 4 -0.1 2 1.1 4 -1.5 6 1.4 2 0.2 2 -1.9 3.9 -0.3 2.1 0.3 2 2 1.5 2 0.3 1.1 -1.8 1.6 -6 0.2 -4 1.1 -2 2.9 -2 11.1 -5 16 -3 26 -0.8 4 0.4 16 5.2 10.1 5.2 2.8 2 8 14 6.1 16 4.4 16 0 16 -0.7 6 -5.1 16 -17.4 20 -16.1 16 -12.1 14.5 -12.3 17.5 -1.7 3.2 -0.7 2.8 0 6 1.9 8 12.1 28 4.8 16 2.8 18 0.4 22M570 828.9l14 -1.1 12 0.8 12 2.7 12 4.5 12 6.5 11.4 8.7 8.6 8.8 8.2 11.2 7.4 14 5.7 16 11 44 2.2 14 -0.5 9.2 -1.5 4.8 -1.2 2 -1.3 1.5 -2 0.1 -8 -3 -2 0.2 -2 0.9 -2.2 2.3 -1.9 4 -0.4 4 1.2 4 3.3 3 10 2.2 1.8 0.8 0.9 4 1.3 1.6 3.4 2.4 5.3 8 13.3 10.6 18.8 9.4 9.2 5.4 2.4 0.6 2.5 2 -1.5 2 -9.4 6.2 -4 1.4 -14 2.9 -6 0.2 -34 -4.6 -24 -8.7 -4 -0.8 -42 -1.1 -28 0.3 -22 -3 -18 -6.9 -3.4 -1.9 -23.5 -20 -14.1 -14 -2.1 -4 -5.5 -14 -3.4 -20 5.2 -24 4.2 -28 2.7 -10 3.3 -8 5.9 -10 7.9 -10 8.8 -8.9 10 -8 10 -6.1 10 -4.6 12 -4 11.5 -2.4M220 1044.7l0 2.6 2 0.7 2 -0.7 0.3 -2.3 -2.3 -1M340 1050.7l0 0.4 0 -0.4M170 1203l-4 1.3 -4 3.3 -10 3 -0.5 0.4 -0.5 2 1.4 4 1 6 3.3 6 3.3 3.3 2 1.3 6 2.1 4 3.4 2 -0.1 1.2 -2 1.7 -10 1.1 -2.6 3.3 -3.4 3 -10 -0.9 -2 -5.4 -4.4 -4 -1.7 -4 0.1M30 1135.7l12 -6.8 6 -2.8 6 -1.7 4 -0.4 8 1.1 20 6.2 4 0.4 6 -0.6 2 1.5 2.8 4.4 3.2 2.5 4 1.4 10 1.8 6 -0.3 14 -2.8 4 -1.6 2 -1.5 2.9 -3.5 9.1 -14.1 4.1 -7.9 8.1 -20 8.3 -44 0.9 -2 10.6 -13.4 2 -1.6 8 -4.3 2 -0.9 4 -0.6 18 1.4 22 3.9 4 -0.2 2 -0.7 4 -2.8 3.9 -4.8 6 -10 6.1 -14.3 6.7 -9.7 3.3 -3.2 12 -3.5 6 -1.1 14 0.9 4 1 10 5.6 2.9 2.3 5.4 8 2.1 4 1.9 12 -1.4 6 0.7 4 -0.4 2 -2.1 4 -0.4 2 -0.3 10 1.3 6 0.2 4 0.9 2 1.2 1.3 2 0.3 2.2 -1.6 6.6 -20 1.7 -2 7.5 -4.3 4 -1.4 14 -2.7 18 0 10 1.1 6 2.1 8 3.7 8.2 5.5 4.2 4 4.1 6 4.1 8 4.2 10 5.3 16 0.6 4 0.2 16 -3.9 14 -1.9 4 -13.2 16 -18.6 18 -7.3 8.5 -18 24.4 -1.7 3.1 -1.3 4 -0.5 6 1 8 9.6 30 3.1 16 0.6 18 -2.2 20M586 864.9l22 1.1 18 7.8 4 3.2 13.6 16 2.4 4 9.2 24 4.5 26 0.3 6 -0.9 20 -5.1 17 -2 5 -14 14.3 -4 3.4 -21.2 10.3 -6.8 1.8 -10 0.7 -14 1.8 -6 -0.2 -24 -4.5 -22 -9.4 -4 -2.9 -14 -13.3 -7.3 -22 2 -28 1.3 -6 7.5 -24 12.5 -22 15.8 -16 4.2 -2.8 16 -7.9 21.4 -3.3M220 1042.8l-2.5 2.2 0 2 2.1 2 2.4 0.5 2.4 -0.5 1.6 -1.4 0.5 -0.6 0 -2 -2.5 -2.2 -4 0M168 1200.9l-4 1.8 -4 3.3 -2 0.6 -12 0.5 -3 1.9 -0.5 2 2.5 6 1.9 10 2 4 3.1 4 6 4.9 8 2.7 4 3 2 1 2 0.2 2 -1.2 1 -2.6 0.4 -10 1 -6 4.2 -4 0.9 -2 0.7 -4 3.1 -6 0 -2 -1.4 -2 -3.9 -3.4 -4 -2.3 -4 -0.9 -6 0.5M30 1144l10 -6.5 8 -4.2 6 -2 6 -0.9 8 0.5 16 3 10 0.3 2 0.7 3.8 4.1 4.2 2.7 4 1.2 10 1.6 6 -0.2 14 -2.2 6 -2.2 3.8 -2.9 5 -6 6.3 -10 3.9 -8 7 -20 8.2 -44 2 -4 9.1 -12 2.7 -2 8 -4 6 -1.1 18 1.3 22 4.1 4 -0.6 4 -2.4 4.7 -5.3 6.2 -10 7.5 -16 7.6 -10.6 4 -2.1 16 -3.5 10 1.1 6 1.7 5.7 3.4 4.7 4 4.3 6 2.8 6 1.6 10 -0.7 10 -2.6 8 -0.3 8 2.4 12 2.1 4.2 2 1.5 2 0.2 2.9 -1.9 1.2 -2 6.2 -18 3.4 -4 4.3 -2.5 4 -1.5 14 -3.1 18 0.5 6 0.8 8 2.8 8 4.7 6 4.6 5.3 5.7 3.7 6 4.7 10 5.1 14 2.3 8 1.1 10 0 8 -2.8 12 -2.9 6 -12.3 16 -17.4 16 -6.8 7.4 -10.1 14.6 -9.4 12 -2.2 4 -1.4 4 -1 6 0.3 8 6.7 30 1 8 0.3 8 -0.5 8 -1.6 10 -2.1 8.6 -3.6 11.4M588 891l6 0 6 1 16.4 7 3.6 3.1 12 14.5 2 3.5 8 20.1 3 24.8 -2.7 16 -1.3 4 -13 16.9 -22 12.7 -4 1.1 -20 3.2 -4 -0.1 -20 -4.8 -18 -9 -2.1 -2 -7.9 -10 -2.4 -4 -2.4 -16 -0.1 -4 4.4 -22 1.2 -4 9.3 -21 11.2 -15 4.4 -4 14.4 -9 17.6 -3M218 1042.2l-2.5 2.8 0 2 1.4 2 3.1 1.6 4 0 2 -0.8 2.5 -2.8 0 -2 -1.4 -2 -3.1 -1.6 -4 0 -2 0.8M166 1198.6l-2 0.9 -4 3.6 -2 1.2 -2 0.4 -18 -1 -2.7 1.3 -1.4 2 -0.4 2 0.6 4 1.9 6 2 11.5 2.3 4.5 4.4 6 5.3 4.9 4 2.6 16 6 4 0.5 2 -0.4 2.4 -1.6 1.9 -4 0 -4 -1.6 -10 0.6 -6 0.7 -1.3 3.5 -2.7 1.4 -2 1.3 -6 4.3 -8 -0.3 -2 -1.4 -2 -4.6 -4 -4.2 -2.2 -8 -1 -6 0.8M30 1154.2l8.6 -7.2 9.2 -6 6.2 -2.8 8 -1.8 6 -0.1 24 1.4 2 0.6 6 4 4 1.9 14 2.2 6 -0.2 14 -1.7 4 -0.9 5.5 -2.6 5.3 -4 4.9 -6 4.3 -7 4.1 -9 2.8 -8 3.1 -12 2.1 -14 5.9 -29.7 1.8 -4.3 8.2 -12.1 2.3 -1.9 3.7 -2 6 -2.6 4 -0.8 12 0.4 9.5 1 6.5 1 12 3 4 -0.1 2 -0.6 4 -3.2 6.2 -8.1 4.9 -8 6.5 -14 5.2 -8 3.2 -3.7 4 -1.8 14 -3.1 4 0.2 10 2.5 4 2.1 4.5 3.8 4.5 6 3 6.2 1.3 5.8 0.2 6 -0.5 6 -2.2 10 0.1 8 3.8 14 3.3 5 2 1 2 0.2 2 -0.7 2 -1.9 1.7 -3.6 3 -10 3.3 -7.3 2 -2.7 4 -2.8 4 -1.5 14 -3.5 18 0.8 4.9 1 5.3 2 6.7 4 7.3 6 5.2 6 4.4 8 4.1 10 4.6 14 2.1 10 0.7 10 -1 8 -2.4 8 -3.2 6 -6.7 10 -3.4 4 -18.7 16 -3.9 4 -10.2 16 -11.4 14 -3.1 6 -1.8 6 -0.7 8 0.6 8 3.4 22 0.1 8 -0.8 8 -2.1 8.2 -4 9.9 -6 10.8 -7.2 11.1M151.9 1289l-1.9 -1 -4 -0.9 -12 -0.5 -8 -1.5 -6 -2.5 -5.1 -3.6 -4.9 -5.6 -3.2 -6.4 -1.7 -6 -1.9 -12 -1.2 -4 -4 -4.8 -6 -4 -8 -3.6 -8 -2.3 -8 -1 -24 -0.6 -8 -1.6 -6 -2.4M582 916.8l4 -0.7 4 0.2 14 4.7 4 2.7 12 14.4 7.1 20.9 0.3 4 -0.2 16 -6.8 14 -2.4 2.8 -12.7 9.2 -5.3 2.6 -16 3.8 -4 0.3 -18 -5.8 -13.2 -10.9 -1.7 -2 -1.1 -2.6 -2.9 -13.4 -0.2 -4 2.9 -20 8.6 -20 3.6 -3.9 12 -10.1 11.2 -2M218 1040.6l-2 1.2 -2 2.4 -0.4 2.8 0.4 0.9 2 2.4 2 1.1 2 0.6 4 0 2.8 -1 2.5 -2 1.1 -2 0 -2 -1.1 -2 -3.3 -2.4 -6 -0.5M170 1194.8l-6 1.2 -2 1.1 -4 4 -4 1.5 -4 -0.3 -14 -3.8 -6.4 0.5 -4 2 -2 2 -1 2 -0.4 4 2.2 8 1.8 12 2.2 8 3.4 6 6.8 8 5.4 4.6 10 5.2 16 4.9 6 0 6 -2.9 2 -1.9 2 -3.9 0.3 -2 -0.4 -4 -5.6 -14 -0.1 -6 1.1 -2 4.9 -4 0.9 -2 1.1 -6 5.6 -8 0.3 -2 -0.8 -2 -1.6 -2 -7.7 -6.5 -4 -1.2 -10 -0.5M202.3 1289l-1.3 -8 -0.5 -16 -1.7 -8 -3.4 -6 -11.4 -10.4 -2 -3.2 -0.7 -2.4 0.8 -4 5.5 -4 1.2 -2 1.6 -8 1.6 -2.4 3.7 -3.6 1.3 -2 0.4 -2 -0.2 -2 -1.2 -2.5 -8 -7.8 -4 -2.2 -4 -1 -8 -0.4 -6 0.4 -4.4 1.5 -1.6 1 -4.6 5 -3.4 1.1 -4.4 -1.1 -9.6 -5.2 -6 -2.6 -20 -6.8 -4 -0.6 -16 1.2 -14 -1.5 -2 0 -4 1.2 -10 5.4 -6 2.4 -6 1.3 -6 -0.1 -4 -1.2 -2.5 -1.5 -3.5 -3.4 -1.5 -2.6 -1.6 -6 0.1 -4 0.7 -4 1.6 -4 2.4 -4 7 -8 10.2 -8 3.8 -2 5.3 -1.9 8 -0.9 20 0.2 4 1 6 2.5 6 1.5 8 0.9 8 0.1 14 -1 6 -1 12.2 -5.4 4.5 -4 5.7 -8 5.7 -14 2.7 -10 3.1 -22 5.6 -28 2.4 -6 5.6 -10 2.5 -3.2 2 -1.5 8 -3.6 6 -1.6 24 2 16 4.3 4 -0.3 4 -2.8 8.5 -11.3 3.7 -6 6.7 -14 6.3 -10 1.8 -2 4.4 -2 14.6 -3.1 10.5 3.1 4.2 2 3.7 4 4.9 8 1.4 4 0.7 6 -1.6 18 0.3 10 4.7 14 3.1 6 2.1 2.1 2 0.8 2 0.1 2 -0.6 2.7 -2.4 2.1 -4 2.7 -10 2.5 -5.7 2.6 -4.3 3.4 -3 18 -5.5 18 1.2 4 1.1 4.8 2.2 5.8 4 7.4 7.1 3.6 4.9 5.4 12 3.3 10 3.5 14 1.6 12 -0.6 10 -1.9 8 -8.5 16 -4.4 4.3 -20.1 15.7 -3 4 -7.3 14 -10.9 12 -2.9 4 -3.3 6 -2.2 6 -1.5 10 0 6 1.6 18 -0.2 6 -1.2 6 -3 7.2 -4 5.5 -6 5.3 -14.6 8 -5.7 4 -5.7 6.2 -8.4 11.8M582 932.9l4 -0.2 4 0.9 4 1.9 3.6 3.5 6.4 9.2 1.4 2.8 3.6 18 -2 16 -7 10.8 -2 2.1 -1.9 1.1 -12.1 4.2 -4 0.1 -6 -2.7 -3.9 -3.6 -5.9 -8 -1.8 -4 -1.4 -14 0.4 -4 3.5 -14 1.6 -4 7.6 -12 2.3 -2 5.3 -2M220 1038.7l-4 1.1 -2 1.5 -1.5 1.7 -0.9 2 0 2 0.8 2 3.6 3.2 2 0.8 4 0.4 4 -0.4 2 -0.8 3.6 -3.2 0.8 -2 -0.1 -2 -0.9 -2 -1.8 -2 -3.6 -2 -4 -0.3M584 952.9l2 0.1 2 0.9 4 4.3 2 3.8 1.6 5 1.4 8 -0.5 6 -2 6 -3.6 4 -4.9 2.5 -2 0.4 -3.4 -0.9 -4 -4 -1.9 -4 -2 -12 0.6 -4 4.4 -12 2.3 -2.3 3.7 -1.7M298 986.5l4 -0.8 2 0.6 10.8 4.7 1.7 2 5 10 0.8 4 -1.2 10 -0.1 6 1.7 16 9.3 22.3 2 2.8 2 1.4 2 0.5 4 -0.6 2 -1.3 2 -2.3 2.2 -4.8 1.8 -8.2 2 -5.9 4 -6.8 2 -2 2 -1.1 16 -5 16 1.3 5.6 1.7 6.2 4 2.2 2 8.2 10 5.8 16 3.6 18 2.3 16 -0.6 14 -1 4 -4.7 12 -1.6 2 -12 8.7 -12 7.4 -2.8 3.9 -3.5 10 -2.8 6 -12.2 12 -9.1 12 -1.9 4 -3.7 12 -0.5 4 -0.1 20 -1 4 -1.5 2 -2.9 2 -6 1.1 -14 -2.6 -6 -0.2 -6 1 -6.5 2.7 -6 4 -6 6 -4.3 6 -7.2 11.9 -4 4.8 -8 6.1 -10 4.4 -6 1.3 -8 0.1 -8 -1.7 -6 -2.7 -6 -4.1 -4 -3.6 -17 -20.5 -8.9 -8 -6.1 -3.1 -6 0.5 -4 -0.7 -4 -3 -0.8 -1.7 0.4 -2 6.2 -4 1.4 -2 2 -10 6.5 -6 1.2 -2 0.8 -4 -1 -4 -1.5 -2 -7.2 -6.8 -4 -2.8 -4 -1.7 -4 -0.9 -8 -0.5 -6 0.4 -6 1.7 -3.6 2.6 -4.4 4.7 -2 0 -4.3 -2.7 -15.7 -12.9 -6 -3.2 -24 -6.7 -8 -1.6 -12 -1.5 -14 0 -4 -0.5 -3.1 -1.6 -1.1 -2 0 -2 1.7 -4 1.6 -2 2.9 -2.4 4 -1.8 18 -0.8 26 1.1 26 -0.8 6 -1.1 16 -5.3 2 -1.9 6.7 -9 2.2 -4 4.9 -18 2.2 -26.8 5.7 -27.2 2.3 -5.5 2.7 -4.5 3.3 -7.2 2 -2.8 14 -6 24.5 2 15.5 5.4 4 0.6 2 -0.7 4 -4 10.3 -15.3 8.2 -16 7.5 -12 3.9 -2 8.3 -2M218 1036.9l-2 0.5 -4.6 3.6 -2.2 4 0 2 2.1 4 4.7 3.2 2 0.6 6 0.2 4 -0.7 4.7 -3.3 1.4 -2 0.7 -2 0 -2 -2.2 -4 -4.6 -3.6 -2 -0.6 -6 0.1M282 1054.8l-2 0.3 -2 1.3 -2 2.4 -2 4 -1.3 4.2 -1.1 6 -0.5 8 0.4 6 1.6 6 1.7 4 3.2 4.9 4 4.6 4 3.4 8 4.6 4 1.5 6 1.2 6 0.2 6 -1 6 -2.5 4 -2.8 3.4 -4.1 1.9 -4 0.8 -4 -0.6 -6 -1.7 -4 -3.8 -4.2 -4 -2 -12 -3.5 -6 -3.7 -4 -4.3 -8 -11.2 -4 -3.2 -4.3 -1.9" fill="none" stroke="#000" stroke-width="0.75" stroke-opacity="0.9"/>
</g>
<g clip-path="url(#cBlob)" fill="none" stroke-width="0.8"><path d="M178 1032L250 1034L268 1042L290 1070L302 1100L292 1130L272 1152L240 1172L178 1178Z" fill="#ffe6d6" fill-opacity="0.06" stroke="none"/><path d="M330 1030L345 1027L400 1020L432 1050L440 1110L420 1150L385 1162L365 1132L350 1100L335 1060Z" fill="#ffe6d6" fill-opacity="0.06" stroke="none"/><path d="M272 1022L278 990L300 982L322 990L326 1022Z" fill="#ffe6d6" fill-opacity="0.06" stroke="none"/><path d="M100 1150L176 1140L176 1205L140 1200L100 1180Z" fill="#ffe6d6" fill-opacity="0.06" stroke="none"/><path d="M182.5 1034.2l-0.3 6.6M188.4 1032.4l-0.4 8.9M178.9 1033.9l-0.4 6.7M178.8 1035.6l3.5 0.3M186.6 1032.2l-0.7 8.9M182.2 1036.4l4.1 0.3M186.6 1032.8l1.7 0.1M188.1 1036.3l5.8 0.4M190.4 1034.3l-0.1 2.1M191.6 1036.5l-0.4 5M178.8 1040.6l14.8 0.8M179.7 1040.7l-1.5 16.8M184.3 1041l-1.3 16.9M188.9 1041.3l-1.2 16.9M179.7 1057.6l12.7 0.9M180.7 1057.7l-1 15.2M183.7 1057.9l-1.2 15.2M186.5 1058.1l-0.6 15.3M189.4 1058.3l-0.8 15.3M178.6 1072.9l12.7 1M178.1 1080.6l12.7 0.9M179.5 1072.9l-0.6 7.8M184.4 1073.3l-0.7 7.7M188.7 1073.6l-0.7 7.7M183.5 1081l-1.2 14.1M178.2 1086.3l4.8 0.3M180.9 1080.8l-0.4 5.7M180.3 1091.5l2.4 0.2M179.5 1086.4l-0.3 5.1M183.1 1086.3l7.3 0.5M186.4 1081.2l-0.3 5.3M186.2 1086.5l-0.7 8.8M182.8 1089.8l3.1 0.2M185.8 1091.1l4.3 0.3M179.2 1094.8l10.6 0.5M178.7 1101.7l10.6 0.7M181 1095l-0.4 6.8M183.9 1095.2l-0.5 6.8M186.9 1095.4l-0.5 6.8M179.7 1109.9l9 0.7M184.9 1102.1l-0.5 8.1M180.9 1101.8l-0.5 8.2M181.6 1110l-0.3 3.7M185.3 1110.3l-0.2 3.7M180 1113.5l8.5 0.5M182.7 1113.8l-1.7 23.1M178.4 1136.7l8.5 0.5M179.5 1151l6.4 0.5M181.1 1136.9l-1.3 14M178.4 1136.7l-0.3 6M178.2 1141.2l2.5 0.2M180.1 1150.9l-0.8 8.5M182.2 1151.1l-0.6 8.5M179.9 1153.6l2.1 0.1M181.8 1156.4l3.7 0.2M179 1159.2l6.3 0.4M178.5 1169.7l6.1 0.3M178.7 1166.1l6.1 0.4M179.8 1159.5l-0.5 6.6M182.3 1159.7l-0.5 6.6M179.6 1166.1l-0.2 3.7M182.2 1166.3l-0.2 3.7M180.2 1169.9l-0.3 6.1M194.2 1032.8l-0.7 8.8M198.3 1033.1l-0.5 8.8M202.4 1033.4l-0.7 8.8M206.7 1033.7l-0.3 8.8M194.1 1033.7l4.2 0.3M198.3 1033.5l4.1 0.3M197.9 1039l4.1 0.3M202.3 1036.3l4.1 0.3M206.3 1037.3l4.2 0.3M193.6 1041.7l16.5 1.1M193.5 1041.6l-1.1 16.9M193 1049.7l16.5 1.2M200.6 1042.1l-0.5 8.1M196.2 1041.8l-0.6 8.1M203.8 1042.4l-0.6 8M206.3 1042.5l-0.3 8.1M192.8 1052.5l16.6 1.2M200.1 1050.2l-0.1 2.8M195.5 1049.9l-0.2 2.8M203.6 1050.5l-0.2 2.8M206.7 1050.7l-0.2 2.8M195.5 1052.7l-0.3 6M198.3 1052.9l-0.3 6M201 1053.1l-0.2 6M203.8 1053.3l-0.4 6M206.6 1053.5l-0.6 6M192.4 1058.5l16.5 1.4M192.4 1058.5l-1 15.2M192 1063.7l16.6 0.8M191.7 1068.6l16.5 1.5M191.3 1073.8l16.6 0.8M191.3 1073.7l-1.6 21.9M196.8 1074.1l-1.3 21.9M202.4 1074.5l-1.8 21.9M190.8 1081l5.5 0.4M190.3 1088.3l5.5 0.4M193.3 1073.9l-0.6 7.3M194.3 1081.3l-0.6 7.3M193.1 1088.5l-0.4 7.3M195.8 1089l5.5 0.4M196.2 1083.4l5.5 0.4M196.6 1078.2l5.5 0.4M199.3 1074.3l-0.3 4M198.3 1078.3l-0.3 5.2M200 1083.7l-0.4 5.6M198.7 1089.2l-0.5 7M201.5 1087.1l5.5 0.4M202 1079.3l5.5 0.4M204.3 1074.6l-0.4 4.8M205 1079.5l-0.4 7.8M204 1087.3l-0.1 9.3M201.2 1091.5l2.6 0.2M203.9 1090.5l2.9 0.2M189.8 1095.7l16.6 0.9M189.8 1095.6l-1.3 18.6M201.3 1096.4l-1.7 18.6M194.9 1096l-0.9 18.6M189.4 1101.5l5.1 0.4M189.1 1105.4l5.2 0.3M188.7 1110.8l5.2 0.4M197.3 1096.1l-1.4 18.6M194.1 1107.8l2.4 0.2M194.5 1102.8l2.3 0.2M197 1100.8l3.9 0.3M196.7 1105.4l3.8 0.3M196.3 1110.1l3.9 0.3M200.5 1105.6l5.2 0.4M200.9 1101.1l5.1 0.4M200.2 1109.9l5.2 0.4M188.5 1114.2l16.5 1.1M188.5 1114.2l-1.6 23.1M186.9 1137.3l16.5 1.1M186.9 1137.3l-1.8 22.6M186.1 1149.1l16.5 1M197.5 1138.1l-0.9 11.7M191.3 1137.6l-0.7 11.8M186.6 1140.9l4.5 0.4M190.9 1143l6.2 0.3M194.9 1137.9l-0.4 5.3M194.6 1143.2l-0.4 6.4M197 1145.3l5.9 0.4M199.4 1138.2l-0.4 7.2M200.5 1145.5l-0.4 4.5M185.7 1153.6l16.6 1.3M190.2 1149.3l-0.3 4.6M194.3 1149.6l-0.3 4.6M198.5 1149.9l-0.4 4.6M192.9 1154.1l-0.3 6.3M188.6 1153.8l-0.4 6.3M198.4 1154.5l-0.5 6.2M194.8 1154.3l-0.6 6.2M185.3 1159.8l16.5 1.5M185.3 1159.9l-1 16.4M188.1 1160.1l-1.2 16.4M190.9 1160.3l-1.4 16.3M193.7 1160.5l-1.4 14.3M196.2 1160.6l-0.6 14.4M199.1 1160.8l-1 14.4M185 1164.5l2.7 0.2M184.7 1169.1l2.7 0.2M184.3 1173.7l2.8 0.2M187.7 1164.7l2.8 0.2M187.4 1169.3l2.8 0.2M187.1 1173.9l2.7 0.2M193 1168l2.8 0.2M192.6 1174.5l2.7 0.2M195.8 1168.4l2.7 0.2M195.5 1171.8l2.8 0.2M198.4 1170.4l2.8 0.2M198.6 1167.1l2.8 0.2M198.1 1174.8l2.8 0.2M210.7 1033.9l-0.7 8.9M214.7 1034.2l-0.6 8.9M218.5 1034.5l-0.6 8.8M222.4 1034.7l-0.8 8.9M226.3 1035l-0.7 8.9M230.2 1035.3l-0.6 8.9M234 1035.6l-0.9 8.8M210.1 1042.9l27.3 1.4M210.1 1042.8l-1.1 16.9M212.8 1043l-1 16.9M215.6 1043.2l-1.3 16.9M218.3 1043.4l-1.4 16.9M220.9 1043.6l-0.8 16.9M223.8 1043.8l-1.5 16.8M226.4 1043.9l-1 16.9M229.1 1044.1l-0.7 17M231.8 1044.3l-0.7 16.9M234.6 1044.5l-1 16.9M208.9 1059.7l27.3 1.9M209 1059.7l-1.3 15.2M208.5 1065.5l27.2 2.3M214.4 1060.1l-0.4 5.9M219.8 1060.5l-0.4 5.8M225.3 1060.8l-0.4 5.9M230.7 1061.2l-0.4 5.9M226.1 1066.8l-0.5 9.3M208.2 1070l17.6 1.6M211.5 1065.8l-0.4 4.5M214.4 1066l-0.3 4.5M217.3 1066.2l-0.3 4.5M220.3 1066.4l-0.3 4.5M223.2 1066.6l-0.3 4.5M212.6 1070.4l-0.3 4.8M217 1070.7l-0.3 4.8M221.4 1071l-0.3 4.8M232 1067.2l-0.8 9.3M225.9 1070.3l5.8 0.4M228.4 1067l-0.3 3.5M229.8 1070.6l-0.4 5.8M231.5 1072.9l3.9 0.3M207.9 1074.8l27.2 2.3M207.9 1074.9l-1.7 21.9M207.6 1079.4l27.2 1.5M207.3 1083.6l27.2 2M206.9 1088.1l27.3 1.5M206.7 1092.3l27.2 2.2M206.4 1096.6l27.1 2.7M206.3 1096.8l-1.1 18.6M209 1096.9l-1.1 18.7M211.7 1097.1l-1 18.7M214.6 1097.3l-1.6 18.6M217.3 1097.5l-1.6 18.6M220 1097.7l-1.4 18.6M222.6 1097.9l-1 18.6M225.4 1098.1l-1.3 18.6M228.1 1098.3l-1.2 18.6M230.9 1098.5l-1.4 18.6M205 1115.4l27.3 1.7M205 1115.4l-1.6 23.1M204.2 1127.6l27.3 1.2M204.7 1120.1l27.2 2.1M210.5 1115.8l-0.3 4.7M215.9 1116.1l-0.3 4.8M221.4 1116.5l-0.3 4.8M226.8 1116.9l-0.3 4.8M207.2 1115.5l-0.4 4.8M212.8 1115.9l-0.4 4.8M218.7 1116.3l-0.4 4.8M224.9 1116.8l-0.3 4.7M230.3 1117.1l-0.3 4.8M207.4 1120.3l-0.5 7.3M210.2 1120.5l-0.6 7.3M212.9 1120.7l-0.7 7.3M215.6 1120.9l-0.6 7.3M218.3 1121.1l-0.5 7.3M221.1 1121.3l-0.6 7.3M223.8 1121.5l-0.6 7.3M226.5 1121.7l-0.4 7.3M229.2 1121.8l-0.3 7.4M212.5 1128l-0.5 11.1M208.6 1127.8l-0.2 11M204 1130.8l4.5 0.3M208.3 1134l3.8 0.3M221.4 1128.7l-0.9 11M215.5 1128.2l-0.8 11.1M218.3 1128.4l-0.3 11.1M224.7 1128.9l-0.8 11M228.1 1129.1l-0.9 11M203.4 1138.6l27.3 1.5M203.3 1138.5l-1.1 22.6M207.3 1138.7l-1.7 22.6M211.2 1139l-1.7 22.6M215 1139.3l-1.3 22.6M219 1139.6l-1.6 22.5M222.9 1139.8l-1.5 22.6M226.7 1140.1l-1.3 22.6M203.1 1143l3.9 0.3M202.8 1147.5l3.9 0.3M202.5 1152l3.9 0.3M202.2 1156.5l3.9 0.3M206.7 1147.1l3.9 0.3M206.1 1156.1l3.9 0.2M206.4 1151.9l3.9 0.3M210.7 1146.5l3.9 0.3M210.2 1154.1l3.9 0.2M214.5 1148l3.9 0.3M214.8 1144.1l3.9 0.3M214.2 1152.6l3.9 0.3M213.8 1157.2l3.9 0.3M218.2 1150.9l3.9 0.2M218.5 1146.3l3.9 0.3M218 1154.5l3.8 0.3M222.4 1147.3l3.9 0.3M221.8 1154.8l3.9 0.3M226.3 1147.2l3.9 0.3M225.6 1157.5l3.9 0.2M225.8 1153.8l3.9 0.3M201.8 1161l27.3 1.9M201.9 1161l-1.1 14.4M205.8 1161.3l-1.1 12.3M209.7 1161.6l-1 12.3M213.4 1161.8l-0.5 12.4M217.4 1162.1l-0.7 10.3M221.4 1162.4l-0.9 10.2M225.1 1162.7l-0.5 10.2M238 1035.8l-0.5 8.9M237.8 1038.7l25.5 1.8M250.2 1035.5l-0.2 4M245.9 1035.2l-0.2 4M241.3 1034.9l-0.3 4M256.9 1038l-0.1 2M254.6 1037.8l-0.2 2.1M259.4 1038.2l-0.2 2M240.6 1038.9l-0.5 6M243.5 1039.1l-0.6 6M246.3 1039.3l-0.5 6M249.1 1039.5l-0.4 6M252 1039.7l-0.6 6M254.8 1039.9l-0.5 6M257.6 1040.1l-0.4 6M260.5 1040.3l-0.6 6M237.4 1044.8l25.5 1.3M237.4 1044.7l-1.5 16.9M245.8 1045.3l-1.2 16.9M241.4 1045l-1.1 16.9M236.9 1050.9l4.1 0.3M236.4 1057.7l4.1 0.3M241 1051.1l4.4 0.4M240.6 1057.2l4.3 0.3M250.1 1045.6l-1.2 16.9M254.3 1045.9l-1.2 16.9M258.6 1046.2l-1.2 16.9M245.5 1049.5l4.3 0.3M245.2 1053.7l4.3 0.3M244.9 1058l4.3 0.3M249.8 1049.8l4.2 0.3M249.5 1054l4.2 0.3M249.2 1058.3l4.2 0.3M253.8 1053.9l4.2 0.3M253.4 1059.7l4.2 0.3M258.3 1050.4l4.2 0.3M258 1054.6l4.3 0.3M257.7 1058.9l4.3 0.3M236.2 1061.5l25.4 2.4M236.1 1061.6l-0.8 15.2M244.7 1062.2l-1.2 15.2M253.1 1062.8l-0.8 15.2M235.1 1076.8l25.5 1.6M235 1076.8l-1.1 21.9M243.2 1077.4l-1.3 21.9M234.1 1091.6l8.1 0.6M234.4 1086.4l8.2 0.5M239.9 1086.8l-0.4 5.2M236.4 1086.5l-0.4 5.2M237.9 1091.9l-0.5 7M242.3 1091.3l17.4 0.7M248.1 1091.6l-0.7 8M253.8 1092l-0.4 8.1M244.7 1091.3l-0.4 8.1M250.7 1091.7l-0.5 8.1M256.5 1092.1l-0.5 8.1M233.6 1098.7l25.5 1.6M233.6 1098.7l-1.2 18.6M236.4 1098.9l-1.1 18.6M239.3 1099.1l-1.4 18.6M242.1 1099.3l-1.4 18.6M244.9 1099.5l-1.1 18.6M247.7 1099.7l-1.2 18.6M250.6 1099.9l-1.6 18.6M253.3 1100l-1 18.7M256.2 1100.3l-1.2 18.6M232.3 1117.1l25.4 2.5M232.3 1117.3l-1.8 23.1M235.2 1117.5l-1.9 23.1M237.9 1117.7l-1.4 23.1M240.8 1117.9l-1.5 23.1M243.6 1118.1l-1.7 23.1M246.6 1118.3l-2.3 23M249.3 1118.5l-1.8 23.1M252.2 1118.7l-1.9 23.1M254.9 1118.9l-1.5 23.1M230.7 1140.4l25.5 1.6M230.8 1140.4l-2.1 22.5M241.4 1141.1l-1.2 22.6M230.4 1144.9l10.8 0.7M230 1149.4l10.9 0.8M229.7 1154l10.9 0.5M229.4 1158.4l10.8 0.7M233.4 1140.6l-0.3 4.5M236.1 1140.8l-0.3 4.5M238.8 1140.9l-0.3 4.6M233.1 1145.1l-0.4 4.5M235.8 1145.3l-0.4 4.5M238.5 1145.5l-0.3 4.5M237.5 1149.9l-0.4 4.5M232.9 1149.6l-0.3 4.5M233.4 1154.2l-0.4 4.5M235.5 1154.3l-0.3 4.5M236.2 1158.9l-0.3 4.5M233.8 1158.7l-0.3 4.5M251.6 1141.8l-1.8 22.6M244.7 1141.4l-1.1 22.5M248.2 1141.6l-1.4 22.6M251.2 1146.3l4.6 0.4M250.9 1150.9l4.6 0.3M250.6 1155.4l4.6 0.3M250.3 1159.9l4.6 0.3M229.1 1162.9l21.2 1.5M229.2 1162.9l-0.8 8.2M263.1 1042.1l-0.3 4.4M265.8 1042.2l-0.4 4.5M268.6 1044.7l-0.2 2.2M262.9 1046.3l8.4 0.8M262.8 1046.5l-1.2 16.9M268.3 1046.9l-1.1 16.9M273.7 1049.4l-1.1 14.7M278.6 1056.1l-0.8 8.4M283.9 1062.8l-0.1 2.1M262.5 1050.7l5.5 0.4M262.3 1054.9l5.4 0.4M262 1059.2l5.4 0.3M271.4 1047.1l-1.1 16.9M267.8 1054.3l3.1 0.2M267.4 1060.1l3.1 0.2M270.9 1054.2l2.4 0.2M270.6 1058.1l2.4 0.2M276.5 1053.8l-0.6 10.6M273.2 1055.9l3.1 0.2M273.4 1053.3l3.1 0.2M276.3 1056.8l2.3 0.1M281.2 1060.7l-0.4 4M261.7 1063.4l23.2 1.6M261.7 1063.4l-1.3 15.2M264.4 1063.6l-1.1 15.2M267.1 1063.8l-0.9 15.2M269.9 1064l-1 15.2M272.6 1064.1l-0.9 15.3M275.4 1064.3l-1.2 15.2M278.1 1064.5l-1.1 15.2M280.9 1064.7l-1.1 15.2M283.6 1064.9l-0.9 15.2M286.2 1067.3l-0.9 13M261 1072.4l2.8 0.2M261.5 1066.2l2.7 0.2M264 1069.7l2.7 0.2M263.7 1073.2l2.8 0.2M266.8 1068.8l2.7 0.2M266.4 1073.9l2.8 0.2M269.4 1070.2l2.8 0.2M269.2 1074l2.7 0.2M272 1073.5l2.7 0.2M272.3 1069.3l2.7 0.2M274.9 1071l2.7 0.2M274.7 1073.6l2.8 0.2M277.7 1070.3l2.8 0.2M277.5 1073.6l2.7 0.2M280.2 1074.6l2.7 0.1M280.6 1068.4l2.7 0.2M283.2 1070.8l2.7 0.2M285.8 1072.4l2.8 0.2M260.6 1078.7l27.4 1.5M260.6 1078.6l-1.7 21.8M260 1087.7l27.4 2M273.7 1079.5l-0.7 9.1M278.5 1079.8l-0.7 9.2M283.2 1080.2l-0.5 9.1M259.7 1091.8l27.4 2.5M259.4 1096.2l27.4 2.1M270.4 1088.5l-0.3 4.2M265.1 1088.1l-0.3 4.2M267.7 1088.3l-0.3 4.2M273.2 1088.7l-0.3 4.2M276 1088.9l-0.3 4.2M278.9 1089.1l-0.3 4.2M281.7 1089.3l-0.3 4.2M284.5 1089.5l-0.3 4.2M263.6 1092.2l-0.3 4.3M267.5 1092.5l-0.3 4.3M271.4 1092.8l-0.3 4.2M275.3 1093.1l-0.3 4.2M279.2 1093.3l-0.2 4.3M283.2 1093.6l-0.3 4.3M263.3 1096.5l-0.3 4.2M267.2 1096.8l-0.3 4.2M271.1 1097l-0.3 4.3M275 1097.3l-0.3 4.2M279 1097.6l-0.3 4.2M282.9 1097.9l-0.3 4.2M259.1 1100.3l27.4 2.5M259.2 1100.5l-2 18.5M264.6 1100.8l-1.5 18.6M270 1101.2l-1.3 18.6M275.5 1101.6l-1.4 18.6M281 1102l-1.1 18.6M258.3 1111.3l5.5 0.3M258.6 1106.8l5.5 0.4M262.9 1100.7l-0.6 6.4M262.3 1107.1l-0.3 4.4M260.5 1111.4l-0.4 7.8M266.8 1101l-1.7 18.6M263.8 1111l2.2 0.1M264.1 1107.3l2.2 0.2M263.6 1114.2l2.2 0.2M266.1 1110.1l3.3 0.2M266.4 1105.5l3.3 0.2M265.6 1116.4l3.4 0.2M272.7 1101.4l-1.3 18.6M272.1 1109.8l2.8 0.2M271.7 1114.7l2.9 0.2M275.2 1106.3l5.5 0.3M274.9 1110.9l5.5 0.4M274.5 1115.6l5.5 0.3M278.3 1101.8l-0.3 4.6M278.6 1106.5l-0.3 4.6M278 1111.1l-0.4 4.7M278 1115.8l-0.3 4.7M280.2 1113.4l5.5 0.4M280.4 1110l5.5 0.3M284.2 1102.2l-0.8 8M284.2 1110.2l-0.2 3.5M282.6 1113.6l-0.5 7.2M257.8 1119.1l27.4 1.9M257.7 1119.1l-1.3 23.1M263.4 1119.5l-2.1 23M268.8 1119.8l-1.9 23.1M274.3 1120.2l-2 23.1M279.7 1120.6l-1.6 23.1M256.2 1142.1l23.2 1.7M256.2 1142.2l-1.7 20.4M255.8 1146.7l19 1.3M255.5 1151.3l14.8 0.8M255.2 1155.5l8.4 0.8M254.9 1160.2l2.1 0.1M260.1 1142.4l-0.3 4.5M264 1142.7l-0.3 4.5M267.9 1143l-0.3 4.5M271.8 1143.3l-0.3 4.5M275.7 1143.5l-0.3 4.5M273 1147.9l-0.2 2.2M261 1151.6l-0.3 4.5M266.5 1151.9l-0.2 2.3M259.3 1151.4l-0.4 4.6M264.7 1151.8l-0.3 4.5M258 1155.9l-0.3 4.5M260.8 1156.1l-0.2 2.2M288.8 1069.6l-1 10.9M288.4 1075.2l2 0.2M290.6 1075.4l-0.4 5.3M288 1080.6l4.3 0.2M288 1080.5l-1.5 21.9M298.9 1092.2l-0.8 11M287.5 1087.4l9.4 0.4M292.3 1080.8l-0.3 6.8M293.7 1087.7l-1.3 15.1M287.1 1093.3l6.1 0.5M290.6 1087.5l-0.5 6.1M290.3 1093.6l-0.7 9M286.8 1097.4l3.2 0.2M289.9 1099.2l2.9 0.2M293.1 1095.5l5.5 0.4M297.1 1090.6l-0.4 5.1M294.9 1095.6l-0.4 7.3M298.4 1098.8l2.6 0.2M286.5 1102.4l12.9 0.9M286.5 1102.4l-1.2 18.6M289.2 1102.6l-1.1 18.6M292.1 1102.8l-1.7 18.5M294.8 1102.9l-1.3 18.7M297.6 1103.1l-1 12.4M300.1 1103.3l0 2.1M285.2 1121l8.6 0.6M285.3 1121l-1.5 16.8M293.9 1121.6l-0.2 2.1M284.4 1132.6l4.3 0.3M284.7 1127.4l6.5 0.6M288.1 1121.2l-0.5 6.5M290.9 1121.4l-0.4 6.5M287.6 1127.7l-0.3 5.1M290.5 1127.9l-0.2 2.5M337 1028.7l14.6 1.8M343.9 1027.5l-0.3 2.1M346.9 1027.9l-0.3 2.1M331.3 1030l-0.6 4.2M334.1 1030.4l-1.8 12.4M337.4 1028.7l-2.4 14.5M340.2 1029.1l-2.3 14.5M343 1029.5l-2 14.6M345.9 1029.9l-2.3 14.5M348.7 1030.3l-2.2 14.5M332.9 1042.9l16.6 2.4M333.8 1043.1l-0.6 3.9M334.7 1052.5l13.5 1.9M341.9 1044.2l-1.3 9.2M337.7 1043.6l-1.1 9.2M336.9 1049.3l4.2 0.6M346.8 1044.9l-1.2 9.2M341.5 1047.3l4.9 0.7M346.1 1050.4l2.6 0.3M341.1 1053.4l-1.6 12.7M335.4 1052.6l-0.6 4.2M338.2 1053l-1.4 10.6M334.7 1057.8l2.8 0.4M337.7 1057.1l2.9 0.4M336.9 1062.8l2.9 0.4M340.5 1058l7.1 1M346.1 1054.1l-0.7 4.6M344.1 1058.5l-1.2 8.1M338.1 1065.8l8.4 1M342.9 1066.6l-1.3 10.1M339.6 1072.1l2.6 0.3M342.3 1071.1l3.5 0.5M341.7 1075.7l3.4 0.5M373.8 1023.5l6.3 0.8M352.1 1026.9l-2.6 18.4M357.8 1025.6l-3 20.4M363.2 1026.3l-3.2 20.4M368.9 1025.1l-3 22.5M374.5 1023.8l-3.1 24.5M349.5 1045.3l27.1 3.6M349.4 1045.2l-2.8 21.9M364.7 1047.4l-3.6 21.7M348.9 1049.5l15 2.6M348.3 1054l15 2M347.6 1058.4l15.1 1.9M347 1062.6l15 2.5M362.8 1059.5l12.1 1.8M363.7 1053.1l12.1 1.6M372.9 1048.5l-0.8 5.7M367.3 1047.8l-0.8 5.7M370.1 1048.1l-0.8 5.8M370.2 1054l-1.1 6.4M366.5 1053.5l-0.9 6.4M367.7 1060.2l-1.2 9.7M362 1065.5l4.9 0.7M371.9 1060.8l-1.5 9.6M367 1065.4l4.2 0.6M371.2 1065.9l3 0.4M346.4 1067.1l27.2 3.7M346.4 1067.1l-2.2 16.2M345.9 1085.7l25.1 3.2M358.6 1087.4l-2.4 18.6M346.9 1085.7l-0.7 4.2M349.7 1086.1l-1 8.3M352.7 1086.6l-1.9 14.5M355.6 1087l-2.3 18.6M364.5 1088.2l-2.2 18.7M356.8 1099.9l6.1 0.8M357.9 1092.4l6.1 0.7M360.6 1087.7l-0.7 4.9M360.2 1092.7l-1 7.5M360.8 1100.5l-0.8 6.1M363.4 1096.7l6.4 0.9M367.3 1088.6l-1.3 8.5M364 1092.5l2.7 0.3M366.8 1092l3.7 0.5M367.6 1097.3l-1.4 10.1M362.9 1100.7l4.1 0.6M367 1101.2l2.2 0.3M353.7 1105.8l14.6 2.3M355.2 1110.3l12.5 1.9M358.8 1115.2l8.3 1.3M360.3 1119.4l6.3 0.8M361.8 1124.1l4.2 0.6M363.3 1128.3l2.1 0.2M387.8 1023.5l-0.1 2.1M383.6 1022.9l-0.3 2.1M394.8 1022.4l-0.7 4.1M390.1 1021.7l-0.6 4.2M380.1 1024.5l20 3.1M380 1024.5l-3.2 24.6M384.2 1025.1l-3.9 24.5M388 1025.7l-3 24.5M392 1026.2l-3 24.6M396.2 1026.8l-3.6 24.5M376.6 1049l20.1 3.1M376.6 1049.1l-3.1 21.8M383.2 1050l-2.6 21.9M390.1 1051l-3.6 21.7M376 1053.4l6.7 1M375.4 1057.8l6.7 1M374.8 1062.1l6.6 1.2M374.2 1066.5l6.6 1.1M386.3 1050.4l-3 21.9M381.9 1059.6l3.1 0.5M382.4 1056.7l3 0.4M381.1 1065.8l3 0.4M384.8 1061.3l3.7 0.5M383.7 1068.9l3.7 0.5M388.4 1062.1l6.7 1M394 1051.5l-1.8 11.2M389.2 1056.4l4 0.6M393.2 1056.9l2.7 0.4M392.1 1062.6l-1.3 10.7M387.8 1066.6l3.7 0.5M373.5 1071l20.2 2.5M373.5 1070.9l-2.5 18.2M385 1072.5l-2.6 18.2M381.2 1072l-2.8 18.2M372 1081.6l7.6 1M376.7 1071.3l-1.6 10.7M376.2 1074.8l4.4 0.6M375.4 1082.1l-1 7.5M379.5 1083.4l3.9 0.5M380 1079.7l3.9 0.5M383.5 1082.9l8.7 1.2M389.3 1073.1l-1.4 10.4M384.3 1077.4l4.3 0.6M388.8 1076.8l4.3 0.6M387.8 1083.5l-1.1 7.8M371 1089l20 3.4M371.1 1089.2l-3.3 18.5M377.7 1090.1l-2.9 18.6M384.3 1091l-2.4 18.7M368.4 1107.8l20.1 2.6M368.3 1107.7l-2.6 21.2M367.4 1114.8l20.1 2.8M366.4 1122l20.1 2.2M365.4 1129l20.1 2.4M365.4 1128.9l-0.3 2.1M371.5 1129.7l-1.1 8.7M369.3 1129.4l-0.8 6.6M368.8 1133.8l2.2 0.3M370.2 1139.6l13.9 1.9M370.7 1135.8l13.9 2M377.9 1130.6l-0.9 6.1M373.8 1130.1l-0.7 6.1M381.3 1131.1l-0.8 6.1M374.9 1136.4l-0.5 3.8M379.1 1137l-0.6 3.8M381.3 1137.3l-0.6 3.8M376.7 1140.5l-0.8 7.2M374.2 1140.2l-0.5 4.1M375.9 1147l7.3 0.8M380.6 1141.1l-0.9 6.3M378.8 1147.3l-0.4 2.7M380.4 1153.2l2 0.3M401 1021.1l-0.8 6.3M403.7 1023.6l-0.6 4.2M405.9 1026.1l-0.3 2M400.1 1027.5l8.1 0.9M400.3 1027.4l-4.1 24.4M408.2 1028.5l-3.5 24.5M399.4 1032.3l8.1 1M398.8 1037.2l8 1.1M398.1 1042.1l8 1.1M397.4 1046.9l8 1.3M396.7 1051.9l22.2 3.2M396.8 1051.9l-3.7 21.7M409.2 1053.7l-2.9 21.8M394.7 1065.8l12.6 1.7M400.7 1052.5l-2 13.9M396 1056.5l4 0.6M395.4 1061.2l4 0.5M404.5 1053l-2.4 13.8M399.8 1059.1l3.7 0.5M403.3 1061l4.8 0.7M400.7 1066.7l-1 7.9M396.9 1066.1l-1.1 7.9M402.8 1066.9l-0.9 8M393.6 1073.8l22.4 2.6M393.7 1073.7l-2.8 18.2M392.6 1081.2l22.2 3.3M398.1 1074.3l-1 7.6M402.6 1075l-1.2 7.5M407 1075.6l-1 7.5M411.5 1076.2l-1.3 7.5M391.6 1088.1l22.2 3.9M398.1 1082l-0.9 7.1M403.7 1082.8l-1.1 7M409.2 1083.6l-0.8 7.1M394.4 1088.7l-0.6 3.6M397.1 1089.1l-0.5 3.6M399.9 1089.5l-0.5 3.6M402.7 1089.9l-0.5 3.6M405.5 1090.3l-0.5 3.6M408.3 1090.6l-0.5 3.7M411.1 1091l-0.6 3.7M391.1 1092l22.3 2.9M391.1 1092l-2.9 18.5M406.5 1094.1l-2.6 18.6M396.5 1092.7l-2.9 18.6M389.5 1102.7l5.4 0.8M390.5 1096.2l5.3 0.8M393.7 1092.3l-0.6 4.3M393.8 1096.7l-1 6.5M392.7 1103.2l-1 7.8M395.2 1101.6l10 1.4M402.4 1093.5l-1.2 8.9M400.5 1093.3l-1.1 8.9M395.9 1096.2l4.2 0.6M400 1097.1l1.8 0.2M401.9 1097l4.1 0.6M398.3 1102l-1.3 9.8M394.7 1105l3.2 0.4M402.1 1102.6l-1.3 9.7M397.4 1108.4l3.8 0.5M401.7 1105.7l3.1 0.4M405.2 1103.2l6.8 1M410.7 1094.7l-1.2 9.1M405.9 1098.2l4.2 0.6M409.9 1100.3l2.6 0.3M410 1103.9l-1.3 9.5M404.7 1107l4.8 0.7M409.4 1108.2l2 0.3M388.4 1110.7l22.4 2.7M388.4 1110.6l-2.8 21.1M392.9 1111.2l-2.9 21.1M397.4 1111.8l-3.2 21.1M401.9 1112.5l-3.2 21.1M406.3 1113.1l-3.1 21.1M385.5 1131.6l22.2 3.5M385.4 1131.7l-2.8 21.7M388.2 1132.1l-2.7 21.7M391.1 1132.5l-3.2 21.7M393.8 1132.9l-3.1 21.7M396.5 1133.2l-2.5 21.8M399.5 1133.7l-3.6 21.6M402.3 1134.1l-3.5 21.6M404.9 1134.4l-2.4 19.6M382.4 1153.4l18.2 2.7M382.5 1153.4l-0.3 2.1M383.8 1158.3l8.1 1.2M386.9 1154l-0.7 4.7M391.3 1154.7l-0.6 4.6M395.8 1155.3l-0.3 2.3M420.8 1040.7l-2.4 14.2M420.3 1045.4l6.1 0.8M419.6 1050.3l12.3 1.4M418.9 1055.1l12.3 1.5M419 1055l-3.2 21.8M421.8 1055.4l-2.8 21.9M424.9 1055.8l-3.4 21.8M427.7 1056.2l-3 21.9M430.6 1056.7l-3.1 21.8M433 1061l-2.8 17.8M434.5 1071.4l-1.1 7.9M417.2 1067.3l2.9 0.4M418.2 1060.3l2.9 0.4M416.4 1073.3l2.9 0.4M420.8 1063.2l2.9 0.4M419.6 1071.3l3 0.4M423.8 1062.7l2.9 0.4M423.1 1067.7l2.9 0.4M422.4 1072.7l2.9 0.4M427.1 1060.6l2.9 0.4M426.5 1065l2.9 0.4M425.9 1069.3l2.9 0.4M425.3 1073.7l2.9 0.4M430 1061l2.9 0.4M429.4 1065.4l2.9 0.4M428.8 1069.7l2.9 0.5M428.2 1074.1l2.9 0.4M431.7 1070.2l2.9 0.4M431.1 1074.5l2.9 0.4M415.9 1076.9l18.4 2.3M416 1076.8l-3 18.2M414.4 1087.1l20.5 2.5M426.5 1078.3l-1.3 10.2M419.5 1077.3l-1.4 10.2M415.1 1082.4l3.6 0.6M418.8 1082.7l7 0.9M421.7 1077.7l-0.7 5.3M421.3 1083l-0.7 4.9M425.9 1082.9l9.8 1.5M432.5 1079.2l-0.6 4.5M429.2 1078.7l-0.7 4.6M429.2 1083.4l-0.8 5.6M432.4 1083.8l-0.8 5.6M426.9 1088.7l-1 8.1M417.5 1087.4l-0.9 8.1M420.6 1087.9l-0.8 8.1M423.8 1088.3l-1.1 8.1M429.5 1089.1l-0.8 8.1M432.3 1089.5l-1.3 8.1M413.3 1095l20.4 3.1M413.3 1095.1l-2.5 18.6M420.2 1096.1l-3 18.5M427.1 1097l-3.2 18.6M411.7 1106.3l6.8 1.2M412.8 1098.9l6.8 0.9M415.9 1095.4l-0.5 3.8M417.1 1099.5l-1.3 7.4M415.3 1106.9l-1 7.3M430 1097.4l-2.5 18.7M425.5 1107.5l3 0.5M426.3 1101.7l3.1 0.4M428.2 1110.2l3.8 0.5M429.1 1103.9l3.7 0.6M410.7 1113.6l20.4 3.2M410.7 1113.7l-3 21.1M409.2 1124.8l20.4 2.4M413.6 1114.1l-1.5 11M416.5 1114.5l-1.5 11M419.5 1114.9l-1.6 11M422.4 1115.3l-1.5 11M425.3 1115.7l-1.5 11M428.3 1116.2l-1.8 10.9M410 1118.7l2.9 0.4M412.8 1120.2l2.9 0.4M415.8 1120l2.9 0.4M418.5 1121.4l3 0.4M421.5 1121.3l3 0.4M424.2 1123.4l2.9 0.4M427.7 1119.6l2.9 0.4M412.2 1125.1l-1.8 10.1M415 1125.5l-1.6 10.1M417.9 1125.9l-1.4 10.2M420.8 1126.3l-1.3 10.2M423.8 1126.7l-1.5 10.2M426.7 1127.1l-1.6 10.2M407.7 1134.9l18.5 2.2M407.7 1134.8l-2.7 19.6M415.2 1135.9l-2.2 15.2M411.5 1135.4l-2.3 17.3M407.1 1139.2l3.9 0.5M406.5 1143.5l3.8 0.5M405.9 1147.9l3.8 0.5M405.3 1152.2l3.8 0.5M411 1139.7l3.6 0.5M410.3 1144l3.7 0.6M409.7 1148.4l3.6 0.5M414.6 1140.2l8.6 1.2M413.9 1144.6l6.6 0.8M413.3 1149l6.5 0.7M436.1 1081.7l-2.7 16.2M435 1088.8l2.1 0.3M434.4 1093.6l2 0.2M433.7 1098l4.1 0.5M433.7 1097.9l-2.4 18.7M431.1 1116.5l4.1 0.6M431.1 1116.6l-2 14.8M430.2 1123.4l2 0.3M434.4 1117l-0.6 4.6M287.9 986.8l-0.5 2.1M285.5 988.4l5.9 1.1M282.2 990.1l-2.4 12.9M279.4 992.4l2.3 0.4M278.7 995.7l2.3 0.4M278 999.1l2.2 0.5M282.1 990.9l8.6 1.8M281.4 993.9l8.7 1.8M280.8 997l8.6 1.6M280.2 999.9l8.6 1.8M276.4 1002.3l11.6 2.9M276.4 1002.2l-2.9 14.2M282.3 1003.5l-3 14.2M273.4 1016.4l11.7 2.6M275.3 1016.8l-0.9 4.5M292.1 985.8l-0.9 3.9M303.7 984.1l-1.9 7.9M299.7 982.5l2.2 0.5M296.3 984l-1.4 6.5M300.4 982.6l-1.8 8.7M303.8 984.6l7.3 1.5M291.3 989.8l18.2 3.6M291.3 989.7l-3 15.1M301.8 992l-3 15M290.3 994.4l10.6 2.3M297.1 991l-1 4.7M293.8 990.3l-1 4.7M294 995.2l-2.8 10.2M297.4 995.9l-2.3 10.3M289.5 998.1l3.6 0.8M292.4 1001.9l3.5 0.7M293.1 998.6l3.5 0.7M296.3 1000.8l3.5 0.8M304.7 992.6l-3 15M301.2 995l2.9 0.6M300.6 998l2.9 0.6M300 1001l2.8 0.6M299.3 1004l2.9 0.6M303.7 997.6l4.7 1M302.6 1002.6l4.8 1M288.1 1004.8l18.3 3.6M288.1 1004.7l-2.8 14.3M294.1 1006l-2.8 14.2M300.2 1007.3l-2.8 14.2M287.1 1009.5l6.1 1.2M286.1 1014.2l6.1 1.2M293.2 1010.7l6 1.5M292.2 1015.5l6 1.3M298.6 1014.9l6.1 1.3M299.6 1010.3l6.1 1.3M304.4 1008.2l-0.7 3M301.7 1010.7l-1 4.6M297.8 1018.8l6.1 1.3M301.2 1015.4l-0.9 4M299.9 1019.3l-0.5 2.6M285.1 1018.9l12.1 2.7M285.1 1018.9l-0.5 2.2M289.2 1019.8l-0.4 2M310.7 987.7l-1.3 5.9M310.7 987.8l10.9 2.1M310.1 990.6l10.8 2.4M313.6 988.3l-0.6 3M316.5 988.9l-0.6 3M319.4 989.5l-0.6 3M321.1 993l-0.6 3M314.5 991.6l-0.7 2.9M318.6 992.5l-0.7 2.9M309.5 993.6l12.9 2.9M309.5 993.6l-3.1 15M312.4 994.2l-3.2 15M315.3 994.8l-3.3 15M318.2 995.5l-3.6 14.9M321.1 996.1l-3.7 14.9M323 1001l-2.1 10.7M306.3 1008.5l17.2 4.1M306.3 1008.6l-2.6 12.2M317.1 1010.9l-2 10.2M305 1015l10.8 2.3M311.6 1009.7l-1.3 6.4M314.2 1010.3l-1.5 6.3M310.9 1013.3l2.5 0.5M313.6 1012.8l3 0.7M309.8 1016l-1.2 5.2M304 1019.4l4.8 1M313.6 1016.8l-0.5 2.6M308.8 1020.4l3.9 0.8M313 1019.4l2.3 0.5M315.8 1017.5l6.4 1.3M318.6 1018.1l-0.6 2.5M315 1021l2.8 0.6M323.9 1010.1l-0.4 2.2M323.5 1012.3l-1.6 8.1M321.7 1021l2.3 0.5M100 1153l2 0.4M102.5 1151.5l-0.4 2.2M102 1153.6l14.1 3.2M101.9 1153.6l-1.7 8.6M101.5 1175.9l10.1 2.3M102.3 1176l-0.8 4.3M108.9 1177.4l-1 4.3M105.3 1176.7l-0.9 4.3M101.7 1179.5l2.9 0.6M118 1148.1l-1.7 8.6M126.9 1147.7l-2.1 10.8M124 1147.1l-2.3 10.8M121.1 1148.7l-1.9 8.6M117.4 1150.7l3.2 0.7M121.3 1148.2l2.4 0.5M120.2 1153.3l2.4 0.6M123.2 1150.8l2.9 0.6M122.7 1153.5l2.8 0.6M130.5 1146.2l-2.5 13M126.1 1151.4l3.2 0.6M125.5 1154l3.2 0.7M130.1 1148l2.7 0.5M129.1 1153l2.6 0.5M116.1 1156.7l14.3 3M116.1 1156.7l-4.3 21.4M115 1162l14.3 3.1M113.9 1167.4l14.3 3M112.8 1172.7l14.2 3.1M119.5 1163l-1.2 5.3M126 1164.4l-1.1 5.3M122.6 1163.6l-1.1 5.4M118.6 1168.4l-1.1 5.3M123.4 1169.4l-1.1 5.3M122.5 1174.8l-1.1 5.3M116.1 1173.4l-1.2 5.3M118.6 1173.9l-1.1 5.4M111.6 1178l14.3 3M111.7 1178l-1.5 6.4M114.5 1178.6l-1.4 6.5M117.3 1179.2l-1.4 6.5M120.2 1179.8l-1.8 8.6M123.2 1180.5l-2.2 8.5M144 1144.7l6 1.3M133.2 1146.8l-2.8 12.9M136.8 1145.3l-3.2 15.1M139.9 1146l-2.8 15.1M143.5 1144.5l-3.2 17.3M146.7 1145.2l-3.2 17.3M130.4 1159.7l15.9 3.4M130.4 1159.7l-4.4 21.4M127.8 1172.2l16 2.7M141 1162l-2.6 12.3M128.9 1166.8l10.6 2.5M133.9 1160.4l-1.8 7.1M129.9 1162.1l3.4 0.7M137.4 1161.2l-1.5 7.1M133.3 1162.6l3.7 0.8M136.9 1163.8l3.6 0.8M132.4 1167.6l-1.1 5.2M136 1168.4l-1.1 5.1M139.5 1168.9l5.4 1.1M131 1172.7l-1.9 9M134.1 1173.4l-1.7 9M137.3 1174l-1.8 9.1M140.6 1174.7l-2.1 9M125.9 1181l15.8 3.7M125.9 1181.1l-2.3 10.7M134.4 1182.9l-2.7 12.8M128.8 1181.7l-2.4 10.6M131.6 1182.3l-2.4 10.6M138.2 1183.7l-3 12.8M133.2 1188.6l3.7 0.8M132 1194.3l3.7 0.8M136.9 1189.2l3.7 0.7M135.7 1195.1l3.7 0.8M150.4 1143.7l-0.5 2.2M160.3 1143.6l-0.9 4.3M158 1143.1l2.3 0.5M156.1 1142.7l-0.9 4.3M166.7 1142.7l-1.1 6.5M160.6 1142.2l5.7 1.2M164.4 1143l-1.2 5.7M169.8 1141.2l2.9 0.6M166 1144.8l5.8 1.2M150 1146l21 4M149.9 1145.9l-3.2 17.3M164.5 1149l-4.2 17.1M148.8 1151.6l14.3 3.1M147.6 1157.3l14.3 3.4M158.3 1147.6l-1.2 5.8M155.5 1147l-1.2 5.8M153.2 1146.6l-1.2 5.7M161.8 1148.4l-1.2 5.7M157 1153.4l-1.2 5.7M151.7 1152.2l-1.2 5.8M160.9 1154.2l-1.2 5.7M156 1159.2l-1.2 5.7M152.7 1158.4l-1.2 5.8M159.6 1159.9l-1.2 5.8M146.4 1163l20.8 4.7M146.4 1163.1l-4.6 21.3M144.8 1170.2l20.9 4.5M143.3 1177.3l20.9 4.4M141.8 1184.4l20.9 4.7M141.7 1184.4l-2.5 12.9M148.8 1185.9l-2.7 12.9M155.7 1187.4l-2.7 12.9M172.7 1141.8l-1.8 8.5M172.7 1141.8l2.1 0.4M171.8 1146.1l4.1 0.8M170.9 1150.3l4.3 0.9M171 1150.3l-4 17.2M173.9 1151l-3.5 17.2M175.7 1158.1l-2.1 10.8M167.3 1167.5l8.5 1.9M167.3 1167.5l-4.6 21.4M175.3 1169.2l-4.4 21.4M165.3 1176.5l8.1 1.6M166.6 1170.5l8.1 1.5M171.3 1168.4l-0.6 2.9M171 1171.4l-1.1 6.1M163.9 1183.5l8 1.7M168.7 1177.2l-1.5 7M164.7 1179.7l3.3 0.8M168 1180.7l4.6 1M167.1 1184.1l-1.2 5.5M172.3 1183.5l2.2 0.5M162.7 1188.8l12.8 3M162.7 1188.9l-2.6 12.9M172.1 1190.9l-2.7 12.8M161.5 1194.6l9.4 2.1M167.7 1189.9l-1.2 5.8M167.7 1195.9l-1.5 6.9M160.7 1198.4l6.2 1.2M159.9 1202.2l6.2 1.3M166.9 1199.7l3.2 0.7M170 1200.9l4 0.8M170.7 1197.4l4.4 0.9M175.9 1194l-1 4.3M173.9 1198.1l-0.7 3.4M172.6 1201.4l-0.5 2.4" stroke="#ffd8c6" stroke-opacity="0.7"/><path d="M201.1 1222.7l6.3 0.7M194.8 1224.1l-1.5 10M207.6 1221.9l-0.3 2M207.4 1223.9l30.2 4M207.4 1223.9l-3.3 23.9M220.2 1225.7l-4.5 31.8M210.9 1256.9l22.1 3.3M213 1257.1l-0.3 2.1M223 1258.5l-0.9 6.2M238.8 1218.1l-1.4 10M249.8 1215.5l-1.8 14.1M258.7 1212.6l-2.3 18.2M237.5 1228.1l30.1 4.4M237.6 1228.1l-4.7 31.8M233 1260.1l22.1 2.6M233.1 1260l-0.9 6.1M271 1208.2l-3.2 24.2M267.6 1232.4l19.9 2.7M267.5 1232.3l-3.1 23.9M181.6 1030.8l-0.9 12.6M185.3 1031l-1.1 12.7M189.4 1031.3l-0.7 12.7M193.3 1029.5l-0.9 14.7M178.9 1043.3l17.2 1M185.2 1043.7l-1.4 17.5M178 1055.5l6.3 0.5M182.4 1043.5l-0.7 12.2M179.2 1049.9l2.8 0.2M182.1 1048.6l2.7 0.2M179.1 1055.5l-0.3 5.3M189 1044l-1.4 17.5M184.7 1050.4l3.8 0.2M188.4 1052.7l7.1 0.5M177.7 1060.8l17.2 1M176.9 1072.3l17.2 1.2M187.4 1061.4l-0.9 11.5M179.9 1060.9l-0.7 11.5M191.5 1061.7l-0.8 11.5M184.8 1072.8l-0.3 5.2M181.2 1072.6l-0.3 5.2M189.9 1073.2l-0.4 5.2M178.7 1077.6l15 1.2M185.4 1078.1l-1.5 26.8M178.7 1077.6l-1.9 26.8M177.8 1090.2l6.8 0.7M178.1 1085.6l6.9 0.4M177.1 1099.9l6.9 0.5M190.2 1078.4l-1.6 26.8M184.9 1086.8l4.7 0.4M184 1099.3l4.8 0.3M184.5 1092.1l4.8 0.3M189 1096l3.5 0.3M189.5 1089.6l3.4 0.3M176.8 1104.4l15 0.8M180.7 1104.6l-1.6 20.9M178 1114l2 0.1M176.9 1104.4l-0.9 9.5M177.4 1114l-0.8 11.3M179.8 1117l11.2 0.7M187.6 1105.1l-0.8 12.4M180.4 1108.5l6.9 0.4M187.1 1112.6l4.2 0.3M186.9 1117.5l-0.7 8.5M177.5 1125.4l12.9 0.7M178.4 1125.5l-1.2 18.6M186 1126l-1.2 18.6M177.9 1132.4l7.6 0.6M183.2 1125.8l-0.4 7M182.6 1132.8l-0.9 11.6M185.3 1135.1l4.4 0.3M176.2 1144l12.9 1M181.5 1144.4l-1.2 20.1M176 1155.7l4.7 0.4M177.7 1144.1l-1.2 11.7M181 1151.5l7.6 0.8M186.7 1144.8l-0.5 7.1M180.6 1157.4l7.5 0.7M185.6 1151.9l-0.4 5.9M183.4 1157.7l-0.6 7M176.9 1164.2l10.8 0.6M181.3 1164.6l-2 20.4M176.3 1173.2l4.2 0.2M176.3 1173.3l-0.2 2.3M177.6 1185l8.6 0.7M179.6 1185l-1.2 27M177.9 1211.7l6.5 0.2M179.3 1212.1l-1.2 14.6M176.1 1225l2.2 0.2M176.6 1218.3l2.2 0.1M178.3 1224.8l5.2 0.4M178.7 1218.6l5.2 0.3M197.1 1029.7l-1 14.8M204.8 1028.2l-1.4 16.8M212.4 1028.7l-1.1 16.8M196.1 1044.4l22.6 1.8M196.1 1044.5l-1.3 17.5M205.3 1045.1l-1.4 17.5M200.3 1044.8l-0.4 17.5M195.5 1053.3l4.4 0.3M199.7 1056.6l4.7 0.3M211.3 1045.5l-1.1 17.5M204.8 1051.9l6 0.4M194.9 1061.9l22.6 1.7M194.9 1062l-1.2 16.7M198.7 1062.2l-1.3 16.7M202.4 1062.5l-1.2 16.7M206.1 1062.8l-0.9 16.7M209.9 1063l-0.9 16.7M213.7 1063.3l-1 16.7M194.1 1072.5l3.8 0.2M198.3 1067.6l3.7 0.2M201.7 1073.4l3.7 0.3M205.6 1070.9l3.8 0.3M209.3 1072.3l3.8 0.3M193.7 1078.6l22.7 1.7M193.6 1078.6l-1.4 26.8M197.5 1078.9l-2.1 26.8M201.1 1079.2l-1.3 26.8M205.1 1079.4l-2.2 26.8M209 1079.7l-2.6 26.7M212.7 1080l-2.4 26.7M191.8 1105.4l22.7 1.8M191.8 1105.4l-1.3 20.9M202.3 1106.1l-1.7 20.9M191.2 1113.7l10.4 0.9M198.4 1105.9l-0.5 8.3M196.1 1114.1l-1.2 12.5M190.9 1118.6l4.8 0.3M195.5 1121.3l5.6 0.4M201.2 1120.3l12.3 0.7M206.2 1106.4l-1.4 14.1M201.7 1113.3l3.9 0.3M205.6 1113.1l8.4 0.5M212 1106.8l-0.6 6.7M210.9 1113.5l-0.6 7.4M206.8 1120.6l-0.3 6.8M190.4 1126.2l22.6 2M190.3 1126.3l-1.1 18.7M200.1 1127l-1.3 18.6M189.9 1132.5l9.7 0.6M189.5 1138.7l9.7 0.8M195.3 1126.6l-0.4 6.3M193.8 1132.8l-0.4 6.2M195.7 1139.2l-0.5 6.2M204.5 1127.3l-1.5 18.6M199.5 1135.3l4.4 0.3M203.9 1136l8.5 0.8M209.6 1127.6l-0.9 8.8M208 1136.3l-0.8 9.9M189.1 1145l22.6 1.3M189 1144.9l-1.3 20.1M196.8 1145.5l-1.3 20.1M188.4 1154l7.8 0.5M191.1 1154.2l-0.4 11M206.1 1146.1l-0.9 20.2M196.1 1155.4l9.4 0.8M202.3 1145.9l-0.5 10M202 1155.9l-0.8 10.1M205.8 1152.6l5.5 0.4M205.4 1157.8l5.5 0.4M187.7 1165.1l22.6 1.2M187.7 1165l-1.6 20.5M191.4 1165.3l-1.4 20.5M195.3 1165.6l-1.9 20.4M198.9 1165.8l-0.9 20.5M202.7 1166.1l-1.3 20.4M206.6 1166.3l-1.5 20.5M186.9 1176.2l3.8 0.3M190.9 1172.6l3.8 0.2M190.6 1177.2l3.8 0.3M194.5 1175.5l3.8 0.2M198.4 1174.2l3.8 0.2M198 1180.3l3.8 0.2M205.9 1175.3l3.8 0.3M186.2 1185.5l22.7 1.4M186 1185.5l-1 27M199.3 1186.4l-2.1 26.9M185 1203.4l13 0.6M191.1 1185.8l-0.9 17.9M185.4 1197.2l5 0.3M196 1186.2l-1.3 17.8M190.4 1197.2l4.8 0.4M195.4 1195.6l3.2 0.3M190.6 1203.7l-0.4 9.1M195.4 1204l-0.6 9.2M197.9 1205.1l9.7 0.3M198.6 1196l9.6 0.5M202.4 1186.6l-0.6 9.6M204.9 1196.4l-0.6 9.1M202.3 1205.3l-0.6 8.3M184.3 1212.6l22.7 1M184.3 1212.4l-0.7 12.5M198 1213.4l-0.5 8.3M191.2 1212.9l-0.7 10.4M183.9 1218.4l6.9 0.3M204.2 1213.8l-0.4 6.3M197.4 1221.8l2.1 0.2M203.8 1219.5l2.8 0.2M220.1 1027.1l-1.2 19M232.2 1026.4l14.1 1.1M219.7 1032.5l26.2 1.3M219.2 1039.2l26.2 1.9M237.9 1026.8l-0.4 6.8M230.8 1028.6l-0.3 4.5M224.1 1028.1l-0.3 4.6M242.6 1027.1l-0.4 6.8M236.6 1033.6l-0.3 6.8M223.9 1032.7l-0.4 6.8M228.2 1033l-0.7 6.8M232.4 1033.3l-0.4 6.8M241 1033.9l-0.5 6.8M227.3 1039.8l-0.4 6.8M222.5 1039.4l-0.4 6.9M218.8 1046l26.1 2.1M218.8 1046.1l-1.3 17.4M229.2 1046.8l-1.1 17.5M225.8 1046.6l-1.2 17.4M218.3 1052.4l7.1 0.6M225.1 1057.2l3.4 0.3M228.9 1052.3l15.6 0.9M235.2 1047.2l-0.4 5.5M241.7 1047.7l-0.4 5.4M236.6 1052.8l-0.9 12M228.5 1057.9l7.7 0.5M232.7 1052.5l-0.4 5.6M232.9 1058.2l-0.6 6.4M236.2 1059.1l7.9 0.8M241.9 1053.1l-0.5 6.4M239.9 1059.4l-0.4 5.7M217.5 1063.4l26.1 2.5M217.6 1063.6l-1.4 16.6M228.8 1064.3l-1.2 16.7M223.4 1064l-1.3 16.6M216.8 1074l5.9 0.4M222.6 1075.5l5.4 0.4M239.2 1065.1l-1.2 16.6M228.3 1071.1l10.4 0.6M233.1 1064.6l-0.3 6.8M233.9 1071.4l-1.1 10M238.8 1070.9l4.5 0.3M216.4 1080.3l26.1 1.7M216.3 1080.2l-1.7 26.8M234 1081.5l-2.5 26.7M224.6 1080.8l-2.5 26.7M215.3 1095l8.1 0.5M221.2 1080.6l-1.2 14.7M216 1085.7l4.8 0.3M220.4 1090.8l3.3 0.2M220.2 1095.3l-0.8 12M215 1099.9l4.8 0.4M219.9 1099.4l3.2 0.2M224 1087.5l9.4 0.6M223.5 1094.1l9.4 0.9M223 1100.8l9.4 0.8M232.8 1096.6l8.7 0.4M233.3 1088.6l8.7 0.5M239.7 1081.9l-0.5 7.1M237.7 1088.9l-0.6 8M237.9 1096.9l-0.7 11.7M214.5 1106.9l26.1 2.4M214.5 1107l-1.6 20.9M228.9 1108l-1.7 20.9M213.5 1120.9l14.4 0.8M219.5 1107.4l-0.6 13.8M213.9 1115.7l5.1 0.4M223.9 1107.7l-0.8 13.8M219.2 1113l4.3 0.3M223.3 1116.9l4.9 0.4M221.3 1121.4l-0.6 7M216.1 1121l-0.6 7.1M228.1 1118.4l11.8 1M233.7 1108.4l-0.8 10.4M231.8 1118.7l-0.6 10.5M235.2 1119l-0.7 10.4M213 1127.9l26.2 1.8M213 1127.9l-1.3 18.6M211.7 1146.7l26.2 1M211.7 1146.5l-1.4 20.1M218.2 1147l-1.3 20.1M224.7 1147.4l-1 20.1M231.3 1147.9l-1.2 20.1M210.9 1158.7l6.5 0.5M211.3 1152.1l6.6 0.4M217.5 1158.3l6.5 0.5M224.2 1156l6.5 0.6M230.9 1154.6l6.5 0.4M230.4 1161.4l6.5 0.1M210.3 1166.6l26.1 2M210.4 1166.6l-1.8 20.4M227.1 1167.8l-1.5 20.4M209.4 1179.2l16.7 1.6M209.9 1172.7l16.8 0.6M216.4 1167l-0.4 6M221.9 1167.4l-0.4 5.9M221.2 1173.3l-0.5 6.8M220.1 1180l-0.4 7.8M214.9 1179.7l-0.4 7.8M226.4 1177.3l9.4 0.7M232.4 1168.2l-0.7 9.5M231.7 1177.7l-0.7 10.9M208.9 1187l26.1 2M208.9 1187.1l-2 26.9M212.6 1187.3l-1.7 27M216.4 1187.6l-2.1 26.9M220 1187.8l-1.4 27M224 1188.1l-2.7 26.9M227.5 1188.4l-1.7 26.9M231.4 1188.6l-2.3 27M207 1214.2l26.2 1M207 1214l-0.4 6.3M223 1215.1l-0.1 2.1M216.1 1214.6l-0.2 2.5M211.8 1214.3l-0.3 4.9M246.4 1026.8l-2.2 21M255.2 1025.3l-2.2 23.2M246.2 1029.7l8.6 0.4M245.5 1038.7l8.6 0.8M254.5 1034.8l11 0.6M258.5 1025.9l-0.7 9.1M254.8 1029.8l3.4 0.2M258.2 1030.9l7.6 0.4M263.8 1026.5l-0.4 4.7M261.1 1031.1l-0.3 4.1M259.9 1035.1l-0.8 13.8M253.9 1043.1l5.5 0.4M259.3 1044.2l5.5 0.4M244.9 1047.9l19.6 1.4M244.9 1047.9l-1.1 17.5M243.7 1065.4l19.6 1.4M243.7 1065.4l-1.2 16.7M250.1 1065.8l-0.7 16.7M256.7 1066.3l-1 16.7M243 1075.5l6.5 0.7M249.7 1073.2l6.5 0.4M256.1 1074.9l6.6 0.5M242.5 1082.1l19.6 1.2M242.5 1082.1l-1.8 26.7M253.1 1082.8l-1.5 26.8M241.5 1096.6l10.7 0.8M245.9 1082.3l-0.8 14.6M241.8 1091.4l3.5 0.2M245.4 1089.4l7.3 0.5M248.4 1082.5l-0.5 7.1M250 1089.7l-0.3 7.5M245.9 1096.9l-0.7 12.2M241 1103.1l4.5 0.3M245.5 1103.7l6.2 0.2M252.1 1098.7l8.9 0.6M252.8 1088.1l8.9 0.6M259.1 1083.2l-0.4 5.3M258 1088.4l-0.9 10.6M240.6 1109l19.7 0.7M240.7 1108.8l-1.8 20.9M239.2 1129.6l19.6 1.8M239.2 1129.7l-1.3 18.7M247.2 1130.3l-1.3 18.6M238.5 1139.4l8 0.6M243.1 1130l-0.8 9.6M243.7 1139.7l-0.6 9M246.7 1136.4l11.6 1.2M246.3 1142.7l11.6 0.7M251.1 1130.5l-0.5 6.3M253.5 1130.7l-0.3 6.2M250.6 1136.8l-0.5 6.2M254.4 1137l-0.3 6.2M254 1143.2l-0.6 6.2M237.9 1148.3l19.6 1.7M237.7 1148.3l-0.8 20.2M250.5 1149.2l-0.9 20.2M242.5 1148.7l-1.3 20.1M242 1156l8.1 0.6M247.8 1149.1l-0.5 7.3M246.2 1156.3l-0.5 12.8M241.6 1161.5l4.3 0.3M245.7 1164.7l3.9 0.3M250.2 1156.3l6.8 0.7M249.9 1160.7l6.8 0.5M236.5 1168.5l19.6 1M236.5 1168.4l-1.5 20.5M235.8 1177.9l19.6 1.9M240.4 1168.7l-0.7 9.6M244.3 1169l-0.5 9.6M248.3 1169.3l-0.9 9.6M252.1 1169.5l-0.6 9.6M245.2 1178.7l-0.9 10.8M239.8 1178.3l-0.6 10.9M250.3 1179.1l-0.3 10.8M235 1188.9l19.6 1.4M235.1 1188.9l-2.1 26.9M241.5 1189.3l-1.4 27M248.1 1189.8l-1.7 24.9M233.1 1215.9l8.8 0.5M266.2 1026.1l-2.4 23.1M272.6 1026.5l-2.3 23.2M279 1027l-2 23.1M265.6 1033.6l6.4 0.5M264.9 1044l6.4 0.4M272.3 1030.6l6.4 0.4M271.7 1039.5l6.4 0.6M278.8 1029.6l6.4 0.5M278.3 1036.5l6.5 0.4M277.9 1043.3l6.4 0.5M264.5 1049.2l19.3 1.5M264.4 1049.3l-0.9 17.5M275.7 1050.1l-1.2 17.4M271.5 1049.8l-1.3 17.4M263.8 1060.1l6.9 0.4M270.7 1060.9l4.2 0.3M275.3 1055.7l8.1 0.8M279.9 1050.3l-0.4 5.8M278.5 1056l-0.7 11.8M263.3 1066.8l19.3 1M263.3 1066.8l-1.4 16.6M262.8 1073.8l19.3 1.5M276.5 1067.7l-0.4 7M267.3 1067l-0.4 7.1M270.7 1067.3l-0.4 7M274.1 1074.6l-0.8 9.6M267.2 1074.1l-1 9.6M277.3 1074.8l-0.7 9.6M262.1 1083.5l19.3 1.2M262.1 1083.4l-1.9 26.8M261.6 1090.2l19.4 1.2M261.2 1096.8l19.3 1.4M260.7 1103.5l19.3 1.3M266 1083.7l-0.5 6.7M269.8 1084l-0.4 6.7M273.7 1084.2l-0.4 6.7M277.5 1084.5l-0.2 6.7M272.2 1090.9l-0.5 6.7M265.6 1090.4l-0.3 6.7M275.2 1091.1l-0.4 6.7M267.7 1097.3l-0.4 6.7M273.2 1097.7l-0.5 6.7M275.8 1097.8l-0.5 6.7M270.8 1104.2l-0.4 6.7M267.4 1104l-0.5 6.7M275.8 1104.6l-0.6 6.6M260.2 1110.3l19.4 0.9M260.3 1110.2l-1.8 20.9M264 1110.5l-1 20.9M267.9 1110.7l-1.3 20.9M271.8 1111l-1.4 20.9M275.6 1111.3l-1 20.9M259.5 1120.6l3.9 0.2M263.6 1117.2l3.9 0.2M263.1 1125.5l3.8 0.2M267.4 1118.4l3.9 0.3M267 1125l3.8 0.3M271.3 1118l3.9 0.2M270.9 1124.9l3.8 0.3M274.7 1125l3.9 0.2M275.2 1117.7l3.9 0.2M258.8 1131.1l19.3 1.2M258.8 1131.1l-1.4 18.6M265.2 1131.5l-1.3 18.7M271.7 1132l-1.4 18.6M258.2 1139.1l6.5 0.4M270.9 1143.2l6.4 0.6M257.5 1149.7l19.3 1.5M257.5 1149.7l-1.4 20.1M256.7 1160.7l19.3 1.5M264 1150.2l-1 11M270.4 1150.6l-0.9 11M265.2 1161.3l-0.3 9.1M261.3 1161.1l-0.6 9M271.6 1161.8l-0.6 9.1M256.1 1169.7l19.3 1.8M256.1 1169.8l-1.4 20.5M262.1 1170.2l-1.3 20.5M255.1 1183.2l6.1 0.3M255.5 1178.3l6 0.4M269 1170.7l-1.6 20.5M261.4 1180l6.8 0.5M268.2 1181l6.5 0.2M254.7 1190.2l19.2 1.7M254.6 1190.3l-1.5 22.8M261 1190.7l-1 18.7M267.4 1191.2l-0.9 16.6M285.4 1027.4l-1.3 23.2M284.6 1039.7l20.7 1.6M294.6 1028l-0.6 12.4M285.2 1030.6l9.1 0.8M290.5 1026.1l-0.2 4.9M288.7 1030.9l-0.9 9.1M294.2 1033.3l11.6 0.9M300.2 1026.6l-0.6 7.1M299.6 1033.7l-0.5 7M296.3 1040.5l-1 10.9M288.2 1040l-1 10.9M292.8 1040.3l-0.7 10.9M283.8 1050.7l20.8 1M283.9 1050.6l-1.5 17.5M290.3 1051.1l-1.3 17.4M289.5 1061.8l14.3 1M298.9 1062.5l-0.3 6.7M295.9 1062.3l-0.6 6.7M282.6 1068.1l20.7 1.5M282.5 1068.1l-1 16.7M294.6 1068.9l-1 16.7M286.7 1068.4l-1 16.7M282.1 1074.4l4.2 0.3M292.1 1068.8l-1 16.7M286.2 1076l5.4 0.3M291.6 1076.1l2.5 0.2M294.3 1074l8.7 0.6M298.3 1069.2l-0.4 5M297.8 1074.2l-0.6 11.7M281.4 1084.9l20.8 0.9M281.3 1084.8l-1.4 26.8M290.6 1085.4l-1.8 26.8M280.8 1093.4l9.2 0.3M286 1085.1l-0.6 8.5M280.4 1099.3l9.2 0.6M284.3 1093.6l-0.5 5.9M284 1099.5l-0.7 12.3M280 1105.5l3.6 0.2M283.7 1104.6l5.6 0.4M296.1 1085.8l-1.9 26.8M289.8 1097.4l5.4 0.4M290.1 1092.6l5.5 0.4M289.4 1103.6l5.4 0.4M294.9 1101.9l6.1 0.2M295.4 1095.3l6.1 0.4M279.5 1111.6l20.8 1.4M279.5 1111.6l-1.4 20.8M292.2 1112.4l-1.7 20.9M286.8 1112.1l-1.6 20.8M283.5 1111.8l-1.3 20.9M278.8 1121.6l4 0.3M283 1118.8l3.3 0.2M282.6 1125.8l3.2 0.2M286.3 1119.4l5.3 0.3M285.7 1127l5.4 0.4M291.1 1126.8l8.2 0.5M291.5 1120.6l8.2 0.5M297.1 1112.8l-0.5 8.1M297.1 1121l-0.3 6.2M293.8 1126.9l-0.5 6.6M278.1 1132.4l20.7 1.5M278 1132.4l-1.1 18.7M276.8 1150.9l20.7 2.1M276.8 1151.1l-1.5 20.1M283.7 1151.6l-2.1 20M276.3 1157.7l6.8 0.6M275.8 1164.5l6.8 0.4M288.8 1151.9l-1.7 20.1M282.8 1162.1l5.2 0.3M287.8 1164.5l8.8 0.7M291.9 1152.1l-0.9 12.6M288.3 1157.4l3.2 0.2M291.3 1160.7l5.6 0.4M293.5 1164.9l-0.7 7.5M275.4 1171.1l20.7 1.8M275.5 1171.2l-1.9 20.4M282.7 1171.7l-1.9 20.4M274.5 1183.8l7.2 0.4M277.3 1184l-0.7 7.8M289.3 1172.1l-1.6 20.5M281.8 1182.5l6.7 0.5M288.8 1178.9l6.8 0.7M288.3 1185.7l6.8 0.8M273.9 1191.7l20.8 1.2M273.9 1191.6l-0.9 14.5M286.2 1192.5l-0.5 14.5M283.2 1208.5l2.1 0.1M280.7 1192.1l-0.8 14.1M273.4 1199.1l6.8 0.5M280.1 1201.3l5.7 0.4M290.9 1192.8l-1.5 14.5M285.3 1208.5l4.3 0.3M285.7 1203l4.3 0.3M290.2 1199.5l4 0.3M289.7 1206.3l4 0.2M306.4 1026.8l-2.5 25.2M325.1 1028.1l-2.1 25.3M305.7 1035.8l18.7 1.3M316.4 1027.6l-0.5 8.9M312.3 1027.3l-0.7 8.9M319.8 1027.8l-0.6 8.9M317.4 1036.6l-1.3 16.3M311.4 1036.2l-1.2 16.3M305.3 1041.5l5.7 0.4M310.7 1046.8l5.9 0.4M316.9 1043.1l7 0.6M324.2 1039.7l8.3 0.8M329.8 1028.6l-0.9 11.5M324.7 1033.2l4.7 0.3M329.5 1031.8l3.6 0.2M328.2 1040l-0.9 13.7M323.8 1045l4.1 0.2M327.6 1048.4l4.3 0.3M304.5 1051.9l27 2.5M304.5 1052.1l-1.1 17.5M310 1052.4l-1.3 17.5M315.3 1052.8l-1.1 17.5M320.7 1053.2l-1.1 17.5M326.1 1053.6l-1.1 17.5M303.3 1069.7l27.1 1.3M303.4 1069.6l-1.4 16.6M320 1070.7l-1.3 16.7M302.7 1078.6l16.7 1M308.8 1069.9l-0.4 9M314.4 1070.3l-0.5 9M308.2 1078.9l-0.5 7.7M313.8 1079.3l-0.6 7.7M324.2 1071l-0.7 16.7M319.5 1078l4.3 0.3M323.8 1078l6.1 0.5M302.2 1086.1l26.9 2.5M302.4 1086.2l-2.8 26.8M300.3 1113l27 1.8M300.3 1113l-1.6 20.9M313.1 1113.9l-1.4 20.9M305.3 1113.4l-1.7 20.8M299.5 1123.6l5 0.4M304.7 1120.3l7.9 0.7M304.3 1127.3l7.9 0.5M318.9 1114.3l-1.3 20.9M312.4 1123.9l5.9 0.4M322 1114.5l-1.5 20.9M318.2 1125l3 0.2M321.4 1122.4l5.4 0.3M321 1128.5l5.3 0.4M298.8 1134l27.1 1.4M298.9 1133.9l-1.6 18.6M311.4 1134.8l-1.2 18.6M303 1134.2l-1.1 18.6M307.2 1134.5l-1.1 18.6M298.1 1144.7l4.2 0.3M302.6 1140.4l4.2 0.3M302.2 1146.6l4.2 0.3M306.6 1143.3l4.2 0.3M311 1141.5l14.4 0.8M320.1 1135.4l-0.5 6.7M316.5 1135.1l-0.4 6.7M315.6 1141.8l-1.1 11.9M320.9 1142.2l-0.7 11.9M297.5 1152.6l27.1 1.5M297.6 1152.5l-1.7 20.1M313.6 1153.7l-1.8 20M313 1161.7l11 0.7M317.9 1153.9l-0.6 8.1M319.5 1162.1l-0.9 12.1M312.5 1168.9l6.5 0.3M319.1 1167.3l4.5 0.3M296.1 1172.6l27 2.1M296.2 1172.6l-1.8 20.5M295.6 1179.8l27 1.9M307.4 1173.4l-0.7 7.2M302.7 1173.1l-0.5 7.2M317.8 1174.1l-0.5 7.3M310.9 1173.6l-0.7 7.3M295.3 1184.7l27 2.4M301 1180.2l-0.3 5M306.4 1180.6l-0.3 5M311.8 1181l-0.3 5M317.2 1181.3l-0.3 5M305.8 1185.6l-0.4 8.2M301.8 1185.3l-0.5 8.2M315.6 1186.3l-0.4 8.2M311.5 1186l-0.7 8.2M294.7 1192.9l27 2.5M294.8 1193.1l-1.5 16.5M303.4 1193.7l-0.9 16.6M293.5 1209.2l8.9 0.7M294 1203l8.8 0.7M300.3 1193.5l-0.5 9.9M297.1 1203.2l-0.5 6.3M302.5 1207.7l18.2 1.6M312.4 1194.3l-0.9 14.1M306.6 1193.9l-0.9 14.1M303.2 1197.9l3.1 0.2M306.2 1198.8l5.8 0.4M316.5 1194.6l-1 14.1M312 1199.3l4.1 0.3M316 1201.5l5.2 0.3M311.4 1208.4l-0.1 2.1M307.1 1208.1l-0.2 2.1M315.7 1208.7l-0.3 4.3M337.9 1026.9l15.3 1.1M333.3 1028.7l-1.8 25.3M345.7 1027.4l-2.1 27.4M332.7 1037.4l12.2 0.7M337.5 1026.8l-0.6 10.9M341.6 1027.1l-0.9 10.8M338.7 1037.8l-0.7 16.6M332.2 1045l6.1 0.4M338.3 1045.7l6 0.4M345.1 1034.3l7.6 0.4M344.7 1041.1l7.5 0.6M344.2 1047.9l7.6 0.6M331.6 1054l19.7 1.3M331.5 1054l-1 17.4M331 1061.4l19.8 1.3M340 1054.5l-0.6 7.5M335.5 1054.2l-0.6 7.5M347.9 1055.1l-0.6 7.4M345.1 1054.9l-0.5 7.5M343.9 1062.3l-0.6 10M336.1 1061.8l-0.9 10M338.4 1061.9l-0.6 10.1M330.3 1071.4l19.7 1.6M330.3 1071.4l-0.9 16.7M343.9 1072.4l-0.8 16.7M335.6 1071.8l-1 16.7M329.6 1082.3l5.2 0.4M334.9 1082.5l8.4 0.5M339.7 1072.1l-0.9 10.6M338.8 1082.7l-0.4 6.1M343.3 1082.7l6 0.7M329.2 1088.1l19.7 1.5M329.1 1088.1l-1.7 26.8M328.7 1094.8l19.7 1.6M328.2 1101.6l19.8 1.1M327.8 1108.2l19.7 1.4M327.3 1114.9l19.7 1.4M327.3 1114.9l-1.4 20.9M326.8 1122.4l19.7 1.4M336.4 1115.5l-0.7 7.5M330.2 1115.1l-0.5 7.5M343.8 1116l-0.5 7.6M341.5 1115.9l-0.5 7.5M326.2 1131.2l19.7 1.5M337.4 1123.2l-0.5 8.8M330.2 1122.7l-0.6 8.8M333.1 1122.9l-0.5 8.8M341.8 1123.5l-0.7 8.8M337.3 1132l-0.3 4.6M329.9 1131.5l-0.3 4.5M333.2 1131.7l-0.3 4.6M341.3 1132.3l-0.3 4.5M325.8 1135.8l19.8 1.1M325.9 1135.8l-1.4 18.6M339.1 1136.7l-1.5 18.6M334.4 1136.4l-1.4 18.6M325.1 1147l8.5 0.7M330.4 1136.1l-0.9 11.2M329.9 1147.3l-0.4 7.5M338.3 1147.2l6.5 0.5M324.5 1154.4l19.7 1.6M324.5 1154.4l-1.1 20.1M324.1 1161.2l19.7 1.1M323.6 1167.7l19.7 1.9M323.1 1174.6l19.8 1M323.1 1174.5l-1.3 20.5M329.1 1174.9l-1.4 20.5M322.2 1187.9l6 0.4M322.5 1183.3l6 0.4M334.3 1175.3l-1.5 20.4M336.9 1175.5l-1.3 20.4M333.3 1188.8l2.7 0.2M333.7 1183.7l2.7 0.2M336.3 1184.8l5.9 0.4M321.7 1194.9l19.7 1.7M321.7 1195l-1.3 18.6M333.2 1195.8l-1.6 18.6M325.6 1195.2l-1.5 18.7M329.4 1195.5l-1.5 18.6M321 1205.3l3.8 0.2M320.6 1211l3.8 0.3M324.7 1206.9l3.8 0.2M328.7 1204.5l3.8 0.2M328.1 1213.5l3.8 0.2M332.5 1204.7l8.3 0.8M331.9 1213.7l8.3 0.6M357.2 1026.1l-0.1 2.1M360.7 1026.4l-0.2 2.1M365.1 1024.6l-0.2 4.2M369.1 1024.8l-0.2 4.2M372.8 1025.1l-0.2 4.2M376.7 1023.3l-0.4 6.3M353.2 1028l26.8 1.5M353 1027.9l-1.1 27.5M365 1028.8l-2.1 27.3M352.2 1041.8l11.8 0.9M359 1028.3l-1.3 13.9M352.7 1034.5l5.7 0.4M358.2 1037.6l6.1 0.5M360.1 1042.4l-0.8 13.5M355.8 1042.1l-1.4 13.5M351.7 1049.1l3.5 0.2M355.1 1050.8l4.5 0.3M359.6 1050.9l3.8 0.2M364.5 1035.5l15 1.4M364 1042.4l15.1 1.2M363.5 1049.3l15.1 1.2M351.3 1055.3l26.8 2.1M351.3 1055.3l-1.3 17.5M364.6 1056.3l-0.9 17.5M350.9 1060.8l13.4 0.5M360.3 1056l-0.3 5.4M359.2 1061.3l-1 12.1M354.7 1061l-1.1 12.1M350.4 1068l3.8 0.3M354.3 1066.3l4.5 0.3M358.8 1066.5l5.2 0.4M370.5 1056.7l-1.2 17.5M364.3 1061.6l5.8 0.5M364 1066.5l5.8 0.4M373.5 1056.9l-1.5 17.5M369.9 1065.4l3 0.2M372.8 1066.1l4.7 0.3M350.1 1072.9l26.8 1.4M350.1 1072.8l-1.4 16.7M368.3 1074.1l-1.1 16.7M361 1073.6l-1.2 16.7M355.9 1073.2l-1.6 16.7M349.7 1078.3l5.7 0.4M355.2 1081.9l5.2 0.4M360.7 1078.6l7.2 0.6M365 1073.9l-0.3 5M364.3 1078.9l-1 11.6M371.9 1074.3l-0.9 16.7M367.6 1083.9l3.7 0.3M371.3 1083.3l5 0.3M348.9 1089.4l26.8 2.3M348.8 1089.5l-1.6 26.8M347 1116.1l26.8 2.5M346.9 1116.3l-1 20.9M346.6 1122.7l26.8 1.9M357.8 1117l-0.6 6.4M352.8 1116.7l-0.4 6.4M367.8 1117.7l-0.4 6.5M364.7 1117.5l-0.4 6.4M345.6 1137.2l26.8 1.7M345.6 1137.2l-1.3 18.6M356.5 1137.9l-2.1 18.6M344.8 1148.4l10.7 0.7M352.7 1137.7l-1 11.2M350.3 1148.8l-0.7 7.4M355.7 1145.8l16.2 0.8M365 1138.5l-0.5 7.8M359 1138.1l-0.5 7.8M369.6 1138.8l-0.5 7.8M361.7 1146.1l-0.7 10.9M365.5 1146.4l-0.8 10.8M344.3 1155.7l26.8 2.4M344.3 1155.8l-1.4 20.1M355.8 1156.6l-1.6 20.1M343.6 1164.9l11.5 0.8M347.7 1156l-0.5 9.2M351.1 1156.3l-0.4 9.1M351.3 1165.4l-0.9 11M349 1165.3l-0.9 10.9M355.2 1164.7l15.3 1.3M366.3 1157.3l-0.4 8.2M361 1157l-0.6 8.1M361.2 1165.2l-0.9 11.9M364.8 1165.4l-1 11.9M342.9 1175.7l26.7 2.7M343 1175.9l-2 20.4M346.7 1176.1l-1.5 20.5M350.6 1176.4l-1.8 20.5M354.4 1176.7l-1.7 20.4M358.1 1176.9l-1 20.5M362.1 1177.2l-1.7 20.5M365.8 1177.5l-1.2 20.5M342.3 1183.1l3.9 0.3M341.9 1188.9l3.9 0.3M345.9 1186.8l3.9 0.2M350 1183.2l3.9 0.3M349.6 1190.1l3.8 0.2M353.9 1183.5l3.8 0.3M353.4 1190.3l3.8 0.3M357.5 1187.3l3.8 0.3M361.4 1185.8l3.8 0.3M365.2 1187.3l3.8 0.3M341.4 1196.3l26.8 2.1M341.3 1196.3l-0.9 18.7M340.3 1212.4l26.9 1.4M351 1197l-0.9 16M345.7 1196.6l-1.4 16M340.8 1205.3l4.2 0.3M345 1206.6l5.4 0.4M360.8 1197.7l-1 15.9M350.3 1207.8l9.7 0.7M354.4 1197.2l-1 10.8M354.7 1208.1l-0.4 5.2M352.4 1213.1l-0.5 4.4M346.6 1212.7l-0.3 4.4M360.2 1213.7l-0.2 4.4M355.4 1213.3l-0.2 4.4M380.4 1023.5l-0.5 6.3M380.4 1024.1l23.8 0.8M387.1 1021.9l-0.2 2.4M393.5 1022.4l-0.1 2.4M400.2 1020.4l-0.4 4.8M389.1 1024.5l-0.4 5.9M384 1024.1l-0.4 6M393.4 1024.8l-0.4 5.9M397.7 1025.1l-0.4 5.9M402 1025.4l-0.4 5.9M380 1029.7l25.9 2.3M380 1029.8l-1.9 27.4M392.7 1030.7l-1.9 27.4M378.9 1046l12.7 1.2M386.1 1030.2l-1.1 16.3M379.5 1036.9l6.1 0.4M385.5 1039.5l6.5 0.7M385.5 1046.5l-0.8 11.2M391.4 1048.7l13.3 0.7M397.3 1031l-1.3 18M392 1041.2l4.5 0.3M401.4 1031.3l-1.1 18M396.6 1040.8l4.2 0.3M400.9 1038.9l4.5 0.3M398.2 1049.1l-0.8 9.5M378.1 1057.2l25.9 1.8M378.1 1057.2l-1.1 17.5M392.2 1058.2l-1.7 17.4M377.3 1069.2l13.9 1.1M387.3 1057.9l-1.1 11.9M381.6 1057.5l-0.6 12M377.5 1065.5l3.6 0.3M381.1 1065.2l5.6 0.4M387 1061.7l4.8 0.3M386.7 1069.9l-0.4 5.5M380.7 1069.4l-0.3 5.5M395.9 1058.5l-0.6 17.5M400 1058.7l-1.1 17.5M391.4 1068.1l4 0.3M395.5 1065.8l4 0.3M399.7 1064.1l3.9 0.2M399.2 1070.4l4 0.2M376.9 1074.9l25.9 1M376.8 1074.7l-1 16.7M392.4 1075.8l-1.3 16.6M383 1075.1l-1.4 16.7M376.4 1081.8l6 0.5M382.2 1085.3l9.4 0.6M387.2 1075.4l-0.8 10.2M385.9 1085.6l-0.6 6.4M397.6 1076.1l-1.7 16.7M391.6 1085.8l5.2 0.4M396.9 1084.2l5.3 0.4M375.7 1091.3l25.9 2.1M375.7 1091.4l-1.6 26.8M379.5 1091.6l-2.1 26.8M383 1091.9l-1.3 26.8M386.9 1092.2l-2.2 26.7M390.5 1092.4l-1.9 26.8M394.1 1092.7l-1.3 26.8M398.1 1092.9l-2.6 26.8M373.9 1118l25.8 2.5M373.8 1118.1l-1.4 20.9M390.7 1119.3l-0.8 21M390 1132.4l8.8 0.7M390.4 1125.6l8.9 1M393.8 1119.5l-0.3 6.4M395.4 1126l-0.4 6.8M394.2 1132.7l-0.5 7.8M372.4 1139l25.9 1.9M372.3 1139l-1 18.7M380.9 1139.6l-1.2 18.7M371.8 1147.7l8.5 0.7M378 1139.4l-0.6 8.7M371.1 1157.7l25.9 1.6M371.1 1157.7l-1.4 20.1M370.6 1164.4l25.9 2.4M383.7 1158.5l-0.4 6.9M376.7 1158.1l-0.5 6.8M389.9 1159l-0.6 6.9M369.7 1177.9l25.9 1.3M369.7 1177.8l-1.5 20.4M373.4 1178l-1.7 20.5M377.1 1178.3l-1.5 20.4M380.9 1178.5l-1.9 20.5M384.3 1178.8l-0.7 20.5M388 1179l-0.6 16.4M391.9 1179.3l-0.8 10.2M368.2 1198.2l15.1 1.1M368.3 1198.2l-1.8 22.8M384 1199.3l-0.2 2.1M367.3 1211.5l9 0.5M367.6 1207.4l11.2 0.4M373.6 1198.6l-0.8 9M379.5 1199l-1.1 9M376.5 1207.9l-0.3 4.2M371.3 1207.5l-0.3 4.2M375.9 1212.1l-0.1 2.2M366.7 1220.4l4.3 0.3M371 1211.7l-0.7 8.9M406.2 1027.4l-0.3 4.2M405.9 1031.7l6.5 0.4M405.7 1031.6l-1.1 27.5M413.8 1034.3l-0.6 25.4M405.1 1043l8.2 0.8M408.5 1031.8l-0.5 11.5M404.7 1049.5l8.1 0.9M408.3 1043.3l-0.6 6.5M407.8 1049.8l-0.9 9.4M417.6 1036.7l-1.2 23.2M421.1 1041.2l-1.3 18.9M404 1059l19.6 1.5M404 1059l-1.2 17.5M410.5 1059.5l-1.6 17.4M403.5 1065.6l6.5 0.4M409.8 1068.3l13.1 1.3M416.5 1059.9l-0.5 8.9M416.1 1068.8l-0.6 8.6M402.8 1076.3l19.5 2.3M402.7 1076.5l-0.9 16.7M401.6 1093.1l19.6 1.8M401.7 1093.2l-2.2 26.7M409 1093.7l-2 26.8M400.7 1105.5l7.4 0.6M401.3 1097.9l7.4 0.4M405.6 1093.5l-0.3 4.7M405 1098.2l-0.4 7.6M400.2 1113.5l7.4 0.6M403.5 1105.7l-0.5 8.1M403.5 1113.8l-0.4 6.4M407.7 1111.7l12.2 0.9M408.6 1099.7l12.2 1M408.1 1105.7l12.3 0.8M414.7 1094.1l-0.5 6M416 1100.2l-0.2 6M412.8 1100l-0.4 6M412.1 1106l-0.4 6M416.2 1112.3l-0.5 8.8M410.9 1111.9l-0.3 8.8M399.7 1120l19.6 1.3M399.7 1120l-1.5 20.8M403.5 1120.2l-0.8 20.9M407.4 1120.5l-0.7 20.9M411.4 1120.8l-1.2 20.9M415.5 1121.1l-2 20.8M399.2 1126.9l4 0.3M398.8 1133.9l3.9 0.3M407.1 1127.5l3.9 0.2M406.6 1134.4l3.9 0.3M410.7 1131.6l3.9 0.2M414.7 1131.7l3.9 0.3M398.3 1141l19.6 0.7M398.3 1140.8l-1.4 18.7M409.6 1141.6l-1 18.7M406.3 1141.4l-1.4 18.6M402.6 1141.1l-1.1 18.7M397.7 1148.3l4.4 0.3M401.8 1154l3.5 0.3M402.3 1146.8l3.6 0.2M405.8 1147.6l3.4 0.2M405.4 1153.8l3.4 0.3M414.1 1141.9l-1 16.6M409.2 1148.7l4.5 0.3M413.7 1148.3l3.7 0.2M397 1159.3l15.2 1.7M397.1 1159.5l-1.8 20M396.1 1171.5l6.5 0.7M410.2 1160.4l-0.1 2M406.2 1160.1l-0.7 10.2M401.1 1159.8l-1 12.2M396.5 1165.8l4.2 0.3M400.8 1164.7l5 0.3M395.6 1179.5l2.1 0.2M395.5 1179.6l-0.2 4.1M424.8 1043.5l-1.1 16.9M430.4 1050.3l-0.8 10.5M424.1 1052.3l6.1 0.6M430.2 1052.8l2.1 0.1M423.6 1060.4l8.1 0.5M423.6 1060.4l-1.1 17.5M434.2 1067.7l-0.6 11M429.8 1060.8l-0.9 17.5M423.1 1067l6.3 0.4M429.1 1072.5l4.7 0.3M422.4 1077.9l12.1 0.8M422.4 1077.9l-1.4 16.6M421.9 1084.5l14.2 1M430.2 1078.4l-0.2 6.7M427.7 1078.2l-0.6 6.7M436 1081.1l-0.1 4.4M428 1084.9l-0.8 10.1M434.1 1085.4l-0.7 10M421.2 1094.8l16.3 0.5M421.2 1094.6l-1.9 26.7M429.3 1095.1l-1.9 26.8M437.4 1095.7l-1.3 20.6M419.3 1121.3l14.2 1.1M419.4 1121.3l-1.8 20.9M417.9 1142l4 0.4M417.9 1142.2l-0.9 10.4" stroke="#f0e4d8" stroke-opacity="0.74"/><path d="M69.6 1075.5l8.3 2.2M63.2 1083.6l12.5 2.7M65.7 1091.2l8.3 2M100.7 1040.2l-1.1 4M98.7 1044l5.8 1.4M93.3 1048.9l9.7 2.5M97.3 1043.6l-1.4 5.9M90.7 1050.5l-1.5 6.6M96.4 1049.6l-1.7 8.8M87.3 1056.6l13.6 3.4M81.9 1061.6l-4 15.9M93.9 1058.2l-5.4 21.9M81.6 1062.6l10.5 2.7M89.5 1057.1l-1.7 7.1M79.1 1072.9l10.5 2.5M85.7 1063.7l-2.6 10.1M84 1070.6l6.4 1.8M84.1 1074.1l-1.1 4.7M92.1 1065.5l6.9 2M90.6 1071.6l7 1.7M77.9 1077.5l17.5 4.5M78 1077.5l-4.1 15.8M85 1079.3l-4.1 15.7M76.6 1083l7.1 1.5M75.1 1088.8l7 2M74 1093.2l17.4 4.8M74 1093.3l-1.6 6.3M75.8 1102.6l13.6 3.3M84.1 1095.8l-1.9 8.4M79.8 1094.7l-2 8.4M80.9 1103.8l-1 4.3M82 1110.7l5.9 1.4M65.8 1149.6l-1.1 4.1M73.8 1143.7l5.9 1.3M68.5 1148.6l9.7 2.3M65.1 1153.7l11.7 2.7M63.5 1168.4l9.8 2.1M66.7 1154.2l-3.3 12.2M71.5 1155.4l-3.5 14.3M65.4 1158.9l4.9 1.2M69.9 1161.9l5.3 1.3M63.5 1168.6l-0.5 2.1M69.6 1170.1l-2.2 8.3M63.3 1177.4l7.8 2M61.3 1202l3.9 0.9M61.6 1208.1l2.2 0.6M131.8 1026.7l2 0.4M122.7 1030.5l9.7 2.3M106.4 1037.3l-2.1 8.1M118.2 1033.8l-3.7 14.1M106 1039.3l10.2 2.6M111.3 1035.5l6.1 1.4M111.3 1035.6l-1.1 4.7M110.4 1040.4l-1.6 6.1M117.7 1035.8l13.1 3.4M116.2 1041.9l13.1 3.4M124 1031l-1.5 6.1M122.6 1043.5l-1.6 6M104.5 1045.5l23.4 5.4M104.5 1045.4l-3.5 14.6M118.5 1048.9l-3.9 14.5M111.5 1047.2l-4.2 14.4M102.4 1053.7l6.9 1.7M109.7 1053.8l7.1 1.7M117.3 1053.8l9.3 2.3M116.1 1058.6l9.2 2.5M100.9 1059.9l23.2 6.2M100.9 1060l-5.5 21.9M110.6 1062.4l-5.8 21.8M97.7 1072.8l9.7 2.4M106.6 1061.4l-3.5 12.7M105.4 1066l4 1M103.8 1074.3l-2.1 9.1M117.4 1064.1l-5.1 22M108.3 1071.7l6.9 1.6M106.5 1078.7l6.9 1.8M115.8 1071.1l6.7 1.5M114.3 1077.1l6.6 1.7M95.5 1081.7l23.1 6.5M95.4 1081.9l-3.9 15.7M110.8 1085.7l-4.2 15.7M100.5 1083.1l-3.9 15.8M105.6 1084.4l-3.9 15.8M93.6 1089.2l5.1 1.3M98.9 1089.8l5.1 1.3M104.2 1090.2l5.1 1.3M103.4 1093.5l5.1 1.2M108.5 1094.8l8 1.9M91.5 1097.6l23.3 5.9M91.5 1097.6l-3.6 14.7M87.9 1112.2l23.2 6.1M87.9 1112.3l-1 3.9M99.3 1115.2l-5.2 21.7M86.8 1116.7l11.4 3M94.4 1113.9l-1.1 4.4M92.6 1118.2l-1 4.2M88.3 1133.1l-0.6 2.2M98 1120.6l11.8 2.9M96.6 1126l11.9 2.8M95.3 1131.3l11.7 3.3M86.3 1134.9l19.5 4.4M81.4 1138.1l-4.3 18.7M87.2 1135.1l-6 22.7M91.9 1136.3l-6.3 22.6M96.3 1137.4l-5.2 22.8M101.1 1138.6l-5.7 22.7M76.8 1156.7l23.3 5.8M76.9 1156.7l-6.3 22.5M75.4 1162.4l23.3 5.6M74 1168l23.2 6M72.6 1173.5l23.1 6.5M71.2 1179.1l23 7M71.1 1179.3l-5.8 23.9M79.9 1181.5l-5.4 24M67.4 1194.4l8.9 2.1M69.9 1184.3l8.9 2.3M68.6 1189.3l8.9 2.5M76.1 1180.6l-1.2 5M71.7 1190.2l-1.2 5M73.5 1195.9l-2.2 8.8M76.6 1195.2l14.4 3.7M88.9 1183.8l-3.4 13.6M78.3 1188.5l8.9 2.1M85.7 1183l-1.7 6.9M81.6 1189.3l-1.7 6.7M87.6 1189.1l5.5 1.3M75.1 1201.2l14.4 3.6M82.4 1196.7l-1.5 6M83.9 1203.4l-1 4.2M81.1 1202.7l-1.1 4.2M65.2 1203.2l23.3 5.6M65.2 1203.2l-4.2 16.4M69.9 1204.3l-4.4 16.5M74.6 1205.5l-4.4 16.4M79.3 1206.7l-4.1 14.3M83.7 1207.8l-3.1 14.5M61.1 1219.7l11.6 2.8M61.1 1219.7l-0.6 2.2M133.6 1026.7l-1.8 6.3M141.8 1022.8l12.9 3.2M145.6 1021.4l-0.5 2.2M150.9 1020.3l-1.2 4.5M142.6 1023l-3.3 11.8M133.2 1029.5l7.3 1.9M149.2 1024.6l-2.9 12M140.7 1030.6l6.6 1.7M147.2 1032.7l5.5 1.4M132.3 1033.1l19.4 4.8M132.3 1033.1l-4.3 18.2M130.7 1039.6l19.2 5.4M137.2 1034.3l-1.8 6.6M142.1 1035.5l-1.9 6.6M146.9 1036.7l-1.8 6.6M138.1 1041.6l-2.7 11.5M129.1 1046l7.5 1.8M144.2 1043.1l-2.7 11.6M143 1048l5.8 1.5M127.8 1051.4l19.5 4.1M127.8 1051.2l-3.7 14.6M137.1 1053.6l-3.7 14.5M126.6 1056.1l9.3 2.4M125.4 1060.9l9.3 2.3M133.8 1052.7l-1.2 4.9M130.1 1057l-1.2 4.8M128.9 1061.8l-1.2 4.9M141 1054.5l-3.6 14.6M134.9 1062.5l3.8 1M124.2 1065.8l19.3 4.8M124.1 1065.8l-5.2 21.9M129 1067l-5.4 21.9M133.8 1068.2l-5.2 21.9M138.7 1069.4l-5.5 21.9M127.7 1072.5l4.8 1.2M126.3 1077.9l4.8 1.3M124.9 1083.4l4.9 1.2M130.1 1083.3l4.8 1.2M131.5 1077.6l4.9 1.2M136.4 1078.6l4.8 1.2M134.9 1084.6l4.9 1.2M118.7 1087.6l19.3 5.2M118.7 1087.7l-3.8 15.8M126.2 1089.6l-3.7 15.8M117.4 1092.9l7.5 2M116.1 1098.2l7.6 1.8M132.5 1091.1l-3.8 15.8M124 1098.6l6.3 1.4M130.6 1098.6l5.6 1.4M114.8 1103.5l19.4 4.7M114.7 1103.4l-3.3 14.8M113.4 1108.9l19.3 5.2M124.6 1105.9l-1.4 5.5M128.5 1106.9l-1.4 5.5M123.2 1111.4l-2.4 9.1M118.5 1110.2l-2.4 9.1M128.6 1112.8l-2.3 9.1M111.1 1118.1l19.4 5M111 1118.1l-4.7 21.8M119.6 1120.2l-5.2 21.7M109.8 1123.6l8.5 1.8M108.4 1129l8.6 1.9M107.1 1134.3l8.5 2.2M105.7 1139.9l19.5 4.3M105.9 1139.8l-6.3 22.6M110.4 1140.9l-5.1 22.9M115.4 1142.2l-5.5 22.7M120 1143.3l-4.6 23M102.6 1152.3l4.9 1.2M104.5 1144.7l4.8 1.2M101 1158.6l4.9 1.2M108.8 1147.9l4.9 1.2M106.1 1158.7l4.9 1.2M107.1 1154.9l4.9 1.2M111.8 1156.6l4.9 1.2M114.3 1146.7l4.8 1.2M113.1 1151.4l4.9 1.2M117.1 1156.1l4.8 1.2M118.6 1150l4.8 1.2M115.6 1161.9l4.9 1.2M100.1 1162.4l19.2 5.3M100.1 1162.5l-5.7 22.6M111.2 1165.2l-5.8 22.7M96.9 1175.3l11.1 2.6M95.5 1180.8l11.1 2.7M103.1 1176.8l-1.4 5.6M99.5 1181.8l-1.1 4.3M108.8 1174.4l8.4 2.1M106.8 1182.8l8.3 2.1M94.4 1185.1l19.4 5M94.5 1185.2l-6.3 23.7M92.9 1191.2l19.5 4.4M91.5 1196.9l19.2 5.4M90 1203l19.3 5M88.5 1209l19.4 4.6M88.4 1208.9l-2.9 12.5M86.4 1217.2l19.4 4.8M93.3 1210.2l-2 8.2M98.1 1211.4l-1.9 8.2M103 1212.6l-2 8.2M97.8 1220l-0.5 2.1M90.5 1218.2l-1 4.2M166.4 1012.7l-1.1 4.1M173.1 1010.1l-2.1 8.1M169.6 1012l2.8 0.7M175.5 1009l3.9 1M159.4 1015.3l19.6 4.9M156.9 1016.9l-5.2 21M168.8 1017.6l-5.7 23.1M151.7 1037.8l21.5 5.7M151.8 1037.9l-4.9 18.1M147.2 1056.2l21.6 4.9M147.2 1056.1l-3.8 14.5M143.5 1070.7l21.6 5.1M143.6 1070.6l-5.8 21.8M141.7 1077.9l21.6 5.4M139.9 1085.2l21.5 5.5M138 1092.7l21.8 4.5M138.1 1092.5l-4 15.8M149.1 1095.3l-4.5 15.6M136.6 1098.4l10.9 2.8M144.4 1094.1l-1.5 5.9M135 1104.8l10.9 2.7M143.9 1100.3l-1.4 6.4M141 1106.3l-0.9 3.5M146.4 1105.4l10.7 2.7M156.3 1097.1l-2.4 10.2M148.2 1098.4l7.4 1.6M155.2 1101.6l3.3 0.9M150 1106.3l-1.4 5.6M134.2 1108.2l21.4 5.7M134.1 1108.3l-3.4 14.7M132.1 1116.4l21.4 6M146.2 1111.3l-2.3 8.2M140.4 1109.8l-2.2 8.3M150.6 1112.4l-2.2 8.2M143.1 1119.3l-1.6 6.4M137.8 1118l-1.7 6.3M149.3 1120.8l-1.6 6.4M130.5 1123l21.6 5.2M130.5 1122.9l-5.6 21.6M143.9 1126.3l-4.9 21.8M128.1 1132.5l13.6 3M136.4 1134.4l-3.1 12.2M126.2 1140.2l8.3 1.9M135 1140.1l5.3 1.3M141.9 1134.8l8 1.9M140.2 1141.7l8 1.9M125.1 1144.5l21.5 5.6M125.1 1144.6l-5.7 22.7M135.3 1147.1l-5.8 22.7M129.1 1145.6l-6.4 22.5M126.8 1154.2l6.3 1.5M125.4 1159.7l6.3 1.7M131.4 1162.5l11.4 2.9M139.8 1148.2l-4 15.4M132.8 1157.2l4.4 1.1M134 1152.1l4.5 1.1M137.9 1155.8l6.8 1.9M138 1164.2l-1.9 7.3M119.4 1167.3l21.6 5.3M119.4 1167.3l-5.4 22.7M132.9 1170.7l-5.3 22.7M115.9 1181.6l13.5 3.4M124 1168.4l-3.8 14.3M117.7 1174.4l4.5 1.2M122.6 1173.8l9 2.4M129.7 1169.9l-1.3 5.4M127.3 1175l-2.4 8.9M120 1182.7l-2.1 8.3M123.5 1183.5l-2.3 8.3M129.7 1183.8l8 2M131.4 1177l8 1.9M113.8 1189.9l21.5 5.7M114 1190l-6.8 23.6M111 1201.3l21.3 6M121 1191.8l-2.9 11.5M128.2 1193.6l-3.1 11.4M122.2 1204.3l-3 12.3M125.6 1205.1l-3.3 12.3M120.5 1211.4l3.3 0.8M123.9 1211.9l6.9 1.7M107.8 1213.8l21.6 5.3M107.8 1213.8l-1.9 8.3M115 1215.6l-1.8 8.3M105.8 1222.2l7.2 1.9M123.9 1217.8l-1.6 6.2M118.2 1216.4l-1.6 6.2M179.5 1016.1l-1.2 3.9M179 1020.2l-5.9 23.1M176.2 1031.6l1.9 0.5M177.8 1025.1l1.9 0.5M179.6 1040.7l-0.9 3.9M174.2 1039.3l5.5 1.3M173.2 1043.3l5.9 1.4M173.3 1043.3l-4.7 18.1M171.2 1051.3l7.8 1.9M179.2 1044.8l-2 8M179.4 1057.7l-1.3 6.1M169.8 1056.9l9.2 2.3M174.4 1052.1l-1.4 5.6M173.7 1057.9l-1.1 4.5M168.7 1061.4l9.7 2.5M168.8 1061.5l-3.9 14.4M165.1 1076l13.6 3.3M165 1076l-5.1 22M159.6 1097.8l15.5 4.2M159.7 1097.9l-4.2 15.7M157.6 1106l15.5 4.1M167.5 1099.8l-1.9 8.3M167 1108.4l-1.7 7.6M160.9 1106.9l-2 7.6M155.7 1113.6l15.5 4M155.7 1113.7l-3.7 14.6M165 1116l-3.7 14.6M153.8 1121.2l9.3 2.3M160.9 1115l-2 7.5M159.4 1122.6l-2.1 7M163.8 1120.9l6.2 1.5M162.6 1125.7l6.2 1.6M152 1128.4l15.6 3.5M152.2 1128.4l-6.1 21.4M148.8 1141.4l15.5 4M160 1130.3l-3.3 13.1M150 1136.5l7.9 2.1M158.5 1136.3l7.6 1.7M154 1142.7l-2.4 8.5M159.1 1144l-2.1 8.5M146.6 1150l15.6 3.7M146.6 1149.9l-5.4 22.8M143.2 1163.9l15.7 3M156.1 1152.3l-3.9 13.6M145.4 1154.8l9.4 2.2M152.3 1151.4l-1.2 4.7M150.5 1156l-2.2 9M153.7 1161.6l6.1 1.6M152.5 1166l-2.5 8.9M147.2 1164.7l-2.1 9M141 1172.7l15.6 3.6M141 1172.7l-5.6 22.7M135.3 1195.4l15.6 3.8M135.3 1195.3l-5.8 23.9M129.4 1219.1l15.5 4M129.4 1219.2l-1 4.1M138.7 1221.5l-1 4.1M135.2 1220.6l-1 4.1M179.1 1085.8l-3.7 16M176.2 1097.7l2.3 0.6M175.2 1101.7l3.9 1M175.1 1101.7l-3.8 15.9M173.1 1110l5.8 1.5M179 1107.1l-1.2 4.1M178.7 1116.7l-0.6 2.5M171.2 1117.6l5.9 1.4M171.3 1117.5l-3.9 14.6M169.4 1124.9l7.8 1.8M178.2 1119.3l-1.8 7.3M177.2 1126.8l-1.9 7.3M167.6 1132.2l9.7 2.3M167.5 1132.2l-5.2 21.7M165.9 1138.8l11.7 3.1M178.7 1139.7l-0.6 2.2M175.8 1134.2l-1.8 6.7M164.6 1144.1l13.7 3M170.8 1140.1l-1.3 5.1M175.6 1141.3l-1.2 5.1M170.5 1145.5l-2.5 9.8M163.7 1147.7l5.9 1.4M176.8 1147l-2.3 9.9M169 1151.4l6.3 1.5M175.4 1152.7l2.4 0.6M162.2 1153.9l15.6 3.7M162.2 1153.8l-5.8 22.7M174.7 1156.9l-5.9 22.7M160.3 1161.5l12.5 2.7M158.4 1168.9l12.4 3.4M172.8 1164.5l4.7 1.1M170.9 1172.1l7 1.7M156.5 1176.5l19.4 5.2M156.5 1176.5l-5.5 22.8M166.1 1178.9l-5.3 22.8M161.1 1177.7l-5.9 22.6M157.2 1193.2l5.1 1.2M158.3 1188.5l5.1 1.3M160.1 1181.3l5.1 1.3M163.6 1189l9.9 2.4M171.3 1180.2l-2.7 10M165 1183.6l5.1 1.2M169.7 1186.2l4.8 1.2M162.4 1194.1l9.8 2.5M169.2 1190.4l-1.2 5.1M167 1195.3l-1.9 7.5M150.8 1199.3l19.6 4.5M151 1199.3l-6.4 23.6M149.4 1205.2l19.4 4.9M147.9 1211.1l19.4 5.1M146.4 1217l19.4 5.2M162.2 1202.1l-1.5 5.9M155.6 1206.7l-1.3 6M160 1207.8l-1.5 6M162.7 1208.5l-1.5 6M161.3 1214.5l-1.5 5.9M155.5 1213l-1.7 5.9M155.2 1219.3l-1.7 5.9M161 1220.7l-1.4 6M144.9 1223.1l19.5 4.7M145 1223.1l-0.5 2M151.3 1224.6l-0.5 2M178.5 1171.1l-2.8 10.2M176 1181.4l2.1 0.5M175.9 1181.4l-5.3 22.8M173.5 1191.3l4.1 1M174.7 1186.5l2.4 0.5M171.9 1198l6.1 1.4M178.2 1194.8l-1.1 4.4M170.3 1204.2l6.2 1.4M170.4 1204.1l-6.1 23.8M174.3 1205.1l-5.9 23.8M166.4 1219.8l4 1M168.6 1211.2l4 1M172.5 1212.4l4.4 1.2M169.7 1223.8l6.6 1.4M171.6 1216.1l4.4 1.1M175.4 1213.2l-0.9 3.6M175 1216.9l-2 7.7M175.4 1225.2l-0.6 2.6M164.4 1227.8l4.1 1.1" stroke="#c4d6cc" stroke-opacity="0.85"/><path d="M250.4 980.1l-1.4 5.9M254.4 975.8l2.9 0.7M253.6 979.1l2.9 0.7M246.4 985.2l8.3 2M247.4 985.7l-4.9 18.8M246.2 990.3l7.2 1.9M245 995.1l7.2 1.8M243.8 999.8l7.3 1.7M243.7 1004.7l6.2 1.5M241.9 1011.8l6.3 1.5M244.7 1005l-1.9 7.2M274.8 965.2l-1.5 6M272.6 966.2l2 0.5M268.7 967.5l-0.6 2.4M274.8 966l8.4 2.4M263.6 968.8l18.4 4.4M258.5 971.7l-3.9 15.8M258.3 972.7l22.5 5.4M257.1 977.6l22.4 5.7M255.9 982.5l22.4 5.9M254.6 987.4l22.5 5.7M254.5 987.4l-4.2 19M266.4 990.4l-4.2 19M253.2 993.1l11.8 3.2M251.8 998.8l11.9 2.7M260 994.8l-1.4 5.6M259.4 1000.6l-1.9 7.6M263.5 1002.1l10.7 2.7M271.7 991.7l-2.7 11.8M265.1 996l5.3 1.3M269.8 999.9l5.3 1.3M269.5 1003.6l-1.8 7.2M249.9 1006.3l22.4 5.8M249.8 1006.3l-3.6 15.9M284.6 963.4l-2.3 10M282 973.4l17.3 4.1M282 973.4l-4.9 19.7M293 976.1l-4.8 19.7M291.3 982.7l6.3 1.5M289.7 989.2l6.3 1.6M277.1 993l17.2 4.4M277.1 993l-4.6 19M275.1 1000.9l17.3 4.3M287.3 995.6l-1.9 7.8M284 994.8l-2.1 7.8M283.3 1002.9l-2.9 11M274.3 1004.3l8.1 1.9M281.6 1009.6l9.1 2.2M288.4 1004.2l-1.5 6.7M286.4 1010.7l-1.1 4.4M272.4 1011.9l17.2 4.5M272.5 1012l-2.7 9.8M270.5 1019.7l15 4.1M279.6 1013.7l-2.1 7.8M284.7 1015l-2 7.8M276.2 1021.2l-0.6 2.3M319.8 954.7l-0.6 2.5M315.7 956.3l10.4 2.6M303.7 959.7l-4.5 18M299.3 977.5l20.7 6.1M299.3 977.7l-5.2 19.6M307.1 979.6l-4.5 19.8M297 986.6l7.9 1.9M297.8 983.4l7.9 2.1M295.9 991.2l7.9 1.9M303.9 992.7l13 3.1M311.5 980.7l-3.4 13M305.5 986.3l4.3 1M309.5 988.5l8.6 2.3M307.9 993.7l-1.7 6.6M313.5 995.1l-1.7 6.6M294.3 997.3l20.9 5.4M294.3 997.4l-4.6 18.8M307.6 1000.7l-4.7 18.8M305.6 1008.7l7.6 2M303.8 1015.8l7.6 1.9M289.6 1016.2l20.9 5.4M289.6 1016.2l-1.9 7.9M288.4 1021l16.8 4.1M327.6 953.1l-1.5 5.9M335 955l-1.7 5.8M327.2 954.6l7.6 2.1M335.4 954.5l4.4 1.1M340.1 955.7l-1.6 6.3M326.1 958.9l23.1 6M326.2 959l-6.3 23.8M324.1 966.8l23.1 6.2M322.1 974.9l23.2 5.9M320.1 982.9l23.3 5.5M320.1 982.9l-4.7 19.7M333.2 986.1l-4.7 19.8M316.9 996l13.1 3.3M321 997l-1.7 6.6M323.9 997.7l-1.8 6.6M331.2 994.2l10.1 2.4M337.9 987.3l-2 8M330.1 998.6l10.1 2.4M335.3 995.2l-1.1 4.4M334.2 999.6l-2 7.2M315.2 1002.6l23.2 5.7M315.1 1002.5l-4.3 19M331.3 1006.6l-5.3 18.7M312.5 1013.3l16 4M319.3 1015l-2.1 8.1M322.6 1015.8l-1.8 8.2M328.3 1017.9l7.3 1.6M329.8 1012l7.2 1.9M310.5 1021.4l16.9 4.3M310.6 1021.5l-0.5 1.9M350.3 960.9l-0.9 3.9M355.1 962l-0.9 3.9M359.6 963.2l-1 3.9M363.6 966.2l-0.5 2M368 967.3l-0.5 2M349.3 964.7l23.3 5.9M349.3 964.7l-6 24M346.5 975.9l23.5 5.3M348.3 968.8l23.4 5.4M356.6 966.6l-1 3.9M367.4 969.3l-1 3.9M361.2 967.7l-1 4M356.1 970.6l-1.8 7.1M363.8 972.6l-1.5 7.1M354.5 977.7l-2.8 13.1M345.5 979.8l8.1 2M344.7 983.2l8 2.1M359.7 979l-3.3 12.9M364.8 980.3l-3.1 13M352.9 984.6l5.1 1.3M357.5 987.8l5.1 1.3M358.4 984.4l5.1 1.3M363.4 986l5.1 1.3M343.3 988.7l23.5 5.5M343.5 988.7l-5.7 19.5M355.4 991.7l-4.7 19.7M341.7 995.3l12.2 2.9M349.4 990.2l-1.7 6.6M340.1 1001.8l12.1 3.2M347.4 996.7l-1.7 6.5M345.2 1003.1l-1.8 6.5M354.3 996.6l11.2 2.8M353 1001.6l11.3 2.6M351.8 1006.5l11.2 2.8M361.8 993.3l-1.2 4.9M358.2 997.6l-1.2 4.9M357.1 1002.5l-1.3 5M357.6 1007.9l-1.2 4.9M338.4 1008.4l23.4 5.6M338.4 1008.4l-4.3 16.7M350.4 1011.3l-3.5 14.8M336.6 1015.5l12.1 2.8M346.4 1010.3l-1.8 7.2M341 1016.6l-2.5 9.7M335.1 1021.7l4.3 1.1M339.7 1021.5l7.8 1.9M358 1013.2l-2.5 10.6M347.9 1021.7l7.5 2.2M349.6 1014.7l7.6 2M355.7 1022.7l3.7 1M356.9 1018l3.7 1M372.9 968.6l-0.5 1.9M372.6 970.6l12.4 2.9M372.7 970.6l-6.1 23.9M370.2 980.4l16.3 4.4M371.3 976.1l16.4 3.8M378.4 972l-1.4 5.5M385.2 973.7l-1.3 5.5M381.6 978.6l-1.1 4.5M376.2 977.2l-1.1 4.5M381.6 983.3l-3.5 14M368.9 985.5l11.3 3.2M375.8 981.9l-1.2 5.1M372.4 986.5l-2.2 8.9M367.4 991.6l3.5 0.9M379.6 991.3l5 1.3M366.7 994.4l16.3 4.4M366.7 994.5l-5.1 19.6M361.8 1014.1l16.3 4.3M361.9 1014.2l-2.9 10.4M388 978.6l-5 19.9M386.9 983l4.2 1M397.7 996l-1.4 5.9M385 990.8l10.9 3.1M393.4 988.8l-0.9 3.9M390.2 992.2l-1.8 7.7M383 998.6l14.7 3.5M383.2 998.6l-5.6 19.5M395.5 1001.7l-4.3 17.7M392.9 1012.5l2.1 0.5M394.6 1005.6l2.1 0.5M392.1 1015.6l2.1 0.5M378.2 1018.1l8.3 2.4M378.1 1018.3l-0.5 2" stroke="#dcdccc" stroke-opacity="0.8"/><path d="M415.7 995.9l1.9 0.8M464.4 958.7l3.9 1.5M448.2 979.2l11.6 4.5M440.5 988.3l15.5 5.7M451 980l-3.8 10.7M417.8 996.1l33 12.3M417.7 996.2l-10.4 29.9M407 1025.8l32.9 12.6M418.7 1030.2l-1.3 3.8M474.7 942.9l-6.1 17M474.3 943.7l8 2.7M487.3 962.1l-1.4 4.1M481.8 946.3l-5.3 16.5M468.5 959.7l21.7 8.4M468.5 959.9l-9 23.2M464.6 970.5l27.8 10M486.7 966.5l-3.8 10.6M481.2 964.5l-3.9 10.6M481 976.4l-4.7 12.8M486.4 978.4l-4.4 12.9M459.9 983.2l33.8 12.3M459.9 983.2l-9.1 25M479.6 990.4l-8.9 25M473.6 1007l14.1 5.1M450.9 1008.1l33.6 12.7M450.7 1008.2l-10.3 29.9M439.9 1038.1l34.1 11.7M440.2 1038l-6.6 16.9M455 1043.4l-12.2 31.9M436.3 1072.9l26 9M449.3 1077.7l-9.4 25.8M439.2 1074l-2.8 8M438.8 1087.7l6.1 2.1M445.1 1089.3l12.6 5.2M440.7 1110.2l10 3.4M440.5 1110.5l-7.7 22.5M430.5 1132.1l12 4.3M422.6 1145.1l-1.4 4M428.5 1156.2l6 2.1M496.3 989.8l-1.9 6M493.7 995.7l4 1.3M493.9 995.6l-9.8 24.7M484.7 1020.4l33.3 12.8M484.6 1020.5l-10.5 29.9M504 1027.6l-10.7 29.8M479.1 1035.8l19.4 6.9M485.2 1038l-5 14.6M473.8 1050.4l33.7 11.8M473.7 1050.2l-11.3 32.2M462.1 1082.4l33.6 12.2M462.2 1082.4l-11.8 31.6M457.2 1096l33.4 12.6M472.8 1086.2l-5.2 13.7M488.3 1091.9l-4.9 13.7M469.9 1100.7l-6.1 18.2M479.5 1104.2l-6.4 18.1M450.5 1114.2l31.8 11.2M450.5 1114.1l-7.8 22.5M466 1119.7l-7.8 22.5M476.3 1123.5l-3.5 10.2M442.5 1136.4l19.7 7.3M442.5 1136.5l-8.2 21.9M434.4 1158.5l7.9 2.8M441.1 1160.9l-1.3 3.8M523.7 1017.3l-6.1 15.2M530.9 1022.1l-5.1 13.4M540 1027.6l-4.5 11.4M518.2 1032.7l26.2 9.7M518.2 1032.7l-10.8 29.8M513.5 1045.6l26.2 9.9M532.7 1038l-4.7 13M527.5 1050.8l-6.1 16.8M507.4 1062.5l26.2 9.7M507.7 1062.6l-12.9 31.6M503.8 1072.3l26.4 9.3M525.1 1068.9l-3.7 9.8M519.6 1066.9l-3.3 9.9M517.6 1077.3l-8.1 22.3M495.8 1094.4l26 10.3M495.6 1094.6l-9.8 27.8M488.5 1114.5l4 1.5M508.8 1099.3l-2.9 8M548 1032.7l-3.6 9.6M544.5 1042.3l34.5 12.6M544.5 1042.3l-10.7 29.8M537.5 1061.7l34.3 12.9M562.4 1048.8l-7.3 19.4M553.4 1045.5l-7.3 19.4M533.7 1072.1l34.5 12.5M533.7 1072.1l-11.9 32M522 1104.1l1.9 0.7M583.8 1041.4l-5.2 13.3M594.3 1040.8l-6.8 17.2M604.8 1040.3l-7.8 21.1M583.6 1042.4l9 3.1M592.5 1045.8l9.2 3M579.1 1054.7l26.9 10.5M579.1 1054.9l-11.3 29.6M568.2 1084.5l19.3 7.3M568.4 1084.7l-4.4 11.2M617.2 1040.5l1.9 0.7M614.5 1041.6l-8.1 23.3M612.4 1047.6l5.7 2M606.2 1064.7l7.8 2.9M606.1 1064.7l-9.2 25.9M514.5 861.2l2.1 1M509.6 866.5l4.2 1.8M505.2 872.3l5.7 2.6M489.5 897.2l9.5 4.4M493.2 898.7l-10.3 21.9M488 903l2.7 1.2M485.6 908.5l2.6 1.2M487.1 912.2l6.1 2.4M489.7 906.3l6 2.7M483.6 920.9l5.7 2.6M484.3 921.2l-2.5 6M481.9 926.8l4.9 2.2M482.1 933l2.5 1.1M544.1 846.6l9.4 4.4M550.8 844.7l-1.6 3.9M534 848.5l-2.5 5.5M525.9 851.6l23 9.7M518.6 857.4l-8 17M515.4 864.9l26.8 11.5M528.7 852.8l-6.5 15.1M535.4 855.8l-6.7 14.9M542.1 858.7l-6.7 15M526.9 869.9l-4.2 9.9M521.7 867.6l-4.5 9.7M533.8 873l-4.2 9.8M511 874.6l26.8 11.7M511 874.5l-11.6 26.9M504.6 889l26.6 12.2M517.6 877.5l-6 14.7M524.4 880.5l-6.5 14.4M531.1 883.5l-6.5 14.4M522.1 885.8l6.6 3M527 892.6l6.7 3M501.7 895.6l26.9 11.3M511.3 892l-2.8 6.5M518 895l-2.9 6.4M524.6 897.9l-2.9 6.5M511.7 899.9l-2.7 5.8M517.3 902.4l-2.6 5.8M522.9 904.9l-2.7 5.8M499.1 901.4l26.8 11.6M499.2 901.3l-10 22.1M508.6 905.5l-10.5 21.9M493.9 913.1l9.4 4M489.3 923.5l26.8 11.5M489.2 923.4l-6.7 15.6M487.7 957.9l15 7.2M569.9 839.5l18.7 8.4M557.1 842.9l-8.6 18.7M548.8 861.7l28 12.6M548.6 861.6l-10.5 25M541.9 877.2l27.9 12.8M545.7 868.6l28 12.6M563.5 868.3l-3.1 6.9M555.5 864.7l-3 7M570 871.2l-3 7M561.6 875.8l-3.8 8.5M552.7 871.8l-4 8.5M566.2 877.8l-3.9 8.5M555.4 883.3l-4.1 9.2M548.1 880l-4.1 9.2M563.2 886.7l-4 9.3M537.7 886.6l28.3 12M537.8 886.5l-12.1 26.6M525.9 913l27.7 13.4M525.8 913.2l-9.6 22.2M520.6 924.9l28.2 12.2M535.2 917.4l-5.2 11.6M544.6 921.5l-5.2 11.7M531.9 929.8l-4.9 10.4M527.3 927.8l-4.5 10.6M541.8 934.2l-4.5 10.6M516 935.3l28 12.7M515.9 935.3l-12.7 29.3M529.3 941.3l-12.4 29.4M511.6 945.1l13.6 5.8M507.3 954.8l13.6 5.8M524.6 939.2l-4.1 9.8M516.2 958.7l-4.6 9.6M525.1 951.1l14.7 6.4M520.8 960.8l14.6 6.4M502.9 964.6l28.4 11.9M503 964.5l-8.1 17.9M495 982.4l28.1 12.6M498.7 994.4l20.5 9.2M503.7 986.3l-4.2 8.4M517 992.2l-3.7 8.7M512.1 990l-4.1 8.5M594.4 835l-5.7 12.9M592.2 839.7l21.4 9.1M602.5 837l-3 5.9M602.2 838.4l13.3 6.1M609.1 839.3l-0.8 1.9M608.7 841.4l-2.1 4.6M603.2 844.5l-3.7 8.2M588.5 848l21.5 8.8M588.8 847.9l-12.6 26M581.3 864.1l21.4 9.2M595.7 851l-7.3 16.2M602.7 854.2l-7.2 16.1M595.4 870.3l-4.5 10.1M586.8 866.5l-4.6 10.1M576.8 874.3l21.5 8.9M576.8 874.2l-10.7 24.9M590.6 880.3l-11.1 24.7M582 876.5l-10.9 24.8M572.6 883.8l5.2 2.3M568 894.2l5.2 2.3M579.3 882.7l8.5 3.9M576.6 888.9l8.4 3.9M573.8 895.1l8.5 3.8M583.6 896.1l7.4 3.4M587.2 887.9l7.5 3.2M565.9 898.8l20.9 10M565.8 898.9l-11.8 26.8M572.9 902.1l-11.8 26.8M580 905.3l-12.1 26.6M553.9 925.8l21.3 9.1M553.9 925.7l-9.6 22.2M547.8 939.5l21.1 9.7M551.4 931.4l21 9.8M564.4 930.4l-2.6 5.7M558.4 934.6l-3.7 8.1M565.5 937.8l-3.5 8.1M558.7 944.5l-3.5 8.3M552.2 941.6l-3.6 8.2M544.1 947.8l21.2 9.5M544.2 947.9l-13.7 28.8M537.8 962l21.1 9.6M552.6 951.6l-6.2 14.3M541.3 954.1l8.6 3.8M550.4 956.8l12.6 5.5M556.7 953.5l-2.3 5.1M549.7 967.4l-6.7 14.9M534 970.4l12 5.3M544.4 965l-3.7 8.3M546 975.7l9.1 4.4M531 977.1l21.5 8.9M531.1 977l-8.1 17.9M523.2 994.8l20.9 10M523.1 994.9l-6.7 15.1M616.4 842.5l-6.6 14.8M614.9 845.9l27.6 11.8M627.8 851.5l-5.2 11.5M611.5 853.5l12.7 5.9M621 848.5l-3.5 7.8M624.7 858.5l16.4 7.4M634.1 854.3l-2.9 7.1M632.4 862l-2 4.5M609.9 857.1l28.9 13.8M609.8 857.3l-11.9 26.3M601.7 875.5l29.1 13.4M630.3 866.4l-8.5 18.1M605.8 866.2l20.6 8.8M620.9 862.3l-3.8 8.9M614.9 859.6l-3.8 8.9M615.3 870.4l-3.9 9.5M619.8 883.6l-3.7 8.1M627.2 886.9l-3.6 8.1M598.1 883.5l29 13.8M598.1 883.7l-11.2 24.6M594.4 891.9l29.3 12.9M590.8 900.1l29 13.4M587.1 908.4l29.2 13.2M587.2 908.5l-12.6 26.4M575.2 935.1l29.1 13.2M575.1 935.1l-9.7 22.2M581 937.7l-9.9 22.2M586.9 940.4l-10.2 22M592.6 942.9l-9.3 22.4M598.5 945.6l-9.7 22.1M565.2 957.5l29.6 12.2M565.2 957.3l-12.8 29.2M580.4 964l-12.6 29.3M561 967l15.1 6.8M556.7 976.6l15 7.2M571.5 984.3l13.9 6.6M576.6 972.7l13.9 6.7M585.7 966.4l-3.7 8.9M574.4 977.6l13.9 6.7M581.1 974.9l-2.2 4.8M583.1 981.6l-2.9 6.6M581.1 988.6l-3.9 8.9M552.3 986.4l29.2 13.3M552.3 986.4l-8.1 17.9M568.3 993.6l-8.1 17.9M548.4 995.2l15.8 7.6M558 999.6l-4 9.1M565.6 999.5l13.3 5.9M563 1005.5l13.2 6M573.6 995.9l-2.3 6.2M570.2 1001.6l-2.5 6M572.3 1009.7l-2.7 5.9M544.4 1004.2l28.9 13.9M544.3 1004.4l-8.3 18.8M562.5 1012.5l-9.7 20.5M538 1018.5l17.9 8.5M556.5 1009.8l-6 14.4M540.7 1012.4l12.3 5.6M552.5 1008l-3.5 8.2M553.4 1016.9l5.8 2.6M544.4 1021.4l-2.7 6.1M536 1022.9l6.5 2.9M550.7 1033.4l1.9 0.9M550.9 1024.3l-2.5 5.8M644.1 859.3l-4.8 11.1M649.9 867.7l-2.8 6.2M641.8 864.3l8 3.4M639.1 870.4l17 7.4M639.2 870.4l-12.3 26.1M631.3 887.9l24.4 11.1M641.7 892.6l-3.7 8.8M646.3 894.6l-3.9 8.8M627.3 896.7l24.6 10.9M627.4 896.7l-11.4 24.6M616.3 921.4l24.6 11M616.3 921.4l-11.8 26.8M625.5 925.5l-12.3 26.6M613.3 928.2l9.2 3.7M610.4 934.8l9 4.1M607.4 941.5l9.1 4M621.4 934.4l15.6 6.8M633.7 929.2l-4.1 8.8M618 942l15.4 7.2M626.5 945.9l-4.7 10M604.4 948.3l24.7 10.5M604.5 948.2l-10.1 22.1M610.7 951l-10.4 21.9M616.8 953.7l-10.3 21.9M622.7 956.3l-9.4 22.4M594.5 970.5l24.8 10.2M594.5 970.3l-12.8 29.2M586.3 988.8l24.5 11.1M605 974.9l-8.2 18.6M590.7 979.1l10.4 4.7M614.5 979.2l-7.9 18.7M609.6 990.4l4.5 2M611.9 985.2l4.5 2.1M595.4 992.9l-4.7 10.6M603.8 996.6l-4.5 10.7M581.6 999.5l24.5 10.9M581.6 999.5l-8 17.9M577.7 1008.2l24.4 11.2M585 1011.5l-3.8 9.3M594.6 1015.8l-4.2 9.1M573.6 1017.5l24.6 10.7M573.5 1017.4l-9 20.8M565.8 1035l11.4 4.9M661.1 886.9l-9.1 20.8M660.7 887.8l3.8 1.8M657.7 894.5l11.5 4.9M654.8 901.1l13.4 5.8M664.4 897.4l-2.9 6.6M669.1 904.7l-1 2.2M669.7 910.3l-2 4.4M664.2 905.2l-3 6.6M652 907.5l16.9 8M651.9 907.6l-11.2 24.7M647.5 917.4l23.1 9.8M667.3 914.5l-4.1 9.8M659.5 911l-4.2 9.8M670.9 925.4l-0.8 2M664.9 925l-6.1 15.4M657.1 921.6l-6.6 15M644.5 924.3l9.6 4.2M653.6 929.5l7.9 3.5M640.8 932.4l26.8 11.7M640.9 932.4l-12.2 26.6M651.8 937.3l-12.1 26.6M633.5 949l10.9 4.8M635.9 943.4l10.9 5M645.3 951.7l15.8 7.1M661.7 941.7l-6.3 14.5M649.6 942.1l9.9 4.6M659.6 946.4l5.8 2.7M642.2 958.9l15.6 7.2M656.3 956.6l-3.1 7.2M651.9 963.3l-2.2 5M628.9 959.2l26.8 11.6M629 959.1l-9.9 22.2M619.2 981.1l26.4 12.4M619 981.2l-12.4 29.4M612.1 997l26.5 12.3M635.1 988.4l-7 15.8M626.5 984.5l-7.4 15.7M614.8 990.9l7.4 3M631.7 996.1l10.7 4.7M606.2 1010.3l26.4 12.4M606.1 1010.4l-7.9 18M617.7 1015.6l-7.4 18.2M601.3 1021.2l11.7 5.3M613 1013.5l-4.8 10.8M608.8 1024.5l-3.1 7.2M613.5 1025.4l14.9 6.7M627.5 1019.9l-4.1 9.9M619.2 1028l-3.5 8.2M598.2 1028.3l26.5 12.2M598 1028.3l-4.8 11.4M595.7 1033.9l13.3 6M607.8 1032.7l-2.5 5.5M618.8 1037.5l-0.8 1.9M612.2 1034.6l-1.6 3.8M671.2 936.7l-3.2 7.7M667.5 944.3l3.9 1.7M667.7 944.3l-12.4 26.5M655.7 970.9l26.7 12.1M655.7 971l-10.1 22M664.5 974.9l-9.6 22.3M673.6 979l-10.3 21.9M645.8 993.1l26.8 11.9M645.9 993.2l-13.6 28.9M661.3 1000l-12.5 29.4M641.6 1002.7l15.6 6.9M656 997.7l-4.3 9.5M657.1 1009.8l11.1 5.1M652.8 1019.5l11.1 5M632.8 1022.3l26.9 11.8M632.9 1022.3l-8.3 17.8M630 1028.7l26.5 12.4M645.9 1028.1l-3 6.5M639.2 1025.1l-2.9 6.5M650.7 1030.3l-2.8 6.5M628 1033l27.1 11.2M647.7 1036.7l-1.8 4.1M641.9 1034.1l-1.8 4.1M634.2 1030.7l-1.8 4M644.8 1040.3l-0.8 1.8M639.2 1037.8l-1.7 3.6M631.5 1034.4l-2.4 5.5M624.8 1040.2l1.9 0.9M682.5 982.8l3.8 1.8M682.5 982.9l-10.1 22.1M687.5 987.4l-9.6 20M693.1 989.9l-8.9 20.3M698.1 994.3l-8.4 18.4M672.6 1005.1l19.2 8.5M672.7 1005.1l-13.5 28.9M659.6 1034.3l21.2 9.2M659.5 1034.2l-4.2 10M669.8 1038.8l-3.4 8M656 1042.3l10.3 4.6M678.5 1042.6l-2.7 6" stroke="#e4dccb" stroke-opacity="0.8"/><path d="M619 1046.7l-0.1 2.1M626.2 1042.9l-0.3 6.1M619.4 1048.8l14.9 0.6M624.2 1049l-0.8 27.9M623.9 1060.4l10 0.4M623.7 1065.8l10 0.3M614.2 1076.5l19.1 0.6M634.4 1043.1l-0.3 6.2M644.7 1045.5l-0.2 4.2M651.5 1045.8l-0.1 4.1M634.3 1049.2l29.5 1.6M634.3 1049.3l-1.1 27.9M644.1 1049.7l-1.4 27.9M633.7 1065.6l9.7 0.3M634 1057.9l9.7 0.6M633.3 1077.2l29.5 1.1M633.2 1077.2l-0.4 19.2M650.8 1077.8l-0.6 25.6M655.4 1107.5l6.4 0.2M689.5 1026.3l4.1 0.2M663.5 1048.3l-0.1 2M687.1 1034.2l6.3 0.4M682.9 1042.9l10.2 0.2M686 1033.9l-0.2 9.2M680.9 1049l0 2M663.8 1050.4l29 0.8M663.9 1050.4l-1.4 27.9M673.4 1050.7l-1 27.9M663.4 1060l9.7 0.1M663.1 1068l9.7 0.5M680.5 1050.9l-1 27.9M672.9 1066.6l7 0M679.9 1066.7l12.3 0.5M662.8 1078.2l29 1.3M662.8 1078.3l-1.2 29.7M661.7 1108.2l29.1 0.4M661.7 1108l-0.1 2M669 1108.3l-0.1 4M676.3 1108.5l-0.2 4.1M683.5 1108.8l-0.1 4M703.9 995.3l-0.3 7M712.9 998l-0.2 4.6M698.7 1002.2l23.3 0M694.1 1012.2l-0.4 14.3M694 1016.3l27.4 1.4M710.2 1002.5l-0.9 14.5M704.2 1002.3l-0.4 14.5M703 1016.7l0.1 10.1M711.3 1017l-0.6 10.1M693.6 1026.5l27.5 0.7M693.6 1026.5l-0.7 24.9M711.6 1027.1l-0.2 24.9M693.2 1040.4l18.1 0.5M704.8 1040.8l-0.2 11M711.2 1043.6l9.3 0.4M711.4 1037.1l9.4 0.2M692.8 1051.3l27.4 1.1M692.8 1051.4l-1.1 27.9M705.8 1051.8l-0.4 28M705.4 1067.1l14.3 0.7M711.1 1052l-0.9 15.3M714.1 1067.4l-0.3 12.6M691.8 1079.2l27.4 1.3M691.8 1079.3l-1 29.7M690.8 1108.9l27.4 1.4M690.8 1109l-0.2 4.1M703.3 1109.5l-0.1 4.4M712 1109.8l0 4.4M722.4 998.8l0 4.1M731.1 999.1l-0.2 4.1M722 1003l28.5 0.5M722 1002.9l-1 24.5M721.6 1011.9l28.5 0.6M728.8 1012.1l-0.7 15.6M736 1012.3l-0.9 15.6M743.1 1012.6l-1 15.6M721.1 1027.1l28.4 2.5M721.1 1027.4l-0.8 24.9M739.6 1028.1l0.3 24.9M720.7 1038.1l18.8 0.9M732.3 1027.8l-0.7 10.7M729.3 1038.5l-0.5 14.1M720.2 1052.2l28.5 1.5M720 1052.3l-0.1 28M739.3 1053l-1.1 27.9M729.2 1052.6l-1.8 27.9M719.8 1064l8.8 0.5M719.5 1073.7l8.8 0.3M728.7 1061.5l10.3 0.4M738.9 1064.4l9.4 0.3M738.7 1069.4l9.4 0.5M719.3 1080.2l28.4 1.1M719.3 1080.2l-1.2 29.8M738.9 1080.9l-0.8 29.8M738.6 1090.8l8.8 0.4M738.3 1100.7l8.7 0.6M718.2 1110l28.5 1M718.3 1110l-0.2 4M736.1 1110.6l-0.2 4M726 1110.3l-0.1 4M750.4 999.8l-0.1 4.1M760.9 1000.2l-0.1 4.1M750.4 1003.9l18 0.7M750.6 1003.9l-1.5 24.5M749.9 1019.2l18 0.3M760 1004.3l-0.5 15.1M758.7 1019.4l-0.5 9.3M749.6 1028.4l18 0.7M749.5 1028.4l-0.5 24.9M748.7 1053.4l18 0.2M748.8 1053.3l-1.4 27.9M758.5 1053.7l-1.2 27.9M748.3 1065.8l9.7 0.2M757.9 1068.1l8.3 0.4M747.7 1081.1l18 1.2M747.9 1081.2l-1.7 29.8M754.3 1081.5l-2.2 29.7M747.4 1090.8l6.3 0.2M747.1 1099.4l6.3 0.3M753.4 1099l11.7 0.5M753.9 1087.2l11.6 0.3M746.7 1111l18 0.5M746.7 1111l-0.1 4M768.6 1000.4l-0.2 4.2M768.4 1004.5l25.5 1M768.5 1004.6l-1.1 24.4M781.7 1005l-0.7 24.5M781.3 1018.4l12.2 0.6M767.6 1029.1l25.5 0.7M767.6 1029l-0.9 24.9M778.1 1029.4l-1.4 24.9M783.3 1029.6l-0.9 24.9M777.4 1045.5l5.3 0.1M777.8 1036.8l5.2 0.1M783 1037.9l9.8 0.3M782.7 1047.7l9.7 0.5M766.7 1053.9l25.5 1.3M766.8 1054l-1.4 27.8M776.8 1054.3l-0.6 27.9M766.2 1069.5l10.1 0.2M776.2 1072.8l15.4 0.4M765.7 1081.7l25.5 1.5M765.7 1081.9l-0.8 29.7M765.1 1101.1l21.2 1.2M783.6 1082.5l-1 19.4M775.8 1082.2l-0.6 19.4M775.5 1089.6l7.8 0.3M783.1 1095.7l7.7 0.2M778.3 1101.7l-0.2 6.2M764.7 1111.4l6.4 0.5M764.7 1111.6l-0.1 4M794.1 997.2l-0.4 8.2M800.6 995.4l-0.4 10.3M810.5 993.7l-0.4 12.3M800.5 997.5l9.9 0.2M810.4 998.1l4.8 0.2M793.9 1005.5l21 0.5M793.9 1005.4l-0.8 24.5M807.4 1005.9l-0.7 24.5M793.5 1017.1l13.5 0.9M807.1 1014.2l7.5 0.3M806.8 1024.4l7.5 0.3M793.1 1030.1l21 0.2M793.1 1029.9l-0.8 24.9M792.5 1046.1l21 0.7M805.2 1030.4l-0.7 16.1M792.7 1039.9l12.1 0.7M805 1035.7l8.9 0.4M799.5 1046.3l-0.3 8.8M792.2 1054.8l21 1M792.2 1054.8l-1 27.9M806.7 1055.3l-1.3 27.9M791.9 1064.1l14.4 0.6M791.6 1073.4l14.4 0.6M806.3 1064.6l6.5 0.3M806 1074l6.5 0.2M791.2 1082.6l21 1.5M791.2 1082.8l-0.6 17M797.7 1083l-0.2 12.7M790.7 1098.2l2.2 0.1M803.3 1083.2l-0.4 8.5M803.1 1088.5l6.7 0.2M815.3 993.8l-0.5 12.4M815.2 997.9l6.7 0.4M814.9 1006.1l10.3 0.5M814.9 1006.2l-0.8 24.5M814.5 1016.9l14.4 0.6M823.8 1006.5l-0.3 10.7M829.6 1015.3l-0.1 2.2M823.6 1017.2l-0.9 13.8M835.5 1029.1l-0.1 2.3M814 1030.6l20.6 0.9M814 1030.7l-0.7 24.9M826 1031.1l-1.3 24.9M830.7 1031.3l-1.6 24.8M825.4 1045.4l4.6 0.2M830.2 1039.3l8.3 0.4M829.9 1048.7l8.2 0.1M813.2 1055.8l22.6 0.1M813.1 1055.6l-0.7 27.9M822 1055.9l-0.6 25.8M831.1 1056.2l-0.9 19.3M812.2 1083.4l6.2 0.3M812.3 1083.5l-0.2 4.2" stroke="#d0dacc" stroke-opacity="0.85"/></g>
<ellipse cx="146.5" cy="1062.5" rx="7" ry="5" fill="#f4f8fb" transform="rotate(-20 146.5 1062.5)"/>
<g fill="none" stroke="#737373" stroke-width="3" stroke-linejoin="round" stroke-linecap="round">
<path d="M24 932.6L43.8 940L63 952L82 963.8L115.3 979.3L163 1000.8L205.9 1013.9L250 1022L260 1024.9L270 1028L282 1027L292 1026.6L302 1027L310.6 1024.7L319.5 1024.5L327.7 1026.4L336.2 1024.7L344.4 1027L352.6 1025.3L361 1024.8L369 1022L377.2 1019.9L385.7 1020.5L394 1019.5L401.6 1016L409.2 1013.1L416.5 1009.5L429.8 1012.8L443 1016L454.6 1012.8L466.2 1007.8L472.9 1011L486 1011L496 1007.8L506 1006L512.7 997.8L518.9 994.1L526 992.9L532.9 990.8L540 989.5L544.8 986.8L553.7 978L560.7 974L567 969L570.2 962.2L573.7 955.6L579.8 951.7L585 946.7L591.1 941.4L598.3 937.8L599.8 930.9L602.7 924.4L608.7 919L616 915.5L629.5 915.5L636.2 913.3L642.8 911L650.2 906.5L656 900L660.7 893.5L665 886.6L672 885.1L678.5 882L687.3 879.5L696.3 877.7L709.7 875.4L718.6 882L727.5 888.8L738.6 891"/>
<path d="M246.3 721.5L237.6 736.8L228.9 767L218 802L202.8 841L192 860.8L150.5 902L107 941L82 963.8"/>
<path d="M366 721.5L342 771.6L320.3 823.8L298.5 867.3L283.3 897.8L268 932.6L250 971L227.3 994.8L208.3 1013.9L191.6 1028L184.4 1047L177.3 1083L174.9 1130.7L174.9 1170L175.5 1215L172 1250L165 1275L159 1294"/>
<path d="M192 860.8L283.3 897.8"/>
<path d="M82 963.8L76 999.6L67.7 1047L55.7 1106.8L41.4 1154.5L34.3 1170L25 1215"/>
<path d="M801 721.7L785.4 781.8L767.6 830.9L747.5 879.9L738.6 891L732 906.6L714 937.8L700.7 969L705 986.8L714.6 1002L719.6 1022L723.3 1072L728.3 1121.7L730.7 1159L733.5 1199"/>
<path d="M394 1019.5L420 1037L450 1053L482 1069.5L491.4 1068.6L500.8 1071L510.1 1068.3L519.5 1069.5L528 1073.9L537 1077L551.8 1079.5L559 1072L574 1074.5L583 1074.4L591.6 1077L598.4 1082.7L604 1089.5L610.6 1095.8L619 1099.4L624 1108L626.4 1117.2L626.6 1126.7L628.5 1136L633 1145L642.6 1150.9L652 1157L658.3 1162.2L664.3 1167.7L670.5 1173L677.4 1178.6L682.1 1186.4L689 1192L699.2 1196.7L708 1203.6L717.2 1202.7L726.5 1203.6L735.8 1199L745.4 1199L754.6 1201.3L763.8 1203.6L773.2 1205.6L782.2 1209.5L791.8 1210.6L799.1 1217.3L805.8 1224.6L814.6 1228.1L822.5 1233.1L829.5 1239.8L838.4 1243"/>
<path d="M176 1228L192.3 1226L209.8 1219.8L219.7 1217.3L229.7 1221L242 1217.3L252 1218.6L264.5 1212.3L272 1207.4L284.4 1206L294.3 1209.9L309.3 1212.3L334 1216L371.4 1222.3L400 1227L446.6 1234L516.6 1241L586.6 1245.6L596 1250L610 1257L619 1262L628.5 1271L638 1272.6L647 1276L655.5 1277.3L662.4 1282.7L670.5 1285L684.5 1287.5L692.6 1279.9L703 1276L710.9 1274.5L718.5 1272L726.5 1271L735.2 1266.6L745 1266.6L756.8 1266.6L768.5 1266.6L777.6 1263.3L787.1 1264.5L796.5 1264L806.1 1263.1L815 1266.6L826.7 1264.5L838.4 1266.6"/>
<path d="M411.7 1229L414 1294.6"/>
</g>
</g>
<path d="M73 713.5V719M73 1297V1303M169 713.5V719M169 1297V1303M265 713.5V719M265 1297V1303M361 713.5V719M361 1297V1303M457 713.5V719M457 1297V1303M553 713.5V719M553 1297V1303M649 713.5V719M649 1297V1303M745 713.5V719M745 1297V1303M841 713.5V719M841 1297V1303M18 720.3H23.2M842.5 720.3H848.5M18 816.3H23.2M842.5 816.3H848.5M18 912.4H23.2M842.5 912.4H848.5M18 1008.4H23.2M842.5 1008.4H848.5M18 1104.5H23.2M842.5 1104.5H848.5M18 1200.5H23.2M842.5 1200.5H848.5M18 1296.6H23.2M842.5 1296.6H848.5" stroke="#555" stroke-width="1" fill="none"/>
<rect x="24.7" y="720.4" width="816.3" height="575.1" fill="none" stroke="#6e6e6e" stroke-width="3"/>
<g font-size="11" fill="#000" text-anchor="middle" stroke="#000" stroke-width="0.25"><text transform="translate(537.8,884.7) rotate(-30)" y="4">60.4</text><text transform="translate(662,886.3) rotate(60)" y="4">50.4</text><text transform="translate(610.8,937.7) rotate(60)" y="4">90.4</text><text transform="translate(481.4,975.8) rotate(80)" y="4">50.4</text><text transform="translate(673.7,965.9) rotate(90)" y="4">50.4</text><text transform="translate(561,1012.3) rotate(20)" y="4">70.4</text><text transform="translate(577.6,1028.9) rotate(5)" y="4">60.4</text><text transform="translate(707,1009.8) rotate(30)" y="4">40.4</text><text transform="translate(733,1012) rotate(0)" y="4">30.4</text><text transform="translate(745.7,1004.8) rotate(-10)" y="4">20.4</text><text transform="translate(683.5,1073) rotate(10)" y="4">30.4</text><text transform="translate(782,1095.6) rotate(-5)" y="4">20.4</text><text transform="translate(740.7,1110.5) rotate(25)" y="4">10.4</text><text transform="translate(702,1114) rotate(-10)" y="4">0.4</text><text transform="translate(459.8,1037) rotate(-80)" y="4">40.4</text><text transform="translate(468.5,1059.6) rotate(-75)" y="4">30.4</text><text transform="translate(581.7,1069.5) rotate(0)" y="4">20.4</text><text transform="translate(544.4,1080.7) rotate(10)" y="4">10.4</text><text transform="translate(454.8,1135.5) rotate(-50)" y="4">20.4</text><text transform="translate(446,1131) rotate(-50)" y="4">30.4</text><text transform="translate(438,1127) rotate(-50)" y="4">40.4</text><text transform="translate(430,1122) rotate(-50)" y="4">50.4</text><text transform="translate(412,1118) rotate(0)" y="4">60.4</text><text transform="translate(317,961) rotate(-30)" y="4">20.4</text><text transform="translate(361.8,991) rotate(-60)" y="4">20.4</text><text transform="translate(253.6,987) rotate(-70)" y="4">20.4</text><text transform="translate(262,984) rotate(-70)" y="4">30.4</text><text transform="translate(292,976) rotate(10)" y="4">40.4</text><text transform="translate(225,1014.5) rotate(15)" y="4">0.4</text><text transform="translate(289.7,1060.5) rotate(35)" y="4">90.4</text><text transform="translate(339.4,1037) rotate(0)" y="4">50.4</text><text transform="translate(339.4,1046) rotate(0)" y="4">60.4</text><text transform="translate(337,1056) rotate(-80)" y="4">50.4</text><text transform="translate(324.5,1131.4) rotate(-70)" y="4">90.4</text><text transform="translate(94.6,1053) rotate(-60)" y="4">0.4</text><text transform="translate(79.7,1083) rotate(40)" y="4">10.4</text><text transform="translate(78.5,1105.5) rotate(45)" y="4">20.4</text><text transform="translate(144.4,1082) rotate(-55)" y="4">10.4</text><text transform="translate(139,1112) rotate(-70)" y="4">20.4</text><text transform="translate(146,1114) rotate(-70)" y="4">30.4</text><text transform="translate(153,1116) rotate(-70)" y="4">40.4</text><text transform="translate(222,1043) rotate(10)" y="4">60.4</text><text transform="translate(232,1050) rotate(10)" y="4">40.4</text><text transform="translate(199,1168) rotate(58)" y="4">90.4</text><text transform="translate(152,1187) rotate(20)" y="4">90.4</text><text transform="translate(110,1138) rotate(30)" y="4">60.4</text><text transform="translate(106,1146) rotate(30)" y="4">80.4</text></g>
<g class="b" font-size="36" fill="#000">
<text x="170" y="842">El Cerrito</text>
<text x="427" y="817">Cuadro Nac.</text>
<text x="132" y="935.5">Ciudad</text>
<text x="685" y="960.5">La Llave</text>
<text x="560" y="1058.5">Goudge</text>
<text x="350" y="1172">Cañada Seca</text>
<text x="33" y="1152">R.Caida</text>
<text x="212" y="1276">Malvinas</text>
</g>
</g>
<g id="legend">
<rect x="866.8" y="754.2" width="34.4" height="50.2" fill="#ff0000" stroke="#3a2a10" stroke-width="0.9"/>
<rect x="866.8" y="804.5" width="34.4" height="50.2" fill="#ff1a00" stroke="#3a2a10" stroke-width="0.9"/>
<rect x="866.8" y="854.7" width="34.4" height="50.2" fill="#ff3300" stroke="#3a2a10" stroke-width="0.9"/>
<rect x="866.8" y="905" width="34.4" height="50.2" fill="#ff4c00" stroke="#3a2a10" stroke-width="0.9"/>
<rect x="866.8" y="955.2" width="34.4" height="50.2" fill="#ff6600" stroke="#3a2a10" stroke-width="0.9"/>
<rect x="866.8" y="1005.5" width="34.4" height="50.2" fill="#ff8000" stroke="#3a2a10" stroke-width="0.9"/>
<rect x="866.8" y="1055.7" width="34.4" height="50.2" fill="#ff9900" stroke="#3a2a10" stroke-width="0.9"/>
<rect x="866.8" y="1106" width="34.4" height="50.2" fill="#ffb200" stroke="#3a2a10" stroke-width="0.9"/>
<rect x="866.8" y="1156.2" width="34.4" height="50.2" fill="#ffcc00" stroke="#3a2a10" stroke-width="0.9"/>
<rect x="866.8" y="1206.5" width="34.4" height="50.2" fill="#ffe600" stroke="#3a2a10" stroke-width="0.9"/>
<rect x="866.8" y="1256.7" width="34.4" height="50.2" fill="#ffff00" stroke="#3a2a10" stroke-width="0.9"/>
<g font-size="21.4" fill="#000">
<text x="907.6" y="812.1">100.4</text>
<text x="907.6" y="862.3">90.4</text>
<text x="907.6" y="912.6">80.4</text>
<text x="907.6" y="962.8">70.4</text>
<text x="907.6" y="1013.1">60.4</text>
<text x="907.6" y="1063.3">50.4</text>
<text x="907.6" y="1113.5">40.4</text>
<text x="907.6" y="1163.8">30.4</text>
<text x="907.6" y="1214">20.4</text>
<text x="907.6" y="1264.3">10.4</text>
<text x="907.6" y="1314.5">0.4</text>
</g>
<text x="870.2" y="731.9" font-size="72.6" fill="#000" stroke="#000" stroke-width="0.6">N</text>
<text x="870" y="690" font-size="72.6" fill="#000" stroke="#000" stroke-width="1.3" stroke-linejoin="miter" transform="translate(-138.74,-337.86) scale(1.1618,1.5038)">^</text>
</g>
</svg>
</body></html>
